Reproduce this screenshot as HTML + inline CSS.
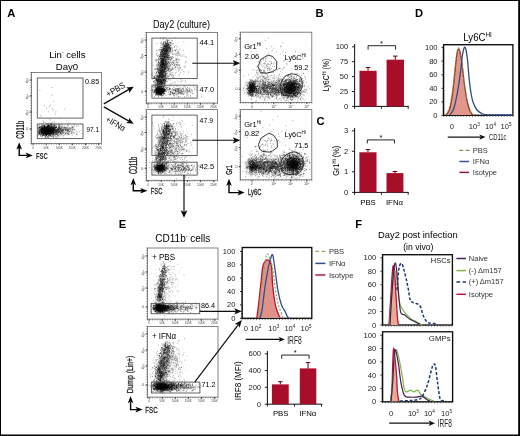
<!DOCTYPE html>
<html><head><meta charset="utf-8"><style>
html,body{margin:0;padding:0;background:#fff;}
svg{display:block;font-family:"Liberation Sans", sans-serif;}
</style></head><body>
<svg width="520" height="436" viewBox="0 0 520 436">
<defs><filter id="sf" x="0" y="0" width="520" height="436" filterUnits="userSpaceOnUse"><feGaussianBlur stdDeviation="0.32"/></filter></defs>
<rect width="520" height="436" fill="#fff"/>
<g filter="url(#sf)">
<text x="7.2" y="16.8" font-size="11.2" font-weight="bold" fill="#000">A</text>
<text x="315.6" y="17.1" font-size="11.2" font-weight="bold" fill="#000">B</text>
<text x="316.4" y="124.9" font-size="11.2" font-weight="bold" fill="#000">C</text>
<text x="415" y="17.1" font-size="11.2" font-weight="bold" fill="#000">D</text>
<text x="118.8" y="227.8" font-size="11.2" font-weight="bold" fill="#000">E</text>
<text x="355.3" y="227.6" font-size="11.2" font-weight="bold" fill="#000">F</text>
<text x="67.3" y="57.8" font-size="9.6" text-anchor="middle">Lin<tspan dy="-3.5" font-size="5">-</tspan><tspan dy="3.5"> cells</tspan></text>
<text x="67.0" y="69.9" font-size="9.6" text-anchor="middle">Day0</text>
<rect x="31.5" y="72.5" width="70.0" height="71.0" fill="none" stroke="#666" stroke-width="0.8"/>
<path d="M29.9 72.5h1.6M29.9 75.0h1.6M29.9 77.6h1.6M29.9 80.1h1.6M29.9 82.6h1.6M29.9 85.2h1.6M29.9 87.7h1.6M29.9 90.2h1.6M29.9 92.8h1.6M29.9 95.3h1.6M29.9 97.9h1.6M29.9 100.4h1.6M29.9 102.9h1.6M29.9 105.5h1.6M29.9 108.0h1.6M29.9 110.5h1.6M29.9 113.1h1.6M29.9 115.6h1.6M29.9 118.1h1.6M29.9 120.7h1.6M29.9 123.2h1.6M29.9 125.8h1.6M29.9 128.3h1.6M29.9 130.8h1.6M29.9 133.4h1.6M29.9 135.9h1.6M29.9 138.4h1.6M29.9 141.0h1.6M29.9 143.5h1.6M31.5 143.5v1.4M34.0 143.5v1.4M36.5 143.5v1.4M39.0 143.5v1.4M41.5 143.5v1.4M44.0 143.5v1.4M46.5 143.5v1.4M49.0 143.5v1.4M51.5 143.5v1.4M54.0 143.5v1.4M56.5 143.5v1.4M59.0 143.5v1.4M61.5 143.5v1.4M64.0 143.5v1.4M66.5 143.5v1.4M69.0 143.5v1.4M71.5 143.5v1.4M74.0 143.5v1.4M76.5 143.5v1.4M79.0 143.5v1.4M81.5 143.5v1.4M84.0 143.5v1.4M86.5 143.5v1.4M89.0 143.5v1.4M91.5 143.5v1.4M94.0 143.5v1.4M96.5 143.5v1.4M99.0 143.5v1.4M101.5 143.5v1.4" stroke="#555" stroke-width="0.5" fill="none"/>
<text x="28.3" y="81.6" font-size="3.4" fill="#333" text-anchor="middle" transform="rotate(-60 28.3 81.6)">10<tspan dy="-1.3" font-size="2.6">5</tspan></text>
<path d="M29.7 80.0h1.8" stroke="#222" stroke-width="0.9" fill="none"/>
<text x="28.3" y="97.6" font-size="3.4" fill="#333" text-anchor="middle" transform="rotate(-60 28.3 97.6)">10<tspan dy="-1.3" font-size="2.6">4</tspan></text>
<path d="M29.7 96.0h1.8" stroke="#222" stroke-width="0.9" fill="none"/>
<text x="28.3" y="113.6" font-size="3.4" fill="#333" text-anchor="middle" transform="rotate(-60 28.3 113.6)">10<tspan dy="-1.3" font-size="2.6">3</tspan></text>
<path d="M29.7 112.0h1.8" stroke="#222" stroke-width="0.9" fill="none"/>
<text x="27.3" y="130.2" font-size="3.6" fill="#333" text-anchor="middle">0</text>
<path d="M29.7 129.0h1.8" stroke="#222" stroke-width="0.9" fill="none"/>
<text x="33.1" y="148.7" font-size="2.9" fill="#444" text-anchor="middle">0</text>
<path d="M33.1 143.5v1.8" stroke="#222" stroke-width="0.8"/>
<text x="46.2" y="148.7" font-size="2.9" fill="#444" text-anchor="middle">50K</text>
<path d="M46.2 143.5v1.8" stroke="#222" stroke-width="0.8"/>
<text x="59.3" y="148.7" font-size="2.9" fill="#444" text-anchor="middle">100K</text>
<path d="M59.3 143.5v1.8" stroke="#222" stroke-width="0.8"/>
<text x="72.4" y="148.7" font-size="2.9" fill="#444" text-anchor="middle">150K</text>
<path d="M72.4 143.5v1.8" stroke="#222" stroke-width="0.8"/>
<text x="85.5" y="148.7" font-size="2.9" fill="#444" text-anchor="middle">200K</text>
<path d="M85.5 143.5v1.8" stroke="#222" stroke-width="0.8"/>
<text x="98.6" y="148.7" font-size="2.9" fill="#444" text-anchor="middle">250K</text>
<path d="M98.6 143.5v1.8" stroke="#222" stroke-width="0.8"/>
<path transform="scale(.1)" d="M514 1343h8M463 1285h8M414 1306h8M417 1268h8M468 1308h8M483 1281h8M460 1303h8M397 1319h8M473 1367h8M469 1301h8M512 1310h8M498 1295h8M469 1332h8M489 1308h8M415 1317h8M463 1324h8M469 1333h8M458 1310h8M488 1277h8M443 1292h8M543 1303h8M487 1321h8M448 1265h8M501 1294h8M490 1271h8M442 1338h8M520 1271h8M404 1304h8M491 1309h8M473 1279h8M485 1334h8M442 1268h8M428 1325h8M387 1303h8M418 1302h8M450 1305h8M523 1316h8M516 1301h8M440 1315h8M467 1273h8M480 1290h8M419 1291h8M454 1338h8M464 1304h8M476 1258h8M512 1277h8M478 1276h8M419 1295h8M540 1323h8M435 1298h8M412 1304h8M436 1324h8M403 1296h8M425 1286h8M490 1308h8M485 1336h8M508 1269h8M483 1259h8M457 1355h8M452 1295h8M467 1305h8M461 1285h8M505 1328h8M451 1313h8M488 1332h8M476 1323h8M449 1277h8M439 1331h8M501 1309h8M436 1313h8M530 1340h8M431 1304h8M399 1275h8M468 1306h8M501 1338h8M495 1339h8M437 1276h8M481 1375h8M475 1275h8M470 1342h8M417 1326h8M434 1338h8M493 1313h8M544 1294h8M431 1353h8M423 1362h8M458 1278h8M460 1308h8M468 1300h8M505 1245h8M437 1298h8M536 1253h8M446 1275h8M432 1322h8M477 1342h8M435 1312h8M509 1328h8M446 1334h8M421 1352h8M466 1302h8M471 1327h8M533 1301h8M445 1320h8M423 1261h8M495 1295h8M507 1278h8M467 1347h8M482 1313h8M485 1295h8M463 1270h8M482 1284h8M441 1323h8M498 1279h8M544 1290h8M495 1330h8M469 1309h8M535 1328h8M479 1258h8M429 1335h8M468 1280h8M433 1297h8M489 1315h8M502 1284h8M501 1292h8M447 1350h8M463 1301h8M451 1295h8M525 1341h8M490 1310h8M504 1303h8M479 1315h8M464 1348h8M534 1339h8M380 1353h8M489 1293h8M459 1335h8M509 1327h8M466 1306h8M495 1303h8M422 1289h8M454 1314h8M555 1269h8M480 1303h8M473 1340h8M512 1301h8M437 1270h8M457 1337h8M449 1323h8M490 1315h8M506 1302h8M425 1275h8M499 1296h8M447 1327h8M427 1351h8M488 1291h8M433 1333h8M410 1288h8M460 1310h8M461 1315h8M445 1302h8M513 1322h8M441 1350h8M488 1330h8M465 1295h8M485 1300h8M480 1231h8M476 1284h8M500 1324h8M491 1294h8M478 1296h8M469 1301h8M423 1356h8M490 1252h8M498 1269h8M450 1290h8M438 1311h8M446 1267h8M460 1314h8M534 1294h8M410 1295h8M487 1282h8M430 1319h8M460 1311h8M434 1284h8M446 1301h8M446 1316h8M483 1319h8M480 1282h8M413 1326h8M461 1308h8M411 1300h8M433 1283h8M434 1266h8M464 1335h8M430 1307h8M414 1322h8M538 1273h8M450 1342h8M475 1308h8M499 1342h8M487 1290h8M431 1258h8M415 1334h8M455 1270h8M515 1262h8M513 1297h8M474 1323h8M471 1338h8M461 1297h8M432 1267h8M431 1331h8M495 1341h8M575 1324h8M481 1271h8M450 1362h8M482 1301h8M473 1256h8M425 1271h8M501 1300h8M475 1279h8M479 1325h8M524 1346h8M480 1302h8M425 1289h8M486 1320h8M461 1348h8M487 1305h8M452 1307h8M420 1280h8M475 1290h8M449 1337h8M452 1339h8M460 1344h8M480 1259h8M512 1300h8M467 1271h8M434 1319h8M519 1335h8M511 1334h8M468 1235h8M492 1328h8M427 1295h8M421 1305h8M458 1305h8M417 1315h8M446 1330h8M473 1266h8M399 1307h8M440 1317h8M494 1306h8M389 1274h8M484 1278h8M507 1303h8M482 1282h8M456 1228h8M451 1320h8M422 1283h8M458 1307h8M426 1323h8M391 1334h8M401 1284h8M516 1279h8M391 1307h8M421 1276h8M431 1286h8M419 1278h8M528 1288h8M501 1268h8M483 1272h8M441 1322h8M438 1254h8M437 1301h8M484 1279h8M447 1307h8M391 1302h8M425 1316h8M455 1301h8M444 1280h8M439 1272h8M467 1322h8M485 1291h8M531 1327h8M420 1301h8M392 1302h8M490 1338h8M442 1258h8M453 1340h8M466 1338h8M495 1346h8M485 1288h8M479 1371h8M438 1257h8M548 1316h8M434 1289h8M395 1323h8M466 1289h8M442 1294h8M505 1300h8M518 1283h8M434 1292h8M437 1303h8M503 1336h8M415 1338h8M464 1346h8M453 1283h8M493 1321h8M441 1306h8M465 1313h8M388 1274h8M462 1312h8M438 1259h8M516 1297h8M416 1346h8M508 1332h8M495 1320h8M419 1306h8M475 1321h8M480 1279h8M435 1296h8M452 1282h8M383 1273h8M473 1305h8M484 1256h8M443 1328h8M390 1336h8M461 1290h8M466 1303h8M498 1335h8M498 1314h8M492 1326h8M509 1257h8M475 1307h8M467 1299h8M457 1318h8M468 1308h8M415 1272h8M429 1259h8M438 1283h8M385 1255h8M440 1290h8M551 1327h8M427 1292h8M418 1285h8M445 1304h8M434 1326h8M487 1356h8M405 1323h8M444 1263h8M447 1262h8M459 1376h8M515 1352h8M510 1265h8M477 1309h8M478 1278h8M510 1313h8M439 1310h8M408 1330h8M467 1301h8M442 1303h8M466 1295h8M500 1310h8M456 1283h8M511 1339h8M489 1257h8M445 1331h8M462 1338h8M442 1326h8M482 1241h8M443 1299h8M434 1282h8M527 1302h8M493 1270h8M477 1286h8M482 1326h8M441 1303h8M429 1333h8M534 1318h8M439 1287h8M448 1328h8M428 1343h8M409 1305h8M515 1351h8M443 1326h8M566 1335h8M560 1275h8M498 1251h8M527 1283h8M494 1329h8M474 1265h8M459 1280h8M516 1292h8M422 1322h8M511 1301h8M472 1318h8M439 1274h8M482 1296h8M403 1327h8M478 1309h8M428 1299h8M486 1318h8M425 1282h8M474 1310h8M496 1275h8M499 1351h8M500 1308h8M498 1272h8M441 1359h8M391 1275h8M495 1288h8M436 1276h8M531 1289h8M448 1258h8M492 1305h8M481 1346h8M466 1274h8M417 1307h8M515 1274h8M450 1301h8M488 1282h8M473 1325h8M458 1302h8M486 1320h8M513 1277h8M512 1299h8M412 1291h8M408 1300h8M503 1247h8M410 1325h8M447 1326h8M404 1304h8M491 1337h8M529 1304h8M423 1295h8M379 1340h8M509 1281h8M537 1270h8M484 1284h8M387 1315h8M411 1336h8M422 1308h8M440 1309h8M433 1326h8M486 1307h8M455 1356h8M431 1294h8M492 1305h8M391 1301h8M444 1279h8M468 1275h8M449 1275h8M526 1298h8M479 1312h8M490 1301h8M492 1308h8M406 1330h8M469 1295h8M411 1295h8M402 1357h8M479 1303h8M419 1296h8M450 1293h8M457 1326h8M386 1311h8M506 1269h8M452 1295h8M412 1330h8M446 1335h8M477 1298h8M472 1295h8M391 1342h8M475 1335h8M384 1332h8M495 1304h8M432 1300h8M462 1281h8M455 1305h8M521 1302h8M559 1274h8M454 1337h8M394 1321h8M477 1289h8M450 1345h8M441 1312h8M478 1336h8M404 1298h8M486 1327h8M448 1344h8M457 1323h8M428 1327h8M430 1335h8M496 1354h8M442 1275h8M495 1313h8M438 1270h8M494 1254h8M440 1333h8M449 1317h8M481 1320h8M504 1322h8M444 1273h8M448 1288h8M477 1337h8M493 1287h8M468 1305h8M440 1339h8M486 1314h8M409 1237h8M429 1335h8M451 1304h8M449 1317h8M460 1350h8M455 1298h8M520 1325h8M489 1319h8M458 1313h8M483 1308h8M381 1341h8M440 1290h8M446 1286h8M423 1303h8M497 1297h8M480 1270h8M492 1275h8M489 1286h8M435 1272h8M407 1299h8M419 1299h8M508 1283h8M447 1302h8M434 1304h8M470 1332h8M429 1299h8M453 1337h8M418 1309h8M492 1320h8M430 1278h8M382 1291h8M449 1266h8M495 1309h8M450 1291h8M480 1298h8M481 1293h8M504 1263h8M415 1352h8M504 1348h8M427 1324h8M502 1329h8M452 1343h8M477 1271h8M563 1308h8M513 1287h8M421 1328h8M495 1286h8M470 1270h8M412 1324h8M505 1315h8M524 1314h8M472 1305h8M478 1314h8M421 1304h8M444 1379h8M512 1284h8M485 1259h8M462 1352h8M463 1338h8M445 1317h8M476 1248h8M426 1354h8M425 1336h8M532 1304h8M502 1315h8M435 1320h8M478 1279h8M441 1270h8M446 1304h8M419 1256h8M488 1338h8M422 1307h8M432 1236h8M549 1313h8M401 1338h8M490 1342h8M491 1319h8M520 1298h8M470 1277h8M412 1310h8M470 1264h8M476 1331h8M407 1296h8M532 1283h8M484 1325h8M468 1309h8M484 1312h8M466 1267h8M470 1285h8M523 1363h8M507 1249h8M502 1308h8M414 1273h8M505 1288h8M457 1307h8M500 1235h8M512 1284h8M443 1321h8M475 1245h8M485 1301h8M417 1289h8M393 1325h8M522 1289h8M440 1267h8M430 1278h8M461 1350h8M504 1330h8M419 1327h8M430 1282h8M491 1302h8M564 1310h8M447 1324h8M411 1323h8M526 1301h8M438 1334h8M413 1315h8M438 1313h8M427 1321h8M484 1351h8M445 1316h8M386 1285h8M471 1269h8M455 1282h8M480 1321h8M440 1322h8M437 1308h8M482 1319h8M485 1349h8M433 1301h8M383 1328h8M413 1290h8M438 1316h8M448 1298h8M463 1296h8M459 1279h8M437 1273h8M496 1328h8M488 1314h8M435 1319h8M395 1240h8M410 1344h8M470 1345h8M430 1331h8M527 1331h8M472 1333h8M441 1351h8M412 1285h8M461 1285h8M534 1322h8M429 1349h8M517 1295h8M526 1336h8M439 1290h8M473 1335h8M526 1344h8M440 1259h8M389 1344h8M504 1336h8M460 1307h8M480 1317h8M463 1280h8M402 1309h8M453 1342h8M415 1253h8M530 1296h8M431 1315h8M525 1333h8M497 1329h8M448 1307h8M477 1352h8M476 1299h8M455 1298h8M420 1318h8M514 1296h8M478 1334h8M432 1303h8M405 1346h8M532 1300h8M544 1327h8M383 1318h8M471 1318h8M489 1293h8M508 1313h8M540 1302h8M483 1257h8M434 1284h8M499 1289h8M509 1292h8M500 1289h8M410 1320h8M450 1318h8M391 1278h8M445 1356h8M477 1261h8M474 1272h8M501 1327h8M550 1310h8M439 1326h8M403 1293h8M418 1290h8M406 1267h8M413 1315h8M461 1303h8M480 1325h8M480 1359h8M472 1315h8M439 1333h8M520 1228h8M494 1276h8M475 1307h8M407 1270h8M449 1373h8M408 1294h8M448 1298h8M507 1359h8M458 1316h8M446 1346h8M458 1323h8M452 1334h8M457 1283h8M540 1254h8M467 1296h8M422 1359h8M474 1294h8M423 1314h8M460 1299h8M432 1345h8M469 1300h8M407 1285h8M491 1285h8M487 1302h8M477 1314h8M442 1298h8M457 1322h8M561 1328h8M405 1363h8M455 1287h8M465 1304h8M471 1304h8M459 1338h8M531 1308h8M527 1329h8M510 1312h8M469 1326h8M420 1306h8M412 1329h8M469 1320h8M446 1285h8M500 1294h8M451 1306h8M480 1307h8M416 1278h8M503 1297h8M450 1282h8M499 1317h8M437 1260h8M536 1290h8M411 1292h8M412 1305h8M437 1274h8M489 1283h8M382 1314h8M437 1277h8M390 1287h8M435 1292h8M439 1338h8M505 1313h8M484 1293h8M399 1319h8M518 1287h8M431 1287h8M404 1319h8M414 1341h8M530 1307h8M458 1283h8M498 1307h8M397 1281h8M480 1292h8M478 1311h8M520 1302h8M505 1334h8M516 1296h8M472 1371h8M452 1289h8M465 1274h8M424 1294h8M448 1331h8M414 1300h8M471 1297h8M491 1363h8M415 1282h8M438 1291h8M437 1316h8M533 1369h8M457 1252h8M526 1305h8M443 1334h8M455 1299h8M423 1329h8M495 1283h8M436 1337h8M430 1294h8M428 1299h8M496 1307h8M502 1321h8M459 1262h8M493 1304h8M439 1318h8M500 1324h8M438 1304h8M563 1271h8M463 1306h8M523 1321h8M469 1297h8M512 1307h8M456 1309h8M489 1306h8M471 1326h8M430 1299h8M463 1323h8M484 1292h8M417 1295h8M439 1328h8M487 1307h8M415 1271h8M465 1321h8M476 1298h8M484 1254h8M508 1344h8M467 1311h8M451 1328h8M422 1290h8M477 1268h8M481 1317h8M459 1292h8M533 1291h8M466 1326h8M459 1332h8M460 1312h8M460 1322h8M433 1328h8M503 1278h8M397 1271h8M427 1323h8M463 1354h8M526 1265h8M444 1297h8M527 1325h8M499 1284h8M545 1276h8M461 1280h8M422 1312h8M422 1323h8M482 1306h8M487 1334h8M506 1275h8M487 1328h8M444 1295h8M511 1322h8M466 1342h8M499 1350h8M444 1331h8M530 1280h8M454 1296h8M480 1335h8M527 1301h8M474 1328h8M509 1298h8M517 1268h8M472 1269h8M441 1284h8M534 1348h8M493 1309h8M468 1324h8M482 1286h8M427 1319h8M555 1324h8M458 1302h8M479 1313h8M400 1345h8M479 1319h8M441 1334h8M503 1286h8M503 1286h8M383 1327h8M418 1291h8M421 1303h8M445 1309h8M480 1347h8M479 1318h8M481 1326h8M498 1312h8M411 1280h8M472 1297h8M443 1291h8M430 1333h8M493 1272h8M468 1305h8M441 1332h8M473 1307h8M424 1330h8M470 1312h8M431 1344h8M390 1271h8M417 1292h8M446 1310h8M517 1320h8M465 1301h8M476 1326h8M429 1350h8M459 1327h8M444 1340h8M503 1313h8M486 1297h8M422 1335h8M410 1291h8M411 1280h8M443 1327h8M419 1324h8M382 1283h8M424 1322h8M515 1245h8M463 1347h8M461 1348h8M509 1312h8M401 1288h8M525 1282h8M415 1293h8M513 1308h8M396 1289h8M488 1335h8M524 1318h8M480 1280h8M436 1270h8M454 1316h8M462 1281h8M484 1329h8M512 1249h8M483 1332h8M491 1306h8M470 1299h8M432 1279h8M593 1299h8M483 1319h8M498 1304h8M499 1357h8M433 1290h8M418 1296h8M409 1314h8M488 1336h8M514 1295h8M468 1284h8M463 1307h8M481 1303h8M415 1331h8M454 1269h8M388 1323h8M385 1322h8M523 1319h8M494 1320h8M435 1311h8M382 1321h8M487 1309h8M505 1301h8M389 1342h8M464 1289h8M438 1296h8M469 1272h8M465 1296h8M487 1297h8M487 1282h8M475 1297h8M505 1315h8M503 1293h8M435 1304h8M417 1298h8M513 1277h8M436 1307h8M528 1360h8M437 1293h8M471 1288h8M476 1312h8M483 1310h8M434 1321h8M459 1309h8M415 1307h8M458 1283h8M428 1294h8M460 1289h8M414 1307h8M410 1313h8M424 1300h8M506 1248h8M404 1292h8M454 1282h8M421 1289h8M418 1308h8M431 1301h8M462 1322h8M434 1294h8M477 1250h8M462 1282h8M496 1297h8M424 1332h8M437 1282h8M479 1255h8M453 1323h8M408 1329h8M447 1291h8M391 1341h8M515 1296h8M475 1256h8M463 1314h8M428 1288h8M451 1284h8M390 1324h8M496 1320h8M490 1331h8M447 1229h8M461 1290h8M412 1318h8M418 1274h8M559 1295h8M466 1320h8M484 1302h8M481 1302h8M441 1298h8M485 1322h8M478 1266h8M451 1318h8M444 1317h8M465 1335h8M504 1322h8M439 1299h8M445 1316h8M491 1290h8M504 1317h8M454 1288h8M464 1304h8M456 1298h8M472 1290h8M483 1259h8M463 1293h8M444 1312h8M434 1223h8M400 1300h8M448 1292h8M433 1322h8M460 1278h8M424 1329h8M464 1314h8M461 1310h8M438 1280h8M420 1282h8M533 1321h8M462 1302h8M393 1324h8M388 1331h8M439 1269h8M521 1280h8M449 1301h8M398 1316h8M405 1300h8M413 1345h8M462 1342h8M438 1311h8M482 1307h8M449 1334h8M475 1307h8M494 1235h8M417 1317h8M445 1298h8M399 1296h8M517 1292h8M419 1298h8M503 1288h8M392 1311h8M446 1309h8M389 1277h8M447 1314h8M532 1340h8M507 1329h8M503 1321h8M486 1295h8M440 1338h8M412 1290h8M451 1310h8M432 1293h8M427 1286h8M411 1367h8M409 1309h8M457 1321h8M447 1277h8M437 1297h8M399 1303h8M464 1267h8M405 1325h8M421 1288h8M435 1289h8M482 1311h8M547 1296h8M475 1287h8M499 1266h8M426 1299h8M575 1362h8M542 1305h8M396 1319h8M504 1288h8M541 1355h8M390 1295h8M449 1298h8M454 1306h8M449 1371h8M440 1274h8M509 1331h8M413 1282h8M424 1250h8M405 1317h8M405 1299h8M448 1290h8M480 1309h8M512 1314h8M435 1348h8M473 1318h8M472 1297h8M421 1337h8M429 1297h8M497 1331h8M461 1356h8M451 1365h8M517 1310h8M450 1334h8M390 1323h8M488 1346h8M518 1313h8M480 1280h8M483 1285h8M403 1350h8M534 1302h8M473 1367h8M404 1344h8M447 1321h8M457 1345h8M511 1301h8M510 1330h8M519 1278h8M496 1305h8M471 1265h8M550 1304h8M479 1267h8M452 1310h8M465 1276h8M475 1295h8M498 1276h8M509 1278h8M413 1317h8M486 1316h8M437 1298h8M422 1334h8M386 1274h8M411 1318h8M398 1326h8M389 1260h8M474 1316h8M445 1340h8M442 1292h8M452 1340h8M453 1354h8M518 1333h8M498 1339h8M480 1244h8M468 1302h8M411 1257h8M466 1277h8M460 1284h8M474 1280h8M470 1304h8M441 1298h8M471 1236h8M380 1308h8M461 1311h8M474 1280h8M514 1325h8M474 1299h8M430 1290h8M476 1308h8M494 1311h8M441 1335h8M401 1270h8M476 1292h8M400 1267h8M460 1340h8M519 1302h8M449 1284h8M539 1303h8M444 1325h8M508 1306h8M512 1272h8M479 1320h8M477 1322h8M467 1320h8M496 1276h8M423 1357h8M463 1312h8M476 1350h8M449 1284h8M471 1341h8M386 1302h8M443 1309h8M488 1313h8M394 1299h8M454 1304h8M504 1297h8M433 1301h8M461 1323h8M388 1270h8M457 1329h8M458 1311h8M533 1308h8M472 1304h8M501 1318h8M449 1323h8M479 1293h8M491 1358h8M414 1277h8M455 1300h8M470 1304h8M467 1334h8M514 1251h8M483 1306h8M483 1306h8M475 1299h8M433 1301h8M494 1306h8M457 1337h8M496 1282h8M427 1301h8M480 1332h8M389 1340h8M462 1311h8M495 1312h8M468 1331h8M509 1276h8M394 1278h8M471 1298h8M452 1292h8M425 1319h8M458 1313h8M483 1343h8M549 1290h8M514 1310h8M479 1334h8M436 1302h8M501 1321h8M536 1321h8M466 1302h8M485 1258h8M514 1314h8M434 1308h8M547 1272h8M565 1244h8M592 1297h8M533 1298h8M490 1332h8M472 1303h8M547 1271h8M551 1280h8M564 1296h8M585 1303h8M470 1332h8M580 1331h8M447 1275h8M566 1318h8M505 1300h8M529 1245h8M460 1271h8M572 1294h8M416 1301h8M502 1285h8M448 1280h8M535 1293h8M558 1342h8M503 1261h8M471 1307h8M557 1300h8M517 1311h8M580 1325h8M502 1288h8M518 1288h8M471 1334h8M529 1275h8M540 1275h8M471 1260h8M461 1291h8M532 1302h8M534 1306h8M497 1337h8M464 1276h8M621 1311h8M530 1378h8M465 1350h8M517 1299h8M470 1303h8M556 1304h8M496 1316h8M582 1306h8M498 1294h8M539 1288h8M589 1289h8M573 1300h8M556 1273h8M509 1277h8M480 1303h8M461 1360h8M603 1330h8M520 1288h8M434 1327h8M461 1303h8M489 1305h8M603 1302h8M510 1330h8M493 1250h8M481 1298h8M480 1332h8M579 1276h8M522 1311h8M499 1287h8M541 1293h8M610 1304h8M520 1310h8M530 1293h8M548 1328h8M530 1316h8M451 1293h8M524 1296h8M574 1315h8M518 1286h8M500 1297h8M602 1271h8M566 1294h8M600 1331h8M477 1314h8M449 1324h8M513 1275h8M517 1321h8M641 1328h8M538 1303h8M408 1263h8M402 1271h8M569 1340h8M533 1293h8M554 1370h8M527 1344h8M587 1282h8M526 1282h8M536 1293h8M473 1324h8M516 1298h8M563 1317h8M581 1356h8M457 1318h8M431 1330h8M616 1278h8M580 1324h8M539 1243h8M467 1294h8M523 1308h8M560 1308h8M511 1277h8M482 1299h8M631 1294h8M516 1332h8M560 1322h8M524 1350h8M491 1344h8M597 1312h8M493 1287h8M533 1250h8M584 1281h8M458 1319h8M523 1281h8M585 1272h8M491 1261h8M607 1321h8M448 1319h8M489 1281h8M511 1250h8M529 1305h8M594 1280h8M450 1278h8M491 1328h8M631 1321h8M541 1273h8M449 1271h8M553 1336h8M509 1269h8M558 1302h8M483 1261h8M428 1347h8M496 1313h8M544 1330h8M631 1300h8M580 1281h8M448 1304h8M422 1262h8M481 1322h8M508 1255h8M518 1289h8M494 1289h8M514 1326h8M545 1306h8M478 1261h8M615 1347h8M435 1315h8M540 1308h8M529 1293h8M591 1315h8M570 1313h8M530 1292h8M580 1254h8M588 1299h8M533 1290h8M429 1279h8M540 1292h8M544 1280h8M431 1301h8M498 1283h8M591 1254h8M526 1297h8M585 1308h8M537 1312h8M531 1299h8M512 1328h8M630 1277h8M532 1275h8M615 1353h8M532 1345h8M531 1272h8M609 1261h8M468 1338h8M564 1322h8M501 1285h8M461 1339h8M547 1366h8M542 1320h8M493 1292h8M545 1283h8M572 1335h8M457 1322h8M533 1311h8M503 1337h8M531 1323h8M539 1287h8M462 1351h8M606 1304h8M574 1342h8M596 1332h8M514 1324h8M495 1312h8M474 1260h8M475 1262h8M541 1324h8M543 1284h8M519 1269h8M541 1321h8M615 1277h8M513 1302h8M637 1312h8M543 1264h8M513 1366h8M588 1324h8M502 1280h8M532 1288h8M633 1290h8M496 1326h8M533 1280h8M455 1282h8M599 1289h8M512 1331h8M600 1328h8M540 1289h8M475 1310h8M518 1312h8M418 1267h8M560 1346h8M529 1271h8M550 1281h8M506 1298h8M558 1335h8M551 1278h8M573 1292h8M446 1331h8M614 1276h8M501 1289h8M497 1338h8M561 1310h8M529 1284h8M495 1286h8M550 1324h8M503 1325h8M478 1363h8M468 1290h8M516 1328h8M534 1281h8M549 1327h8M465 1246h8M549 1277h8M571 1356h8M584 1314h8M563 1301h8M478 1302h8M499 1312h8M463 1276h8M525 1308h8M523 1331h8M448 1323h8M507 1304h8M574 1309h8M565 1349h8M518 1254h8M495 1292h8M531 1283h8M527 1312h8M424 1349h8M490 1267h8M481 1326h8M676 1249h8M487 1337h8M486 1307h8M498 1304h8M535 1278h8M471 1265h8M531 1373h8M577 1302h8M584 1323h8M505 1287h8M527 1283h8M519 1317h8M458 1273h8M505 1283h8M515 1314h8M537 1324h8M524 1313h8M514 1307h8M516 1305h8M503 1314h8M561 1342h8M598 1326h8M490 1269h8M441 1296h8M529 1333h8M525 1305h8M460 1325h8M613 1293h8M625 1326h8M479 1323h8M532 1315h8M460 1315h8M564 1272h8M544 1340h8M536 1286h8M510 1326h8M548 1302h8M488 1285h8M511 1272h8M539 1359h8M510 1304h8M526 1322h8M507 1320h8M478 1275h8M491 1319h8M488 1285h8M531 1249h8M498 1240h8M489 1357h8M438 1336h8M490 1290h8M501 1359h8M491 1307h8M496 1298h8M556 1313h8M525 1286h8M529 1299h8M518 1307h8M494 1269h8M540 1255h8M564 1289h8M474 1334h8M487 1307h8M475 1316h8M536 1298h8M509 1262h8M576 1286h8M513 1291h8M531 1298h8M501 1296h8M530 1347h8M463 1333h8M524 1317h8M486 1332h8M557 1253h8M434 1351h8M491 1298h8M445 1304h8M522 1291h8M583 1299h8M561 1306h8M528 1297h8M491 1344h8M575 1337h8M487 1293h8M527 1295h8M550 1350h8M492 1293h8M444 1339h8M528 1314h8M486 1305h8M505 1286h8M546 1341h8M581 1296h8M671 1287h8M521 1268h8M506 1313h8M489 1302h8M471 1293h8M459 1292h8M413 1281h8M496 1300h8M581 1274h8M483 1327h8M474 1294h8M434 1218h8M626 1325h8M619 1302h8M448 1314h8M473 1311h8M539 1321h8M480 1308h8M538 1342h8M501 1357h8M551 1316h8M489 1314h8M550 1277h8M551 1312h8M506 1282h8M509 1323h8M604 1309h8M503 1324h8M567 1325h8M511 1237h8M529 1303h8M462 1306h8M470 1296h8M580 1288h8M402 1333h8M514 1305h8M430 1253h8M501 1290h8M527 1299h8M535 1293h8M537 1290h8M543 1322h8M443 1304h8M501 1304h8M610 1288h8M511 1311h8M412 1344h8M549 1300h8M565 1378h8M479 1342h8M604 1282h8M543 1269h8M533 1286h8M549 1294h8M581 1339h8M604 1302h8M505 1297h8M489 1302h8M470 1298h8M560 1332h8M540 1262h8M595 1356h8M563 1294h8M552 1302h8M442 1336h8M563 1319h8M554 1306h8M461 1347h8M504 1296h8M544 1260h8M509 1321h8M509 1239h8M529 1330h8M455 1369h8M529 1307h8M543 1333h8M533 1303h8M538 1272h8M619 1259h8M512 1284h8M527 1303h8M571 1303h8M507 1363h8M471 1305h8M502 1332h8M521 1339h8M484 1314h8M549 1306h8M535 1262h8M640 1296h8M722 1277h8M522 1359h8M725 1298h8M496 1283h8M628 1315h8M669 1336h8M648 1298h8M691 1347h8M633 1293h8M657 1308h8M609 1306h8M680 1345h8M671 1315h8M590 1260h8M598 1317h8M559 1315h8M563 1310h8M450 1315h8M653 1304h8M651 1276h8M615 1292h8M614 1303h8M620 1283h8M584 1254h8M595 1234h8M630 1357h8M582 1291h8M615 1315h8M654 1289h8M592 1315h8M635 1269h8M640 1351h8M506 1292h8M593 1274h8M531 1349h8M622 1315h8M668 1270h8M684 1286h8M674 1303h8M692 1319h8M609 1331h8M574 1321h8M529 1299h8M725 1328h8M554 1340h8M593 1315h8M590 1321h8M580 1342h8M593 1287h8M587 1266h8M651 1334h8M693 1317h8M602 1340h8M697 1286h8M537 1290h8M611 1334h8M676 1314h8M680 1296h8M605 1243h8M581 1297h8M681 1301h8M591 1307h8M591 1250h8M572 1299h8M599 1286h8M585 1320h8M524 1296h8M576 1297h8M614 1323h8M456 1298h8M544 1257h8M621 1306h8M568 1297h8M562 1342h8M712 1335h8M541 1323h8M631 1306h8M602 1296h8M576 1285h8M564 1369h8M644 1285h8M572 1318h8M718 1350h8M555 1267h8M574 1312h8M579 1288h8M734 1268h8M651 1299h8M576 1356h8M535 1311h8M601 1284h8M586 1306h8M765 1317h8M595 1265h8M624 1325h8M778 1260h8M525 1253h8M519 1336h8M604 1283h8M619 1301h8M602 1335h8M662 1293h8M684 1331h8M595 1291h8M588 1277h8M485 1335h8M692 1236h8M592 1277h8M587 1314h8M675 1317h8M653 1334h8M627 1335h8M664 1284h8M655 1292h8M672 1336h8M528 1320h8M554 1289h8M583 1318h8M650 1302h8M487 1317h8M679 1230h8M575 1287h8M625 1295h8M671 1292h8M557 1249h8M500 1297h8M648 1275h8M648 1292h8M662 1340h8M638 1277h8M672 1309h8M614 1314h8M651 1336h8M532 1337h8M625 1340h8M604 1326h8M668 1340h8M592 1344h8M581 1270h8M562 1267h8M695 1331h8M501 1297h8M626 1309h8M579 1284h8M661 1301h8M557 1311h8M571 1296h8M657 1297h8M762 1264h8M552 1347h8M623 1298h8M668 1298h8M553 1346h8M617 1309h8M621 1302h8M560 1275h8M512 1328h8M615 1297h8M523 1266h8M586 1312h8M600 1301h8M557 1325h8M627 1339h8M642 1275h8M572 1298h8M678 1305h8M610 1343h8M663 1321h8M506 1298h8M789 1317h8M761 1346h8M742 1251h8M725 1295h8M675 1326h8M681 1332h8M729 1288h8M677 1346h8M702 1309h8M709 1279h8M697 1295h8M643 1282h8M674 1308h8M716 1270h8M686 1302h8M678 1258h8M744 1300h8M697 1288h8M724 1290h8M712 1328h8M766 1341h8M670 1299h8M659 1273h8M655 1290h8M692 1276h8M706 1313h8M690 1279h8M741 1294h8M719 1274h8M732 1321h8M668 1273h8M694 1315h8M740 1328h8M673 1251h8M674 1301h8M727 1266h8M708 1291h8M728 1278h8M703 1291h8M720 1300h8M401 1156h8M489 1063h8M508 1233h8M441 1058h8M481 1118h8M550 1139h8M521 1088h8M527 1102h8M531 1013h8M644 1092h8M516 951h8M498 1051h8M461 1082h8M414 1173h8M395 904h8M514 875h8M556 1118h8" stroke="#000" stroke-width="8" stroke-opacity="0.5" fill="none"/>
<path transform="scale(.1)" d="M530 1278h8M565 1231h8M772 1325h8M390 1296h8M461 1238h8M596 1177h8M437 1290h8M463 1270h8M617 1274h8M581 1325h8M455 1254h8M608 1295h8M620 1365h8M429 1267h8M537 1218h8M423 1211h8M477 1274h8M633 1374h8M488 1264h8M523 1285h8M495 1328h8M593 1247h8M616 1333h8M463 1247h8M506 1245h8M426 1246h8M647 1329h8M526 1306h8M459 1246h8M556 1289h8M396 1321h8M596 1328h8M728 1260h8M489 1288h8M508 1227h8M477 1256h8M578 1261h8M510 1269h8M475 1313h8M463 1290h8M600 1264h8M589 1251h8M526 1214h8M580 1317h8M498 1206h8M475 1271h8M602 1178h8M522 1275h8M381 1297h8M579 1233h8M414 1232h8M463 1290h8M552 1253h8M545 1227h8M491 1200h8M613 1219h8M429 1337h8M578 1228h8M574 1380h8M524 1232h8M452 1339h8M458 1237h8M702 1203h8M434 1202h8M444 1251h8M537 1211h8M554 1245h8M614 1247h8M500 1193h8M665 1203h8M477 1262h8M503 1296h8M550 1300h8M675 1320h8M535 1237h8M461 1207h8M413 1350h8M509 1266h8M548 1239h8M527 1266h8M553 1230h8M485 1316h8M543 1233h8M530 1246h8M419 1267h8M519 1295h8M537 1286h8M446 1284h8M495 1253h8M513 1372h8M454 1259h8M506 1263h8M485 1291h8M424 1294h8M581 1246h8M662 1210h8M536 1275h8M525 1239h8M386 1283h8M562 1275h8M557 1282h8M519 1269h8M446 1262h8M497 1246h8M496 1222h8M532 1266h8M416 1264h8M633 1235h8M516 1230h8M469 1299h8M688 1298h8M725 1337h8M805 1235h8M552 1256h8M605 1332h8M665 1278h8M638 1265h8M723 1309h8M653 1237h8M615 1249h8M619 1322h8M600 1322h8M593 1365h8M648 1281h8M714 1330h8M590 1259h8M578 1320h8M614 1282h8M682 1270h8M687 1314h8M613 1268h8M741 1241h8M673 1361h8M623 1259h8M703 1299h8M597 1317h8M648 1348h8M709 1268h8M708 1313h8M645 1262h8M711 1308h8M599 1294h8M679 1333h8M772 1347h8M626 1335h8M584 1295h8M696 1290h8M619 1301h8M761 1320h8M602 1350h8M641 1301h8M674 1304h8M597 1284h8M645 1329h8M533 1329h8M761 1259h8M659 1282h8M570 1347h8M693 1354h8M760 1341h8M657 1327h8M693 1296h8M707 1283h8M653 1319h8M724 1312h8M603 1310h8M807 1303h8M714 1259h8M686 1315h8M617 1302h8M650 1324h8M673 1248h8M705 1382h8M561 1262h8M623 1266h8M587 1307h8M812 1335h8M647 1310h8M715 1321h8M642 1260h8M586 1367h8M710 1312h8M719 1274h8M632 1303h8M567 1268h8M678 1285h8M544 1272h8M684 1290h8M754 1360h8M606 1325h8M655 1276h8M714 1336h8M539 1245h8M741 1330h8M726 1333h8M615 1271h8M603 1322h8M720 1239h8M550 1317h8M591 1315h8M591 1267h8M583 1311h8M701 1276h8M633 1286h8M681 1299h8M668 1279h8M656 1297h8M651 1309h8M574 1323h8M748 1305h8" stroke="#000" stroke-width="8" stroke-opacity="0.25" fill="none"/>
<rect x="37.3" y="78" width="45.7" height="40.1" fill="none" stroke="#555" stroke-width="0.9"/>
<rect x="37.3" y="124" width="45.7" height="14.6" fill="none" stroke="#555" stroke-width="0.9"/>
<text x="85" y="84.2" font-size="7.6" textLength="14.2" lengthAdjust="spacingAndGlyphs">0.85</text>
<text x="86.4" y="132.3" font-size="7.6" textLength="12.6" lengthAdjust="spacingAndGlyphs">97.1</text>
<text x="23.7" y="129.8" font-size="10" text-anchor="middle" font-weight="bold" textLength="18" lengthAdjust="spacingAndGlyphs" fill="#222" transform="rotate(-90 23.7 129.8)">CD11b</text>
<path d="M19.2 147.7V155.4H27.4" stroke="#000" stroke-width="1.4" fill="none"/>
<path d="M19.2 142.3l-2.8 7.2l2.8 -1.8l2.8 1.8z M32.8 155.4l-7.2 -2.8l1.8 2.8l-1.8 2.8z" fill="#000"/>
<text x="35.9" y="158.8" font-size="9.6" font-weight="bold" textLength="11.9" lengthAdjust="spacingAndGlyphs" fill="#222">FSC</text>
<line x1="103.8" y1="103.9" x2="129.45261957784834" y2="89.14330913916416" stroke="#111" stroke-width="1.3"/>
<path d="M133.7 86.7L129.2 92.9L129.0 89.4L126.1 87.5Z" fill="#111"/>
<line x1="103.8" y1="106.9" x2="129.43424209027134" y2="121.38891944232728" stroke="#111" stroke-width="1.3"/>
<path d="M133.7 123.8L126.1 123.1L129.0 121.1L129.1 117.7Z" fill="#111"/>
<text x="117.0" y="92.0" font-size="8.6" text-anchor="middle" textLength="20.5" lengthAdjust="spacingAndGlyphs" transform="rotate(-30 117.0 92.0)">+PBS</text>
<text x="114.2" y="126.3" font-size="8.6" text-anchor="middle" textLength="21" lengthAdjust="spacingAndGlyphs" transform="rotate(30 114.2 126.3)">+IFNα</text>
<text x="181.5" y="27.9" font-size="10" text-anchor="middle" textLength="57" lengthAdjust="spacingAndGlyphs">Day2 (culture)</text>
<rect x="146.5" y="32.5" width="70.9" height="70.5" fill="none" stroke="#666" stroke-width="0.8"/>
<path d="M144.9 32.5h1.6M144.9 35.0h1.6M144.9 37.5h1.6M144.9 40.1h1.6M144.9 42.6h1.6M144.9 45.1h1.6M144.9 47.6h1.6M144.9 50.1h1.6M144.9 52.6h1.6M144.9 55.2h1.6M144.9 57.7h1.6M144.9 60.2h1.6M144.9 62.7h1.6M144.9 65.2h1.6M144.9 67.8h1.6M144.9 70.3h1.6M144.9 72.8h1.6M144.9 75.3h1.6M144.9 77.8h1.6M144.9 80.3h1.6M144.9 82.9h1.6M144.9 85.4h1.6M144.9 87.9h1.6M144.9 90.4h1.6M144.9 92.9h1.6M144.9 95.4h1.6M144.9 98.0h1.6M144.9 100.5h1.6M144.9 103.0h1.6M146.5 103.0v1.4M149.0 103.0v1.4M151.6 103.0v1.4M154.1 103.0v1.4M156.6 103.0v1.4M159.2 103.0v1.4M161.7 103.0v1.4M164.2 103.0v1.4M166.8 103.0v1.4M169.3 103.0v1.4M171.8 103.0v1.4M174.4 103.0v1.4M176.9 103.0v1.4M179.4 103.0v1.4M181.9 103.0v1.4M184.5 103.0v1.4M187.0 103.0v1.4M189.5 103.0v1.4M192.1 103.0v1.4M194.6 103.0v1.4M197.1 103.0v1.4M199.7 103.0v1.4M202.2 103.0v1.4M204.7 103.0v1.4M207.3 103.0v1.4M209.8 103.0v1.4M212.3 103.0v1.4M214.9 103.0v1.4M217.4 103.0v1.4" stroke="#555" stroke-width="0.5" fill="none"/>
<text x="143.3" y="41.6" font-size="3.4" fill="#333" text-anchor="middle" transform="rotate(-60 143.3 41.6)">10<tspan dy="-1.3" font-size="2.6">5</tspan></text>
<path d="M144.7 40.0h1.8" stroke="#222" stroke-width="0.9" fill="none"/>
<text x="143.3" y="57.1" font-size="3.4" fill="#333" text-anchor="middle" transform="rotate(-60 143.3 57.1)">10<tspan dy="-1.3" font-size="2.6">4</tspan></text>
<path d="M144.7 55.5h1.8" stroke="#222" stroke-width="0.9" fill="none"/>
<text x="143.3" y="73.6" font-size="3.4" fill="#333" text-anchor="middle" transform="rotate(-60 143.3 73.6)">10<tspan dy="-1.3" font-size="2.6">3</tspan></text>
<path d="M144.7 72.0h1.8" stroke="#222" stroke-width="0.9" fill="none"/>
<text x="142.3" y="92.5" font-size="3.6" fill="#333" text-anchor="middle">0</text>
<path d="M144.7 91.3h1.8" stroke="#222" stroke-width="0.9" fill="none"/>
<text x="148.1" y="108.2" font-size="2.9" fill="#444" text-anchor="middle">0</text>
<path d="M148.1 103.0v1.8" stroke="#222" stroke-width="0.8"/>
<text x="161.2" y="108.2" font-size="2.9" fill="#444" text-anchor="middle">50K</text>
<path d="M161.2 103.0v1.8" stroke="#222" stroke-width="0.8"/>
<text x="174.3" y="108.2" font-size="2.9" fill="#444" text-anchor="middle">100K</text>
<path d="M174.3 103.0v1.8" stroke="#222" stroke-width="0.8"/>
<text x="187.4" y="108.2" font-size="2.9" fill="#444" text-anchor="middle">150K</text>
<path d="M187.4 103.0v1.8" stroke="#222" stroke-width="0.8"/>
<text x="200.5" y="108.2" font-size="2.9" fill="#444" text-anchor="middle">200K</text>
<path d="M200.5 103.0v1.8" stroke="#222" stroke-width="0.8"/>
<text x="213.6" y="108.2" font-size="2.9" fill="#444" text-anchor="middle">250K</text>
<path d="M213.6 103.0v1.8" stroke="#222" stroke-width="0.8"/>
<path transform="scale(.1)" d="M1649 897h8M1602 913h8M1613 882h8M1583 895h8M1567 893h8M1581 904h8M1571 918h8M1580 846h8M1622 902h8M1575 915h8M1599 911h8M1572 914h8M1556 939h8M1563 906h8M1593 914h8M1587 920h8M1506 905h8M1586 899h8M1627 888h8M1588 867h8M1596 875h8M1552 955h8M1607 907h8M1594 878h8M1564 916h8M1539 913h8M1548 910h8M1563 943h8M1615 897h8M1544 891h8M1588 887h8M1597 927h8M1588 899h8M1609 901h8M1611 901h8M1629 902h8M1564 909h8M1574 888h8M1587 923h8M1537 907h8M1586 904h8M1610 881h8M1606 903h8M1593 903h8M1582 897h8M1600 950h8M1616 925h8M1604 898h8M1605 950h8M1559 925h8M1615 914h8M1610 936h8M1645 935h8M1631 915h8M1611 912h8M1598 899h8M1608 938h8M1588 914h8M1607 909h8M1614 914h8M1563 888h8M1609 922h8M1619 914h8M1597 877h8M1626 891h8M1617 886h8M1576 912h8M1582 895h8M1614 923h8M1602 903h8M1572 900h8M1580 909h8M1611 906h8M1573 897h8M1623 913h8M1598 915h8M1607 912h8M1621 926h8M1524 907h8M1664 884h8M1596 932h8M1593 937h8M1562 885h8M1588 895h8M1567 921h8M1599 910h8M1583 915h8M1590 895h8M1605 917h8M1595 924h8M1566 907h8M1580 937h8M1605 952h8M1631 903h8M1567 920h8M1586 907h8M1568 922h8M1597 918h8M1600 892h8M1539 905h8M1578 899h8M1616 908h8M1629 914h8M1610 920h8M1612 885h8M1619 912h8M1570 922h8M1601 936h8M1611 917h8M1554 944h8M1629 926h8M1604 934h8M1572 924h8M1594 890h8M1602 917h8M1634 929h8M1555 871h8M1591 906h8M1571 881h8M1588 887h8M1576 927h8M1599 895h8M1566 906h8M1635 900h8M1635 894h8M1588 924h8M1574 911h8M1560 923h8M1621 897h8M1597 902h8M1541 965h8M1608 927h8M1602 913h8M1650 873h8M1585 902h8M1588 924h8M1576 883h8M1566 919h8M1616 926h8M1631 900h8M1617 924h8M1589 895h8M1614 896h8M1586 891h8M1635 909h8M1581 905h8M1588 912h8M1552 887h8M1605 932h8M1569 912h8M1579 864h8M1585 888h8M1614 906h8M1592 881h8M1596 871h8M1598 938h8M1564 927h8M1627 906h8M1620 912h8M1581 870h8M1567 880h8M1650 915h8M1589 883h8M1634 887h8M1629 932h8M1595 897h8M1592 883h8M1609 944h8M1614 931h8M1576 916h8M1568 901h8M1610 960h8M1595 911h8M1547 913h8M1571 882h8M1557 913h8M1583 924h8M1587 910h8M1628 926h8M1611 940h8M1598 890h8M1574 879h8M1601 902h8M1605 927h8M1573 914h8M1624 912h8M1615 906h8M1570 905h8M1548 924h8M1581 937h8M1563 913h8M1601 906h8M1602 895h8M1567 882h8M1579 894h8M1599 903h8M1577 895h8M1547 903h8M1603 883h8M1587 924h8M1576 914h8M1583 960h8M1627 934h8M1576 923h8M1589 917h8M1579 913h8M1574 916h8M1636 882h8M1561 920h8M1612 902h8M1607 919h8M1606 938h8M1577 923h8M1598 896h8M1605 884h8M1557 932h8M1566 944h8M1618 899h8M1571 865h8M1591 877h8M1631 876h8M1594 854h8M1584 937h8M1582 893h8M1581 918h8M1615 905h8M1543 916h8M1617 957h8M1597 913h8M1580 925h8M1636 889h8M1595 889h8M1576 906h8M1605 893h8M1586 938h8M1605 924h8M1603 906h8M1603 921h8M1593 931h8M1593 928h8M1593 925h8M1576 898h8M1564 935h8M1605 914h8M1608 893h8M1595 899h8M1547 904h8M1571 939h8M1575 897h8M1617 910h8M1560 915h8M1574 945h8M1567 895h8M1526 896h8M1639 907h8M1569 916h8M1586 909h8M1654 951h8M1632 944h8M1570 870h8M1611 918h8M1594 907h8M1611 921h8M1599 920h8M1588 902h8M1627 905h8M1642 923h8M1594 933h8M1581 906h8M1585 910h8M1610 953h8M1606 888h8M1573 873h8M1611 928h8M1601 917h8M1606 919h8M1609 915h8M1569 929h8M1626 876h8M1587 887h8M1605 904h8M1628 933h8M1581 900h8M1579 922h8M1570 919h8M1559 931h8M1605 886h8M1574 913h8M1600 851h8M1598 941h8M1582 882h8M1623 915h8M1598 923h8M1563 896h8M1565 887h8M1585 888h8M1632 920h8M1613 876h8M1588 907h8M1597 919h8M1573 891h8M1616 956h8M1644 904h8M1574 914h8M1604 946h8M1587 895h8M1618 895h8M1572 921h8M1588 888h8M1586 901h8M1587 895h8M1607 903h8M1578 932h8M1570 925h8M1607 904h8M1598 880h8M1599 889h8M1572 915h8M1575 913h8M1603 931h8M1603 931h8M1574 902h8M1609 934h8M1604 899h8M1567 891h8M1620 890h8M1587 923h8M1604 896h8M1641 913h8M1600 926h8M1585 924h8M1589 892h8M1570 918h8M1595 907h8M1582 905h8M1612 932h8M1587 915h8M1548 887h8M1576 892h8M1610 868h8M1605 924h8M1646 900h8M1604 940h8M1616 891h8M1584 887h8M1595 924h8M1626 921h8M1615 931h8M1573 924h8M1617 906h8M1570 913h8M1597 924h8M1550 902h8M1642 936h8M1589 904h8M1587 890h8M1582 909h8M1564 908h8M1599 884h8M1582 879h8M1594 914h8M1580 911h8M1606 924h8M1561 904h8M1558 872h8M1618 925h8M1624 925h8M1581 914h8M1580 937h8M1536 918h8M1580 924h8M1622 897h8M1626 932h8M1555 947h8M1564 883h8M1616 895h8M1598 909h8M1568 942h8M1629 912h8M1631 910h8M1599 904h8M1561 903h8M1570 918h8M1597 898h8M1624 917h8M1637 902h8M1584 895h8M1599 907h8M1594 945h8M1612 898h8M1603 905h8M1586 906h8M1595 923h8M1617 911h8M1574 910h8M1588 905h8M1564 907h8M1549 935h8M1611 925h8M1571 915h8M1624 906h8M1567 908h8M1539 929h8M1604 882h8M1610 933h8M1608 923h8M1630 915h8M1627 906h8M1577 904h8M1568 918h8M1576 917h8M1601 943h8M1636 899h8M1589 907h8M1578 946h8M1623 906h8M1560 897h8M1594 942h8M1562 939h8M1559 917h8M1565 901h8M1536 922h8M1594 889h8M1542 909h8M1592 881h8M1605 907h8M1566 894h8M1534 924h8M1616 906h8M1563 887h8M1585 892h8M1600 892h8M1614 934h8M1578 893h8M1522 910h8M1602 891h8M1620 896h8M1564 926h8M1604 868h8M1576 884h8M1587 913h8M1582 913h8M1614 903h8M1562 890h8M1613 944h8M1589 917h8M1573 898h8M1616 899h8M1597 912h8M1620 914h8M1591 904h8M1580 930h8M1644 878h8M1617 890h8M1578 904h8M1582 902h8M1578 946h8M1558 897h8M1574 913h8M1562 909h8M1595 949h8M1608 909h8M1595 946h8M1590 896h8M1578 902h8M1614 890h8M1579 909h8M1570 923h8M1583 920h8M1605 939h8M1634 892h8M1561 887h8M1604 920h8M1593 909h8M1629 927h8M1598 922h8M1557 933h8M1642 913h8M1582 934h8M1581 912h8M1607 907h8M1610 871h8M1535 924h8M1606 914h8M1584 911h8M1603 887h8M1599 894h8M1643 917h8M1599 930h8M1615 929h8M1577 913h8M1614 914h8M1596 899h8M1598 938h8M1564 883h8M1564 879h8M1623 947h8M1605 912h8M1626 931h8M1539 909h8M1651 902h8M1576 898h8M1631 901h8M1603 934h8M1597 910h8M1568 886h8M1619 884h8M1619 935h8M1629 906h8M1573 912h8M1624 921h8M1605 908h8M1615 871h8M1565 941h8M1604 924h8M1548 893h8M1583 908h8M1621 899h8M1596 896h8M1588 917h8M1603 930h8M1563 926h8M1604 894h8M1624 897h8M1584 921h8M1627 902h8M1628 918h8M1575 925h8M1595 896h8M1590 935h8M1601 905h8M1612 882h8M1609 936h8M1566 888h8M1573 906h8M1575 910h8M1569 916h8M1607 919h8M1580 927h8M1556 897h8M1591 935h8M1584 922h8M1632 949h8M1634 894h8M1599 920h8M1609 920h8M1590 911h8M1561 924h8M1601 899h8M1636 910h8M1578 922h8M1604 923h8M1591 925h8M1596 934h8M1601 894h8M1569 922h8M1615 881h8M1608 909h8M1600 894h8M1567 899h8M1574 902h8M1596 911h8M1638 892h8M1583 912h8M1608 890h8M1559 915h8M1602 922h8M1608 880h8M1618 908h8M1643 903h8M1542 908h8M1598 917h8M1598 900h8M1554 907h8M1586 897h8M1595 904h8M1546 894h8M1573 905h8M1632 909h8M1606 869h8M1622 900h8M1606 889h8M1592 926h8M1593 915h8M1575 896h8M1600 907h8M1596 897h8M1584 925h8M1626 902h8M1578 913h8M1615 916h8M1619 906h8M1571 873h8M1613 915h8M1578 917h8M1566 930h8M1617 933h8M1583 938h8M1613 941h8M1553 928h8M1624 905h8M1616 913h8M1627 906h8M1594 887h8M1642 894h8M1569 893h8M1595 911h8M1604 941h8M1617 882h8M1598 907h8M1611 913h8M1625 913h8M1639 892h8M1621 928h8M1576 884h8M1578 918h8M1632 882h8M1587 885h8M1612 913h8M1594 925h8M1601 939h8M1587 899h8M1594 910h8M1624 903h8M1581 897h8M1575 872h8M1597 920h8M1597 895h8M1615 924h8M1599 923h8M1591 918h8M1606 887h8M1582 896h8M1603 860h8M1600 910h8M1589 918h8M1558 915h8M1576 898h8M1626 904h8M1618 910h8M1586 903h8M1559 904h8M1597 938h8M1611 926h8M1572 896h8M1602 921h8M1568 931h8M1578 915h8M1582 925h8M1614 930h8M1572 913h8M1646 910h8M1604 913h8M1582 944h8M1630 897h8M1605 947h8M1604 912h8M1617 927h8M1565 894h8M1631 899h8M1592 898h8M1639 886h8M1598 903h8M1586 886h8M1575 906h8M1599 874h8M1596 893h8M1592 902h8M1590 905h8M1604 910h8M1553 863h8M1559 916h8M1554 890h8M1636 903h8M1588 917h8M1608 900h8M1596 870h8M1601 921h8M1552 928h8M1638 860h8M1588 938h8M1609 896h8M1578 903h8M1609 893h8M1558 913h8M1575 943h8M1568 915h8M1588 881h8M1581 871h8M1602 891h8M1563 879h8M1626 920h8M1569 907h8M1608 921h8M1593 868h8M1633 907h8M1626 884h8M1612 936h8M1620 886h8M1587 941h8M1573 924h8M1589 880h8M1616 932h8M1608 915h8M1617 871h8M1592 944h8M1605 931h8M1587 917h8M1565 920h8M1600 903h8M1592 912h8M1598 925h8M1617 867h8M1599 932h8M1565 907h8M1650 898h8M1617 915h8M1559 905h8M1549 903h8M1615 923h8M1600 899h8M1608 935h8M1611 930h8M1604 919h8M1572 940h8M1568 892h8M1576 896h8M1625 906h8M1587 905h8M1593 937h8M1629 901h8M1634 922h8M1601 936h8M1596 917h8M1597 887h8M1563 891h8M1572 898h8M1580 932h8M1593 926h8M1601 893h8M1586 880h8M1552 918h8M1592 911h8M1616 883h8M1589 865h8M1572 921h8M1556 884h8M1585 943h8M1611 906h8M1607 911h8M1583 899h8M1603 907h8M1611 899h8M1612 901h8M1621 929h8M1576 955h8M1601 896h8M1563 912h8M1596 895h8M1566 900h8M1567 897h8M1571 918h8M1532 949h8M1582 909h8M1561 931h8M1589 903h8M1570 921h8M1604 897h8M1631 892h8M1621 913h8M1560 904h8M1605 901h8M1595 908h8M1602 896h8M1636 916h8M1628 905h8M1597 890h8M1593 940h8M1600 895h8M1579 921h8M1589 950h8M1598 910h8M1610 942h8M1556 896h8M1576 871h8M1589 908h8M1613 922h8M1608 922h8M1582 967h8M1628 903h8M1571 920h8M1617 919h8M1611 929h8M1603 891h8M1581 875h8M1615 899h8M1597 952h8M1574 910h8M1574 874h8M1616 908h8M1591 925h8M1588 923h8M1623 896h8M1603 913h8M1618 958h8M1569 940h8M1595 923h8M1602 907h8M1564 910h8M1572 939h8M1604 899h8M1584 932h8M1559 914h8M1596 892h8M1618 902h8M1618 914h8M1578 908h8M1617 892h8M1574 908h8M1606 922h8M1570 886h8M1591 905h8M1599 880h8M1581 888h8M1630 869h8M1571 899h8M1551 901h8M1575 879h8M1581 935h8M1596 936h8M1623 912h8M1586 866h8M1544 914h8M1594 913h8M1572 904h8M1567 927h8M1595 870h8M1579 934h8M1568 888h8M1570 899h8M1595 906h8M1596 898h8M1608 937h8M1572 915h8M1600 913h8M1592 919h8M1588 897h8M1575 924h8M1581 875h8M1582 900h8M1613 929h8M1567 934h8M1601 940h8M1581 923h8M1610 940h8M1563 909h8M1596 906h8M1572 905h8M1595 948h8M1594 931h8M1581 914h8M1592 912h8M1559 910h8M1654 910h8M1563 955h8M1604 917h8M1557 904h8M1588 907h8M1570 923h8M1562 932h8M1593 902h8M1557 917h8M1601 881h8M1632 905h8M1557 934h8M1568 892h8M1560 891h8M1586 889h8M1599 890h8M1590 866h8M1580 908h8M1607 902h8M1595 916h8M1572 920h8M1599 899h8M1564 934h8M1617 913h8M1617 938h8M1589 921h8M1606 919h8M1590 901h8M1610 914h8M1631 918h8M1595 885h8M1590 915h8M1589 895h8M1525 892h8M1595 940h8M1566 919h8M1562 928h8M1595 798h8M1614 768h8M1578 844h8M1564 750h8M1621 835h8M1581 759h8M1596 889h8M1645 787h8M1586 792h8M1549 807h8M1585 848h8M1576 812h8M1586 771h8M1656 759h8M1597 817h8M1655 818h8M1588 811h8M1650 830h8M1611 910h8M1571 852h8M1572 858h8M1614 832h8M1609 813h8M1522 733h8M1663 810h8M1595 828h8M1628 811h8M1629 833h8M1584 806h8M1635 759h8M1607 763h8M1600 724h8M1608 769h8M1635 786h8M1656 860h8M1571 898h8M1603 819h8M1565 791h8M1588 735h8M1564 861h8M1586 796h8M1580 774h8M1586 790h8M1598 839h8M1599 790h8M1574 823h8M1614 783h8M1548 787h8M1533 862h8M1596 858h8M1590 837h8M1646 841h8M1577 719h8M1583 803h8M1573 698h8M1581 784h8M1545 781h8M1625 738h8M1603 787h8M1604 806h8M1567 815h8M1656 815h8M1558 772h8M1653 786h8M1607 729h8M1553 782h8M1611 759h8M1610 774h8M1538 772h8M1605 904h8M1553 804h8M1606 814h8M1596 867h8M1636 762h8M1574 791h8M1555 795h8M1623 768h8M1593 758h8M1600 817h8M1565 836h8M1570 794h8M1611 746h8M1593 740h8M1629 788h8M1552 826h8M1579 884h8M1592 825h8M1567 779h8M1591 837h8M1637 802h8M1599 749h8M1580 785h8M1622 885h8M1595 760h8M1567 833h8M1638 831h8M1648 802h8M1587 804h8M1565 781h8M1591 701h8M1598 823h8M1639 791h8M1637 759h8M1638 764h8M1602 730h8M1652 780h8M1633 794h8M1605 833h8M1564 814h8M1594 747h8M1633 791h8M1638 806h8M1593 768h8M1604 767h8M1631 772h8M1643 783h8M1602 766h8M1678 703h8M1621 855h8M1627 890h8M1653 721h8M1610 751h8M1596 787h8M1628 842h8M1604 758h8M1611 802h8M1584 841h8M1644 761h8M1644 747h8M1594 718h8M1604 883h8M1567 762h8M1569 799h8M1638 728h8M1615 894h8M1592 795h8M1626 702h8M1571 819h8M1597 832h8M1572 786h8M1582 738h8M1613 882h8M1572 813h8M1613 864h8M1587 719h8M1618 759h8M1564 777h8M1598 804h8M1603 693h8M1534 813h8M1638 824h8M1564 840h8M1566 858h8M1606 840h8M1573 825h8M1535 854h8M1564 791h8M1624 846h8M1612 723h8M1642 785h8M1554 869h8M1682 790h8M1631 852h8M1612 834h8M1621 701h8M1582 774h8M1576 802h8M1597 833h8M1671 770h8M1617 891h8M1609 720h8M1595 861h8M1627 731h8M1612 794h8M1584 841h8M1520 868h8M1659 786h8M1580 726h8M1617 773h8M1551 693h8M1614 848h8M1556 869h8M1586 805h8M1567 848h8M1596 796h8M1615 764h8M1641 819h8M1588 738h8M1607 806h8M1601 741h8M1640 808h8M1629 831h8M1600 765h8M1559 841h8M1589 868h8M1643 831h8M1600 853h8M1654 801h8M1616 884h8M1571 832h8M1596 830h8M1632 798h8M1609 888h8M1624 834h8M1607 809h8M1637 797h8M1594 776h8M1594 812h8M1605 795h8M1677 759h8M1606 840h8M1604 810h8M1565 806h8M1631 764h8M1612 848h8M1605 811h8M1554 857h8M1667 872h8M1666 670h8M1583 774h8M1607 772h8M1547 782h8M1554 776h8M1620 892h8M1615 838h8M1552 734h8M1617 829h8M1608 763h8M1586 818h8M1655 799h8M1523 904h8M1624 773h8M1641 840h8M1589 769h8M1626 804h8M1646 773h8M1585 731h8M1585 901h8M1533 814h8M1572 749h8M1669 704h8M1596 682h8M1578 821h8M1596 848h8M1625 775h8M1600 822h8M1599 685h8M1586 812h8M1615 704h8M1571 829h8M1572 842h8M1574 701h8M1554 907h8M1580 762h8M1617 770h8M1542 762h8M1639 717h8M1561 783h8M1610 764h8M1656 785h8M1561 802h8M1607 798h8M1584 900h8M1644 826h8M1592 835h8M1624 815h8M1568 851h8M1623 739h8M1618 852h8M1623 786h8M1598 766h8M1585 858h8M1625 748h8M1611 862h8M1646 830h8M1578 782h8M1585 765h8M1562 800h8M1611 770h8M1661 783h8M1618 904h8M1587 895h8M1607 898h8M1631 754h8M1587 723h8M1587 765h8M1619 694h8M1546 773h8M1577 840h8M1594 760h8M1622 715h8M1606 849h8M1632 762h8M1653 825h8M1611 852h8M1648 755h8M1603 791h8M1600 825h8M1623 798h8M1621 869h8M1618 723h8M1542 774h8M1596 791h8M1604 795h8M1642 801h8M1589 772h8M1623 766h8M1593 791h8M1583 713h8M1567 737h8M1570 770h8M1614 773h8M1555 853h8M1607 690h8M1603 726h8M1590 772h8M1618 710h8M1601 848h8M1555 830h8M1615 813h8M1651 765h8M1585 815h8M1619 802h8M1613 787h8M1615 776h8M1612 767h8M1595 717h8M1580 794h8M1580 799h8M1636 793h8M1580 779h8M1539 837h8M1650 743h8M1693 758h8M1626 806h8M1645 856h8M1628 873h8M1606 832h8M1565 892h8M1599 832h8M1610 763h8M1575 770h8M1598 743h8M1602 826h8M1616 771h8M1595 865h8M1630 787h8M1586 840h8M1535 824h8M1571 767h8M1588 841h8M1548 822h8M1651 751h8M1606 915h8M1590 841h8M1588 803h8M1531 781h8M1652 893h8M1581 819h8M1590 793h8M1570 871h8M1580 877h8M1585 881h8M1600 735h8M1581 807h8M1627 839h8M1563 877h8M1610 815h8M1578 852h8M1605 729h8M1600 820h8M1596 778h8M1617 733h8M1631 772h8M1559 814h8M1643 864h8M1568 754h8M1623 819h8M1614 837h8M1544 873h8M1563 809h8M1573 822h8M1640 835h8M1582 801h8M1603 790h8M1633 761h8M1625 751h8M1621 844h8M1604 862h8M1647 809h8M1618 740h8M1570 858h8M1534 875h8M1631 772h8M1613 766h8M1645 771h8M1645 804h8M1566 847h8M1620 832h8M1640 779h8M1558 792h8M1613 819h8M1577 824h8M1564 809h8M1622 822h8M1628 726h8M1597 788h8M1597 781h8M1605 837h8M1630 799h8M1595 821h8M1552 839h8M1581 842h8M1613 821h8M1640 864h8M1626 756h8M1577 776h8M1597 766h8M1568 863h8M1536 928h8M1602 800h8M1541 804h8M1612 850h8M1547 759h8M1649 811h8M1639 842h8M1644 777h8M1625 808h8M1538 813h8M1580 813h8M1608 719h8M1644 796h8M1618 699h8M1604 813h8M1625 739h8M1647 733h8M1617 829h8M1629 751h8M1626 696h8M1624 806h8M1620 818h8M1545 867h8M1604 857h8M1531 849h8M1592 753h8M1620 822h8M1659 915h8M1594 829h8M1619 807h8M1576 764h8M1564 757h8M1611 864h8M1538 722h8M1582 816h8M1602 878h8M1614 761h8M1642 700h8M1591 814h8M1624 784h8M1632 800h8M1569 797h8M1625 823h8M1629 833h8M1629 847h8M1539 768h8M1625 739h8M1615 752h8M1623 737h8M1639 714h8M1579 703h8M1670 816h8M1566 802h8M1601 844h8M1577 781h8M1629 805h8M1640 936h8M1638 847h8M1627 615h8M1604 720h8M1562 724h8M1626 752h8M1641 789h8M1579 820h8M1579 753h8M1585 851h8M1545 845h8M1609 814h8M1565 795h8M1633 813h8M1613 825h8M1604 790h8M1606 856h8M1632 724h8M1567 791h8M1621 743h8M1613 748h8M1643 883h8M1605 864h8M1591 747h8M1594 813h8M1590 807h8M1572 784h8M1626 822h8M1578 811h8M1627 790h8M1609 807h8M1629 823h8M1633 812h8M1624 784h8M1596 740h8M1613 849h8M1633 809h8M1613 816h8M1573 810h8M1606 827h8M1575 923h8M1628 793h8M1635 812h8M1621 777h8M1633 800h8M1599 820h8M1589 859h8M1591 847h8M1601 742h8M1612 812h8M1616 777h8M1562 844h8M1639 794h8M1608 731h8M1617 747h8M1604 862h8M1592 779h8M1577 768h8M1573 837h8M1580 834h8M1629 798h8M1599 800h8M1580 886h8M1557 794h8M1645 764h8M1661 774h8M1608 868h8M1643 814h8M1645 757h8M1635 760h8M1609 764h8M1598 821h8M1631 867h8M1638 856h8M1588 895h8M1611 798h8M1566 763h8M1595 802h8M1555 796h8M1585 794h8M1596 796h8M1611 841h8M1573 803h8M1588 916h8M1615 819h8M1605 756h8M1646 729h8M1560 795h8M1561 853h8M1644 791h8M1550 878h8M1652 807h8M1623 791h8M1594 781h8M1539 868h8M1617 818h8M1610 825h8M1603 924h8M1578 760h8M1623 733h8M1630 795h8M1540 773h8M1568 902h8M1575 836h8M1589 814h8M1569 860h8M1629 750h8M1637 827h8M1583 742h8M1600 818h8M1580 792h8M1637 715h8M1645 838h8M1570 813h8M1542 821h8M1656 871h8M1632 776h8M1656 791h8M1592 742h8M1599 736h8M1611 765h8M1580 816h8M1649 805h8M1587 776h8M1627 727h8M1611 734h8M1581 867h8M1595 861h8M1621 746h8M1644 733h8M1572 809h8M1592 855h8M1646 852h8M1601 820h8M1617 837h8M1576 858h8M1588 829h8M1566 806h8M1573 793h8M1524 752h8M1567 858h8M1556 829h8M1555 851h8M1649 800h8M1603 784h8M1590 728h8M1624 874h8M1640 702h8M1584 815h8M1603 808h8M1519 790h8M1573 842h8M1631 866h8M1584 831h8M1626 731h8M1563 761h8M1628 862h8M1567 766h8M1583 847h8M1627 833h8M1563 807h8M1561 800h8M1511 742h8M1620 863h8M1608 713h8M1610 835h8M1596 732h8M1570 880h8M1579 812h8M1581 805h8M1611 670h8M1601 735h8M1655 874h8M1647 736h8M1602 780h8M1601 721h8M1613 619h8M1658 600h8M1635 506h8M1618 695h8M1614 631h8M1632 654h8M1655 521h8M1593 698h8M1606 621h8M1601 706h8M1607 757h8M1613 637h8M1656 722h8M1565 657h8M1630 559h8M1610 745h8M1573 666h8M1593 854h8M1713 599h8M1606 678h8M1572 682h8M1624 640h8M1613 826h8M1615 643h8M1586 591h8M1640 633h8M1626 617h8M1611 580h8M1642 658h8M1577 697h8M1649 649h8M1603 753h8M1583 671h8M1668 561h8M1596 675h8M1623 560h8M1617 579h8M1629 599h8M1645 586h8M1615 659h8M1654 574h8M1614 601h8M1654 687h8M1606 644h8M1630 634h8M1683 535h8M1669 759h8M1654 629h8M1568 694h8M1669 705h8M1666 663h8M1653 676h8M1627 566h8M1604 689h8M1641 684h8M1623 700h8M1635 682h8M1611 666h8M1629 592h8M1644 563h8M1631 538h8M1585 728h8M1677 690h8M1634 494h8M1610 682h8M1629 606h8M1650 609h8M1635 630h8M1595 770h8M1660 707h8M1587 701h8M1628 698h8M1670 577h8M1632 670h8M1636 681h8M1606 732h8M1577 800h8M1650 693h8M1601 557h8M1582 658h8M1632 698h8M1631 639h8M1567 601h8M1645 631h8M1659 653h8M1649 748h8M1547 598h8M1652 750h8M1619 667h8M1639 755h8M1674 598h8M1617 586h8M1606 712h8M1637 669h8M1606 803h8M1650 623h8M1642 640h8M1621 620h8M1561 548h8M1636 545h8M1611 535h8M1562 646h8M1632 541h8M1612 773h8M1636 644h8M1577 680h8M1661 535h8M1601 719h8M1649 465h8M1628 659h8M1632 636h8M1645 687h8M1690 669h8M1636 656h8M1595 646h8M1644 511h8M1692 681h8M1647 681h8M1620 693h8M1664 716h8M1605 705h8M1654 610h8M1630 682h8M1616 668h8M1618 591h8M1621 581h8M1700 741h8M1638 558h8M1642 730h8M1582 622h8M1661 693h8M1682 618h8M1620 610h8M1605 569h8M1606 800h8M1619 674h8M1558 667h8M1625 598h8M1562 729h8M1659 625h8M1601 651h8M1615 516h8M1581 756h8M1579 644h8M1633 552h8M1638 815h8M1642 667h8M1650 722h8M1539 688h8M1627 677h8M1650 658h8M1644 591h8M1601 640h8M1600 758h8M1663 656h8M1652 632h8M1581 651h8M1614 693h8M1627 646h8M1618 729h8M1632 659h8M1675 565h8M1556 611h8M1661 552h8M1581 729h8M1602 701h8M1625 653h8M1656 537h8M1650 592h8M1625 559h8M1610 724h8M1656 738h8M1626 630h8M1626 544h8M1695 731h8M1660 650h8M1623 654h8M1645 540h8M1624 676h8M1572 714h8M1596 732h8M1623 609h8M1613 629h8M1646 577h8M1657 609h8M1593 690h8M1570 687h8M1622 661h8M1619 617h8M1633 704h8M1602 655h8M1651 622h8M1650 624h8M1680 670h8M1617 660h8M1598 562h8M1580 706h8M1649 651h8M1581 499h8M1592 775h8M1654 713h8M1580 619h8M1581 630h8M1660 742h8M1583 624h8M1639 569h8M1668 571h8M1620 680h8M1636 501h8M1604 700h8M1614 493h8M1619 630h8M1591 646h8M1625 747h8M1601 617h8M1617 626h8M1653 619h8M1576 769h8M1561 538h8M1652 540h8M1673 632h8M1655 689h8M1587 655h8M1712 636h8M1632 521h8M1657 656h8M1602 658h8M1632 643h8M1698 478h8M1619 663h8M1611 661h8M1663 630h8M1628 754h8M1589 636h8M1618 828h8M1683 555h8M1678 509h8M1614 770h8M1605 675h8M1628 568h8M1613 734h8M1585 698h8M1646 533h8M1610 713h8M1612 821h8M1647 647h8M1592 709h8M1648 719h8M1619 609h8M1599 749h8M1641 640h8M1634 511h8M1650 436h8M1618 695h8M1659 639h8M1622 570h8M1620 642h8M1635 664h8M1636 631h8M1610 675h8M1607 568h8M1656 544h8M1633 605h8M1543 698h8M1567 695h8M1603 629h8M1636 640h8M1607 554h8M1633 629h8M1611 608h8M1623 631h8M1589 661h8M1614 705h8M1634 560h8M1593 697h8M1606 580h8M1616 499h8M1642 647h8M1585 655h8M1636 691h8M1629 714h8M1615 673h8M1626 537h8M1622 691h8M1590 748h8M1649 728h8M1649 636h8M1617 742h8M1641 613h8M1650 680h8M1610 669h8M1632 627h8M1619 602h8M1641 697h8M1597 686h8M1611 589h8M1611 691h8M1589 566h8M1644 608h8M1621 591h8M1621 629h8M1638 578h8M1645 506h8M1651 751h8M1647 639h8M1608 530h8M1663 683h8M1602 722h8M1630 714h8M1649 618h8M1609 668h8M1607 682h8M1598 704h8M1587 628h8M1622 641h8M1529 653h8M1664 579h8M1623 591h8M1645 663h8M1656 626h8M1599 654h8M1661 667h8M1664 717h8M1614 633h8M1624 672h8M1631 701h8M1596 694h8M1684 713h8M1529 764h8M1629 748h8M1652 600h8M1632 596h8M1626 608h8M1682 526h8M1613 702h8M1627 589h8M1606 606h8M1668 614h8M1659 592h8M1585 587h8M1667 562h8M1581 684h8M1630 603h8M1646 720h8M1607 762h8M1669 666h8M1630 654h8M1630 708h8M1644 721h8M1662 582h8M1625 792h8M1657 643h8M1668 634h8M1633 651h8M1645 817h8M1628 790h8M1640 490h8M1617 607h8M1629 633h8M1603 702h8M1641 580h8M1631 680h8M1627 716h8M1624 649h8M1667 638h8M1608 744h8M1642 652h8M1642 676h8M1578 569h8M1613 640h8M1622 490h8M1621 609h8M1597 596h8M1616 600h8M1598 622h8M1629 611h8M1630 494h8M1601 672h8M1616 711h8M1607 589h8M1630 721h8M1621 699h8M1584 727h8M1602 664h8M1643 660h8M1599 587h8M1620 710h8M1622 621h8M1605 593h8M1605 736h8M1639 711h8M1608 682h8M1558 716h8M1654 582h8M1656 549h8M1603 652h8M1608 717h8M1647 712h8M1580 646h8M1685 689h8M1615 573h8M1596 753h8M1621 810h8M1628 727h8M1578 826h8M1616 743h8M1672 731h8M1673 611h8M1641 684h8M1638 706h8M1635 631h8M1644 690h8M1604 648h8M1568 680h8M1594 661h8M1632 544h8M1564 689h8M1642 539h8M1610 630h8M1637 535h8M1603 585h8M1585 614h8M1613 727h8M1692 579h8M1624 641h8M1614 656h8M1668 593h8M1637 556h8M1642 714h8M1639 608h8M1631 614h8M1610 725h8M1649 677h8M1590 635h8M1677 583h8M1604 799h8M1584 591h8M1644 695h8M1596 716h8M1636 636h8M1616 683h8M1637 569h8M1588 633h8M1626 737h8M1594 562h8M1620 730h8M1613 651h8M1636 605h8M1629 597h8M1654 482h8M1642 677h8M1631 597h8M1616 720h8M1624 520h8M1617 615h8M1615 652h8M1609 555h8M1625 666h8M1614 540h8M1631 645h8M1673 582h8M1625 671h8M1633 633h8M1596 671h8M1612 632h8M1584 610h8M1614 665h8M1609 610h8M1651 628h8M1630 725h8M1614 667h8M1610 613h8M1642 635h8M1644 708h8M1647 486h8M1624 502h8M1574 647h8M1589 689h8M1629 631h8M1627 571h8M1637 572h8M1667 676h8M1664 667h8M1661 597h8M1577 715h8M1622 796h8M1685 684h8M1681 693h8M1587 684h8M1594 754h8M1643 644h8M1610 639h8M1630 626h8M1609 691h8M1630 603h8M1677 574h8M1667 779h8M1671 575h8M1629 592h8M1618 710h8M1679 651h8M1629 696h8M1616 580h8M1619 687h8M1615 711h8M1615 709h8M1598 565h8M1606 618h8M1627 674h8M1645 651h8M1612 601h8M1653 714h8M1619 639h8M1605 517h8M1595 703h8M1675 627h8M1655 593h8M1640 592h8M1630 702h8M1617 704h8M1638 642h8M1634 593h8M1526 777h8M1596 593h8M1633 628h8M1614 676h8M1665 574h8M1657 580h8M1651 687h8M1685 520h8M1633 634h8M1660 611h8M1620 625h8M1674 644h8M1580 594h8M1599 692h8M1616 686h8M1638 559h8M1610 544h8M1590 676h8M1603 643h8M1675 586h8M1614 700h8M1645 610h8M1603 666h8M1608 651h8M1616 678h8M1607 575h8M1596 792h8M1700 623h8M1603 765h8M1627 615h8M1562 728h8M1620 634h8M1649 696h8M1680 591h8M1651 640h8M1619 770h8M1555 693h8M1621 594h8M1634 646h8M1696 616h8M1616 625h8M1625 672h8M1614 647h8M1652 579h8M1651 611h8M1587 661h8M1638 656h8M1615 617h8M1670 559h8M1614 737h8M1626 610h8M1624 632h8M1665 659h8M1582 694h8M1649 767h8M1573 721h8M1648 614h8M1626 717h8M1549 604h8M1606 663h8M1664 519h8M1689 592h8M1606 713h8M1607 774h8M1651 605h8M1620 638h8M1660 680h8M1611 715h8M1661 795h8M1663 523h8M1613 679h8M1651 774h8M1604 653h8M1688 582h8M1626 770h8M1627 681h8M1624 750h8M1595 664h8M1633 604h8M1647 540h8M1620 666h8M1610 708h8M1630 656h8M1625 647h8M1631 650h8M1596 727h8M1644 621h8M1605 851h8M1624 617h8M1631 614h8M1577 684h8M1592 780h8M1640 661h8M1600 474h8M1610 567h8M1619 589h8M1583 721h8M1681 765h8M1598 649h8M1623 756h8M1642 592h8M1595 708h8M1644 784h8M1665 688h8M1665 551h8M1641 671h8M1678 659h8M1603 496h8M1657 736h8M1588 730h8M1649 642h8M1626 617h8M1652 668h8M1644 743h8M1607 628h8M1643 703h8M1660 565h8M1654 594h8M1645 600h8M1654 651h8M1676 567h8M1607 608h8M1617 723h8M1665 579h8M1617 591h8M1592 750h8M1630 676h8M1567 593h8M1642 652h8M1604 615h8M1645 566h8M1618 641h8M1607 698h8M1603 655h8M1681 670h8M1593 664h8M1622 677h8M1611 772h8M1675 574h8M1691 552h8M1600 630h8M1649 754h8M1583 705h8M1622 719h8M1654 665h8M1644 704h8M1671 640h8M1614 676h8M1652 714h8M1725 677h8M1607 747h8M1621 759h8M1635 502h8M1642 567h8M1644 589h8M1632 666h8M1640 701h8M1557 683h8M1664 500h8M1626 671h8M1599 621h8M1599 542h8M1631 548h8M1670 681h8M1676 701h8M1607 704h8M1554 750h8M1593 758h8M1639 651h8M1614 645h8M1636 691h8M1679 652h8M1691 662h8M1622 648h8M1609 604h8M1567 528h8M1636 696h8M1580 627h8M1628 782h8M1620 658h8M1654 649h8M1639 728h8M1636 587h8M1603 742h8M1625 565h8M1617 541h8M1641 798h8M1642 568h8M1644 680h8M1603 587h8M1622 765h8M1683 701h8M1606 802h8M1613 627h8M1625 703h8M1650 676h8M1612 646h8M1589 731h8M1657 540h8M1649 676h8M1606 698h8M1666 639h8M1617 606h8M1572 756h8M1616 532h8M1618 638h8M1643 641h8M1621 719h8M1606 580h8M1579 643h8M1640 674h8M1592 755h8M1604 645h8M1627 588h8M1636 611h8M1674 674h8M1648 759h8M1605 602h8M1667 703h8M1664 668h8M1590 728h8M1650 696h8M1616 659h8M1645 657h8M1619 643h8M1635 676h8M1576 557h8M1628 726h8M1634 686h8M1632 742h8M1565 607h8M1623 627h8M1656 635h8M1684 490h8M1571 660h8M1630 626h8M1601 557h8M1630 637h8M1596 630h8M1638 640h8M1600 713h8M1605 633h8M1627 755h8M1653 629h8M1605 610h8M1625 830h8M1599 430h8M1661 617h8M1624 557h8M1635 648h8M1568 627h8M1616 660h8M1586 706h8M1645 640h8M1620 707h8M1628 717h8M1655 589h8M1585 809h8M1606 657h8M1633 611h8M1622 630h8M1584 602h8M1612 714h8M1634 536h8M1640 578h8M1663 624h8M1609 668h8M1634 574h8M1658 488h8M1605 712h8M1633 505h8M1655 623h8M1612 749h8M1666 527h8M1614 721h8M1606 631h8M1653 690h8M1637 573h8M1628 562h8M1663 501h8M1646 520h8M1627 432h8M1713 407h8M1650 535h8M1633 442h8M1688 462h8M1654 559h8M1611 476h8M1703 425h8M1692 484h8M1641 465h8M1651 463h8M1673 488h8M1626 499h8M1611 494h8M1640 564h8M1615 478h8M1621 459h8M1668 547h8M1596 501h8M1642 482h8M1645 536h8M1650 548h8M1645 463h8M1681 475h8M1674 443h8M1676 488h8M1610 592h8M1639 466h8M1664 481h8M1649 574h8M1667 464h8M1686 518h8M1687 475h8M1674 519h8M1673 513h8M1649 482h8M1637 461h8M1728 574h8M1648 567h8M1633 584h8M1649 533h8M1720 408h8M1648 613h8M1705 571h8M1659 532h8M1656 447h8M1600 525h8M1702 498h8M1647 603h8M1698 499h8M1606 378h8M1584 552h8M1672 430h8M1624 517h8M1669 473h8M1660 536h8M1652 495h8M1680 553h8M1639 514h8M1667 549h8M1658 493h8M1652 509h8M1675 503h8M1617 532h8M1627 530h8M1616 516h8M1629 486h8M1655 574h8M1662 517h8M1623 558h8M1699 578h8M1653 454h8M1631 487h8M1706 536h8M1592 494h8M1632 530h8M1630 384h8M1659 567h8M1682 535h8M1622 521h8M1682 484h8M1600 543h8M1667 500h8M1678 625h8M1650 427h8M1720 505h8M1638 489h8M1649 462h8M1639 463h8M1614 517h8M1655 459h8M1651 501h8M1678 552h8M1618 608h8M1604 534h8M1633 585h8M1641 458h8M1661 479h8M1628 509h8M1647 376h8M1670 456h8M1669 516h8M1658 539h8M1702 494h8M1639 503h8M1644 578h8M1672 433h8M1611 438h8M1639 510h8M1637 543h8M1700 455h8M1644 474h8M1663 484h8M1675 481h8M1636 560h8M1682 443h8M1656 503h8M1679 509h8M1698 498h8M1619 504h8M1703 447h8M1585 578h8M1691 514h8M1657 552h8M1647 510h8M1634 485h8M1674 491h8M1725 570h8M1680 451h8M1618 517h8M1629 500h8M1666 497h8M1645 502h8M1672 494h8M1650 594h8M1666 541h8M1670 528h8M1682 574h8M1648 557h8M1659 496h8M1650 499h8M1666 492h8M1670 475h8M1651 432h8M1632 527h8M1613 506h8M1658 518h8M1655 495h8M1651 542h8M1652 502h8M1648 490h8M1655 559h8M1632 467h8M1639 587h8M1561 505h8M1649 565h8M1667 409h8M1617 589h8M1643 543h8M1635 374h8M1656 498h8M1601 540h8M1673 422h8M1662 513h8M1630 503h8M1631 450h8M1645 513h8M1615 546h8M1634 507h8M1644 453h8M1633 461h8M1632 606h8M1639 514h8M1630 600h8M1604 539h8M1648 565h8M1618 541h8M1653 415h8M1643 512h8M1711 452h8M1660 460h8M1707 514h8M1679 493h8M1640 488h8M1647 564h8M1641 533h8M1705 524h8M1666 539h8M1668 542h8M1653 471h8M1641 508h8M1722 438h8M1634 492h8M1618 521h8M1661 516h8M1678 561h8M1674 475h8M1640 526h8M1608 505h8M1626 614h8M1672 503h8M1690 472h8M1620 533h8M1646 518h8M1635 480h8M1642 454h8M1611 506h8M1664 513h8M1616 479h8M1660 563h8M1613 629h8M1633 429h8M1678 427h8M1668 498h8M1673 538h8M1636 548h8M1681 593h8M1658 572h8M1651 511h8M1676 501h8M1646 487h8M1630 613h8M1653 564h8M1615 520h8M1634 487h8M1668 515h8M1700 484h8M1677 571h8M1650 468h8M1636 484h8M1654 505h8M1664 556h8M1617 495h8M1654 455h8M1608 620h8M1668 543h8M1596 510h8M1711 581h8M1644 511h8M1632 564h8M1667 469h8M1644 480h8M1617 513h8M1657 522h8M1663 517h8M1572 560h8M1645 450h8M1629 437h8M1657 505h8M1654 485h8M1663 477h8M1632 439h8M1690 449h8M1690 466h8M1652 465h8M1643 561h8M1650 533h8M1635 493h8M1657 485h8M1679 551h8M1661 503h8M1671 457h8M1636 427h8M1655 520h8M1666 501h8M1643 465h8M1652 530h8M1620 536h8M1670 553h8M1651 504h8M1621 582h8M1686 455h8M1617 522h8M1635 526h8M1609 627h8M1615 429h8M1641 480h8M1630 501h8M1684 527h8M1688 422h8M1657 525h8M1622 500h8M1656 491h8M1670 402h8M1662 468h8M1637 470h8M1650 543h8M1635 545h8M1630 468h8M1607 520h8M1689 518h8M1698 596h8M1630 471h8M1667 572h8M1675 511h8M1644 462h8M1668 541h8M1608 628h8M1637 543h8M1606 561h8M1594 592h8M1604 583h8M1666 510h8M1629 469h8M1668 455h8M1691 538h8M1637 441h8M1700 595h8M1653 548h8M1616 515h8M1608 587h8M1603 559h8M1669 480h8M1708 625h8M1641 460h8M1635 595h8M1636 502h8M1709 481h8M1669 538h8M1636 429h8M1677 483h8M1689 558h8M1643 502h8M1601 546h8M1634 450h8M1700 500h8M1675 468h8M1656 437h8M1710 491h8M1665 481h8M1637 562h8M1650 433h8M1636 509h8M1692 503h8M1677 504h8M1649 469h8M1660 494h8M1651 516h8M1707 424h8M1565 433h8M1678 486h8M1633 485h8M1670 414h8M1616 523h8M1623 479h8M1614 525h8M1623 540h8M1664 620h8M1609 545h8M1633 532h8M1692 485h8M1678 458h8M1649 531h8M1664 489h8M1674 461h8M1628 549h8M1706 427h8M1620 570h8M1619 562h8M1611 601h8M1677 531h8M1609 565h8M1657 525h8M1606 539h8M1673 550h8M1609 565h8M1664 508h8M1684 481h8M1652 474h8M1639 611h8M1663 398h8M1608 455h8M1691 480h8M1618 558h8M1620 494h8M1651 557h8M1669 488h8M1692 465h8M1659 566h8M1612 519h8M1666 499h8M1743 498h8M1719 439h8M1636 543h8M1620 508h8M1695 505h8M1634 417h8M1680 496h8M1625 548h8M1638 587h8M1662 517h8M1692 492h8M1615 419h8M1645 547h8M1625 534h8M1613 551h8M1644 513h8M1647 445h8M1627 570h8M1645 512h8M1635 641h8M1640 528h8M1703 497h8M1649 522h8M1652 584h8M1676 504h8M1667 523h8M1664 496h8M1673 636h8M1635 523h8M1627 396h8M1676 607h8M1668 432h8M1677 523h8M1668 416h8M1645 531h8M1664 477h8M1653 421h8M1647 497h8M1646 542h8M1592 548h8M1647 518h8M1689 513h8M1630 588h8M1601 579h8M1684 447h8M1634 603h8M1653 452h8M1596 571h8M1631 482h8M1650 477h8M1662 455h8M1606 497h8M1621 451h8M1626 446h8M1624 560h8M1675 514h8M1662 506h8M1648 516h8M1661 437h8M1618 503h8M1693 491h8M1608 593h8M1670 460h8M1616 558h8M1629 487h8M1662 458h8M1660 477h8M1677 442h8M1677 443h8M1665 425h8M1661 442h8M1689 475h8M1681 457h8M1681 465h8M1675 461h8M1662 435h8M1661 490h8M1627 438h8M1684 473h8M1669 453h8M1671 452h8M1665 446h8M1679 449h8M1655 441h8M1676 446h8M1663 449h8M1664 467h8M1697 432h8M1678 405h8M1674 429h8M1701 485h8M1702 456h8M1682 451h8M1666 455h8M1655 443h8M1666 496h8M1692 424h8M1660 471h8M1655 409h8M1662 446h8M1674 440h8M1677 475h8M1684 474h8M1639 479h8M1665 460h8M1705 434h8M1658 467h8M1653 467h8M1663 466h8M1647 427h8M1661 452h8M1640 446h8M1687 473h8M1680 444h8M1663 465h8M1660 447h8M1679 434h8M1671 423h8M1685 404h8M1666 470h8M1695 432h8M1658 435h8M1668 451h8M1626 476h8M1675 407h8M1860 572h8M1769 652h8M1664 644h8M1734 606h8M1741 656h8M1747 380h8M1796 679h8M1806 797h8M1797 544h8M1818 556h8M1699 514h8M1749 662h8M1723 583h8M1678 590h8M1785 554h8M1728 605h8M1734 628h8M1847 564h8M1776 534h8M1880 728h8M1774 675h8M1774 590h8M1851 662h8M1710 759h8M1685 692h8M1742 467h8M1602 523h8M1653 630h8M1619 553h8M1652 601h8M1690 573h8M1757 593h8M1725 777h8M1631 594h8M1756 729h8M1760 588h8M1687 468h8M1675 442h8M1631 649h8M1639 540h8M1752 550h8M1619 600h8M1713 740h8M1749 506h8M1754 508h8M1702 482h8M1785 538h8M1712 689h8M1697 602h8M1806 821h8M1608 550h8M1768 468h8M1660 658h8M1693 667h8M1756 650h8M1766 549h8M1785 652h8M1766 595h8M1636 525h8M1835 668h8M1708 586h8M1659 745h8M1770 519h8M1729 630h8M1635 714h8M1654 735h8M1696 457h8M1800 678h8M1616 737h8M1629 789h8M1666 648h8M1716 667h8M1756 453h8M1679 574h8M1706 473h8M1743 614h8M1642 683h8M1704 650h8M1635 744h8M1616 495h8M1768 553h8M1696 650h8M1757 622h8M1836 546h8M1746 639h8M1741 781h8M1678 623h8M1742 679h8M1635 572h8M1848 811h8M1637 608h8M1729 696h8M1733 626h8M1692 628h8M1590 567h8M1602 387h8M1660 557h8M1742 652h8M1785 508h8M1736 502h8M1637 581h8M1783 689h8M1794 652h8M1638 513h8M1790 601h8M1855 615h8M1695 708h8M1721 646h8M1652 661h8M1667 403h8M1779 530h8M1591 678h8M1697 653h8M1722 691h8M1712 699h8M1723 747h8M1661 670h8M1727 831h8M1754 504h8M1671 691h8M1596 753h8M1696 478h8M1672 505h8M1791 655h8M1719 494h8M1641 695h8M1732 760h8M1650 680h8M1764 495h8M1794 552h8M1715 723h8M1779 642h8M1664 647h8M1785 593h8M1695 791h8M1746 533h8M1742 470h8M1703 570h8M1719 679h8M1686 489h8M1648 666h8M1713 583h8M1721 627h8M1711 703h8M1614 802h8M1625 649h8M1702 741h8M1711 571h8M1705 699h8M1781 709h8M1638 554h8M1750 674h8M1703 607h8M1719 690h8M1743 647h8M1730 542h8M1691 445h8M1813 811h8M1779 520h8M1684 687h8M1619 696h8M1748 604h8M1795 673h8M1723 514h8M1680 625h8M1687 551h8M1756 587h8M1854 623h8M1671 595h8M1635 629h8M1694 889h8M1761 616h8M1786 745h8M1688 593h8M1636 617h8M1752 677h8M1689 633h8M1640 761h8M1834 715h8M1843 671h8M1697 512h8M1765 645h8M1665 521h8M1764 601h8M1611 631h8M1679 617h8M1771 626h8M1723 564h8M1698 745h8M1801 729h8M1745 822h8M1760 645h8M1640 648h8M1718 642h8M1638 771h8M1783 609h8M1774 625h8M1724 621h8M1632 592h8M1958 900h8M1879 960h8M1890 908h8M1867 904h8M1815 898h8M1748 902h8M1879 911h8M1726 915h8M1749 906h8M1968 871h8M1783 887h8M1785 920h8M1668 879h8M1900 961h8M1728 948h8M1867 939h8M1784 966h8M1797 908h8M1778 937h8M1789 886h8M1763 915h8M1872 874h8M1781 884h8M1702 919h8M1773 941h8M1697 894h8M1751 885h8M1822 935h8M1693 889h8M1679 921h8M1696 885h8M1864 961h8M1766 899h8M1703 946h8M1866 951h8M1675 876h8M1770 921h8M1662 885h8M1897 924h8M1780 894h8M1782 963h8M1751 931h8M1767 909h8M1775 892h8M1779 933h8M1887 896h8M1797 877h8M1752 904h8M1823 943h8M1701 944h8M1808 940h8M1815 930h8M1633 904h8M1642 908h8M1685 946h8M1719 929h8M1577 955h8M1856 913h8M1893 906h8M1829 916h8M1781 940h8M1740 954h8M1643 938h8M1786 933h8M1767 865h8M1770 887h8M1765 937h8M1840 967h8M1810 936h8M1757 913h8M1697 941h8M1695 865h8M1745 904h8M1695 929h8M1675 899h8M1740 930h8M1743 926h8M1767 917h8M1889 904h8M1812 910h8M1758 947h8M1734 936h8M1825 890h8M1838 939h8M1695 889h8M1801 909h8M1798 930h8M1699 915h8M1691 892h8M1757 896h8M1591 903h8M1753 915h8M1806 926h8M1856 892h8M1766 902h8M1743 879h8M1797 903h8M1775 915h8M1734 939h8M1635 958h8M1780 921h8M1878 913h8M1697 916h8M1732 909h8M1694 881h8M1916 904h8M1876 944h8M1715 928h8M1838 927h8M1793 904h8M1668 893h8M1750 902h8M1758 946h8M1704 922h8M1698 921h8M1757 886h8M1719 900h8M1711 908h8M1645 895h8M1768 895h8M1818 919h8M1740 895h8M1835 908h8M1870 902h8M1721 929h8M1811 914h8M1705 944h8M1702 939h8M1844 911h8M1829 886h8M1683 898h8M1805 913h8M1653 909h8M1755 898h8M1651 896h8M1825 892h8M1824 917h8M1630 899h8M1792 927h8M1855 887h8M1898 914h8M1580 904h8M1724 933h8M1736 959h8M1802 940h8M1747 902h8M1861 891h8M1741 959h8M1831 942h8M1802 891h8M1776 893h8M1936 873h8M1599 942h8M1767 959h8M1636 905h8M1737 901h8M1768 890h8M1732 937h8M1789 927h8M1765 883h8M1854 908h8M1833 906h8M1779 924h8M1871 927h8M1808 896h8M1779 897h8M1745 935h8M1796 925h8M1752 919h8M1742 935h8M1820 928h8M1803 938h8M1783 910h8M1833 940h8M1771 902h8M1785 907h8M1920 938h8M1666 902h8M1662 899h8M1632 883h8M1725 929h8M1942 889h8M1713 925h8M1784 914h8M1732 902h8M1805 925h8M1819 917h8M1688 903h8M1717 989h8M1691 949h8M1732 893h8M1804 932h8M1718 934h8M1724 892h8M1718 886h8M1695 888h8M1822 883h8M1728 949h8M1717 926h8M1751 912h8M1861 928h8M1913 897h8M1865 902h8M1898 958h8M1883 918h8M1946 900h8M1936 857h8M1850 876h8M1872 897h8M1785 918h8M1907 925h8M1813 915h8M1916 904h8M1868 914h8M1866 900h8M1783 901h8M1928 935h8M1833 897h8M1894 877h8M1765 928h8M1877 885h8M1893 915h8M1796 884h8M1828 879h8M1902 889h8M1894 889h8M1808 906h8M1836 861h8M1844 864h8M1730 871h8M1919 915h8M1956 878h8M1851 920h8M2011 969h8M1867 928h8" stroke="#000" stroke-width="8" stroke-opacity="0.5" fill="none"/>
<path transform="scale(.1)" d="M1650 770h8M1927 622h8M1622 562h8M1677 550h8M1629 665h8M1771 605h8M1772 686h8M1757 535h8M1748 568h8M1727 754h8M1761 535h8M1847 639h8M1754 839h8M1718 479h8M1657 672h8M1719 533h8M1686 573h8M1658 763h8M1711 647h8M1625 644h8M1719 753h8M1740 543h8M1669 562h8M1731 637h8M1628 495h8M1759 599h8M1679 694h8M1793 685h8M1762 479h8M1828 503h8M1668 750h8M1573 698h8M1688 645h8M1727 473h8M1606 486h8M1774 675h8M1625 788h8M1662 396h8M1678 577h8M1775 765h8M1586 676h8M1789 693h8M1791 489h8M1772 532h8M1685 612h8M1779 697h8M1564 512h8M1695 792h8M1693 506h8M1483 577h8M1727 641h8M1787 649h8M1643 658h8M1677 392h8M1675 683h8M1666 770h8M1717 486h8M1636 411h8M1703 837h8M1717 591h8M1700 685h8M1702 468h8M1883 712h8M1685 756h8M1801 495h8M1703 700h8M1692 742h8M1667 674h8M1667 737h8M1792 902h8M1642 415h8M1643 642h8M1677 722h8M1702 419h8M1703 715h8M1570 636h8M1832 734h8M1718 510h8M1822 563h8M1646 581h8M1699 463h8M1759 666h8M1665 735h8M1609 442h8M1770 628h8M1700 691h8M1675 803h8M1560 595h8M1650 558h8M1774 659h8M1684 876h8M1697 537h8M1687 635h8M1695 399h8M1828 505h8M1761 856h8M1688 638h8M1703 849h8M1658 711h8M1662 757h8M1716 523h8M1788 529h8M1682 851h8M1638 678h8M1759 701h8M1739 642h8M1626 736h8M1676 682h8M1664 786h8M1658 497h8M1791 705h8M1737 939h8M1676 637h8M1626 664h8M1652 771h8M1767 526h8M1669 572h8M1595 573h8M1711 895h8M1722 545h8M1701 704h8M1586 507h8M1667 599h8M1749 753h8M1563 599h8M1731 775h8M1709 581h8M1772 803h8M1762 718h8M1677 570h8M1699 341h8M1662 636h8M1645 522h8M1711 474h8M1683 470h8M1585 609h8M1819 698h8M1786 650h8M1700 516h8M1645 650h8M1707 836h8M1769 567h8M1693 569h8M1788 817h8M1690 715h8M1811 700h8M1719 618h8M1625 688h8M1730 614h8M1795 469h8M1795 921h8M1697 805h8M1732 447h8M1608 507h8M1826 804h8M1603 677h8M1618 555h8M1599 437h8M1760 643h8M1795 860h8M1598 613h8M1695 707h8M1699 705h8M1807 563h8M1759 552h8M1687 480h8M1677 604h8M1753 730h8M1748 694h8M1689 595h8M1657 476h8M1685 637h8M1706 590h8M1590 702h8M1816 701h8M1695 688h8M1853 800h8M1635 625h8M1694 440h8M1560 642h8M1778 426h8M1664 609h8M1787 756h8M1669 422h8M1749 593h8M1736 730h8M1741 818h8M1836 422h8M1765 659h8M1697 564h8M1714 688h8M1673 769h8M1768 657h8M1702 642h8M1684 683h8M1613 644h8M1718 403h8M1732 656h8M1701 488h8M1604 717h8M1657 836h8M1599 683h8M1715 847h8M1648 642h8M1729 434h8M1857 826h8M1685 710h8M1638 689h8M1715 616h8M1754 503h8M1646 748h8M1671 658h8M1802 894h8M1619 617h8M1725 771h8M1796 961h8M1755 634h8M1715 765h8M1761 624h8M1622 781h8M1689 625h8M1683 791h8M1682 772h8M1702 651h8M1732 684h8M1655 620h8M1844 728h8M1686 633h8M1723 539h8M1730 752h8M1827 415h8M1701 509h8M1649 667h8M1719 725h8M1569 688h8M1675 656h8M1583 798h8M1701 663h8M1607 519h8M1646 694h8M1693 692h8M1668 491h8M1621 773h8M1726 546h8M1654 741h8M1675 889h8M1667 662h8" stroke="#000" stroke-width="8" stroke-opacity="0.28" fill="none"/>
<rect x="151.9" y="38.1" width="45.3" height="40.4" fill="none" stroke="#555" stroke-width="0.9"/>
<rect x="151.9" y="85.2" width="45.3" height="12.9" fill="none" stroke="#555" stroke-width="0.9"/>
<text x="199.6" y="45.4" font-size="7.6" textLength="14.7" lengthAdjust="spacingAndGlyphs">44.1</text>
<text x="199.6" y="92.2" font-size="7.6" textLength="14.7" lengthAdjust="spacingAndGlyphs">47.0</text>
<line x1="192.3" y1="63.2" x2="234.9" y2="63.2" stroke="#111" stroke-width="1.1"/>
<path d="M240.3 63.2L232.8 66.3L234.4 63.2L232.8 60.1Z" fill="#111"/>
<rect x="146.5" y="109.6" width="70.9" height="70.70000000000002" fill="none" stroke="#666" stroke-width="0.8"/>
<path d="M144.9 109.6h1.6M144.9 112.1h1.6M144.9 114.6h1.6M144.9 117.2h1.6M144.9 119.7h1.6M144.9 122.2h1.6M144.9 124.8h1.6M144.9 127.3h1.6M144.9 129.8h1.6M144.9 132.3h1.6M144.9 134.8h1.6M144.9 137.4h1.6M144.9 139.9h1.6M144.9 142.4h1.6M144.9 144.9h1.6M144.9 147.5h1.6M144.9 150.0h1.6M144.9 152.5h1.6M144.9 155.1h1.6M144.9 157.6h1.6M144.9 160.1h1.6M144.9 162.6h1.6M144.9 165.2h1.6M144.9 167.7h1.6M144.9 170.2h1.6M144.9 172.7h1.6M144.9 175.2h1.6M144.9 177.8h1.6M144.9 180.3h1.6M146.5 180.3v1.4M149.0 180.3v1.4M151.6 180.3v1.4M154.1 180.3v1.4M156.6 180.3v1.4M159.2 180.3v1.4M161.7 180.3v1.4M164.2 180.3v1.4M166.8 180.3v1.4M169.3 180.3v1.4M171.8 180.3v1.4M174.4 180.3v1.4M176.9 180.3v1.4M179.4 180.3v1.4M181.9 180.3v1.4M184.5 180.3v1.4M187.0 180.3v1.4M189.5 180.3v1.4M192.1 180.3v1.4M194.6 180.3v1.4M197.1 180.3v1.4M199.7 180.3v1.4M202.2 180.3v1.4M204.7 180.3v1.4M207.3 180.3v1.4M209.8 180.3v1.4M212.3 180.3v1.4M214.9 180.3v1.4M217.4 180.3v1.4" stroke="#555" stroke-width="0.5" fill="none"/>
<text x="143.3" y="118.6" font-size="3.4" fill="#333" text-anchor="middle" transform="rotate(-60 143.3 118.6)">10<tspan dy="-1.3" font-size="2.6">5</tspan></text>
<path d="M144.7 117.0h1.8" stroke="#222" stroke-width="0.9" fill="none"/>
<text x="143.3" y="134.1" font-size="3.4" fill="#333" text-anchor="middle" transform="rotate(-60 143.3 134.1)">10<tspan dy="-1.3" font-size="2.6">4</tspan></text>
<path d="M144.7 132.5h1.8" stroke="#222" stroke-width="0.9" fill="none"/>
<text x="143.3" y="150.6" font-size="3.4" fill="#333" text-anchor="middle" transform="rotate(-60 143.3 150.6)">10<tspan dy="-1.3" font-size="2.6">3</tspan></text>
<path d="M144.7 149.0h1.8" stroke="#222" stroke-width="0.9" fill="none"/>
<text x="142.3" y="169.5" font-size="3.6" fill="#333" text-anchor="middle">0</text>
<path d="M144.7 168.3h1.8" stroke="#222" stroke-width="0.9" fill="none"/>
<text x="148.1" y="185.5" font-size="2.9" fill="#444" text-anchor="middle">0</text>
<path d="M148.1 180.3v1.8" stroke="#222" stroke-width="0.8"/>
<text x="161.2" y="185.5" font-size="2.9" fill="#444" text-anchor="middle">50K</text>
<path d="M161.2 180.3v1.8" stroke="#222" stroke-width="0.8"/>
<text x="174.3" y="185.5" font-size="2.9" fill="#444" text-anchor="middle">100K</text>
<path d="M174.3 180.3v1.8" stroke="#222" stroke-width="0.8"/>
<text x="187.4" y="185.5" font-size="2.9" fill="#444" text-anchor="middle">150K</text>
<path d="M187.4 180.3v1.8" stroke="#222" stroke-width="0.8"/>
<text x="200.5" y="185.5" font-size="2.9" fill="#444" text-anchor="middle">200K</text>
<path d="M200.5 180.3v1.8" stroke="#222" stroke-width="0.8"/>
<text x="213.6" y="185.5" font-size="2.9" fill="#444" text-anchor="middle">250K</text>
<path d="M213.6 180.3v1.8" stroke="#222" stroke-width="0.8"/>
<path transform="scale(.1)" d="M1603 1708h8M1572 1702h8M1592 1674h8M1657 1683h8M1599 1696h8M1634 1679h8M1618 1659h8M1589 1670h8M1560 1647h8M1551 1675h8M1595 1673h8M1602 1651h8M1598 1685h8M1623 1661h8M1588 1636h8M1585 1632h8M1557 1704h8M1534 1698h8M1610 1673h8M1614 1692h8M1631 1675h8M1582 1667h8M1570 1679h8M1576 1704h8M1544 1656h8M1571 1634h8M1657 1627h8M1592 1668h8M1650 1636h8M1632 1664h8M1595 1665h8M1619 1655h8M1598 1688h8M1655 1627h8M1646 1701h8M1585 1687h8M1586 1716h8M1606 1675h8M1593 1676h8M1595 1661h8M1662 1638h8M1492 1677h8M1596 1688h8M1594 1677h8M1610 1701h8M1587 1672h8M1658 1692h8M1570 1731h8M1623 1667h8M1565 1687h8M1575 1657h8M1561 1669h8M1633 1670h8M1557 1695h8M1602 1699h8M1636 1676h8M1596 1679h8M1566 1695h8M1641 1684h8M1593 1674h8M1577 1662h8M1588 1661h8M1587 1645h8M1611 1681h8M1565 1629h8M1600 1704h8M1578 1669h8M1583 1694h8M1573 1702h8M1591 1700h8M1601 1675h8M1556 1665h8M1592 1695h8M1607 1665h8M1612 1702h8M1596 1670h8M1588 1698h8M1616 1660h8M1611 1669h8M1577 1707h8M1625 1664h8M1602 1691h8M1581 1677h8M1620 1641h8M1610 1696h8M1615 1650h8M1610 1661h8M1617 1693h8M1606 1663h8M1582 1699h8M1573 1691h8M1615 1674h8M1672 1682h8M1664 1636h8M1533 1702h8M1619 1673h8M1598 1638h8M1581 1657h8M1593 1699h8M1602 1688h8M1579 1670h8M1603 1674h8M1638 1661h8M1657 1658h8M1632 1663h8M1649 1683h8M1612 1696h8M1581 1657h8M1539 1707h8M1579 1667h8M1599 1724h8M1548 1685h8M1588 1692h8M1546 1671h8M1625 1714h8M1648 1661h8M1602 1678h8M1559 1648h8M1623 1685h8M1596 1707h8M1570 1692h8M1600 1679h8M1615 1684h8M1608 1686h8M1658 1673h8M1630 1693h8M1590 1698h8M1574 1706h8M1576 1669h8M1610 1698h8M1627 1700h8M1594 1659h8M1616 1687h8M1571 1701h8M1606 1659h8M1613 1651h8M1574 1689h8M1553 1681h8M1559 1696h8M1578 1684h8M1555 1672h8M1628 1690h8M1545 1700h8M1627 1672h8M1643 1657h8M1597 1705h8M1639 1708h8M1567 1641h8M1612 1649h8M1596 1652h8M1632 1698h8M1617 1680h8M1601 1673h8M1612 1685h8M1614 1671h8M1657 1686h8M1642 1709h8M1574 1643h8M1638 1671h8M1602 1674h8M1604 1654h8M1597 1670h8M1600 1629h8M1625 1687h8M1548 1664h8M1601 1694h8M1600 1710h8M1601 1658h8M1580 1696h8M1582 1699h8M1631 1693h8M1631 1676h8M1600 1667h8M1582 1646h8M1583 1656h8M1557 1683h8M1614 1672h8M1641 1701h8M1631 1667h8M1555 1692h8M1609 1696h8M1613 1708h8M1591 1695h8M1573 1629h8M1587 1713h8M1550 1702h8M1580 1671h8M1601 1685h8M1571 1683h8M1613 1698h8M1577 1714h8M1657 1733h8M1560 1684h8M1544 1688h8M1617 1655h8M1552 1684h8M1619 1663h8M1592 1624h8M1579 1683h8M1605 1715h8M1566 1630h8M1614 1667h8M1609 1696h8M1618 1712h8M1641 1643h8M1598 1724h8M1588 1701h8M1598 1671h8M1647 1703h8M1593 1700h8M1561 1664h8M1627 1681h8M1568 1690h8M1610 1708h8M1629 1674h8M1585 1677h8M1593 1712h8M1648 1710h8M1611 1675h8M1627 1672h8M1607 1643h8M1587 1712h8M1569 1647h8M1595 1717h8M1644 1672h8M1586 1678h8M1572 1681h8M1591 1648h8M1583 1674h8M1574 1655h8M1627 1722h8M1591 1671h8M1615 1675h8M1577 1711h8M1569 1664h8M1580 1661h8M1593 1693h8M1643 1695h8M1601 1652h8M1598 1659h8M1597 1702h8M1606 1675h8M1577 1680h8M1603 1660h8M1585 1699h8M1550 1670h8M1565 1714h8M1618 1691h8M1612 1686h8M1609 1645h8M1608 1693h8M1557 1698h8M1620 1647h8M1586 1673h8M1584 1689h8M1562 1675h8M1607 1696h8M1601 1675h8M1621 1636h8M1628 1673h8M1562 1671h8M1545 1635h8M1590 1663h8M1622 1660h8M1561 1659h8M1651 1681h8M1582 1658h8M1567 1676h8M1613 1705h8M1634 1686h8M1580 1661h8M1531 1658h8M1613 1673h8M1611 1650h8M1627 1686h8M1601 1689h8M1533 1668h8M1573 1720h8M1595 1669h8M1626 1657h8M1643 1665h8M1598 1660h8M1624 1632h8M1621 1662h8M1601 1655h8M1607 1684h8M1618 1687h8M1619 1702h8M1588 1654h8M1562 1695h8M1589 1703h8M1601 1658h8M1627 1723h8M1595 1659h8M1575 1700h8M1582 1671h8M1621 1680h8M1603 1668h8M1581 1684h8M1605 1693h8M1585 1688h8M1614 1682h8M1617 1702h8M1606 1682h8M1571 1687h8M1597 1673h8M1575 1693h8M1677 1690h8M1603 1690h8M1582 1682h8M1580 1666h8M1607 1685h8M1597 1663h8M1608 1656h8M1623 1672h8M1600 1697h8M1617 1652h8M1593 1688h8M1567 1627h8M1598 1679h8M1613 1682h8M1604 1685h8M1641 1691h8M1616 1671h8M1634 1676h8M1622 1634h8M1607 1678h8M1586 1708h8M1612 1677h8M1584 1721h8M1622 1694h8M1577 1709h8M1617 1674h8M1597 1644h8M1620 1656h8M1625 1670h8M1581 1688h8M1606 1655h8M1598 1693h8M1592 1650h8M1593 1659h8M1583 1681h8M1598 1675h8M1551 1688h8M1594 1671h8M1605 1722h8M1561 1645h8M1623 1663h8M1639 1658h8M1586 1698h8M1627 1690h8M1614 1677h8M1587 1676h8M1638 1695h8M1601 1687h8M1625 1706h8M1596 1678h8M1610 1737h8M1607 1708h8M1554 1699h8M1558 1656h8M1581 1677h8M1605 1688h8M1607 1670h8M1677 1689h8M1620 1724h8M1629 1693h8M1610 1721h8M1568 1659h8M1604 1636h8M1577 1705h8M1586 1684h8M1621 1655h8M1608 1666h8M1567 1674h8M1598 1671h8M1580 1701h8M1634 1692h8M1597 1657h8M1576 1656h8M1606 1700h8M1627 1679h8M1589 1684h8M1604 1693h8M1644 1665h8M1662 1634h8M1547 1647h8M1570 1675h8M1661 1665h8M1633 1672h8M1605 1658h8M1667 1679h8M1582 1730h8M1605 1689h8M1596 1662h8M1557 1676h8M1648 1689h8M1595 1703h8M1572 1710h8M1600 1662h8M1620 1691h8M1590 1685h8M1629 1711h8M1575 1623h8M1661 1674h8M1588 1689h8M1587 1703h8M1563 1676h8M1563 1713h8M1593 1704h8M1641 1654h8M1593 1696h8M1601 1677h8M1625 1700h8M1582 1677h8M1619 1685h8M1604 1656h8M1652 1675h8M1608 1679h8M1602 1683h8M1575 1688h8M1636 1689h8M1622 1691h8M1601 1720h8M1580 1688h8M1631 1686h8M1569 1656h8M1647 1659h8M1600 1692h8M1603 1641h8M1544 1678h8M1577 1674h8M1603 1684h8M1560 1643h8M1628 1666h8M1565 1636h8M1616 1652h8M1569 1694h8M1609 1692h8M1562 1617h8M1571 1673h8M1580 1699h8M1611 1657h8M1617 1677h8M1586 1705h8M1550 1703h8M1633 1635h8M1594 1676h8M1566 1667h8M1576 1681h8M1583 1633h8M1636 1700h8M1575 1699h8M1660 1646h8M1588 1669h8M1617 1673h8M1558 1708h8M1590 1696h8M1668 1664h8M1588 1700h8M1597 1691h8M1600 1742h8M1619 1688h8M1604 1689h8M1551 1674h8M1622 1654h8M1601 1678h8M1585 1735h8M1621 1687h8M1576 1682h8M1591 1678h8M1607 1735h8M1640 1718h8M1641 1742h8M1580 1652h8M1606 1686h8M1601 1666h8M1621 1718h8M1607 1675h8M1636 1673h8M1589 1687h8M1532 1722h8M1597 1691h8M1610 1689h8M1560 1719h8M1617 1687h8M1695 1652h8M1622 1678h8M1555 1723h8M1553 1683h8M1598 1684h8M1572 1710h8M1608 1652h8M1564 1686h8M1565 1690h8M1610 1667h8M1542 1651h8M1611 1669h8M1656 1670h8M1612 1695h8M1603 1687h8M1630 1677h8M1610 1672h8M1660 1684h8M1625 1615h8M1586 1655h8M1601 1670h8M1569 1674h8M1625 1704h8M1584 1703h8M1582 1694h8M1574 1703h8M1670 1674h8M1637 1648h8M1581 1739h8M1598 1691h8M1551 1680h8M1577 1707h8M1584 1736h8M1567 1687h8M1540 1671h8M1637 1678h8M1561 1691h8M1629 1690h8M1630 1649h8M1655 1696h8M1537 1721h8M1586 1691h8M1541 1666h8M1545 1699h8M1593 1660h8M1589 1705h8M1577 1693h8M1565 1643h8M1585 1674h8M1605 1701h8M1588 1672h8M1623 1689h8M1598 1685h8M1534 1668h8M1552 1672h8M1627 1643h8M1628 1668h8M1594 1670h8M1621 1665h8M1538 1687h8M1596 1694h8M1618 1653h8M1606 1683h8M1598 1682h8M1609 1668h8M1595 1702h8M1568 1678h8M1570 1657h8M1588 1684h8M1646 1676h8M1628 1692h8M1602 1612h8M1604 1681h8M1569 1683h8M1644 1655h8M1585 1700h8M1546 1657h8M1609 1701h8M1636 1697h8M1669 1689h8M1561 1676h8M1619 1688h8M1542 1688h8M1576 1676h8M1644 1676h8M1580 1677h8M1581 1725h8M1625 1700h8M1580 1666h8M1608 1632h8M1631 1652h8M1603 1687h8M1576 1688h8M1621 1722h8M1612 1720h8M1614 1676h8M1626 1669h8M1605 1694h8M1634 1686h8M1556 1709h8M1605 1673h8M1576 1693h8M1610 1695h8M1596 1714h8M1592 1689h8M1606 1703h8M1579 1673h8M1593 1665h8M1580 1653h8M1622 1713h8M1571 1697h8M1566 1662h8M1590 1683h8M1614 1638h8M1561 1682h8M1593 1727h8M1592 1666h8M1636 1621h8M1544 1740h8M1581 1681h8M1594 1660h8M1596 1651h8M1629 1697h8M1620 1660h8M1542 1669h8M1567 1688h8M1551 1660h8M1604 1689h8M1603 1652h8M1579 1724h8M1628 1662h8M1657 1677h8M1600 1662h8M1645 1682h8M1597 1660h8M1562 1684h8M1600 1714h8M1573 1672h8M1629 1698h8M1580 1712h8M1614 1699h8M1610 1701h8M1587 1675h8M1632 1689h8M1611 1705h8M1607 1689h8M1534 1668h8M1624 1661h8M1591 1685h8M1596 1699h8M1614 1676h8M1632 1672h8M1579 1687h8M1619 1677h8M1568 1669h8M1607 1695h8M1653 1676h8M1593 1633h8M1638 1700h8M1600 1664h8M1522 1696h8M1576 1713h8M1623 1708h8M1596 1706h8M1558 1712h8M1599 1654h8M1588 1659h8M1608 1664h8M1562 1672h8M1593 1684h8M1621 1708h8M1612 1716h8M1526 1678h8M1628 1651h8M1594 1685h8M1553 1667h8M1618 1673h8M1646 1732h8M1598 1655h8M1599 1668h8M1557 1671h8M1586 1672h8M1627 1703h8M1612 1672h8M1612 1680h8M1607 1659h8M1508 1699h8M1582 1669h8M1599 1679h8M1591 1713h8M1604 1685h8M1573 1678h8M1614 1678h8M1610 1659h8M1611 1658h8M1587 1663h8M1605 1704h8M1609 1661h8M1604 1703h8M1622 1691h8M1566 1668h8M1580 1670h8M1607 1681h8M1589 1692h8M1579 1673h8M1603 1650h8M1574 1649h8M1569 1677h8M1596 1687h8M1610 1655h8M1656 1709h8M1564 1665h8M1586 1684h8M1618 1680h8M1523 1743h8M1625 1698h8M1578 1682h8M1628 1670h8M1634 1682h8M1647 1681h8M1644 1645h8M1643 1690h8M1589 1703h8M1592 1698h8M1628 1703h8M1666 1710h8M1674 1695h8M1604 1689h8M1599 1653h8M1604 1654h8M1591 1673h8M1583 1657h8M1603 1679h8M1641 1694h8M1628 1670h8M1591 1653h8M1574 1696h8M1594 1677h8M1583 1714h8M1598 1705h8M1599 1701h8M1571 1651h8M1633 1673h8M1608 1699h8M1621 1686h8M1564 1665h8M1601 1694h8M1615 1688h8M1577 1680h8M1629 1661h8M1583 1700h8M1647 1689h8M1600 1659h8M1596 1663h8M1604 1696h8M1613 1708h8M1570 1652h8M1641 1703h8M1571 1683h8M1568 1680h8M1609 1701h8M1571 1652h8M1617 1673h8M1642 1655h8M1581 1620h8M1634 1709h8M1612 1673h8M1540 1650h8M1584 1722h8M1627 1667h8M1613 1692h8M1615 1660h8M1587 1702h8M1621 1673h8M1673 1686h8M1588 1700h8M1624 1677h8M1654 1704h8M1601 1696h8M1620 1674h8M1622 1668h8M1593 1694h8M1563 1673h8M1571 1696h8M1583 1720h8M1646 1665h8M1605 1672h8M1600 1695h8M1644 1728h8M1655 1653h8M1586 1676h8M1591 1683h8M1619 1670h8M1583 1732h8M1621 1727h8M1583 1710h8M1650 1709h8M1578 1692h8M1577 1656h8M1600 1691h8M1594 1678h8M1619 1665h8M1613 1697h8M1620 1693h8M1570 1674h8M1587 1696h8M1548 1683h8M1553 1694h8M1585 1681h8M1628 1717h8M1571 1683h8M1542 1676h8M1580 1695h8M1597 1682h8M1573 1551h8M1572 1568h8M1554 1579h8M1637 1703h8M1657 1641h8M1631 1652h8M1607 1590h8M1548 1540h8M1658 1489h8M1622 1569h8M1597 1585h8M1616 1516h8M1615 1481h8M1662 1574h8M1645 1528h8M1670 1627h8M1621 1583h8M1627 1536h8M1607 1559h8M1617 1648h8M1649 1588h8M1634 1559h8M1601 1490h8M1572 1508h8M1609 1562h8M1620 1629h8M1635 1566h8M1596 1555h8M1636 1528h8M1560 1555h8M1642 1634h8M1640 1478h8M1602 1605h8M1640 1665h8M1576 1586h8M1557 1555h8M1593 1610h8M1624 1485h8M1604 1588h8M1664 1539h8M1583 1539h8M1647 1560h8M1611 1593h8M1577 1622h8M1546 1656h8M1591 1523h8M1590 1511h8M1583 1528h8M1571 1558h8M1624 1543h8M1620 1530h8M1619 1555h8M1572 1572h8M1607 1537h8M1606 1596h8M1570 1542h8M1632 1572h8M1627 1691h8M1565 1584h8M1591 1640h8M1636 1503h8M1647 1574h8M1599 1570h8M1621 1528h8M1591 1636h8M1577 1537h8M1641 1526h8M1602 1585h8M1580 1552h8M1580 1557h8M1620 1571h8M1617 1589h8M1642 1520h8M1607 1649h8M1603 1556h8M1613 1534h8M1629 1571h8M1601 1606h8M1658 1504h8M1594 1555h8M1558 1599h8M1680 1616h8M1662 1477h8M1600 1503h8M1638 1566h8M1602 1593h8M1629 1653h8M1654 1620h8M1548 1627h8M1620 1495h8M1617 1558h8M1603 1617h8M1560 1598h8M1656 1517h8M1661 1541h8M1580 1614h8M1617 1478h8M1585 1602h8M1593 1545h8M1610 1570h8M1590 1522h8M1620 1632h8M1520 1583h8M1649 1529h8M1667 1500h8M1636 1653h8M1675 1443h8M1616 1521h8M1618 1641h8M1617 1653h8M1555 1523h8M1589 1602h8M1656 1532h8M1574 1611h8M1562 1594h8M1582 1563h8M1683 1563h8M1615 1530h8M1623 1648h8M1638 1507h8M1616 1649h8M1577 1560h8M1580 1538h8M1581 1500h8M1627 1569h8M1539 1511h8M1589 1513h8M1616 1560h8M1629 1504h8M1586 1546h8M1598 1551h8M1584 1562h8M1671 1538h8M1551 1579h8M1575 1607h8M1639 1657h8M1623 1487h8M1662 1621h8M1654 1579h8M1598 1570h8M1542 1614h8M1591 1538h8M1627 1528h8M1641 1542h8M1687 1640h8M1633 1589h8M1614 1546h8M1546 1537h8M1585 1543h8M1621 1477h8M1570 1533h8M1590 1614h8M1704 1571h8M1633 1572h8M1612 1658h8M1614 1599h8M1615 1540h8M1649 1566h8M1667 1520h8M1619 1656h8M1587 1586h8M1660 1597h8M1584 1552h8M1624 1542h8M1595 1576h8M1560 1650h8M1590 1568h8M1608 1642h8M1588 1671h8M1672 1613h8M1569 1502h8M1601 1584h8M1628 1634h8M1626 1575h8M1633 1471h8M1658 1499h8M1546 1530h8M1601 1509h8M1603 1574h8M1631 1592h8M1592 1575h8M1656 1562h8M1615 1465h8M1612 1674h8M1637 1562h8M1649 1637h8M1663 1517h8M1567 1603h8M1627 1596h8M1556 1606h8M1673 1636h8M1698 1602h8M1607 1662h8M1656 1460h8M1556 1580h8M1585 1659h8M1660 1640h8M1600 1559h8M1640 1557h8M1633 1588h8M1637 1579h8M1597 1424h8M1570 1494h8M1640 1501h8M1588 1593h8M1630 1624h8M1619 1650h8M1585 1627h8M1565 1546h8M1622 1603h8M1604 1537h8M1577 1453h8M1535 1646h8M1554 1486h8M1554 1551h8M1603 1539h8M1565 1559h8M1559 1582h8M1666 1527h8M1620 1545h8M1602 1502h8M1612 1569h8M1644 1694h8M1567 1623h8M1583 1540h8M1566 1590h8M1653 1568h8M1621 1530h8M1604 1503h8M1616 1467h8M1684 1640h8M1591 1544h8M1594 1574h8M1610 1665h8M1602 1472h8M1617 1591h8M1577 1607h8M1606 1529h8M1612 1504h8M1588 1654h8M1649 1603h8M1613 1584h8M1567 1575h8M1587 1536h8M1668 1537h8M1612 1574h8M1646 1560h8M1626 1591h8M1606 1540h8M1569 1620h8M1574 1625h8M1671 1547h8M1581 1517h8M1586 1635h8M1587 1514h8M1551 1570h8M1619 1647h8M1620 1569h8M1596 1715h8M1662 1620h8M1599 1560h8M1607 1565h8M1630 1537h8M1680 1527h8M1630 1610h8M1638 1642h8M1620 1582h8M1656 1640h8M1607 1614h8M1566 1587h8M1532 1626h8M1584 1616h8M1629 1543h8M1633 1657h8M1572 1664h8M1629 1528h8M1600 1589h8M1640 1534h8M1596 1595h8M1612 1671h8M1636 1619h8M1584 1525h8M1575 1566h8M1626 1658h8M1649 1534h8M1600 1680h8M1614 1600h8M1570 1499h8M1596 1558h8M1630 1568h8M1541 1689h8M1632 1491h8M1667 1620h8M1605 1574h8M1639 1460h8M1645 1589h8M1638 1546h8M1583 1650h8M1489 1624h8M1659 1496h8M1607 1538h8M1598 1508h8M1565 1573h8M1599 1600h8M1641 1548h8M1678 1661h8M1558 1560h8M1597 1593h8M1570 1649h8M1589 1678h8M1576 1668h8M1622 1620h8M1622 1592h8M1578 1560h8M1587 1560h8M1595 1610h8M1623 1559h8M1547 1614h8M1587 1551h8M1627 1571h8M1614 1577h8M1543 1601h8M1601 1610h8M1616 1551h8M1660 1582h8M1643 1605h8M1634 1626h8M1637 1528h8M1597 1638h8M1608 1553h8M1608 1619h8M1582 1566h8M1598 1537h8M1639 1546h8M1611 1590h8M1625 1596h8M1640 1538h8M1523 1607h8M1670 1557h8M1608 1614h8M1583 1566h8M1594 1597h8M1606 1653h8M1583 1535h8M1562 1578h8M1608 1560h8M1636 1526h8M1553 1671h8M1615 1524h8M1646 1581h8M1577 1585h8M1644 1611h8M1601 1654h8M1582 1560h8M1632 1523h8M1633 1593h8M1643 1590h8M1685 1512h8M1600 1545h8M1609 1604h8M1571 1618h8M1649 1582h8M1561 1599h8M1630 1527h8M1590 1544h8M1561 1586h8M1648 1593h8M1588 1568h8M1602 1663h8M1594 1595h8M1596 1628h8M1582 1595h8M1597 1600h8M1563 1564h8M1646 1609h8M1564 1696h8M1628 1561h8M1603 1526h8M1659 1640h8M1666 1527h8M1556 1460h8M1563 1540h8M1577 1486h8M1631 1538h8M1616 1631h8M1585 1543h8M1660 1499h8M1598 1512h8M1605 1538h8M1619 1546h8M1654 1534h8M1603 1602h8M1581 1535h8M1607 1548h8M1639 1535h8M1554 1595h8M1583 1534h8M1595 1623h8M1636 1580h8M1620 1548h8M1688 1508h8M1594 1486h8M1592 1365h8M1593 1534h8M1708 1441h8M1603 1518h8M1599 1536h8M1589 1491h8M1588 1544h8M1646 1385h8M1662 1265h8M1631 1475h8M1733 1368h8M1667 1524h8M1665 1411h8M1649 1374h8M1657 1351h8M1615 1433h8M1614 1337h8M1629 1450h8M1656 1462h8M1697 1436h8M1695 1367h8M1653 1484h8M1711 1398h8M1706 1433h8M1636 1314h8M1675 1397h8M1665 1447h8M1664 1439h8M1614 1397h8M1631 1461h8M1597 1491h8M1572 1330h8M1658 1456h8M1701 1515h8M1608 1350h8M1637 1426h8M1668 1398h8M1616 1375h8M1642 1371h8M1623 1481h8M1639 1354h8M1647 1487h8M1606 1398h8M1585 1348h8M1605 1328h8M1591 1559h8M1682 1405h8M1650 1436h8M1658 1291h8M1639 1348h8M1618 1419h8M1522 1229h8M1636 1523h8M1679 1354h8M1613 1469h8M1648 1271h8M1669 1385h8M1651 1303h8M1579 1506h8M1612 1458h8M1695 1439h8M1638 1410h8M1662 1457h8M1636 1541h8M1641 1518h8M1605 1405h8M1668 1375h8M1581 1414h8M1612 1452h8M1700 1405h8M1596 1401h8M1617 1388h8M1672 1474h8M1652 1413h8M1672 1427h8M1700 1438h8M1625 1477h8M1733 1316h8M1664 1346h8M1576 1389h8M1683 1316h8M1600 1554h8M1686 1411h8M1659 1436h8M1620 1367h8M1689 1388h8M1634 1391h8M1579 1405h8M1716 1365h8M1620 1511h8M1652 1428h8M1654 1452h8M1640 1368h8M1634 1302h8M1641 1412h8M1626 1312h8M1632 1295h8M1669 1346h8M1676 1370h8M1654 1469h8M1670 1409h8M1556 1445h8M1625 1314h8M1589 1439h8M1654 1455h8M1650 1506h8M1621 1424h8M1627 1404h8M1627 1440h8M1613 1433h8M1672 1411h8M1664 1367h8M1585 1543h8M1616 1511h8M1582 1249h8M1635 1408h8M1539 1464h8M1664 1380h8M1650 1473h8M1642 1386h8M1663 1399h8M1627 1328h8M1625 1514h8M1620 1387h8M1586 1403h8M1667 1419h8M1645 1506h8M1606 1379h8M1660 1409h8M1593 1420h8M1638 1504h8M1597 1445h8M1679 1231h8M1662 1424h8M1554 1543h8M1647 1447h8M1713 1512h8M1595 1422h8M1687 1522h8M1693 1433h8M1683 1389h8M1620 1469h8M1623 1466h8M1625 1445h8M1707 1478h8M1690 1332h8M1602 1487h8M1576 1389h8M1609 1506h8M1572 1380h8M1633 1434h8M1559 1503h8M1647 1520h8M1649 1474h8M1626 1405h8M1583 1449h8M1576 1499h8M1659 1386h8M1656 1314h8M1601 1372h8M1585 1375h8M1631 1377h8M1613 1337h8M1552 1454h8M1605 1508h8M1594 1384h8M1644 1527h8M1662 1492h8M1575 1455h8M1725 1284h8M1624 1582h8M1589 1438h8M1702 1475h8M1631 1486h8M1619 1476h8M1620 1484h8M1602 1412h8M1661 1270h8M1672 1407h8M1624 1324h8M1639 1360h8M1642 1542h8M1623 1374h8M1631 1407h8M1672 1287h8M1654 1426h8M1627 1314h8M1657 1508h8M1638 1477h8M1664 1444h8M1675 1359h8M1689 1258h8M1662 1545h8M1687 1375h8M1618 1466h8M1598 1450h8M1617 1533h8M1621 1387h8M1646 1505h8M1635 1329h8M1600 1308h8M1647 1355h8M1648 1327h8M1618 1464h8M1581 1501h8M1643 1371h8M1622 1421h8M1608 1382h8M1663 1294h8M1719 1501h8M1659 1594h8M1662 1429h8M1624 1467h8M1697 1375h8M1705 1413h8M1581 1516h8M1607 1476h8M1576 1471h8M1604 1508h8M1581 1371h8M1594 1438h8M1599 1398h8M1638 1397h8M1637 1448h8M1563 1491h8M1600 1366h8M1706 1388h8M1621 1476h8M1610 1415h8M1625 1412h8M1579 1494h8M1629 1469h8M1641 1385h8M1685 1380h8M1678 1380h8M1605 1430h8M1713 1504h8M1634 1458h8M1683 1401h8M1572 1344h8M1639 1376h8M1610 1528h8M1630 1384h8M1623 1513h8M1692 1485h8M1628 1395h8M1597 1379h8M1663 1474h8M1656 1358h8M1638 1379h8M1691 1437h8M1630 1426h8M1633 1433h8M1611 1443h8M1628 1489h8M1648 1477h8M1615 1426h8M1559 1355h8M1642 1258h8M1669 1500h8M1617 1592h8M1574 1424h8M1643 1394h8M1680 1512h8M1661 1365h8M1643 1434h8M1668 1331h8M1585 1499h8M1638 1422h8M1659 1238h8M1703 1332h8M1582 1458h8M1674 1518h8M1623 1367h8M1656 1447h8M1553 1511h8M1557 1444h8M1639 1480h8M1630 1487h8M1654 1368h8M1597 1521h8M1555 1467h8M1629 1303h8M1597 1456h8M1520 1476h8M1685 1406h8M1620 1429h8M1678 1360h8M1613 1449h8M1574 1442h8M1624 1484h8M1592 1418h8M1648 1433h8M1583 1502h8M1629 1438h8M1630 1476h8M1644 1381h8M1667 1428h8M1636 1443h8M1589 1428h8M1660 1330h8M1624 1422h8M1664 1410h8M1631 1473h8M1596 1370h8M1616 1477h8M1684 1443h8M1635 1395h8M1622 1546h8M1635 1393h8M1696 1430h8M1636 1369h8M1677 1420h8M1586 1271h8M1652 1395h8M1648 1467h8M1678 1536h8M1597 1403h8M1597 1485h8M1573 1465h8M1560 1491h8M1694 1321h8M1641 1387h8M1563 1484h8M1595 1497h8M1634 1558h8M1609 1484h8M1646 1404h8M1674 1439h8M1616 1439h8M1574 1497h8M1713 1334h8M1643 1404h8M1600 1483h8M1697 1460h8M1607 1547h8M1628 1379h8M1604 1490h8M1636 1440h8M1608 1450h8M1616 1552h8M1643 1359h8M1696 1457h8M1629 1462h8M1657 1280h8M1621 1517h8M1677 1380h8M1618 1461h8M1710 1466h8M1650 1391h8M1625 1392h8M1644 1363h8M1631 1347h8M1671 1480h8M1631 1411h8M1662 1447h8M1643 1240h8M1558 1465h8M1635 1375h8M1560 1465h8M1589 1433h8M1637 1391h8M1588 1445h8M1589 1379h8M1618 1507h8M1617 1436h8M1681 1262h8M1603 1399h8M1599 1482h8M1609 1467h8M1672 1414h8M1634 1531h8M1670 1437h8M1577 1373h8M1628 1451h8M1641 1429h8M1590 1465h8M1671 1430h8M1629 1487h8M1616 1455h8M1678 1386h8M1640 1374h8M1612 1292h8M1622 1603h8M1607 1536h8M1678 1408h8M1673 1406h8M1548 1480h8M1627 1415h8M1653 1503h8M1625 1449h8M1656 1375h8M1670 1397h8M1642 1499h8M1691 1302h8M1611 1406h8M1607 1417h8M1631 1436h8M1719 1461h8M1645 1379h8M1629 1416h8M1671 1349h8M1638 1357h8M1564 1472h8M1625 1454h8M1684 1541h8M1629 1454h8M1619 1413h8M1569 1475h8M1629 1503h8M1712 1382h8M1644 1417h8M1685 1422h8M1677 1603h8M1693 1581h8M1649 1437h8M1582 1439h8M1585 1356h8M1672 1507h8M1573 1580h8M1605 1349h8M1675 1551h8M1622 1475h8M1569 1480h8M1606 1498h8M1617 1395h8M1657 1482h8M1636 1327h8M1634 1530h8M1678 1342h8M1637 1449h8M1695 1428h8M1610 1542h8M1595 1376h8M1588 1505h8M1601 1472h8M1593 1527h8M1661 1389h8M1657 1458h8M1645 1365h8M1706 1449h8M1621 1439h8M1646 1347h8M1691 1328h8M1688 1307h8M1572 1507h8M1580 1425h8M1632 1527h8M1693 1501h8M1645 1514h8M1689 1327h8M1667 1376h8M1722 1530h8M1591 1557h8M1595 1465h8M1593 1401h8M1657 1341h8M1648 1507h8M1686 1515h8M1643 1491h8M1611 1392h8M1698 1362h8M1606 1491h8M1643 1347h8M1619 1379h8M1595 1384h8M1669 1396h8M1650 1385h8M1621 1478h8M1652 1419h8M1614 1504h8M1635 1329h8M1655 1482h8M1636 1392h8M1673 1527h8M1650 1432h8M1645 1555h8M1603 1487h8M1564 1382h8M1657 1445h8M1583 1481h8M1654 1489h8M1624 1418h8M1625 1450h8M1641 1425h8M1652 1514h8M1629 1521h8M1548 1599h8M1607 1399h8M1643 1504h8M1659 1322h8M1634 1348h8M1674 1407h8M1552 1367h8M1656 1355h8M1669 1318h8M1615 1496h8M1646 1363h8M1598 1496h8M1658 1459h8M1664 1430h8M1637 1423h8M1608 1506h8M1579 1578h8M1668 1419h8M1673 1556h8M1659 1351h8M1639 1434h8M1627 1329h8M1600 1439h8M1620 1495h8M1583 1471h8M1601 1458h8M1630 1532h8M1660 1416h8M1656 1332h8M1632 1467h8M1651 1398h8M1644 1452h8M1658 1370h8M1665 1435h8M1594 1415h8M1664 1544h8M1632 1376h8M1616 1477h8M1684 1450h8M1613 1530h8M1660 1381h8M1618 1493h8M1623 1432h8M1605 1465h8M1678 1522h8M1631 1352h8M1682 1487h8M1565 1520h8M1624 1387h8M1649 1337h8M1580 1522h8M1620 1462h8M1681 1463h8M1626 1470h8M1692 1474h8M1602 1563h8M1701 1358h8M1626 1596h8M1596 1329h8M1667 1401h8M1564 1526h8M1653 1329h8M1694 1330h8M1617 1406h8M1689 1318h8M1661 1249h8M1691 1258h8M1729 1236h8M1694 1269h8M1625 1337h8M1658 1344h8M1630 1299h8M1648 1320h8M1687 1310h8M1632 1310h8M1616 1275h8M1701 1294h8M1689 1298h8M1632 1312h8M1676 1308h8M1655 1386h8M1658 1326h8M1631 1342h8M1638 1315h8M1641 1337h8M1668 1360h8M1658 1339h8M1723 1280h8M1627 1343h8M1664 1316h8M1591 1289h8M1685 1338h8M1662 1304h8M1643 1289h8M1676 1228h8M1707 1265h8M1691 1350h8M1639 1292h8M1662 1360h8M1630 1327h8M1682 1304h8M1674 1292h8M1656 1263h8M1628 1337h8M1670 1336h8M1641 1322h8M1695 1258h8M1637 1255h8M1661 1316h8M1706 1364h8M1579 1305h8M1640 1347h8M1638 1235h8M1626 1327h8M1642 1333h8M1723 1266h8M1643 1317h8M1689 1278h8M1668 1264h8M1697 1353h8M1703 1384h8M1667 1348h8M1681 1314h8M1655 1293h8M1666 1322h8M1695 1321h8M1655 1385h8M1653 1260h8M1739 1271h8M1629 1378h8M1658 1282h8M1664 1299h8M1645 1219h8M1643 1250h8M1650 1269h8M1677 1342h8M1626 1382h8M1731 1240h8M1615 1386h8M1666 1306h8M1648 1302h8M1684 1338h8M1660 1282h8M1637 1353h8M1647 1301h8M1661 1317h8M1601 1422h8M1667 1382h8M1638 1233h8M1666 1296h8M1620 1379h8M1637 1235h8M1712 1337h8M1610 1350h8M1640 1285h8M1654 1307h8M1722 1284h8M1644 1254h8M1666 1262h8M1651 1374h8M1721 1311h8M1670 1286h8M1645 1342h8M1608 1262h8M1639 1265h8M1641 1319h8M1630 1434h8M1702 1281h8M1657 1279h8M1666 1313h8M1679 1317h8M1700 1310h8M1659 1329h8M1665 1312h8M1672 1343h8M1667 1339h8M1652 1292h8M1683 1373h8M1641 1370h8M1638 1375h8M1683 1316h8M1681 1285h8M1651 1285h8M1679 1343h8M1652 1312h8M1631 1296h8M1618 1362h8M1688 1285h8M1630 1379h8M1671 1257h8M1644 1280h8M1664 1251h8M1681 1284h8M1708 1356h8M1622 1261h8M1672 1234h8M1610 1371h8M1643 1276h8M1663 1328h8M1656 1349h8M1631 1360h8M1699 1302h8M1659 1304h8M1657 1256h8M1672 1270h8M1645 1264h8M1674 1265h8M1701 1235h8M1627 1294h8M1659 1257h8M1731 1303h8M1615 1303h8M1700 1378h8M1656 1302h8M1716 1326h8M1679 1251h8M1638 1325h8M1594 1309h8M1656 1299h8M1660 1329h8M1709 1252h8M1692 1294h8M1653 1324h8M1652 1351h8M1635 1332h8M1667 1222h8M1611 1359h8M1648 1343h8M1667 1292h8M1731 1388h8M1629 1313h8M1685 1219h8M1613 1362h8M1691 1385h8M1631 1328h8M1671 1314h8M1646 1322h8M1629 1174h8M1635 1380h8M1630 1273h8M1675 1261h8M1672 1288h8M1654 1258h8M1662 1341h8M1703 1297h8M1625 1305h8M1693 1263h8M1654 1415h8M1701 1253h8M1660 1244h8M1604 1413h8M1660 1283h8M1679 1269h8M1711 1354h8M1657 1357h8M1684 1345h8M1610 1281h8M1724 1294h8M1652 1268h8M1682 1301h8M1635 1360h8M1627 1348h8M1673 1335h8M1690 1322h8M1649 1392h8M1654 1339h8M1661 1281h8M1687 1267h8M1679 1369h8M1685 1314h8M1628 1285h8M1750 1284h8M1684 1331h8M1678 1269h8M1622 1300h8M1668 1312h8M1688 1287h8M1621 1323h8M1677 1217h8M1691 1348h8M1697 1318h8M1682 1266h8M1609 1367h8M1653 1214h8M1637 1296h8M1656 1260h8M1676 1313h8M1704 1301h8M1706 1334h8M1663 1296h8M1679 1311h8M1614 1299h8M1632 1308h8M1617 1311h8M1723 1293h8M1714 1314h8M1632 1311h8M1726 1266h8M1631 1381h8M1652 1321h8M1595 1315h8M1610 1283h8M1700 1249h8M1624 1400h8M1685 1342h8M1681 1336h8M1710 1264h8M1698 1314h8M1643 1304h8M1594 1308h8M1616 1378h8M1629 1382h8M1669 1421h8M1667 1324h8M1620 1268h8M1660 1265h8M1661 1280h8M1643 1340h8M1659 1323h8M1659 1365h8M1644 1281h8M1644 1281h8M1663 1304h8M1685 1217h8M1628 1273h8M1677 1310h8M1684 1345h8M1663 1255h8M1628 1309h8M1597 1322h8M1694 1344h8M1699 1365h8M1642 1388h8M1632 1364h8M1587 1291h8M1624 1313h8M1638 1306h8M1688 1300h8M1667 1337h8M1664 1214h8M1609 1238h8M1654 1403h8M1668 1280h8M1681 1340h8M1626 1330h8M1662 1278h8M1652 1350h8M1670 1354h8M1645 1286h8M1682 1370h8M1702 1364h8M1648 1286h8M1716 1325h8M1707 1329h8M1618 1288h8M1662 1381h8M1648 1369h8M1701 1304h8M1667 1340h8M1605 1347h8M1676 1269h8M1661 1245h8M1659 1256h8M1691 1248h8M1665 1280h8M1677 1265h8M1643 1268h8M1665 1267h8M1669 1281h8M1672 1280h8M1670 1255h8M1660 1288h8M1682 1287h8M1694 1266h8M1652 1269h8M1684 1255h8M1642 1280h8M1639 1255h8M1623 1243h8M1707 1274h8M1675 1269h8M1657 1252h8M1717 1254h8M1673 1240h8M1677 1276h8M1670 1268h8M1679 1270h8M1672 1264h8M1659 1301h8M1688 1231h8M1716 1242h8M1680 1258h8M1664 1276h8M1679 1255h8M1665 1221h8M1673 1289h8M1680 1248h8M1664 1236h8M1676 1244h8M1674 1252h8M1694 1259h8M1664 1272h8M1690 1318h8M1657 1267h8M1652 1287h8M1696 1295h8M1688 1293h8M1653 1267h8M1678 1292h8M1681 1290h8M1654 1219h8M1876 1436h8M1810 1629h8M1852 1570h8M1784 1422h8M1874 1500h8M1688 1584h8M1820 1212h8M1616 1425h8M1852 1350h8M1643 1629h8M1618 1563h8M1690 1535h8M1782 1461h8M1820 1397h8M1740 1326h8M1737 1318h8M1788 1525h8M1723 1402h8M1773 1436h8M1620 1363h8M1745 1389h8M1836 1556h8M1723 1477h8M1823 1566h8M1807 1464h8M1800 1420h8M1760 1430h8M1757 1483h8M1739 1309h8M1764 1249h8M1744 1398h8M1732 1457h8M1770 1348h8M1606 1503h8M1845 1442h8M1642 1596h8M1777 1387h8M1587 1526h8M1904 1426h8M1708 1455h8M1787 1403h8M1694 1384h8M1788 1364h8M1652 1599h8M1777 1490h8M1714 1334h8M1811 1374h8M1826 1487h8M1751 1647h8M1800 1245h8M1820 1540h8M1812 1738h8M1810 1579h8M1740 1378h8M1719 1422h8M1804 1479h8M1816 1506h8M1681 1224h8M1744 1575h8M1727 1361h8M1725 1548h8M1783 1360h8M1755 1388h8M1729 1535h8M1756 1514h8M1648 1573h8M1632 1159h8M1726 1536h8M1754 1578h8M1840 1589h8M1732 1465h8M1676 1446h8M1771 1538h8M1707 1398h8M1811 1470h8M1755 1565h8M1696 1478h8M1833 1668h8M1856 1394h8M1832 1388h8M1746 1332h8M1679 1268h8M1716 1261h8M1701 1384h8M1798 1228h8M1754 1516h8M1802 1454h8M1770 1517h8M1781 1533h8M1837 1694h8M1760 1458h8M1811 1399h8M1749 1354h8M1769 1453h8M1770 1434h8M1699 1479h8M1708 1366h8M1767 1379h8M1560 1376h8M1580 1396h8M1887 1519h8M1566 1688h8M1734 1369h8M1755 1384h8M1637 1419h8M1762 1483h8M1774 1390h8M1755 1326h8M1798 1655h8M1712 1512h8M1918 1253h8M1657 1710h8M1846 1573h8M1705 1408h8M1701 1508h8M1716 1348h8M1657 1521h8M1733 1487h8M1610 1459h8M1754 1537h8M1786 1416h8M1808 1427h8M1779 1620h8M1811 1372h8M1745 1507h8M1859 1458h8M1746 1355h8M1633 1481h8M1715 1293h8M1795 1410h8M1847 1424h8M1705 1601h8M1726 1557h8M1806 1271h8M1646 1335h8M1796 1368h8M1898 1569h8M1821 1494h8M1820 1532h8M1754 1421h8M1679 1452h8M1677 1244h8M1739 1416h8M1703 1548h8M1823 1635h8M1708 1530h8M1770 1583h8M1762 1400h8M1691 1450h8M1815 1492h8M1687 1335h8M1859 1445h8M1852 1374h8M1690 1234h8M1828 1312h8M1724 1529h8M1761 1431h8M1647 1584h8M1728 1574h8M1692 1579h8M1762 1416h8M1634 1566h8M1586 1607h8M1739 1579h8M1815 1646h8M1620 1476h8M1729 1370h8M1766 1417h8M1859 1363h8M1753 1594h8M1704 1551h8M1823 1411h8M1731 1434h8M1825 1494h8M1606 1572h8M1617 1351h8M1605 1335h8M1743 1473h8M1751 1290h8M1766 1522h8M1602 1492h8M1714 1348h8M1692 1405h8M1715 1493h8M1745 1427h8M1720 1443h8M1824 1595h8M1804 1350h8M1857 1410h8M1657 1414h8M1782 1453h8M1750 1343h8M1803 1432h8M1740 1524h8M1830 1392h8M1749 1490h8M1739 1440h8M1777 1401h8M1761 1231h8M1727 1591h8M1720 1338h8M1626 1570h8M1746 1592h8M1841 1456h8M1819 1430h8M1744 1353h8M1700 1527h8M1795 1383h8M1835 1489h8M1667 1375h8M1692 1468h8M1739 1369h8M1747 1519h8M1794 1477h8M1718 1351h8M1701 1471h8M1745 1617h8M1786 1427h8M1684 1190h8M1607 1385h8M1802 1625h8M1788 1499h8M1755 1455h8M1753 1348h8M1676 1585h8M1748 1667h8M1826 1725h8M1807 1357h8M1874 1367h8M1806 1422h8M1699 1498h8M1666 1498h8M1789 1374h8M1697 1420h8M1729 1462h8M1656 1410h8M1632 1329h8M1694 1439h8M1818 1415h8M1779 1573h8M1733 1367h8M1753 1496h8M1686 1413h8M1762 1388h8M1719 1410h8M1761 1501h8M1681 1309h8M1630 1531h8M1795 1241h8M1703 1356h8M1642 1549h8M1735 1529h8M1914 1447h8M1675 1279h8M1864 1513h8M1701 1399h8M1731 1613h8M1849 1356h8M1839 1490h8M1724 1518h8M1837 1500h8M1743 1549h8M1601 1450h8M1735 1592h8M1679 1303h8M1779 1386h8M1768 1417h8M1640 1496h8M1802 1390h8M1703 1296h8M1861 1504h8M1770 1398h8M1718 1556h8M1912 1345h8M1779 1551h8M1767 1475h8M1787 1701h8M1789 1409h8M1679 1340h8M1622 1519h8M1797 1497h8M1865 1610h8M1773 1335h8M1866 1564h8M1777 1232h8M1847 1392h8M1624 1461h8M1836 1610h8M1724 1561h8M1756 1441h8M1683 1622h8M1626 1587h8M1740 1373h8M1685 1455h8M1692 1302h8M1722 1449h8M1778 1397h8M1663 1298h8M1728 1459h8M1720 1435h8M1773 1516h8M1793 1577h8M1750 1331h8M1776 1437h8M1720 1535h8M1649 1412h8M1738 1564h8M1703 1518h8M1859 1513h8M1822 1470h8M1761 1563h8M1714 1261h8M1817 1337h8M1748 1465h8M1836 1634h8M1700 1523h8M1712 1529h8M1770 1534h8M1674 1472h8M1782 1470h8M1828 1470h8M1663 1269h8M1673 1538h8M1769 1317h8M1711 1435h8M1703 1289h8M1716 1603h8M1759 1501h8M1707 1571h8M1709 1504h8M1856 1412h8M1745 1491h8M1716 1207h8M1730 1286h8M1856 1416h8M1807 1537h8M1677 1538h8M1804 1579h8M1734 1366h8M1704 1379h8M1714 1340h8M1826 1419h8M1775 1461h8M1739 1405h8M1757 1322h8M1710 1543h8M1798 1336h8M1681 1512h8M1722 1664h8M1772 1650h8M1782 1695h8M1747 1685h8M1805 1697h8M1695 1732h8M1734 1678h8M1714 1685h8M1911 1698h8M1576 1676h8M1755 1663h8M1824 1678h8M1810 1694h8M1811 1693h8M1822 1670h8M1751 1681h8M1778 1692h8M1751 1698h8M1758 1590h8M1819 1711h8M1638 1621h8M1884 1697h8M1722 1700h8M1757 1636h8M1693 1716h8M1746 1669h8M1806 1699h8M1843 1625h8M1839 1714h8M1812 1685h8M1752 1645h8M1722 1694h8M1725 1688h8M1755 1748h8M1875 1697h8M1820 1706h8M1828 1684h8M1776 1675h8M1707 1701h8M1761 1674h8M1735 1693h8M1836 1623h8M1687 1651h8M1624 1723h8M1759 1618h8M1845 1720h8M1738 1640h8M1830 1667h8M1856 1706h8M1823 1758h8M1858 1662h8M1824 1641h8M1866 1660h8M1851 1769h8M1787 1695h8M1809 1637h8M1823 1664h8M1907 1654h8M1782 1676h8M1796 1651h8M1831 1700h8M1848 1672h8M1643 1695h8M1774 1652h8M1746 1713h8M1681 1669h8M1763 1665h8M1878 1642h8M1751 1680h8M1657 1697h8M1782 1706h8M1749 1634h8M1824 1654h8M1785 1658h8M1892 1694h8M1802 1741h8M1761 1704h8M1799 1674h8M1851 1675h8M1851 1687h8M1828 1696h8M1700 1680h8M1882 1778h8M1810 1691h8M1790 1680h8M1819 1668h8M1887 1684h8M1771 1693h8M1746 1684h8M1863 1697h8M1795 1708h8M1570 1684h8M1719 1656h8M1765 1712h8M1777 1738h8M1911 1656h8M1695 1705h8M1755 1731h8M1831 1674h8M1981 1728h8M1680 1657h8M1863 1636h8M1832 1694h8M1693 1724h8M1784 1659h8M1870 1721h8M1801 1675h8M1774 1693h8M1778 1682h8M1758 1692h8M1964 1707h8M1883 1736h8M1780 1653h8M1742 1700h8M1776 1719h8M1852 1710h8M1745 1681h8M1846 1673h8M1712 1646h8M1783 1641h8M1719 1688h8M1788 1669h8M1667 1658h8M1713 1690h8M1745 1631h8M1746 1716h8M1829 1642h8M1848 1776h8M1734 1716h8M1890 1695h8M1646 1658h8M1792 1686h8M1754 1708h8M1766 1656h8M1808 1622h8M1990 1698h8M1840 1689h8M1899 1707h8M1843 1673h8M1625 1648h8M1797 1657h8M1638 1696h8M1846 1655h8M1767 1674h8M1689 1713h8M1835 1685h8M1778 1678h8M1840 1725h8M1822 1712h8M1869 1666h8M1780 1670h8M1705 1674h8M1710 1684h8M1878 1697h8M1726 1718h8M1785 1746h8M1661 1693h8M1733 1677h8M1738 1690h8M1725 1675h8M1763 1786h8M1872 1673h8M1671 1658h8M1741 1657h8M1664 1679h8M1856 1692h8M1868 1699h8M1864 1685h8M1833 1700h8M1840 1677h8M1702 1719h8M1803 1701h8M1705 1700h8M1805 1702h8M1841 1689h8M1717 1706h8M1766 1715h8M1802 1656h8M1766 1630h8M1892 1658h8M1725 1647h8M1681 1723h8M1815 1706h8M1849 1705h8M1872 1655h8M1934 1686h8M1833 1687h8M1775 1681h8M1818 1636h8M1888 1670h8M1744 1689h8M1749 1718h8M1812 1663h8M1690 1673h8M1803 1727h8M1778 1707h8M1837 1751h8M1848 1686h8M1727 1657h8M1804 1715h8M1703 1687h8M1750 1686h8M1770 1655h8M1812 1655h8M1825 1663h8M1677 1616h8M1751 1732h8M1784 1679h8M1733 1664h8M1904 1703h8M1736 1613h8M1835 1701h8M1733 1667h8M1837 1700h8M1716 1694h8M1722 1691h8M1684 1680h8M1791 1714h8M1857 1637h8M1825 1613h8M1657 1685h8M1807 1653h8M1798 1646h8M1752 1673h8M1785 1653h8M1713 1696h8M1803 1598h8M1860 1647h8M1767 1716h8M1744 1660h8M1936 1668h8M1767 1669h8M1912 1705h8M2002 1652h8M1827 1693h8M1881 1675h8M1988 1654h8M1930 1671h8M1811 1667h8M1962 1642h8M1972 1692h8M1885 1691h8M1880 1680h8M1882 1705h8M1864 1693h8M1841 1683h8M1921 1695h8M1895 1684h8M1793 1672h8M1902 1732h8M1863 1700h8M1910 1654h8M1788 1681h8M1949 1691h8M1881 1708h8M1827 1668h8M1868 1735h8M1983 1667h8M1830 1652h8M1966 1692h8M1858 1687h8M1880 1658h8M1919 1673h8M1895 1708h8M1916 1690h8M1883 1663h8M1952 1709h8M1943 1653h8M1871 1666h8M1974 1657h8M1922 1651h8M1907 1708h8M1848 1703h8M1921 1693h8M1874 1676h8M1933 1707h8M1812 1696h8M1963 1676h8M1868 1659h8M1862 1665h8" stroke="#000" stroke-width="8" stroke-opacity="0.5" fill="none"/>
<path transform="scale(.1)" d="M1796 1346h8M1734 1575h8M1741 1425h8M1863 1441h8M1665 1448h8M1730 1560h8M1713 1283h8M1652 1451h8M1691 1482h8M1643 1579h8M1921 1482h8M1817 1465h8M1703 1593h8M1722 1613h8M1895 1517h8M1872 1334h8M1716 1388h8M1656 1339h8M1756 1322h8M1745 1350h8M1776 1463h8M1801 1445h8M1762 1504h8M1869 1387h8M1706 1465h8M1732 1441h8M1730 1324h8M1721 1467h8M1644 1243h8M1575 1526h8M1758 1548h8M1684 1483h8M1826 1440h8M1844 1451h8M1774 1540h8M1760 1350h8M1713 1687h8M1714 1742h8M1759 1459h8M1841 1444h8M1596 1378h8M1684 1682h8M1700 1685h8M1559 1455h8M1869 1399h8M1785 1555h8M1804 1382h8M1753 1580h8M1751 1486h8M1720 1441h8M1672 1509h8M1752 1341h8M1624 1513h8M1775 1569h8M1758 1564h8M1798 1181h8M1867 1386h8M1811 1483h8M1678 1537h8M1613 1491h8M1837 1455h8M1855 1519h8M1839 1378h8M1765 1117h8M1787 1400h8M1660 1361h8M1647 1435h8M1801 1461h8M1894 1495h8M1737 1410h8M1626 1259h8M1650 1322h8M1651 1462h8M1713 1494h8M1711 1527h8M1660 1501h8M1740 1568h8M1763 1347h8M1828 1497h8M1651 1629h8M1695 1544h8M1618 1438h8M1750 1481h8M1735 1359h8M1864 1364h8M1698 1440h8M1729 1473h8M1641 1373h8M1719 1338h8M1865 1312h8M1694 1318h8M1815 1387h8M1898 1455h8M1795 1511h8M1624 1625h8M1649 1360h8M1897 1433h8M1677 1350h8M1752 1696h8M1681 1198h8M1563 1613h8M1789 1495h8M1859 1379h8M1763 1551h8M1751 1617h8M1691 1298h8M1707 1476h8M1640 1689h8M1721 1289h8M1661 1388h8M1784 1460h8M1725 1469h8M1688 1534h8M1660 1517h8M1748 1306h8M1812 1357h8M1691 1567h8M1711 1388h8M1677 1151h8M1714 1268h8M1736 1434h8M1656 1407h8M1763 1559h8M1848 1501h8M1793 1517h8M1944 1665h8M1740 1600h8M1796 1463h8M1717 1463h8M1815 1333h8M1815 1478h8M1790 1538h8M1737 1369h8M1775 1329h8M1574 1217h8M1790 1622h8M1811 1379h8M1747 1656h8M1709 1458h8M1766 1412h8M1728 1376h8M1637 1492h8M1716 1604h8M1800 1443h8M1585 1266h8M1830 1648h8M1829 1370h8M1791 1476h8M1743 1593h8M1783 1719h8M1762 1441h8M1766 1336h8M1643 1435h8M1670 1560h8M1670 1396h8M1740 1564h8M1774 1606h8M1606 1389h8M1659 1321h8M1741 1574h8M1844 1580h8M1832 1362h8M1660 1446h8M1597 1396h8M1624 1452h8M1779 1490h8M1575 1371h8M1711 1590h8M1712 1502h8M1699 1626h8M1670 1545h8M1623 1425h8M1639 1327h8M1818 1340h8M1570 1346h8M1638 1501h8M1829 1533h8M1571 1310h8M1784 1488h8M1738 1240h8M1702 1372h8M1820 1379h8M1812 1263h8M1681 1328h8M1708 1398h8M1730 1173h8M1642 1339h8M1725 1273h8M1828 1626h8M1745 1364h8M1694 1431h8M1732 1566h8M1591 1459h8M1856 1379h8M1701 1547h8M1814 1535h8M1654 1555h8M1627 1536h8M1735 1325h8M1610 1456h8M1767 1610h8M1783 1514h8M1643 1500h8M1606 1607h8M1710 1665h8M1722 1369h8M1705 1637h8M1631 1381h8M1760 1396h8M1832 1781h8M1690 1604h8M1722 1511h8M1783 1265h8M1721 1501h8M1737 1354h8M1735 1360h8M1773 1446h8M1701 1524h8M1630 1303h8M1801 1557h8M1803 1400h8M1708 1263h8M1683 1692h8M1758 1323h8M1740 1508h8M1796 1330h8M1648 1435h8M1780 1454h8M1885 1550h8M1806 1402h8M1653 1337h8M1949 1395h8M1856 1659h8M1674 1375h8M1735 1417h8M1792 1223h8M1784 1498h8M1921 1420h8M1581 1246h8M1801 1512h8M1745 1419h8M1708 1509h8M1530 1260h8M1580 1461h8M1807 1500h8M1931 1385h8M1731 1521h8M1709 1728h8M1775 1514h8M1696 1570h8M1750 1309h8M1755 1319h8M1764 1350h8M1668 1380h8M1687 1489h8M1777 1364h8M1839 1386h8M1863 1607h8M1791 1317h8M1713 1682h8M1690 1705h8M1752 1417h8M1606 1736h8M1749 1367h8M1580 1573h8M1775 1456h8M1710 1335h8M1680 1351h8M1612 1450h8M1726 1391h8M1542 1283h8M1763 1437h8M1677 1438h8M1793 1444h8M1797 1382h8M1759 1426h8M1624 1422h8M1673 1502h8M1746 1403h8M1816 1236h8M1781 1296h8M1654 1523h8M1732 1544h8M1704 1444h8M1849 1451h8M1852 1407h8M1764 1479h8M1829 1511h8M1731 1317h8M1911 1539h8M1739 1377h8M1847 1242h8M1699 1596h8M1804 1454h8M1787 1720h8M1723 1360h8M1728 1388h8M1806 1499h8M1813 1206h8" stroke="#000" stroke-width="8" stroke-opacity="0.28" fill="none"/>
<rect x="151.9" y="115.1" width="45.3" height="40.4" fill="none" stroke="#555" stroke-width="0.9"/>
<rect x="151.9" y="162.2" width="45.3" height="12.9" fill="none" stroke="#555" stroke-width="0.9"/>
<text x="199.6" y="123.0" font-size="7.6" textLength="13.6" lengthAdjust="spacingAndGlyphs">47.9</text>
<text x="199.6" y="168.9" font-size="7.6" textLength="14.7" lengthAdjust="spacingAndGlyphs">42.5</text>
<line x1="192.3" y1="140.3" x2="234.9" y2="140.3" stroke="#111" stroke-width="1.1"/>
<path d="M240.3 140.3L232.8 143.4L234.4 140.3L232.8 137.2Z" fill="#111"/>
<text x="137.1" y="165.5" font-size="10" text-anchor="middle" textLength="17.2" lengthAdjust="spacingAndGlyphs" fill="#222" transform="rotate(-90 137.1 165.5)" stroke="#222" stroke-width="0.3">CD11b</text>
<path d="M133.3 183.49999999999997V190.8H142.00000000000003" stroke="#000" stroke-width="1.4" fill="none"/>
<path d="M133.3 178.1l-2.8 7.2l2.8 -1.8l2.8 1.8z M147.4 190.8l-7.2 -2.8l1.8 2.8l-1.8 2.8z" fill="#000"/>
<text x="150.8" y="194.3" font-size="9.6" textLength="11.5" lengthAdjust="spacingAndGlyphs" fill="#222" stroke="#222" stroke-width="0.3">FSC</text>
<line x1="184" y1="175" x2="184.0" y2="212.4" stroke="#111" stroke-width="1.2"/>
<path d="M184.0 217.8L180.6 210.3L184.0 211.9L187.4 210.3Z" fill="#111"/>
<rect x="240.6" y="32.2" width="71.20000000000002" height="70.2" fill="none" stroke="#666" stroke-width="0.8"/>
<path d="M239.0 32.2h1.6M239.0 34.7h1.6M239.0 37.2h1.6M239.0 39.7h1.6M239.0 42.2h1.6M239.0 44.7h1.6M239.0 47.2h1.6M239.0 49.8h1.6M239.0 52.3h1.6M239.0 54.8h1.6M239.0 57.3h1.6M239.0 59.8h1.6M239.0 62.3h1.6M239.0 64.8h1.6M239.0 67.3h1.6M239.0 69.8h1.6M239.0 72.3h1.6M239.0 74.8h1.6M239.0 77.3h1.6M239.0 79.8h1.6M239.0 82.3h1.6M239.0 84.8h1.6M239.0 87.4h1.6M239.0 89.9h1.6M239.0 92.4h1.6M239.0 94.9h1.6M239.0 97.4h1.6M239.0 99.9h1.6M239.0 102.4h1.6M240.6 102.4v1.4M243.1 102.4v1.4M245.7 102.4v1.4M248.2 102.4v1.4M250.8 102.4v1.4M253.3 102.4v1.4M255.9 102.4v1.4M258.4 102.4v1.4M260.9 102.4v1.4M263.5 102.4v1.4M266.0 102.4v1.4M268.6 102.4v1.4M271.1 102.4v1.4M273.7 102.4v1.4M276.2 102.4v1.4M278.7 102.4v1.4M281.3 102.4v1.4M283.8 102.4v1.4M286.4 102.4v1.4M288.9 102.4v1.4M291.5 102.4v1.4M294.0 102.4v1.4M296.5 102.4v1.4M299.1 102.4v1.4M301.6 102.4v1.4M304.2 102.4v1.4M306.7 102.4v1.4M309.3 102.4v1.4M311.8 102.4v1.4" stroke="#555" stroke-width="0.5" fill="none"/>
<text x="237.4" y="40.3" font-size="3.4" fill="#333" text-anchor="middle" transform="rotate(-60 237.4 40.3)">10<tspan dy="-1.3" font-size="2.6">5</tspan></text>
<path d="M238.8 38.7h1.8" stroke="#222" stroke-width="0.9" fill="none"/>
<text x="237.4" y="55.8" font-size="3.4" fill="#333" text-anchor="middle" transform="rotate(-60 237.4 55.8)">10<tspan dy="-1.3" font-size="2.6">4</tspan></text>
<path d="M238.8 54.2h1.8" stroke="#222" stroke-width="0.9" fill="none"/>
<text x="237.4" y="71.8" font-size="3.4" fill="#333" text-anchor="middle" transform="rotate(-60 237.4 71.8)">10<tspan dy="-1.3" font-size="2.6">3</tspan></text>
<path d="M238.8 70.2h1.8" stroke="#222" stroke-width="0.9" fill="none"/>
<text x="236.4" y="90.4" font-size="3.6" fill="#333" text-anchor="middle">0</text>
<path d="M238.8 89.2h1.8" stroke="#222" stroke-width="0.9" fill="none"/>
<text x="252.0" y="107.6" font-size="3.2" fill="#333" text-anchor="middle">0</text>
<path d="M252.0 102.4v1.8" stroke="#222" stroke-width="0.8"/>
<text x="273.7" y="107.6" font-size="3.2" fill="#333" text-anchor="middle">10<tspan dy="-1.2" font-size="2.4">3</tspan></text>
<path d="M273.7 102.4v1.8" stroke="#222" stroke-width="0.8"/>
<text x="290.6" y="107.6" font-size="3.2" fill="#333" text-anchor="middle">10<tspan dy="-1.2" font-size="2.4">4</tspan></text>
<path d="M290.6 102.4v1.8" stroke="#222" stroke-width="0.8"/>
<text x="306.8" y="107.6" font-size="3.2" fill="#333" text-anchor="middle">10<tspan dy="-1.2" font-size="2.4">5</tspan></text>
<path d="M306.8 102.4v1.8" stroke="#222" stroke-width="0.8"/>
<path transform="scale(.1)" d="M2511 897h8M2502 893h8M2527 895h8M2538 854h8M2511 859h8M2496 876h8M2514 895h8M2519 953h8M2526 831h8M2514 862h8M2501 924h8M2506 820h8M2516 873h8M2489 853h8M2499 881h8M2502 884h8M2543 856h8M2495 874h8M2530 859h8M2536 840h8M2491 880h8M2494 862h8M2518 905h8M2512 873h8M2534 895h8M2506 921h8M2494 887h8M2522 882h8M2500 893h8M2500 863h8M2492 924h8M2500 919h8M2517 874h8M2522 891h8M2512 838h8M2511 911h8M2519 914h8M2537 895h8M2546 834h8M2506 801h8M2525 885h8M2540 870h8M2474 923h8M2486 841h8M2507 902h8M2501 888h8M2476 937h8M2509 886h8M2521 887h8M2514 852h8M2508 896h8M2529 878h8M2512 893h8M2520 889h8M2505 866h8M2530 891h8M2510 993h8M2526 909h8M2513 850h8M2530 879h8M2511 915h8M2528 890h8M2510 949h8M2520 849h8M2524 887h8M2511 904h8M2514 946h8M2514 890h8M2531 864h8M2528 880h8M2531 855h8M2518 831h8M2502 883h8M2519 945h8M2543 839h8M2496 922h8M2518 838h8M2519 846h8M2495 842h8M2505 954h8M2517 879h8M2555 867h8M2507 874h8M2518 872h8M2536 873h8M2520 889h8M2495 851h8M2509 809h8M2510 885h8M2513 880h8M2516 871h8M2522 830h8M2526 854h8M2519 867h8M2502 857h8M2534 847h8M2488 889h8M2515 883h8M2493 861h8M2526 849h8M2521 905h8M2512 843h8M2544 886h8M2514 870h8M2493 874h8M2514 855h8M2512 919h8M2518 879h8M2529 911h8M2526 857h8M2477 907h8M2511 870h8M2519 868h8M2499 940h8M2482 909h8M2528 939h8M2515 898h8M2494 883h8M2472 864h8M2510 879h8M2501 919h8M2482 886h8M2503 883h8M2511 944h8M2491 925h8M2535 878h8M2499 843h8M2495 947h8M2471 896h8M2498 942h8M2516 839h8M2501 888h8M2512 852h8M2505 867h8M2519 891h8M2514 863h8M2524 864h8M2495 868h8M2504 872h8M2475 925h8M2521 924h8M2503 906h8M2514 883h8M2542 863h8M2520 827h8M2520 877h8M2492 863h8M2472 848h8M2513 798h8M2529 913h8M2497 835h8M2485 841h8M2497 951h8M2490 906h8M2532 852h8M2505 904h8M2498 922h8M2549 880h8M2495 901h8M2516 858h8M2508 885h8M2519 918h8M2501 841h8M2481 941h8M2503 869h8M2554 918h8M2550 877h8M2498 865h8M2522 895h8M2517 954h8M2534 847h8M2518 901h8M2497 956h8M2526 930h8M2500 845h8M2524 876h8M2500 879h8M2514 887h8M2506 897h8M2562 920h8M2501 947h8M2501 832h8M2485 817h8M2531 847h8M2484 864h8M2506 842h8M2500 882h8M2522 851h8M2520 890h8M2520 865h8M2489 913h8M2520 860h8M2496 904h8M2546 893h8M2555 892h8M2516 897h8M2529 833h8M2513 922h8M2482 889h8M2523 937h8M2538 881h8M2547 846h8M2485 925h8M2522 845h8M2530 910h8M2523 868h8M2487 828h8M2506 877h8M2501 864h8M2527 845h8M2496 946h8M2498 861h8M2529 824h8M2539 841h8M2495 840h8M2493 858h8M2527 880h8M2535 907h8M2487 882h8M2499 868h8M2512 894h8M2518 813h8M2507 867h8M2543 874h8M2509 882h8M2524 845h8M2508 878h8M2509 874h8M2500 884h8M2486 934h8M2510 823h8M2505 912h8M2506 877h8M2468 927h8M2511 818h8M2502 929h8M2517 834h8M2500 890h8M2547 890h8M2523 871h8M2511 849h8M2486 838h8M2499 922h8M2509 920h8M2524 887h8M2501 951h8M2530 922h8M2555 931h8M2514 894h8M2520 954h8M2492 823h8M2501 882h8M2499 912h8M2521 881h8M2511 944h8M2546 938h8M2503 922h8M2489 823h8M2541 910h8M2522 928h8M2540 891h8M2515 902h8M2526 888h8M2486 963h8M2497 863h8M2521 881h8M2520 960h8M2536 867h8M2516 881h8M2533 854h8M2493 828h8M2520 895h8M2523 910h8M2488 871h8M2491 922h8M2526 836h8M2520 886h8M2513 905h8M2499 873h8M2498 861h8M2491 920h8M2521 875h8M2481 956h8M2511 889h8M2522 938h8M2505 807h8M2505 882h8M2500 930h8M2502 893h8M2496 907h8M2498 909h8M2513 888h8M2516 831h8M2502 890h8M2504 921h8M2526 859h8M2532 876h8M2520 922h8M2490 857h8M2509 875h8M2480 904h8M2513 889h8M2516 906h8M2496 893h8M2503 867h8M2495 922h8M2466 860h8M2523 872h8M2499 916h8M2493 874h8M2518 866h8M2501 885h8M2528 853h8M2520 881h8M2504 840h8M2542 901h8M2515 873h8M2539 862h8M2492 858h8M2509 893h8M2474 892h8M2515 917h8M2504 930h8M2546 865h8M2506 914h8M2532 883h8M2531 833h8M2527 897h8M2527 898h8M2523 868h8M2535 816h8M2515 862h8M2545 846h8M2513 882h8M2525 883h8M2491 878h8M2532 907h8M2497 843h8M2487 879h8M2508 871h8M2501 889h8M2534 915h8M2503 908h8M2506 924h8M2529 913h8M2551 916h8M2527 928h8M2492 873h8M2504 910h8M2511 843h8M2497 877h8M2502 868h8M2484 887h8M2487 870h8M2499 873h8M2536 869h8M2503 803h8M2495 891h8M2505 908h8M2505 909h8M2515 918h8M2505 912h8M2502 858h8M2531 839h8M2494 935h8M2514 895h8M2515 882h8M2546 884h8M2536 883h8M2498 874h8M2511 966h8M2499 897h8M2483 901h8M2508 895h8M2512 868h8M2512 883h8M2529 881h8M2508 841h8M2526 877h8M2494 921h8M2527 882h8M2511 840h8M2468 887h8M2483 903h8M2504 891h8M2501 896h8M2525 886h8M2524 907h8M2508 828h8M2522 863h8M2492 823h8M2478 925h8M2542 925h8M2547 821h8M2524 838h8M2484 902h8M2527 853h8M2480 832h8M2506 910h8M2546 897h8M2492 847h8M2511 902h8M2473 891h8M2498 909h8M2480 912h8M2536 927h8M2538 886h8M2512 846h8M2509 856h8M2521 905h8M2507 933h8M2486 864h8M2541 874h8M2522 800h8M2537 859h8M2498 913h8M2511 826h8M2534 851h8M2503 861h8M2502 868h8M2503 866h8M2555 891h8M2520 862h8M2542 898h8M2511 864h8M2524 826h8M2497 870h8M2516 886h8M2483 901h8M2502 865h8M2512 871h8M2502 869h8M2522 883h8M2514 860h8M2531 885h8M2496 916h8M2485 859h8M2524 867h8M2504 870h8M2510 896h8M2521 860h8M2501 818h8M2501 896h8M2510 919h8M2505 890h8M2525 845h8M2534 837h8M2505 823h8M2505 850h8M2527 817h8M2518 893h8M2520 913h8M2524 853h8M2521 858h8M2498 872h8M2501 862h8M2528 884h8M2476 856h8M2501 953h8M2514 865h8M2518 808h8M2537 870h8M2493 907h8M2496 846h8M2524 944h8M2503 879h8M2507 894h8M2502 885h8M2496 877h8M2524 834h8M2523 936h8M2498 869h8M2512 880h8M2490 908h8M2521 914h8M2522 862h8M2507 862h8M2556 869h8M2526 929h8M2508 889h8M2517 932h8M2488 891h8M2518 896h8M2496 911h8M2518 850h8M2491 945h8M2499 832h8M2517 847h8M2509 898h8M2494 838h8M2543 841h8M2489 881h8M2517 879h8M2494 910h8M2490 856h8M2522 914h8M2518 910h8M2517 907h8M2497 859h8M2520 913h8M2516 852h8M2525 924h8M2527 872h8M2525 870h8M2548 865h8M2534 873h8M2503 883h8M2540 814h8M2538 891h8M2525 841h8M2507 909h8M2499 921h8M2516 896h8M2427 903h8M2536 819h8M2564 863h8M2490 936h8M2578 923h8M2559 927h8M2470 876h8M2578 905h8M2535 872h8M2519 852h8M2527 771h8M2566 883h8M2431 882h8M2538 878h8M2553 913h8M2551 815h8M2456 851h8M2561 808h8M2512 859h8M2525 819h8M2549 871h8M2562 887h8M2529 922h8M2575 902h8M2505 896h8M2567 913h8M2586 928h8M2517 966h8M2555 910h8M2538 834h8M2462 909h8M2565 949h8M2501 879h8M2513 908h8M2505 850h8M2480 875h8M2564 834h8M2515 939h8M2503 800h8M2497 914h8M2531 846h8M2508 931h8M2482 937h8M2516 905h8M2494 848h8M2613 876h8M2496 903h8M2506 843h8M2500 861h8M2577 817h8M2545 818h8M2550 862h8M2552 872h8M2563 910h8M2545 908h8M2514 868h8M2503 905h8M2543 876h8M2491 879h8M2547 913h8M2508 911h8M2488 864h8M2493 891h8M2499 853h8M2566 923h8M2472 924h8M2560 919h8M2515 936h8M2551 829h8M2457 842h8M2547 1012h8M2484 903h8M2536 889h8M2554 924h8M2534 953h8M2559 931h8M2574 846h8M2588 847h8M2536 873h8M2501 880h8M2478 906h8M2527 855h8M2536 895h8M2526 808h8M2546 894h8M2599 975h8M2571 905h8M2545 865h8M2517 849h8M2505 847h8M2574 951h8M2431 882h8M2457 825h8M2523 871h8M2639 886h8M2499 821h8M2547 850h8M2516 827h8M2570 900h8M2570 860h8M2533 867h8M2494 906h8M2466 856h8M2485 885h8M2478 875h8M2499 863h8M2514 960h8M2496 932h8M2516 999h8M2538 923h8M2481 942h8M2527 851h8M2532 948h8M2509 890h8M2572 925h8M2496 821h8M2565 903h8M2558 923h8M2533 911h8M2511 873h8M2536 859h8M2524 949h8M2527 916h8M2539 832h8M2556 807h8M2544 878h8M2500 909h8M2514 960h8M2467 939h8M2564 901h8M2487 831h8M2455 891h8M2520 918h8M2538 906h8M2473 888h8M2544 925h8M2439 929h8M2466 885h8M2537 967h8M2550 885h8M2501 845h8M2482 873h8M2500 930h8M2493 914h8M2523 848h8M2535 808h8M2543 881h8M2511 893h8M2549 921h8M2533 862h8M2549 808h8M2588 868h8M2544 944h8M2505 868h8M2538 847h8M2569 812h8M2515 895h8M2538 861h8M2582 938h8M2532 913h8M2486 922h8M2540 915h8M2555 895h8M2529 825h8M2469 832h8M2558 888h8M2508 854h8M2555 878h8M2585 866h8M2493 797h8M2501 897h8M2477 907h8M2551 831h8M2543 825h8M2533 861h8M2551 839h8M2521 901h8M2511 865h8M2502 920h8M2536 910h8M2559 899h8M2542 856h8M2528 903h8M2485 841h8M2555 950h8M2547 883h8M2581 921h8M2772 923h8M2677 924h8M2778 935h8M2533 962h8M2624 833h8M2560 901h8M2475 830h8M2669 915h8M2782 886h8M2599 850h8M2717 890h8M2681 853h8M2587 855h8M2673 901h8M2776 916h8M2667 941h8M2540 851h8M2705 927h8M2664 821h8M2547 897h8M2698 797h8M2624 883h8M2741 935h8M2623 843h8M2642 857h8M2598 914h8M2659 770h8M2654 907h8M2551 953h8M2688 886h8M2613 931h8M2742 851h8M2466 940h8M2643 791h8M2744 768h8M2604 815h8M2540 885h8M2840 845h8M2757 847h8M2577 889h8M2507 957h8M2588 817h8M2642 869h8M2590 900h8M2780 873h8M2596 927h8M2737 853h8M2639 846h8M2538 921h8M2698 951h8M2802 763h8M2551 876h8M2802 884h8M2727 847h8M2761 949h8M2765 927h8M2622 966h8M2600 845h8M2593 892h8M2762 887h8M2699 881h8M2709 891h8M2561 1006h8M2727 926h8M2702 857h8M2646 917h8M2760 907h8M2608 875h8M2572 867h8M2640 855h8M2683 978h8M2608 817h8M2601 937h8M2572 934h8M2749 873h8M2540 906h8M2583 888h8M2806 899h8M2505 882h8M2568 965h8M2681 856h8M2664 874h8M2574 825h8M2648 850h8M2630 910h8M2745 851h8M2678 836h8M2486 931h8M2781 858h8M2562 810h8M2629 922h8M2688 821h8M2672 816h8M2628 900h8M2684 797h8M2591 879h8M2689 863h8M2697 942h8M2526 897h8M2845 897h8M2642 939h8M2737 894h8M2467 883h8M2675 909h8M2780 811h8M2564 888h8M2725 853h8M2579 902h8M2663 923h8M2640 899h8M2525 905h8M2689 870h8M2554 955h8M2727 876h8M2727 965h8M2627 950h8M2714 871h8M2631 943h8M2742 914h8M2584 865h8M2653 820h8M2531 847h8M2691 909h8M2650 914h8M2785 834h8M2723 860h8M2771 802h8M2678 801h8M2655 880h8M2631 918h8M2559 876h8M2714 870h8M2705 883h8M2675 849h8M2558 863h8M2760 905h8M2627 858h8M2751 921h8M2657 915h8M2666 945h8M2583 896h8M2702 908h8M2599 857h8M2720 963h8M2590 875h8M2758 877h8M2713 929h8M2646 974h8M2666 869h8M2738 938h8M2591 886h8M2616 889h8M2558 898h8M2761 862h8M2640 881h8M2557 885h8M2624 854h8M2778 862h8M2621 765h8M2701 881h8M2739 854h8M2647 881h8M2790 920h8M2506 983h8M2754 868h8M2569 855h8M2518 867h8M2732 883h8M2591 910h8M2701 900h8M2715 955h8M2705 942h8M2741 880h8M2721 887h8M2633 907h8M2707 925h8M2678 822h8M2665 903h8M2724 905h8M2657 886h8M2754 928h8M2663 900h8M2672 870h8M2659 872h8M2718 848h8M2631 913h8M2696 845h8M2594 873h8M2690 922h8M2654 961h8M2722 817h8M2640 926h8M2744 870h8M2637 880h8M2674 839h8M2679 937h8M2683 927h8M2605 924h8M2634 910h8M2709 839h8M2579 931h8M2714 909h8M2603 928h8M2717 850h8M2569 920h8M2671 848h8M2627 848h8M2691 889h8M2736 901h8M2678 944h8M2652 838h8M2651 849h8M2716 965h8M2607 876h8M2555 960h8M2805 920h8M2784 948h8M2620 882h8M2647 931h8M2547 839h8M2691 861h8M2539 850h8M2713 963h8M2665 947h8M2561 887h8M2686 867h8M2646 1003h8M2541 817h8M2669 926h8M2540 848h8M2629 886h8M2531 913h8M2685 874h8M2523 949h8M2649 825h8M2707 932h8M2578 913h8M2625 888h8M2693 842h8M2701 945h8M2641 908h8M2646 883h8M2750 858h8M2642 992h8M2648 883h8M2656 872h8M2642 945h8M2554 793h8M2681 861h8M2625 881h8M2636 842h8M2643 873h8M2574 889h8M2773 905h8M2792 877h8M2695 882h8M2592 841h8M2523 911h8M2631 897h8M2556 822h8M2583 933h8M2791 986h8M2674 886h8M2545 806h8M2627 885h8M2648 834h8M2645 900h8M2686 969h8M2563 897h8M2611 853h8M2668 815h8M2773 895h8M2754 896h8M2794 849h8M2599 986h8M2718 949h8M2662 874h8M2655 943h8M2708 886h8M2495 910h8M2731 962h8M2654 807h8M2600 938h8M2699 916h8M2674 866h8M2628 882h8M2700 827h8M2779 952h8M2593 834h8M2792 926h8M2635 845h8M2782 923h8M2686 965h8M2594 865h8M2598 899h8M2494 882h8M2587 870h8M2583 774h8M2701 940h8M2738 850h8M2664 916h8M2631 831h8M2693 897h8M2625 940h8M2598 901h8M2663 947h8M2678 845h8M2540 905h8M2569 945h8M2723 887h8M2625 877h8M2767 903h8M2552 863h8M2701 855h8M2792 838h8M2725 876h8M2788 918h8M2670 902h8M2639 818h8M2642 868h8M2647 854h8M2540 888h8M2615 921h8M2718 830h8M2673 874h8M2669 858h8M2609 945h8M2687 825h8M2561 885h8M2616 868h8M2601 922h8M2726 917h8M2656 882h8M2561 975h8M2694 874h8M2810 833h8M2623 864h8M2616 892h8M2625 881h8M2626 903h8M2628 849h8M2747 818h8M2732 948h8M2654 851h8M2673 873h8M2608 949h8M2726 785h8M2539 861h8M2837 854h8M2620 930h8M2673 833h8M2813 935h8M2624 904h8M2650 896h8M2698 874h8M2861 887h8M2620 946h8M2611 917h8M2776 854h8M2583 959h8M2681 797h8M2585 909h8M2732 858h8M2587 934h8M2628 835h8M2877 950h8M2704 941h8M2648 900h8M2669 933h8M2694 893h8M2579 882h8M2726 900h8M2685 975h8M2806 846h8M2732 856h8M2679 950h8M2690 987h8M2680 945h8M2633 873h8M2649 836h8M2627 834h8M2667 866h8M2682 954h8M2728 912h8M2649 863h8M2558 927h8M2679 924h8M2504 878h8M2505 876h8M2622 890h8M2728 857h8M2729 930h8M2655 888h8M2646 909h8M2604 911h8M2683 882h8M2654 897h8M2606 916h8M2638 913h8M2601 966h8M2740 856h8M2606 872h8M2676 884h8M2562 885h8M2476 881h8M2627 874h8M2744 925h8M2738 892h8M2676 837h8M2750 885h8M2641 903h8M2581 901h8M2638 829h8M2723 850h8M2627 897h8M2658 847h8M2545 902h8M2611 879h8M2638 865h8M2885 806h8M2751 882h8M2597 933h8M2665 855h8M2613 856h8M2638 899h8M2649 847h8M2568 867h8M2747 833h8M2649 782h8M2685 866h8M2771 819h8M2684 921h8M2675 794h8M2786 917h8M2720 852h8M2668 921h8M2672 975h8M2663 852h8M2655 804h8M2646 983h8M2638 876h8M2602 912h8M2698 947h8M2485 936h8M2561 905h8M2667 884h8M2593 977h8M2574 816h8M2789 919h8M2656 926h8M2600 931h8M2727 832h8M2640 857h8M2636 845h8M2714 833h8M2697 927h8M2601 831h8M2669 917h8M2658 867h8M2522 876h8M2665 897h8M2805 869h8M2630 814h8M2692 839h8M2831 828h8M2624 817h8M2708 896h8M2527 862h8M2825 908h8M2679 880h8M2638 817h8M2629 942h8M2696 930h8M2728 860h8M2589 889h8M2622 838h8M2586 924h8M2529 814h8M2643 915h8M2663 921h8M2620 882h8M2696 932h8M2739 889h8M2711 865h8M2557 852h8M2593 778h8M2607 885h8M2655 862h8M2636 893h8M2675 922h8M2527 830h8M2837 937h8M2633 921h8M2726 894h8M2737 887h8M2640 833h8M2675 1003h8M2744 846h8M2651 931h8M2778 920h8M2578 836h8M2612 844h8M2583 887h8M2653 904h8M2574 854h8M2733 863h8M2691 886h8M2567 893h8M2522 839h8M2550 861h8M2789 787h8M2769 944h8M2561 931h8M2672 868h8M2820 918h8M2514 870h8M2728 927h8M2626 879h8M2622 859h8M2627 869h8M2622 832h8M2652 823h8M2662 883h8M2727 913h8M2582 915h8M2603 862h8M2644 923h8M2616 934h8M2706 871h8M2695 821h8M2564 915h8M2578 813h8M2757 908h8M2599 900h8M2705 862h8M2590 821h8M2682 866h8M2617 868h8M2663 880h8M2521 937h8M2723 895h8M2632 860h8M2726 879h8M2578 890h8M2630 876h8M2568 865h8M2700 909h8M2748 902h8M2666 941h8M2577 850h8M2766 946h8M2723 840h8M2765 887h8M2743 946h8M2748 961h8M2820 840h8M2819 918h8M2815 803h8M2820 910h8M2763 941h8M2676 939h8M2785 904h8M2743 807h8M2706 832h8M2838 905h8M2740 881h8M2780 917h8M2802 885h8M2726 871h8M2711 911h8M2776 889h8M2731 878h8M2751 892h8M2723 880h8M2710 827h8M2860 863h8M2706 845h8M2818 880h8M2714 890h8M2751 903h8M2764 826h8M2796 884h8M2761 923h8M2748 911h8M2732 851h8M2802 903h8M2744 882h8M2685 819h8M2689 848h8M2775 892h8M2765 808h8M2777 916h8M2760 953h8M2763 978h8M2763 848h8M2672 858h8M2760 917h8M2620 801h8M2788 931h8M2792 890h8M2806 789h8M2756 924h8M2818 924h8M2685 929h8M2740 936h8M2765 868h8M2763 972h8M2860 831h8M2785 867h8M2757 926h8M2811 924h8M2746 903h8M2758 852h8M2722 922h8M2709 809h8M2806 871h8M2807 821h8M2718 860h8M2810 894h8M2800 883h8M2852 874h8M2786 790h8M2661 881h8M2686 849h8M2778 895h8M2758 864h8M2750 897h8M2844 845h8M2880 858h8M2712 886h8M2748 936h8M2725 952h8M2761 990h8M2735 883h8M2748 913h8M2695 846h8M2715 957h8M2804 932h8M2800 899h8M2708 839h8M2677 908h8M2704 919h8M2818 934h8M2711 927h8M2725 890h8M2788 832h8M2749 889h8M2837 925h8M2725 898h8M2767 873h8M2736 908h8M2808 875h8M2753 869h8M2740 892h8M2678 851h8M2721 845h8M2766 828h8M2829 908h8M2763 824h8M2628 849h8M2719 960h8M2705 880h8M2743 898h8M2734 834h8M2778 780h8M2815 884h8M2754 906h8M2754 826h8M2764 772h8M2761 914h8M2782 903h8M2785 869h8M2735 939h8M2830 895h8M2755 883h8M2806 922h8M2809 862h8M2773 906h8M2781 911h8M2837 908h8M2755 827h8M2821 922h8M2724 914h8M2734 849h8M2776 890h8M2867 870h8M2731 804h8M2735 854h8M2713 867h8M2777 906h8M2803 850h8M2743 857h8M2759 904h8M2649 909h8M2816 851h8M2789 843h8M2746 827h8M2731 888h8M2719 877h8M2796 812h8M2754 843h8M2763 894h8M2777 913h8M2758 888h8M2775 893h8M2687 895h8M2773 797h8M2818 897h8M2702 886h8M2785 903h8M2779 829h8M2757 940h8M2788 838h8M2778 928h8M2846 840h8M2713 851h8M2823 943h8M2766 964h8M2669 879h8M2725 922h8M2766 950h8M2704 865h8M2798 984h8M2765 924h8M2811 916h8M2838 918h8M2832 951h8M2714 859h8M2820 814h8M2776 931h8M2776 902h8M2830 836h8M2720 976h8M2696 864h8M2839 830h8M2839 889h8M2801 893h8M2817 957h8M2847 957h8M2779 895h8M2769 845h8M2717 920h8M2793 860h8M2781 826h8M2665 903h8M2804 840h8M2826 971h8M2778 999h8M2664 854h8M2864 828h8M2927 834h8M2827 920h8M3028 909h8M2880 934h8M2916 882h8M2909 891h8M2900 875h8M2884 831h8M2881 878h8M2952 901h8M2953 904h8M2931 822h8M2991 934h8M2883 883h8M2988 880h8M2930 845h8M2918 874h8M2907 834h8M2936 825h8M2932 830h8M2949 992h8M2936 956h8M2812 910h8M2849 893h8M2949 822h8M2915 830h8M2888 839h8M2936 870h8M2881 891h8M2911 894h8M2888 894h8M2891 885h8M2914 875h8M2906 898h8M2868 851h8M2912 870h8M2870 915h8M2858 878h8M2979 856h8M2914 868h8M2931 941h8M2962 924h8M2889 951h8M2886 928h8M2892 884h8M2847 913h8M3003 972h8M2949 934h8M2885 842h8M2893 900h8M2930 935h8M2875 897h8M2904 872h8M2894 892h8M2911 891h8M2842 871h8M2857 934h8M2935 840h8M2872 951h8M3000 941h8M2917 826h8M2903 894h8M2941 829h8M2873 849h8M2909 823h8M2858 850h8M2899 844h8M2986 898h8M2938 893h8M2990 837h8M2866 912h8M2917 900h8M2934 813h8M2952 828h8M2899 908h8M2828 896h8M2886 888h8M2990 852h8M2846 818h8M2918 910h8M2835 897h8M2914 930h8M2819 851h8M2926 910h8M2887 894h8M2909 856h8M2868 850h8M2904 911h8M3000 936h8M2907 848h8M2938 862h8M2880 935h8M2968 895h8M2837 946h8M2987 897h8M2882 930h8M2916 889h8M2990 862h8M2902 881h8M2885 902h8M3003 862h8M2904 974h8M2893 855h8M2816 899h8M2947 904h8M2915 837h8M2884 915h8M2931 882h8M2861 821h8M2880 885h8M2891 894h8M2952 888h8M2922 869h8M2934 766h8M2822 881h8M2887 870h8M2814 892h8M2864 884h8M2933 937h8M2989 834h8M2889 883h8M2856 933h8M2893 871h8M2819 901h8M2935 970h8M2926 814h8M2946 856h8M2943 953h8M2891 892h8M2912 863h8M3025 840h8M2900 918h8M2958 865h8M2903 854h8M2879 859h8M2880 854h8M2897 925h8M2860 901h8M2823 903h8M2972 895h8M2890 905h8M2929 901h8M2937 803h8M2866 794h8M2884 834h8M2949 819h8M2998 890h8M2858 918h8M2875 824h8M2871 880h8M2956 900h8M2851 902h8M2852 913h8M2917 849h8M2909 919h8M2843 896h8M2914 873h8M2901 820h8M3008 794h8M3002 994h8M2871 891h8M2879 904h8M2904 852h8M2915 889h8M2969 810h8M2895 879h8M2894 899h8M2910 859h8M2885 954h8M2879 897h8M2964 795h8M2854 914h8M2940 905h8M2964 910h8M2960 847h8M2901 875h8M2885 845h8M2853 928h8M2923 968h8M2935 940h8M2868 849h8M2890 891h8M2860 885h8M2909 890h8M2857 916h8M2857 955h8M2837 858h8M2877 847h8M2903 845h8M2913 920h8M2894 863h8M2957 934h8M2870 888h8M2970 816h8M2938 917h8M2920 806h8M2937 906h8M2893 882h8M2933 861h8M2884 910h8M2873 939h8M2920 832h8M2918 999h8M2911 938h8M2944 843h8M2837 916h8M2913 867h8M2914 923h8M2937 875h8M2848 937h8M2896 871h8M2981 922h8M2915 899h8M2913 897h8M2905 863h8M2960 850h8M2923 850h8M2914 875h8M2893 878h8M2980 874h8M2832 846h8M2862 839h8M2894 906h8M2873 862h8M2927 904h8M2934 947h8M2934 850h8M2943 907h8M2972 888h8M2886 984h8M2861 985h8M2886 906h8M2862 925h8M2896 891h8M2927 907h8M2867 972h8M2870 828h8M2883 889h8M2850 873h8M2917 865h8M2912 822h8M2872 926h8M2899 804h8M2989 845h8M2871 874h8M2900 929h8M2903 848h8M2965 900h8M2907 854h8M2908 847h8M2932 928h8M2903 853h8M2876 959h8M2867 863h8M2945 845h8M2994 938h8M2903 849h8M2899 924h8M2978 854h8M2941 959h8M2924 856h8M2892 907h8M2895 859h8M2934 856h8M2865 888h8M2911 770h8M2853 943h8M3012 856h8M2957 970h8M2893 868h8M2907 925h8M2973 882h8M2917 919h8M2944 933h8M2841 901h8M2889 926h8M2911 837h8M2850 868h8M2936 919h8M2844 886h8M2865 895h8M2889 775h8M2900 896h8M2862 871h8M2967 842h8M2921 861h8M2908 877h8M2894 883h8M2906 893h8M2876 786h8M2889 933h8M2947 892h8M2907 849h8M2925 890h8M2941 867h8M2904 915h8M2866 932h8M2929 885h8M2885 843h8M2905 824h8M2841 900h8M2907 865h8M2934 805h8M2890 845h8M2887 839h8M2920 919h8M2910 892h8M2945 898h8M2857 900h8M2942 925h8M2935 865h8M2802 855h8M2915 928h8M2956 885h8M2982 831h8M2857 947h8M2979 879h8M2912 937h8M2893 893h8M2987 835h8M2764 888h8M2950 912h8M2956 955h8M2931 928h8M2889 817h8M2986 869h8M2821 944h8M2906 859h8M2905 920h8M2923 864h8M2909 856h8M3046 848h8M2941 853h8M2852 863h8M2908 923h8M2936 923h8M2881 888h8M2972 939h8M2971 835h8M2869 872h8M2900 897h8M2859 846h8M2857 941h8M2911 817h8M2939 904h8M2939 836h8M2846 864h8M2863 806h8M2928 870h8M2850 921h8M2912 911h8M2945 878h8M2908 891h8M2901 885h8M2847 872h8M2862 838h8M2894 889h8M2855 889h8M2930 818h8M2901 902h8M3018 853h8M2924 886h8M2888 900h8M2897 898h8M2916 889h8M2834 859h8M2970 879h8M2862 854h8M2977 843h8M2898 827h8M2870 890h8M2884 928h8M2958 881h8M2943 817h8M2886 832h8M2892 899h8M2927 901h8M2892 908h8M2986 910h8M2872 871h8M2932 946h8M2894 826h8M2972 950h8M2923 856h8M2931 815h8M2905 943h8M2881 829h8M2909 932h8M2874 841h8M2920 941h8M2875 926h8M2893 826h8M2882 814h8M2828 944h8M2919 881h8M2872 927h8M2826 824h8M2863 911h8M2947 881h8M2944 940h8M2943 900h8M2890 913h8M2907 990h8M2883 910h8M2978 832h8M2913 907h8M2849 847h8M2829 881h8M2880 911h8M2877 896h8M2854 885h8M2820 889h8M2889 857h8M2897 815h8M2875 836h8M2893 869h8M2886 871h8M2835 909h8M2968 927h8M2875 920h8M2983 879h8M2897 905h8M2951 804h8M2952 878h8M2912 883h8M2836 846h8M2876 827h8M2828 888h8M2992 851h8M2865 866h8M3018 870h8M2907 844h8M2955 843h8M2872 865h8M2856 833h8M2883 933h8M2999 852h8M2929 901h8M2869 845h8M2926 859h8M2863 899h8M2858 907h8M2850 949h8M2885 829h8M2876 901h8M2884 837h8M2894 888h8M2917 937h8M2845 875h8M2943 872h8M3021 786h8M2910 879h8M2987 856h8M2932 868h8M2937 847h8M2859 852h8M2847 873h8M2855 845h8M2949 823h8M2888 910h8M2890 881h8M2881 895h8M2955 896h8M2962 950h8M2866 884h8M2896 859h8M2962 804h8M2942 785h8M2890 895h8M2904 901h8M2989 803h8M2867 914h8M2897 935h8M2900 870h8M2855 884h8M2927 813h8M2859 903h8M2839 876h8M2903 874h8M2912 887h8M2879 971h8M3012 911h8M2947 899h8M2855 1004h8M2915 858h8M2892 929h8M2962 965h8M2890 895h8M2841 890h8M2909 922h8M2878 895h8M2900 927h8M2807 853h8M2893 843h8M2942 972h8M2881 911h8M2937 860h8M2829 881h8M2892 893h8M2945 892h8M2903 841h8M2961 853h8M2918 873h8M2836 820h8M2916 898h8M3003 863h8M2878 1011h8M2907 886h8M2830 945h8M2955 845h8M2920 864h8M2926 784h8M2950 888h8M2890 880h8M2867 835h8M2931 825h8M2840 889h8M2939 940h8M2970 946h8M2914 886h8M2886 858h8M2969 846h8M2876 926h8M2896 909h8M2892 908h8M2916 898h8M2926 827h8M2905 908h8M2816 920h8M2859 917h8M2940 904h8M2996 851h8M2922 898h8M2926 861h8M2880 915h8M2930 872h8M2948 825h8M2879 889h8M2848 821h8M2916 914h8M2939 903h8M2960 878h8M2832 923h8M2986 885h8M2906 862h8M2913 892h8M2947 942h8M2983 866h8M2839 852h8M2905 801h8M2902 926h8M2890 886h8M2930 918h8M2881 895h8M2871 848h8M2842 852h8M2916 973h8M2953 864h8M2869 888h8M2926 850h8M2892 900h8M2835 855h8M2943 900h8M2895 950h8M2809 943h8M2898 860h8M2948 940h8M2891 899h8M2836 816h8M2814 936h8M2858 796h8M2873 875h8M2875 918h8M2812 937h8M2981 911h8M2783 913h8M2904 856h8M2942 845h8M2903 925h8M2906 853h8M2894 891h8M2973 892h8M2932 782h8M2841 935h8M2910 868h8M2909 835h8M3013 969h8M2974 927h8M2948 929h8M2939 860h8M2899 936h8M2867 908h8M2926 927h8M2893 943h8M2834 937h8M2932 872h8M2917 928h8M2935 862h8M2868 915h8M2916 875h8M2872 887h8M2894 800h8M2939 897h8M2894 869h8M2880 853h8M2895 934h8M2875 977h8M2980 933h8M2926 931h8M2911 892h8M2956 934h8M2821 925h8M2874 866h8M2870 951h8M2896 870h8M2926 920h8M3017 831h8M2909 825h8M2927 944h8M2848 960h8M2810 853h8M2906 816h8M2906 890h8M2941 847h8M2848 876h8M2950 930h8M2841 910h8M2856 869h8M2930 874h8M2940 926h8M3009 933h8M2909 843h8M2938 847h8M2876 835h8M2850 867h8M2881 828h8M2885 888h8M2863 898h8M2868 868h8M2904 821h8M2840 880h8M2910 904h8M2961 801h8M2932 839h8M2887 850h8M2898 878h8M2922 855h8M2911 910h8M2859 902h8M2935 836h8M2846 949h8M2856 915h8M2895 930h8M2960 815h8M2930 857h8M2865 846h8M2920 966h8M2895 843h8M3018 735h8M2897 898h8M2832 950h8M2940 892h8M2944 927h8M2953 962h8M2953 827h8M2786 884h8M2879 824h8M2932 920h8M2918 845h8M2909 933h8M2968 848h8M2880 861h8M2906 808h8M2965 898h8M2957 864h8M2864 917h8M2918 913h8M2925 826h8M2961 910h8M2942 906h8M2908 959h8M2955 902h8M2905 883h8M2948 859h8M2977 876h8M2869 862h8M2980 868h8M2948 887h8M2908 868h8M2917 958h8M2887 859h8M2876 1002h8M2936 864h8M2908 834h8M2881 755h8M2993 856h8M2858 927h8M2917 853h8M2904 982h8M2919 940h8M2915 836h8M2811 870h8M2863 893h8M2972 925h8M2893 918h8M2941 861h8M2928 876h8M2877 905h8M2849 819h8M2966 920h8M2893 917h8M2962 926h8M2861 870h8M2942 898h8M2916 899h8M2908 880h8M2870 832h8M2902 890h8M2950 872h8M2899 872h8M2843 897h8M2931 913h8M2962 834h8M2923 837h8M2933 867h8M2891 880h8M2867 885h8M2969 901h8M2912 958h8M2988 882h8M2908 886h8M2920 918h8M2971 963h8M2931 915h8M2942 873h8M2900 869h8M2980 923h8M2955 872h8M2888 878h8M2878 937h8M2858 889h8M2952 743h8M2896 848h8M2951 936h8M2899 811h8M2925 914h8M2901 831h8M2871 889h8M2928 903h8M2883 924h8M2958 834h8M2885 824h8M2872 835h8M2945 910h8M2906 924h8M2898 841h8M2857 867h8M2826 877h8M2865 933h8M2916 838h8M2929 822h8M2917 852h8M2896 942h8M2920 854h8M2975 959h8M2965 915h8M2949 955h8M2880 896h8M2850 893h8M2951 914h8M2908 881h8M2840 895h8M2933 942h8M2878 851h8M2893 886h8M2920 848h8M2936 891h8M2885 932h8M2876 906h8M2815 947h8M2927 875h8M2885 823h8M2961 844h8M2832 908h8M2832 958h8M2960 849h8M2914 947h8M2844 894h8M2957 844h8M2816 882h8M2816 877h8M2948 884h8M2874 906h8M2936 909h8M2876 891h8M2918 910h8M2949 808h8M2899 848h8M2882 882h8M2950 873h8M2858 876h8M2954 888h8M2824 817h8M2854 842h8M2874 944h8M2954 873h8M2942 897h8M2962 888h8M2910 886h8M2919 839h8M2908 900h8M2813 958h8M2916 935h8M2981 824h8M2861 1000h8M2897 939h8M2954 932h8M2868 919h8M2855 920h8M2949 842h8M2977 890h8M2938 904h8M2968 940h8M2874 908h8M2874 891h8M2925 829h8M2875 876h8M2908 861h8M2864 806h8M2905 912h8M2914 813h8M2922 854h8M2815 953h8M2886 911h8M2931 869h8M2835 864h8M2982 845h8M2937 859h8M2950 788h8M2868 940h8M2914 915h8M2860 850h8M2894 863h8M2867 975h8M2896 916h8M2941 955h8M2852 807h8M2879 792h8M2878 943h8M2928 893h8M2907 828h8M2828 854h8M2934 838h8M2853 891h8M2912 867h8M2906 901h8M2850 819h8M2877 919h8M2836 919h8M2914 958h8M2891 931h8M2909 869h8M2822 934h8M2801 793h8M2879 930h8M2987 815h8M2901 907h8M2908 887h8M2944 903h8M2838 874h8M2928 961h8M2941 835h8M2897 850h8M2862 837h8M2866 954h8M3006 919h8M2881 876h8M2869 921h8M2913 898h8M2917 861h8M2919 835h8M3001 817h8M2979 876h8M2846 952h8M2900 898h8M2934 879h8M2955 800h8M2945 801h8M2885 928h8M2842 894h8M2950 923h8M2907 873h8M2868 882h8M2896 863h8M2904 832h8M2953 879h8M2938 936h8M2986 856h8M2897 931h8M2895 889h8M2856 952h8M2847 818h8M2956 885h8M2909 862h8M2957 793h8M2865 884h8M2891 944h8M2860 913h8M2921 869h8M2850 889h8M2858 873h8M2897 913h8M2952 836h8M2964 833h8M2822 891h8M3020 874h8M2978 892h8M2871 898h8M2878 855h8M2898 822h8M2889 833h8M2884 839h8M2962 962h8M2953 870h8M2834 900h8M2959 808h8M2962 877h8M2858 797h8M2929 892h8M2914 885h8M2947 859h8M2867 891h8M2902 940h8M2844 848h8M2866 869h8M2922 899h8M2932 880h8M2902 880h8M2943 877h8M2878 962h8M2934 802h8M2916 815h8M2939 837h8M2932 943h8M2898 974h8M2885 883h8M2924 929h8M2955 891h8M2865 904h8M2974 911h8M2878 840h8M2997 857h8M2907 868h8M2868 929h8M2857 917h8M2918 965h8M2923 867h8M2881 892h8M2896 762h8M2863 854h8M2914 840h8M2990 875h8M2876 921h8M2925 837h8M2962 886h8M2924 886h8M2939 875h8M2844 955h8M2938 846h8M2927 863h8M2971 901h8M2839 904h8M2880 905h8M2789 926h8M2979 904h8M2867 918h8M2801 911h8M2898 841h8M2935 890h8M2951 836h8M2852 803h8M2919 869h8M2898 858h8M2921 885h8M2963 921h8M2958 886h8M2921 850h8M2944 836h8M2874 873h8M2984 894h8M2943 867h8M2883 842h8M3003 938h8M2860 836h8M2873 931h8M2880 943h8M2873 917h8M2922 865h8M2938 947h8M2949 880h8M2887 869h8M2904 877h8M2925 839h8M2922 912h8M2851 835h8M2868 874h8M2949 870h8M2925 868h8M2970 938h8M2973 884h8M2926 940h8M2862 944h8M2925 825h8M2826 875h8M2869 884h8M2884 880h8M2842 911h8M2944 861h8M2939 844h8M2884 909h8M2872 865h8M2830 856h8M2994 861h8M2953 964h8M2877 898h8M2886 888h8M2941 821h8M2944 852h8M2873 847h8M2931 842h8M2902 802h8M2980 842h8M2904 902h8M2862 952h8M2855 912h8M2947 934h8M2918 969h8M2899 852h8M2997 904h8M2947 865h8M2889 870h8M2884 881h8M2948 830h8M2898 902h8M2924 909h8M2842 922h8M2904 840h8M2850 825h8M2915 758h8M2907 798h8M2981 865h8M2927 880h8M2918 891h8M2944 871h8M2864 922h8M2908 889h8M2856 871h8M2858 842h8M2918 897h8M2952 825h8M2833 906h8M2895 881h8M2794 810h8M2900 843h8M3033 918h8M2900 907h8M2841 846h8M2919 814h8M2974 839h8M2919 806h8M2841 819h8M2921 887h8M2909 885h8M2859 890h8M2962 914h8M2846 848h8M2898 826h8M3008 874h8M2828 840h8M2887 895h8M2932 901h8M2865 891h8M3013 828h8M2914 917h8M2809 901h8M2926 871h8M2850 889h8M2913 843h8M2938 925h8M2933 914h8M2945 879h8M2811 855h8M2904 854h8M2939 910h8M2967 891h8M2860 904h8M2938 884h8M2874 895h8M2976 926h8M2848 844h8M2953 804h8M2970 898h8M2929 870h8M2933 949h8M2880 928h8M2886 918h8M2874 914h8M2896 849h8M2947 897h8M2967 872h8M2897 914h8M2850 870h8M2934 847h8M2854 847h8M2945 915h8M2882 899h8M2870 924h8M2817 839h8M2994 939h8M2878 886h8M2933 919h8M2899 934h8M2896 817h8M2936 905h8M2826 840h8M2934 991h8M2967 925h8M2923 981h8M2940 815h8M2898 907h8M2847 805h8M2931 849h8M2741 939h8M2921 869h8M2941 867h8M2926 877h8M2822 912h8M2842 926h8M2825 895h8M2837 925h8M2987 897h8M2988 860h8M2861 909h8M2933 857h8M2905 901h8M2829 952h8M2862 857h8M2940 886h8M2937 911h8M2945 920h8M2873 941h8M2925 842h8M2946 845h8M2887 842h8M2850 932h8M2906 891h8M2918 852h8M2905 881h8M2984 878h8M2912 846h8M2930 888h8M2855 869h8M2814 952h8M2886 862h8M2992 810h8M2859 926h8M2899 898h8M2864 810h8M2875 913h8M2871 800h8M2831 892h8M2916 895h8M2879 859h8M2907 899h8M2848 883h8M2894 883h8M2864 873h8M2876 869h8M2892 896h8M2907 960h8M2944 890h8M2942 954h8M2938 877h8M2901 831h8M2892 893h8M2970 875h8M2939 869h8M2951 959h8M2926 865h8M2849 817h8M2924 897h8M2891 863h8M2882 934h8M2897 845h8M2926 886h8M2914 1002h8M2904 887h8M2849 910h8M2969 875h8M2840 837h8M2911 903h8M2865 911h8M2891 880h8M2946 850h8M2931 944h8M2968 863h8M2909 858h8M2889 963h8M3010 922h8M2844 907h8M3007 862h8M2991 868h8M2886 857h8M2912 864h8M2894 798h8M2909 866h8M2892 951h8M2795 895h8M2891 815h8M2886 866h8M2902 975h8M2834 839h8M3021 863h8M2920 829h8M2883 902h8M2884 974h8M2897 888h8M2929 894h8M2911 872h8M2897 876h8M2880 836h8M2948 892h8M2957 836h8M2905 895h8M2833 934h8M2847 833h8M2888 897h8M2900 876h8M2858 882h8M2792 905h8M2977 918h8M2896 934h8M2879 868h8M2938 809h8M2937 853h8M2940 768h8M2952 966h8M2923 867h8M2853 840h8M2930 840h8M2877 899h8M2878 812h8M2879 876h8M2918 906h8M2872 874h8M2985 909h8M2999 862h8M2886 949h8M2838 867h8M2841 970h8M2841 783h8M2995 903h8M2912 879h8M2962 926h8M2896 793h8M2894 845h8M2861 910h8M2956 863h8M3004 881h8M2887 891h8M2985 907h8M2921 886h8M2852 924h8M2932 906h8M2971 861h8M2900 939h8M2961 855h8M2941 838h8M2966 959h8M2934 884h8M2845 939h8M2924 909h8M2907 875h8M2947 937h8M2962 864h8M2895 929h8M2859 886h8M2907 866h8M2876 831h8M2932 936h8M2941 889h8M2933 886h8M2923 931h8M2902 897h8M2872 915h8M2901 931h8M2827 854h8M2875 850h8M2914 922h8M2764 856h8M2826 921h8M2890 895h8M2870 823h8M2930 840h8M2995 835h8M3014 790h8M2716 712h8M2954 874h8M2906 855h8M2928 850h8M2818 843h8M2945 961h8M3031 822h8M2968 752h8M2836 945h8M2925 858h8M2910 787h8M2933 853h8M2895 796h8M2929 793h8M2979 909h8M2946 895h8M2941 861h8M2865 826h8M2811 813h8M3041 863h8M2881 758h8M2949 820h8M3037 919h8M2925 906h8M2853 905h8M2825 860h8M2852 927h8M3001 987h8M2932 837h8M2901 738h8M2913 839h8M2958 736h8M2876 868h8M2958 830h8M2834 838h8M2958 836h8M2809 1000h8M2901 801h8M2871 857h8M2973 930h8M2942 810h8M2847 898h8M2976 894h8M2971 793h8M2890 855h8M2837 856h8M2976 837h8M2767 698h8M2891 901h8M2914 904h8M2834 869h8M2892 824h8M3036 957h8M2865 640h8M2962 829h8M2868 847h8M2862 921h8M2885 828h8M2837 952h8M2820 697h8M2880 860h8M3034 741h8M2910 1003h8M3012 755h8M2907 860h8M3005 925h8M2893 859h8M2873 794h8M2980 944h8M2999 931h8M2862 925h8M2885 872h8M2864 926h8M2872 955h8M2973 970h8M2924 836h8M2797 801h8M2898 921h8M2920 843h8M2915 891h8M2963 879h8M2970 920h8M2903 854h8M2887 841h8M2968 844h8M2978 872h8M2801 878h8M2945 802h8M3017 982h8M2843 877h8M2897 936h8M2844 916h8M2881 878h8M2998 843h8M2970 989h8M2757 840h8M3061 823h8M2865 828h8M2899 962h8M2904 836h8M2960 824h8M2857 939h8M2885 880h8M2886 745h8M2728 927h8M2827 774h8M2977 871h8M2962 771h8M2748 936h8M2902 938h8M2974 796h8M2779 786h8M2912 847h8M2902 894h8M2900 847h8M2888 913h8M2996 946h8M2970 827h8M2911 869h8M2909 848h8M2905 890h8M2896 801h8M2786 812h8M2929 898h8M2842 812h8M2889 854h8M2996 816h8M3034 946h8M2938 826h8M2974 899h8M2910 929h8M2944 895h8M2942 852h8M3016 813h8M2958 761h8M2887 876h8M2946 874h8M2839 831h8M2810 888h8M2831 885h8M2856 849h8M2795 857h8M2858 804h8M2856 887h8M2860 801h8M2977 887h8M3063 906h8M2928 925h8M3026 914h8M2941 917h8M2849 858h8M2843 840h8M2845 875h8M2913 895h8M2883 904h8M2947 834h8M2892 901h8M2818 800h8M3039 919h8M2917 900h8M2956 813h8M3012 782h8M3002 956h8M3022 813h8M2854 869h8M2934 942h8M2799 851h8M2873 762h8M2900 934h8M2842 968h8M2871 984h8M2929 829h8M2960 923h8M2822 881h8M3076 864h8M2932 938h8M2857 885h8M2851 956h8M2912 819h8M2892 922h8M2909 936h8M2990 794h8M2872 878h8M2982 838h8M2935 937h8M2904 813h8M2963 867h8M3001 894h8M2882 800h8M2918 911h8M2987 868h8M2884 879h8M2927 815h8M3038 862h8M2946 836h8M2773 928h8M2811 801h8M2891 827h8M2829 955h8M2897 816h8M2783 761h8M3069 931h8M2977 907h8M2958 977h8M2942 875h8M2936 897h8M2996 792h8M2937 896h8M2963 848h8M2986 812h8M2976 835h8M2958 871h8M2945 834h8M2861 952h8M2986 803h8M2818 793h8M2890 820h8M2940 782h8M2880 762h8M2958 936h8M2820 905h8M3017 903h8M3005 871h8M2934 913h8M2912 899h8M2907 803h8M2845 856h8M2894 889h8M3000 881h8M2604 812h8M2889 950h8M2960 865h8M2878 782h8M2902 871h8M2815 792h8M2839 865h8M3009 700h8M2827 947h8M2859 894h8M2917 957h8M2830 798h8M2820 865h8M2919 795h8M2932 801h8M2830 852h8M2884 884h8M2817 971h8M2974 875h8M2895 849h8M2936 940h8M2942 860h8M2904 992h8M2942 945h8M3037 817h8M2928 975h8M2906 839h8M2794 947h8M3047 775h8M2897 879h8M2959 910h8M2866 932h8M2907 887h8M2723 936h8M3028 805h8M2860 857h8M2965 793h8M2882 956h8M2878 803h8M2952 801h8M2772 837h8M2953 897h8M2920 895h8M2810 895h8M2848 873h8M2924 848h8M2972 1013h8M2976 895h8M2836 929h8M2989 779h8M2864 870h8M2884 834h8M2834 841h8M2950 879h8M2970 864h8M2877 965h8M2850 878h8M2889 824h8M2836 804h8M3029 989h8M2914 841h8M2900 992h8M3089 886h8M2918 965h8M3030 831h8M2953 866h8M2918 893h8M3001 845h8M3044 763h8M2936 911h8M2898 917h8M2904 955h8M2993 884h8M2877 875h8M2856 851h8M2901 859h8M2993 815h8M2761 804h8M2862 919h8M2852 764h8M2849 907h8M2898 890h8M2906 879h8M2808 849h8M2803 865h8M2871 867h8M2794 948h8M3014 889h8M2894 879h8M2818 815h8M2800 924h8M2851 801h8M2987 848h8M2911 940h8M2879 823h8M2936 879h8M2870 861h8M2816 865h8M2795 808h8M2939 817h8M2938 837h8M3007 832h8M2883 860h8M2874 881h8M2929 843h8M2721 844h8M2793 742h8M2902 856h8M3024 861h8M2873 756h8M2970 825h8M3004 879h8M2999 859h8M2997 953h8M2959 869h8M2840 997h8M2823 869h8M2964 813h8M2788 750h8M2873 861h8M2831 857h8M2888 935h8M2956 906h8M2818 893h8M2899 756h8M2654 863h8M2873 909h8M2935 876h8M2742 913h8M2847 796h8M2971 876h8M2919 824h8M2672 911h8M2836 855h8M2899 854h8M2950 915h8M2904 770h8M2888 796h8M3004 809h8M2977 965h8M2825 854h8M2890 844h8M2921 908h8M2854 909h8M2851 927h8M2902 871h8M2933 979h8M3052 797h8M2889 860h8M3009 1003h8M2827 922h8M3024 926h8M2996 906h8M2910 836h8M2860 856h8M3051 920h8M2909 912h8M2880 961h8M2897 836h8M2807 892h8M2916 769h8M2921 838h8M2971 852h8M2848 761h8M2984 982h8M2851 977h8M2988 882h8M2910 871h8M2980 975h8M2895 776h8M2887 928h8M2949 814h8M2958 929h8M3041 893h8M2836 928h8M2891 952h8M2911 784h8M2862 812h8M2946 850h8M2908 911h8M2928 890h8M2983 841h8M2983 875h8M2848 875h8M2841 876h8M2993 926h8M2962 902h8M2910 837h8M2923 818h8M2914 846h8M2779 850h8M2931 850h8M2870 850h8M2912 925h8M2990 963h8M3066 892h8M2935 845h8M2846 912h8M2841 844h8M3025 861h8M2842 881h8M2836 896h8M2786 804h8M2803 906h8M2900 803h8M2977 872h8M2936 916h8M2852 914h8M3002 790h8M2816 930h8M2869 838h8M2942 841h8M2806 826h8M2975 920h8M2940 842h8M2834 853h8M2800 839h8M2956 937h8M2875 927h8M2877 834h8M2864 863h8M2866 957h8M2932 944h8M3016 946h8M2910 848h8M2927 884h8M2918 836h8M3044 999h8M2949 943h8M2975 735h8M2856 944h8M2991 854h8M2968 815h8M2911 852h8M2922 855h8M2898 858h8M2944 852h8M3051 895h8M2922 914h8M2922 995h8M2998 871h8M2888 874h8M2973 873h8M2839 890h8M2833 983h8M2832 979h8M2827 837h8M2715 754h8M2983 921h8M2912 760h8M2996 811h8M2930 882h8M2886 849h8M2907 914h8M3049 909h8M2898 866h8M2952 926h8M2926 880h8M2915 889h8M2920 856h8M2574 786h8M2623 726h8M2670 705h8M2594 805h8M2567 796h8M2612 791h8M2575 811h8M2766 695h8M2671 687h8M2642 714h8M2578 729h8M2583 789h8M2662 793h8M2621 780h8M2591 682h8M2434 759h8M2648 740h8M2672 741h8M2599 704h8M2609 719h8M2680 641h8M2566 704h8M2647 824h8M2623 831h8M2631 770h8M2630 811h8M2636 773h8M2633 725h8M2622 731h8M2698 773h8M2641 725h8M2586 835h8M2738 751h8M2657 777h8M2615 734h8M2646 682h8M2636 706h8M2723 710h8M2562 721h8M2671 779h8M2672 772h8M2568 775h8M2628 798h8M2687 728h8M2606 813h8M2547 799h8M2633 824h8M2706 757h8M2645 787h8M2690 693h8M2577 748h8M2594 649h8M2673 683h8M2607 705h8M2627 767h8M2609 706h8M2671 755h8M2585 708h8M2637 672h8M2635 653h8M2629 700h8M2539 701h8M2618 667h8M2560 772h8M2619 760h8M2573 751h8M2605 738h8M2657 789h8M2565 707h8M2685 763h8M2648 789h8M2644 763h8M2615 652h8M2601 698h8M2622 805h8M2636 708h8M2704 720h8M2661 858h8M2597 766h8M2602 798h8M2630 716h8M2481 748h8M2525 698h8M2640 703h8M2608 755h8M2782 684h8M2546 754h8M2678 724h8M2744 785h8M2730 723h8M2665 668h8M2660 659h8M2631 601h8M2668 640h8M2694 669h8M2709 627h8M2605 596h8M2732 695h8M2707 635h8M2631 633h8M2652 637h8M2692 705h8M2616 693h8M2674 578h8M2728 638h8M2669 662h8M2738 630h8M2654 615h8M2672 562h8M2586 690h8M2631 588h8M2683 681h8M2672 642h8M2572 661h8M2660 582h8M2651 588h8M2697 691h8M2685 688h8M2659 648h8M2686 534h8M2654 599h8M2712 634h8M2710 685h8M2720 663h8M2739 666h8M2693 613h8M2694 647h8M2625 589h8M2704 649h8M2700 701h8M2790 682h8M2960 597h8M2965 573h8M2833 611h8M2953 625h8M2570 730h8M2853 586h8M2840 673h8M2690 683h8M3032 730h8M2905 608h8M2784 810h8M2732 815h8M2646 783h8M2851 525h8M2927 775h8M2721 504h8M2561 732h8M2706 616h8M2833 553h8M2508 518h8M2831 681h8M2839 604h8M2917 689h8M2662 486h8M2730 483h8M2939 699h8M2565 668h8M2804 687h8M2951 514h8M2824 430h8M2680 382h8M2866 640h8M2704 820h8M3025 583h8M2915 728h8M2808 462h8M2602 639h8M2827 518h8M2706 511h8M2759 522h8M2628 763h8M2580 615h8M2662 738h8M2643 638h8M2803 540h8M2642 629h8M2718 569h8M2654 671h8M2802 466h8M2948 672h8M2802 713h8M2791 686h8M2709 582h8M2653 404h8M2713 464h8M2607 620h8M2726 776h8M2653 734h8M2789 816h8" stroke="#000" stroke-width="8" stroke-opacity="0.5" fill="none"/>
<path transform="scale(.1)" d="M2635 1000h8M2995 907h8M2815 870h8M2654 826h8M2499 907h8M2768 830h8M2637 901h8M2696 844h8M2555 877h8M2640 887h8M2604 864h8M2687 911h8M2645 850h8M2718 850h8M2626 856h8M2741 852h8M2632 880h8M2627 873h8M2899 919h8M2650 967h8M2774 896h8M2732 888h8M2639 853h8M2871 917h8M2826 883h8M3000 807h8M2684 905h8M2478 916h8M2432 1002h8M2714 907h8M2697 925h8M2715 901h8M2692 793h8M2762 875h8M2774 852h8M2501 850h8M2789 862h8M2644 867h8M2781 809h8M2797 879h8M2905 941h8M2718 829h8M2612 874h8M2887 814h8M2757 824h8M2786 824h8M2629 858h8M2675 875h8M2767 875h8M2871 894h8M2884 870h8M2666 815h8M2675 820h8M2575 902h8M2751 873h8M2916 910h8M2763 986h8M2480 882h8M2816 990h8M2523 884h8M2772 912h8M2674 941h8M2908 964h8M2533 830h8M2715 905h8M2783 874h8M2643 991h8M2868 974h8M2865 853h8M2980 897h8M2745 872h8M2717 820h8M2738 820h8M2589 859h8M2670 967h8M2790 800h8M2758 886h8M2740 929h8M2756 948h8M2770 872h8M2839 913h8M2883 911h8M2681 903h8M2732 898h8M2838 907h8M2726 964h8M2882 914h8M2579 906h8M2836 889h8M2618 1002h8M2879 875h8M2581 879h8M2796 810h8M2528 822h8M2850 950h8M2541 876h8M2815 979h8M2738 823h8M2809 936h8M2871 888h8M2546 901h8M2942 845h8M2952 855h8M2689 982h8M2540 901h8M2904 897h8M2710 902h8M2751 927h8M2768 957h8M2666 912h8M2742 837h8M2632 894h8M2940 816h8M2702 949h8M2685 823h8M2539 903h8M2736 767h8M2561 864h8M2554 822h8M2727 912h8M2637 817h8M2660 981h8M2855 793h8M2950 906h8M2729 843h8M3076 872h8M2703 861h8M2711 847h8M2603 902h8M2655 857h8M2765 876h8M2621 931h8M2579 887h8M2547 962h8M2590 934h8M2770 868h8M2540 890h8M2579 970h8M2641 907h8M2727 916h8M2852 952h8M2657 935h8M2590 873h8M2864 928h8M2519 891h8M2890 964h8M2684 871h8M2723 851h8M2691 920h8M2628 978h8M2673 903h8M2809 937h8M2654 931h8M2860 901h8M2875 951h8M2582 960h8M2601 896h8M2884 971h8M2796 880h8M2718 905h8M2648 841h8M2663 906h8M2851 731h8M2723 909h8M2716 878h8M2566 863h8M2760 903h8M2829 865h8M2785 846h8M2697 820h8M2518 855h8M2658 921h8M2459 813h8M2610 958h8M2453 928h8M2636 897h8M2596 955h8M2646 904h8M2713 898h8M2682 914h8M2631 850h8M2608 891h8M2927 950h8M2688 865h8M2779 855h8M2760 938h8M2860 758h8M2912 938h8M2616 838h8M2704 946h8M2831 879h8M3025 981h8M3058 890h8M2776 852h8M2919 920h8M2789 876h8M2629 923h8M2544 877h8M2688 878h8M2570 863h8M2852 843h8M2748 931h8M2717 800h8M2665 898h8M2705 952h8M2471 857h8M2835 821h8M2897 829h8M2613 901h8M2893 911h8M2579 920h8M2711 916h8M2709 904h8M2852 1012h8M2751 915h8M2730 860h8M2593 936h8M2787 844h8M2706 942h8M2629 897h8M2557 944h8M2795 962h8M2632 896h8M2750 841h8M2710 916h8M2741 855h8M2536 933h8M2768 909h8M2719 844h8M2911 938h8M2771 887h8M2611 931h8M2775 997h8M2844 875h8M2845 943h8M2691 756h8M2645 928h8M2733 910h8M2922 889h8M2939 933h8M2443 879h8M2738 832h8M2607 878h8M2838 926h8M2715 935h8M2777 935h8M2602 904h8M2528 903h8M2615 957h8M2831 899h8M2571 919h8M2792 897h8M2508 883h8M2711 1006h8M2821 872h8M3004 899h8M2753 932h8M2837 861h8M2718 836h8M2764 859h8M2498 874h8M2624 796h8M2660 861h8M2802 927h8M2683 777h8M2696 990h8M2639 945h8M2885 923h8M2686 843h8M2574 926h8M2789 928h8M2780 837h8M2747 895h8M2669 962h8M2736 840h8M2681 824h8M2643 845h8M2510 888h8M2443 856h8M2682 971h8M2755 858h8M2804 898h8M2808 889h8M2720 887h8M2694 905h8M2749 931h8M2657 964h8M2536 849h8M2645 912h8M2757 849h8M2744 996h8M2661 914h8M2775 896h8M2904 840h8M3023 884h8M2575 930h8M2698 952h8M2920 894h8M2943 918h8M2759 829h8M2791 906h8M2784 886h8M2826 990h8M2881 923h8M2863 901h8M2808 898h8M2627 889h8M2857 956h8M2612 893h8M2817 928h8M2891 955h8M2813 940h8M2678 834h8M2804 917h8M2874 839h8M2636 806h8M2651 937h8M2889 992h8M2438 878h8M2778 919h8M2613 864h8M2681 929h8M2686 906h8M2862 944h8M2594 829h8M2763 935h8M2682 940h8M2859 876h8M2805 885h8M2561 862h8M2539 903h8M2804 871h8M2735 855h8M2613 899h8M2838 983h8M2700 944h8M2600 897h8M2770 849h8M2771 953h8M2826 904h8M2439 904h8M2790 812h8M2675 832h8M2775 833h8M2830 885h8M2715 852h8M2937 915h8M2901 883h8M2837 886h8M2692 865h8M2658 929h8M2585 860h8M2749 933h8M2534 893h8M2706 840h8M2819 887h8M2863 895h8M2696 885h8M2737 951h8M2608 911h8M2607 900h8M3023 928h8M2690 925h8M2790 920h8M2550 932h8M2554 875h8M2879 921h8M2752 820h8M2539 870h8M2689 851h8M2758 973h8M2667 941h8M2758 874h8M2686 917h8M2845 893h8M2788 898h8M2776 855h8M2679 937h8M2694 887h8M2909 939h8M2691 836h8M2630 782h8M2476 918h8M2613 928h8M2740 905h8M2844 953h8M2980 872h8M2818 874h8M2668 891h8M2885 910h8M2602 887h8M2800 917h8M2867 818h8M2637 915h8M3040 916h8M2879 848h8M2712 854h8M2899 888h8M2787 902h8M2707 913h8M2753 869h8M2644 875h8M2810 947h8M2611 947h8M2803 869h8M2692 922h8M2671 919h8M2816 837h8M2881 858h8M2809 726h8M3037 851h8M2774 930h8M2625 947h8M2733 909h8M2992 886h8M2456 893h8M2804 875h8M2892 886h8M2741 921h8M2561 926h8M2672 944h8M2648 909h8M2604 788h8M2668 856h8M2807 933h8M2597 923h8M2782 855h8M2879 887h8M2920 972h8M2883 954h8M2739 796h8M2870 906h8M2686 855h8M2618 927h8M2607 826h8M2616 911h8M2782 917h8M2512 910h8M2872 890h8M2630 805h8M2823 830h8M2593 751h8M2997 802h8M2794 844h8M2499 814h8M2862 820h8M2882 963h8M2622 866h8M2553 889h8M2816 838h8M2679 884h8M2741 892h8M2633 846h8M2743 902h8M2772 871h8M2849 911h8M2707 914h8M2703 978h8M2794 869h8M2556 954h8M2729 852h8M2696 891h8M2722 885h8M2768 941h8M2789 927h8M2910 949h8M2715 894h8M2572 960h8M2668 927h8M2784 832h8M2573 911h8M2621 823h8M2769 917h8M2704 923h8M2771 873h8M2716 897h8M2750 985h8M2465 811h8M2651 758h8M2641 781h8M2646 1005h8M2709 893h8M2753 898h8M2735 946h8M2694 864h8M2597 893h8M2551 900h8M2605 892h8M2559 838h8M2724 853h8M2565 938h8M2628 982h8M2956 860h8M2869 908h8M2933 922h8M2598 770h8M2827 817h8M2872 855h8M2559 872h8M2817 908h8M2591 940h8M2748 892h8M2601 821h8M2769 843h8M2787 939h8M2862 857h8M2751 919h8M2797 866h8M2721 903h8M2728 922h8M2593 962h8M2794 938h8M2645 876h8M2945 832h8M2845 925h8M2636 902h8M2650 926h8M2707 962h8M2739 907h8M2551 900h8M2906 915h8M2791 875h8M2722 1007h8M2634 866h8M2572 945h8M2646 926h8M2833 811h8M2819 946h8M2848 836h8M2687 939h8M2857 856h8M2782 939h8M2671 886h8M2612 916h8M2824 798h8M2678 877h8M2905 897h8M2680 778h8M2778 909h8M2635 918h8M2910 877h8M2618 968h8M2787 907h8M2731 867h8M2600 879h8M2659 962h8M2594 764h8M2911 837h8M2767 856h8M2726 922h8M2774 911h8M2816 954h8M2579 969h8M2638 871h8M2867 926h8M2611 840h8M2737 928h8M2587 882h8M2749 944h8M2770 1011h8M2694 874h8M2872 765h8M2598 925h8M2871 983h8M2873 980h8M2756 927h8M2625 873h8M2819 917h8M2762 950h8M2712 894h8M2927 882h8M2752 841h8M2603 911h8M2842 837h8M2746 950h8M2754 951h8M2663 896h8M2959 925h8M2657 869h8M2709 879h8M2958 908h8M2892 847h8M2697 870h8M2800 891h8M2648 853h8M2843 874h8M2524 907h8M2631 961h8M2684 934h8M2754 957h8M2734 816h8M2730 843h8M2663 877h8M2964 909h8M2858 925h8M2814 865h8M2598 931h8M2718 894h8M2702 943h8M2718 895h8M2860 877h8M2717 916h8M2723 855h8M2723 901h8M2694 837h8M2760 900h8M2738 982h8M2574 863h8M2464 891h8M2678 913h8M3017 843h8M2777 877h8M2556 828h8M2906 878h8M2786 882h8M2873 921h8M2862 883h8M2722 893h8M2718 902h8M2659 943h8M2663 847h8M2625 963h8M2556 940h8M2634 931h8M2646 897h8M2784 931h8M2613 901h8M2560 911h8M2776 861h8M2741 783h8M2764 923h8M2991 917h8M2642 920h8M2925 936h8M2661 858h8M2889 850h8M2854 844h8M2842 849h8M2488 938h8M2803 1006h8M2591 917h8M2628 903h8M2626 817h8M2609 888h8M2569 807h8M2779 867h8M2534 837h8M2764 879h8M2741 928h8M2923 921h8M2781 916h8M2869 953h8M2843 881h8M2799 897h8M2691 838h8M2499 936h8M2545 916h8M2501 920h8M2608 897h8M2723 870h8M2851 830h8M2936 926h8M2857 848h8M2719 851h8M2764 816h8M2567 923h8M2882 912h8M2699 868h8M2751 888h8M2909 928h8M2657 894h8M2809 915h8M2713 954h8M2505 901h8M2705 871h8M2638 902h8M2581 947h8M2571 911h8M2762 896h8M2797 927h8M2814 920h8M2779 794h8M2940 933h8M2847 912h8M2764 931h8" stroke="#000" stroke-width="8" stroke-opacity="0.22" fill="none"/>
<path d="M260.7 59.6L267.8 55.1L272.6 56.4L276.8 61.6L276.5 69.3L272.6 71.8L266.8 73.1L260.4 72.8L257.9 66.1L258.8 64.5Z" fill="none" stroke="#222" stroke-width="0.9" stroke-linejoin="round"/>
<path d="M281.9 81.0C282.7 79.3 283.6 77.7 284.8 76.6C286.0 75.5 287.7 74.8 289.2 74.4C290.7 74.0 291.9 73.7 293.6 74.0C295.3 74.3 298.1 75.2 299.5 76.2C300.9 77.2 301.3 78.7 301.7 80.3C302.1 82.0 302.4 84.3 302.1 86.1C301.9 87.9 301.1 89.8 300.2 91.3C299.3 92.8 298.2 94.2 296.6 95.0C295.0 95.8 292.6 96.0 290.7 96.1C288.8 96.2 287.0 96.1 285.5 95.7C284.0 95.3 282.8 95.0 281.9 93.5C281.0 92.0 280.0 89.1 280.0 87.0C280.0 84.9 281.1 82.7 281.9 81.0Z" fill="none" stroke="#222" stroke-width="0.9"/>
<text x="244.2" y="49.300000000000004" font-size="7.5">Gr1<tspan dy="-3" font-size="4.6">Hi</tspan></text>
<text x="244.8" y="59.0" font-size="7.5" textLength="14.4" lengthAdjust="spacingAndGlyphs">2.06</text>
<text x="284.6" y="59.800000000000004" font-size="7.4">Ly6C<tspan dy="-3" font-size="4.6">Hi</tspan></text>
<text x="294.2" y="70.2" font-size="7.5" textLength="14.2" lengthAdjust="spacingAndGlyphs">59.2</text>
<rect x="240.6" y="109.6" width="71.20000000000002" height="70.20000000000002" fill="none" stroke="#666" stroke-width="0.8"/>
<path d="M239.0 109.6h1.6M239.0 112.1h1.6M239.0 114.6h1.6M239.0 117.1h1.6M239.0 119.6h1.6M239.0 122.1h1.6M239.0 124.6h1.6M239.0 127.2h1.6M239.0 129.7h1.6M239.0 132.2h1.6M239.0 134.7h1.6M239.0 137.2h1.6M239.0 139.7h1.6M239.0 142.2h1.6M239.0 144.7h1.6M239.0 147.2h1.6M239.0 149.7h1.6M239.0 152.2h1.6M239.0 154.7h1.6M239.0 157.2h1.6M239.0 159.7h1.6M239.0 162.2h1.6M239.0 164.8h1.6M239.0 167.3h1.6M239.0 169.8h1.6M239.0 172.3h1.6M239.0 174.8h1.6M239.0 177.3h1.6M239.0 179.8h1.6M240.6 179.8v1.4M243.1 179.8v1.4M245.7 179.8v1.4M248.2 179.8v1.4M250.8 179.8v1.4M253.3 179.8v1.4M255.9 179.8v1.4M258.4 179.8v1.4M260.9 179.8v1.4M263.5 179.8v1.4M266.0 179.8v1.4M268.6 179.8v1.4M271.1 179.8v1.4M273.7 179.8v1.4M276.2 179.8v1.4M278.7 179.8v1.4M281.3 179.8v1.4M283.8 179.8v1.4M286.4 179.8v1.4M288.9 179.8v1.4M291.5 179.8v1.4M294.0 179.8v1.4M296.5 179.8v1.4M299.1 179.8v1.4M301.6 179.8v1.4M304.2 179.8v1.4M306.7 179.8v1.4M309.3 179.8v1.4M311.8 179.8v1.4" stroke="#555" stroke-width="0.5" fill="none"/>
<text x="237.4" y="117.7" font-size="3.4" fill="#333" text-anchor="middle" transform="rotate(-60 237.4 117.7)">10<tspan dy="-1.3" font-size="2.6">5</tspan></text>
<path d="M238.8 116.1h1.8" stroke="#222" stroke-width="0.9" fill="none"/>
<text x="237.4" y="133.2" font-size="3.4" fill="#333" text-anchor="middle" transform="rotate(-60 237.4 133.2)">10<tspan dy="-1.3" font-size="2.6">4</tspan></text>
<path d="M238.8 131.6h1.8" stroke="#222" stroke-width="0.9" fill="none"/>
<text x="237.4" y="149.2" font-size="3.4" fill="#333" text-anchor="middle" transform="rotate(-60 237.4 149.2)">10<tspan dy="-1.3" font-size="2.6">3</tspan></text>
<path d="M238.8 147.6h1.8" stroke="#222" stroke-width="0.9" fill="none"/>
<text x="236.4" y="167.8" font-size="3.6" fill="#333" text-anchor="middle">0</text>
<path d="M238.8 166.6h1.8" stroke="#222" stroke-width="0.9" fill="none"/>
<text x="252.0" y="185.0" font-size="3.2" fill="#333" text-anchor="middle">0</text>
<path d="M252.0 179.8v1.8" stroke="#222" stroke-width="0.8"/>
<text x="273.7" y="185.0" font-size="3.2" fill="#333" text-anchor="middle">10<tspan dy="-1.2" font-size="2.4">3</tspan></text>
<path d="M273.7 179.8v1.8" stroke="#222" stroke-width="0.8"/>
<text x="290.6" y="185.0" font-size="3.2" fill="#333" text-anchor="middle">10<tspan dy="-1.2" font-size="2.4">4</tspan></text>
<path d="M290.6 179.8v1.8" stroke="#222" stroke-width="0.8"/>
<text x="306.8" y="185.0" font-size="3.2" fill="#333" text-anchor="middle">10<tspan dy="-1.2" font-size="2.4">5</tspan></text>
<path d="M306.8 179.8v1.8" stroke="#222" stroke-width="0.8"/>
<path transform="scale(.1)" d="M2491 1621h8M2537 1581h8M2516 1582h8M2548 1668h8M2554 1643h8M2530 1651h8M2502 1666h8M2489 1649h8M2537 1663h8M2510 1738h8M2521 1640h8M2524 1643h8M2510 1649h8M2571 1662h8M2524 1685h8M2570 1653h8M2504 1748h8M2484 1648h8M2537 1741h8M2496 1576h8M2537 1643h8M2510 1677h8M2526 1671h8M2509 1706h8M2558 1662h8M2509 1687h8M2532 1625h8M2508 1698h8M2518 1649h8M2525 1660h8M2520 1593h8M2564 1668h8M2498 1695h8M2528 1662h8M2546 1740h8M2534 1716h8M2574 1625h8M2507 1688h8M2477 1652h8M2552 1698h8M2534 1595h8M2579 1680h8M2539 1678h8M2477 1611h8M2490 1728h8M2499 1653h8M2514 1681h8M2533 1670h8M2488 1551h8M2524 1670h8M2551 1657h8M2505 1675h8M2481 1625h8M2495 1671h8M2572 1688h8M2549 1669h8M2527 1645h8M2513 1576h8M2490 1616h8M2541 1684h8M2549 1715h8M2512 1698h8M2569 1661h8M2547 1655h8M2480 1665h8M2499 1665h8M2508 1672h8M2467 1734h8M2554 1649h8M2497 1661h8M2537 1676h8M2530 1592h8M2492 1708h8M2526 1608h8M2498 1610h8M2494 1702h8M2514 1701h8M2525 1608h8M2504 1742h8M2501 1624h8M2551 1664h8M2520 1713h8M2475 1676h8M2493 1611h8M2499 1702h8M2516 1596h8M2492 1715h8M2546 1622h8M2582 1648h8M2490 1656h8M2544 1719h8M2546 1646h8M2506 1609h8M2518 1640h8M2526 1616h8M2507 1629h8M2489 1619h8M2494 1619h8M2535 1665h8M2486 1679h8M2527 1713h8M2515 1654h8M2502 1665h8M2533 1667h8M2514 1681h8M2522 1670h8M2496 1668h8M2495 1631h8M2524 1736h8M2545 1661h8M2515 1696h8M2555 1705h8M2515 1668h8M2512 1651h8M2498 1652h8M2465 1618h8M2531 1628h8M2534 1615h8M2511 1675h8M2493 1635h8M2583 1637h8M2502 1640h8M2521 1660h8M2545 1689h8M2510 1648h8M2484 1607h8M2501 1687h8M2523 1690h8M2544 1655h8M2574 1642h8M2504 1646h8M2549 1656h8M2501 1677h8M2549 1657h8M2514 1700h8M2545 1695h8M2500 1671h8M2529 1597h8M2551 1665h8M2511 1742h8M2524 1635h8M2518 1681h8M2541 1659h8M2498 1636h8M2499 1623h8M2519 1643h8M2521 1631h8M2498 1654h8M2511 1702h8M2497 1668h8M2519 1614h8M2539 1667h8M2466 1682h8M2544 1633h8M2563 1667h8M2491 1681h8M2511 1613h8M2465 1670h8M2501 1684h8M2530 1642h8M2506 1724h8M2564 1688h8M2511 1626h8M2510 1720h8M2532 1651h8M2489 1667h8M2498 1661h8M2539 1699h8M2524 1649h8M2526 1725h8M2530 1611h8M2560 1670h8M2609 1644h8M2518 1650h8M2530 1640h8M2482 1593h8M2517 1643h8M2505 1737h8M2540 1700h8M2507 1672h8M2515 1654h8M2539 1682h8M2528 1666h8M2483 1635h8M2530 1648h8M2500 1674h8M2497 1637h8M2542 1648h8M2556 1680h8M2541 1701h8M2465 1658h8M2487 1645h8M2517 1705h8M2519 1719h8M2507 1659h8M2522 1695h8M2519 1639h8M2512 1611h8M2552 1688h8M2531 1671h8M2505 1647h8M2540 1633h8M2500 1717h8M2559 1671h8M2533 1668h8M2556 1645h8M2522 1678h8M2556 1652h8M2526 1644h8M2503 1638h8M2522 1692h8M2503 1640h8M2510 1673h8M2538 1617h8M2529 1626h8M2538 1627h8M2493 1636h8M2518 1626h8M2525 1666h8M2522 1670h8M2542 1635h8M2520 1660h8M2468 1675h8M2501 1636h8M2509 1664h8M2528 1678h8M2503 1685h8M2530 1647h8M2519 1689h8M2531 1685h8M2523 1701h8M2576 1677h8M2480 1722h8M2506 1613h8M2461 1676h8M2547 1696h8M2510 1712h8M2518 1640h8M2522 1668h8M2521 1675h8M2465 1716h8M2506 1684h8M2500 1667h8M2516 1606h8M2530 1683h8M2492 1588h8M2504 1632h8M2523 1660h8M2560 1684h8M2514 1667h8M2448 1629h8M2497 1657h8M2528 1668h8M2543 1637h8M2528 1656h8M2520 1672h8M2513 1668h8M2519 1697h8M2517 1672h8M2585 1683h8M2533 1699h8M2495 1686h8M2539 1676h8M2544 1688h8M2550 1639h8M2531 1642h8M2551 1666h8M2488 1665h8M2495 1695h8M2512 1585h8M2510 1697h8M2528 1639h8M2536 1681h8M2557 1693h8M2529 1634h8M2527 1672h8M2520 1676h8M2490 1681h8M2520 1673h8M2518 1651h8M2526 1688h8M2512 1672h8M2501 1676h8M2520 1616h8M2549 1630h8M2522 1615h8M2477 1684h8M2485 1589h8M2515 1607h8M2515 1725h8M2510 1673h8M2534 1670h8M2517 1713h8M2518 1673h8M2523 1616h8M2528 1663h8M2536 1685h8M2559 1595h8M2506 1645h8M2499 1675h8M2518 1666h8M2480 1628h8M2518 1646h8M2505 1657h8M2513 1624h8M2561 1638h8M2536 1682h8M2544 1641h8M2495 1676h8M2526 1579h8M2455 1642h8M2510 1652h8M2530 1627h8M2585 1692h8M2552 1670h8M2469 1669h8M2506 1676h8M2517 1684h8M2498 1648h8M2520 1635h8M2509 1682h8M2568 1654h8M2540 1622h8M2509 1672h8M2534 1626h8M2535 1666h8M2552 1693h8M2533 1647h8M2526 1631h8M2500 1597h8M2488 1617h8M2517 1664h8M2487 1658h8M2530 1693h8M2518 1668h8M2511 1693h8M2481 1669h8M2463 1720h8M2543 1588h8M2507 1612h8M2476 1647h8M2498 1697h8M2507 1623h8M2518 1675h8M2540 1678h8M2483 1632h8M2515 1632h8M2538 1649h8M2518 1648h8M2521 1609h8M2571 1641h8M2502 1599h8M2518 1613h8M2528 1702h8M2535 1645h8M2551 1654h8M2518 1663h8M2508 1675h8M2489 1599h8M2549 1635h8M2511 1672h8M2508 1620h8M2515 1628h8M2533 1645h8M2513 1687h8M2482 1609h8M2538 1704h8M2522 1636h8M2550 1678h8M2545 1598h8M2516 1625h8M2493 1680h8M2538 1644h8M2513 1708h8M2536 1656h8M2532 1664h8M2489 1643h8M2527 1682h8M2490 1633h8M2505 1608h8M2547 1676h8M2552 1585h8M2500 1723h8M2485 1598h8M2525 1715h8M2535 1627h8M2533 1675h8M2526 1674h8M2540 1701h8M2553 1697h8M2516 1597h8M2533 1609h8M2576 1621h8M2474 1597h8M2529 1671h8M2536 1670h8M2500 1689h8M2503 1609h8M2542 1679h8M2497 1652h8M2600 1697h8M2517 1704h8M2457 1664h8M2575 1656h8M2564 1597h8M2554 1680h8M2523 1666h8M2553 1572h8M2536 1683h8M2498 1661h8M2573 1610h8M2550 1696h8M2588 1621h8M2600 1674h8M2565 1720h8M2588 1675h8M2598 1687h8M2610 1656h8M2490 1722h8M2591 1681h8M2562 1657h8M2564 1623h8M2590 1664h8M2522 1671h8M2547 1660h8M2581 1767h8M2518 1677h8M2588 1678h8M2619 1644h8M2547 1660h8M2506 1704h8M2511 1682h8M2607 1628h8M2553 1653h8M2628 1671h8M2490 1703h8M2601 1582h8M2452 1764h8M2563 1577h8M2602 1717h8M2466 1711h8M2588 1660h8M2532 1676h8M2528 1667h8M2550 1643h8M2582 1700h8M2595 1679h8M2627 1611h8M2563 1668h8M2608 1571h8M2542 1648h8M2568 1751h8M2569 1657h8M2577 1700h8M2553 1728h8M2512 1710h8M2588 1700h8M2621 1651h8M2576 1671h8M2536 1631h8M2529 1694h8M2469 1610h8M2563 1713h8M2556 1711h8M2558 1640h8M2498 1668h8M2629 1665h8M2519 1684h8M2505 1616h8M2604 1677h8M2598 1670h8M2555 1668h8M2547 1703h8M2509 1586h8M2526 1697h8M2538 1569h8M2673 1624h8M2552 1684h8M2575 1654h8M2498 1682h8M2521 1654h8M2590 1646h8M2489 1637h8M2584 1689h8M2508 1663h8M2572 1703h8M2576 1667h8M2548 1680h8M2591 1655h8M2549 1730h8M2558 1630h8M2587 1612h8M2517 1697h8M2561 1692h8M2591 1631h8M2580 1646h8M2568 1671h8M2557 1610h8M2572 1662h8M2581 1619h8M2568 1653h8M2543 1650h8M2550 1607h8M2538 1643h8M2578 1655h8M2616 1685h8M2572 1669h8M2504 1675h8M2610 1621h8M2612 1685h8M2571 1644h8M2561 1630h8M2559 1663h8M2562 1613h8M2597 1635h8M2576 1684h8M2552 1758h8M2565 1678h8M2550 1674h8M2510 1686h8M2546 1641h8M2590 1697h8M2543 1621h8M2481 1622h8M2579 1686h8M2510 1663h8M2601 1631h8M2538 1625h8M2576 1587h8M2555 1679h8M2558 1699h8M2584 1641h8M2521 1619h8M2579 1656h8M2565 1625h8M2605 1695h8M2590 1617h8M2662 1694h8M2518 1699h8M2555 1630h8M2530 1680h8M2572 1669h8M2551 1621h8M2570 1650h8M2552 1685h8M2626 1636h8M2598 1632h8M2593 1686h8M2561 1670h8M2530 1648h8M2597 1691h8M2648 1622h8M2542 1665h8M2562 1641h8M2544 1657h8M2610 1657h8M2531 1673h8M2458 1627h8M2535 1673h8M2471 1653h8M2518 1699h8M2591 1644h8M2578 1615h8M2568 1671h8M2602 1644h8M2476 1692h8M2518 1640h8M2546 1726h8M2558 1706h8M2563 1607h8M2578 1681h8M2538 1600h8M2671 1744h8M2576 1679h8M2597 1684h8M2502 1607h8M2592 1714h8M2602 1693h8M2560 1699h8M2620 1682h8M2609 1708h8M2532 1707h8M2530 1625h8M2623 1597h8M2553 1696h8M2575 1646h8M2524 1681h8M2581 1658h8M2522 1605h8M2560 1659h8M2592 1649h8M2596 1614h8M2493 1697h8M2544 1628h8M2555 1614h8M2547 1607h8M2567 1638h8M2558 1661h8M2577 1595h8M2566 1651h8M2571 1655h8M2699 1687h8M2815 1652h8M2671 1750h8M2614 1630h8M2625 1640h8M2658 1672h8M2602 1617h8M2656 1613h8M2597 1681h8M2653 1623h8M2549 1623h8M2546 1689h8M2718 1679h8M2684 1645h8M2673 1669h8M2664 1645h8M2577 1679h8M2690 1618h8M2642 1665h8M2698 1592h8M2552 1606h8M2564 1619h8M2726 1616h8M2825 1678h8M2714 1664h8M2727 1683h8M2722 1691h8M2708 1683h8M2745 1667h8M2620 1735h8M2623 1683h8M2822 1638h8M2639 1637h8M2588 1694h8M2644 1672h8M2529 1687h8M2605 1582h8M2604 1596h8M2783 1593h8M2682 1621h8M2597 1610h8M2754 1618h8M2611 1676h8M2632 1696h8M2603 1596h8M2695 1718h8M2701 1630h8M2750 1700h8M2631 1685h8M2658 1671h8M2710 1704h8M2667 1669h8M2469 1631h8M2696 1631h8M2689 1658h8M2665 1670h8M2761 1688h8M2664 1615h8M2689 1619h8M2756 1636h8M2612 1660h8M2583 1688h8M2686 1637h8M2619 1746h8M2750 1690h8M2682 1731h8M2630 1655h8M2650 1620h8M2592 1746h8M2672 1628h8M2642 1645h8M2627 1664h8M2547 1589h8M2645 1656h8M2570 1662h8M2617 1675h8M2645 1714h8M2768 1695h8M2663 1703h8M2717 1687h8M2720 1650h8M2721 1690h8M2692 1659h8M2630 1692h8M2623 1620h8M2790 1718h8M2603 1726h8M2505 1693h8M2714 1678h8M2646 1700h8M2701 1618h8M2606 1710h8M2719 1618h8M2548 1686h8M2599 1636h8M2622 1677h8M2508 1701h8M2634 1706h8M2575 1630h8M2699 1710h8M2658 1653h8M2764 1714h8M2685 1657h8M2758 1697h8M2635 1730h8M2746 1677h8M2698 1700h8M2627 1616h8M2753 1597h8M2546 1606h8M2700 1712h8M2613 1723h8M2787 1726h8M2564 1723h8M2838 1628h8M2538 1722h8M2702 1666h8M2658 1593h8M2598 1676h8M2698 1707h8M2734 1647h8M2656 1729h8M2558 1690h8M2597 1676h8M2804 1684h8M2628 1638h8M2554 1666h8M2488 1664h8M2672 1628h8M2602 1719h8M2758 1755h8M2750 1681h8M2646 1720h8M2715 1675h8M2801 1661h8M2676 1715h8M2700 1671h8M2742 1787h8M2637 1697h8M2695 1675h8M2791 1664h8M2793 1625h8M2673 1632h8M2691 1697h8M2706 1677h8M2643 1615h8M2728 1669h8M2751 1595h8M2643 1594h8M2747 1636h8M2582 1705h8M2656 1678h8M2654 1716h8M2684 1679h8M2661 1709h8M2749 1652h8M2729 1602h8M2601 1644h8M2605 1691h8M2556 1600h8M2677 1630h8M2666 1671h8M2610 1650h8M2728 1667h8M2667 1696h8M2606 1615h8M2634 1737h8M2709 1764h8M2739 1707h8M2624 1596h8M2498 1673h8M2576 1616h8M2705 1680h8M2562 1678h8M2769 1708h8M2608 1708h8M2509 1654h8M2627 1721h8M2568 1626h8M2635 1700h8M2553 1677h8M2634 1647h8M2563 1685h8M2673 1686h8M2675 1662h8M2593 1666h8M2722 1673h8M2703 1705h8M2687 1656h8M2586 1722h8M2648 1659h8M2669 1702h8M2728 1636h8M2656 1717h8M2615 1668h8M2596 1604h8M2562 1674h8M2686 1554h8M2642 1657h8M2542 1664h8M2601 1726h8M2585 1712h8M2570 1622h8M2772 1634h8M2628 1598h8M2673 1728h8M2639 1655h8M2662 1634h8M2563 1669h8M2636 1591h8M2474 1687h8M2563 1686h8M2731 1664h8M2615 1556h8M2780 1705h8M2602 1620h8M2699 1580h8M2716 1707h8M2567 1620h8M2799 1645h8M2674 1652h8M2502 1710h8M2787 1641h8M2591 1733h8M2544 1653h8M2556 1597h8M2613 1550h8M2567 1668h8M2604 1618h8M2853 1701h8M2621 1714h8M2710 1674h8M2718 1650h8M2616 1744h8M2666 1733h8M2505 1626h8M2589 1672h8M2656 1709h8M2700 1666h8M2701 1697h8M2682 1559h8M2623 1693h8M2630 1727h8M2620 1669h8M2597 1661h8M2747 1728h8M2728 1696h8M2670 1610h8M2709 1638h8M2683 1662h8M2726 1637h8M2722 1667h8M2787 1661h8M2648 1584h8M2728 1668h8M2489 1687h8M2698 1652h8M2761 1661h8M2649 1684h8M2573 1690h8M2594 1677h8M2746 1650h8M2611 1739h8M2663 1713h8M2707 1686h8M2771 1665h8M2542 1656h8M2614 1618h8M2630 1685h8M2700 1670h8M2651 1670h8M2627 1630h8M2667 1705h8M2605 1667h8M2715 1625h8M2691 1674h8M2741 1628h8M2628 1735h8M2821 1693h8M2769 1640h8M2740 1681h8M2716 1614h8M2675 1698h8M2750 1687h8M2696 1710h8M2796 1607h8M2520 1670h8M2789 1748h8M2721 1627h8M2711 1641h8M2730 1661h8M2796 1627h8M2778 1637h8M2718 1682h8M2562 1584h8M2651 1654h8M2618 1700h8M2687 1694h8M2583 1662h8M2651 1712h8M2762 1646h8M2662 1561h8M2822 1684h8M2704 1683h8M2651 1591h8M2592 1632h8M2645 1619h8M2679 1696h8M2677 1674h8M2847 1633h8M2612 1704h8M2635 1743h8M2611 1667h8M2797 1597h8M2745 1680h8M2681 1729h8M2618 1695h8M2625 1724h8M2567 1665h8M2622 1620h8M2741 1650h8M2708 1566h8M2583 1624h8M2691 1597h8M2689 1710h8M2669 1674h8M2633 1629h8M2659 1676h8M2778 1675h8M2606 1704h8M2582 1578h8M2643 1636h8M2711 1664h8M2560 1635h8M2621 1758h8M2563 1621h8M2757 1731h8M2634 1727h8M2654 1626h8M2653 1706h8M2776 1657h8M2559 1676h8M2625 1637h8M2694 1676h8M2566 1636h8M2770 1657h8M2802 1560h8M2576 1667h8M2584 1674h8M2667 1607h8M2803 1744h8M2529 1654h8M2558 1648h8M2625 1656h8M2748 1719h8M2635 1685h8M2713 1598h8M2667 1622h8M2751 1722h8M2685 1731h8M2639 1632h8M2767 1667h8M2687 1608h8M2717 1663h8M2650 1618h8M2601 1648h8M2672 1722h8M2523 1604h8M2585 1634h8M2594 1615h8M2607 1685h8M2627 1625h8M2708 1672h8M2583 1719h8M2608 1623h8M2689 1629h8M2581 1726h8M2624 1623h8M2674 1659h8M2506 1646h8M2698 1646h8M2695 1614h8M2726 1650h8M2601 1611h8M2733 1664h8M2628 1681h8M2648 1650h8M2686 1645h8M2731 1769h8M2526 1667h8M2626 1694h8M2505 1760h8M2722 1757h8M2750 1620h8M2647 1739h8M2749 1632h8M2681 1727h8M2763 1650h8M2692 1690h8M2643 1656h8M2737 1666h8M2656 1718h8M2752 1692h8M2629 1631h8M2575 1639h8M2686 1609h8M2593 1622h8M2676 1648h8M2781 1725h8M2665 1661h8M2746 1628h8M2737 1611h8M2632 1682h8M2672 1595h8M2598 1673h8M2537 1746h8M2607 1673h8M2881 1655h8M2684 1693h8M2650 1622h8M2540 1677h8M2644 1726h8M2676 1697h8M2579 1653h8M2695 1651h8M2714 1648h8M2639 1684h8M2569 1782h8M2562 1731h8M2782 1656h8M2694 1710h8M2690 1696h8M2635 1689h8M2618 1617h8M2644 1699h8M2685 1683h8M2631 1673h8M2599 1661h8M2669 1631h8M2779 1581h8M2712 1652h8M2742 1644h8M2727 1633h8M2600 1657h8M2664 1623h8M2753 1619h8M2642 1671h8M2650 1712h8M2587 1709h8M2750 1668h8M2814 1596h8M2614 1602h8M2417 1563h8M2682 1618h8M2471 1669h8M2558 1647h8M2618 1728h8M2469 1674h8M2926 1666h8M2683 1662h8M2725 1684h8M2707 1615h8M2658 1687h8M2660 1689h8M2742 1724h8M2677 1691h8M2629 1650h8M2718 1610h8M2753 1616h8M2652 1631h8M2591 1687h8M2523 1728h8M2528 1698h8M2637 1652h8M2686 1723h8M2674 1634h8M2660 1710h8M2579 1678h8M2758 1638h8M2647 1707h8M2613 1665h8M2637 1676h8M2571 1591h8M2747 1630h8M2583 1704h8M2613 1656h8M2569 1653h8M2688 1712h8M2719 1611h8M2632 1695h8M2591 1624h8M2633 1715h8M2566 1701h8M2716 1636h8M2560 1652h8M2630 1637h8M2664 1768h8M2734 1720h8M2654 1718h8M2604 1676h8M2750 1767h8M2703 1672h8M2655 1623h8M2707 1739h8M2714 1662h8M2639 1622h8M2768 1665h8M2753 1625h8M2718 1702h8M2647 1641h8M2869 1738h8M2763 1636h8M2775 1693h8M2799 1660h8M2641 1619h8M2537 1590h8M2629 1666h8M2781 1754h8M2613 1564h8M2683 1683h8M2626 1623h8M2603 1674h8M2672 1588h8M2647 1619h8M2580 1669h8M2591 1675h8M2459 1688h8M2674 1643h8M2589 1593h8M2566 1744h8M2688 1660h8M2605 1635h8M2561 1678h8M2732 1617h8M2706 1644h8M2683 1623h8M2719 1740h8M2609 1651h8M2733 1634h8M2553 1550h8M2613 1716h8M2597 1655h8M2457 1641h8M2640 1633h8M2615 1609h8M2579 1715h8M2561 1721h8M2546 1720h8M2646 1692h8M2640 1686h8M2846 1561h8M2609 1683h8M2775 1607h8M2662 1704h8M2617 1666h8M2680 1710h8M2693 1683h8M2606 1643h8M2836 1608h8M2629 1634h8M2664 1625h8M2717 1632h8M2612 1596h8M2621 1594h8M2635 1688h8M2523 1750h8M2723 1674h8M2629 1711h8M2694 1646h8M2672 1671h8M2591 1727h8M2550 1685h8M2585 1663h8M2641 1673h8M2784 1644h8M2704 1683h8M2680 1614h8M2659 1591h8M2751 1732h8M2673 1689h8M2657 1583h8M2634 1708h8M2653 1629h8M2426 1714h8M2792 1744h8M2866 1567h8M2662 1696h8M2615 1677h8M2753 1639h8M2711 1622h8M2460 1667h8M2700 1689h8M2726 1619h8M2712 1522h8M2675 1605h8M2661 1611h8M2674 1705h8M2747 1641h8M2772 1679h8M2772 1663h8M2572 1668h8M2585 1620h8M2487 1673h8M2766 1615h8M2640 1595h8M2690 1715h8M2654 1696h8M2715 1656h8M2720 1588h8M2645 1672h8M2711 1724h8M2641 1625h8M2621 1650h8M2584 1600h8M2681 1609h8M2655 1665h8M2652 1712h8M2688 1674h8M2777 1648h8M2547 1640h8M2737 1619h8M2588 1686h8M2855 1645h8M2745 1734h8M2614 1634h8M2638 1632h8M2657 1608h8M2637 1658h8M2824 1602h8M2665 1629h8M2653 1644h8M2589 1654h8M2595 1673h8M2737 1687h8M2664 1694h8M2640 1686h8M2874 1683h8M2819 1698h8M2624 1677h8M2574 1689h8M2754 1685h8M2727 1668h8M2623 1582h8M2696 1707h8M2726 1653h8M2704 1689h8M2709 1635h8M2565 1575h8M2622 1645h8M2726 1671h8M2701 1674h8M2846 1656h8M2679 1662h8M2737 1665h8M2751 1635h8M2782 1709h8M2757 1667h8M2688 1754h8M2722 1663h8M2695 1685h8M2719 1665h8M2735 1648h8M2748 1623h8M2757 1626h8M2749 1643h8M2712 1671h8M2796 1668h8M2688 1685h8M2806 1586h8M2815 1556h8M2780 1690h8M2827 1727h8M2786 1702h8M2841 1741h8M2779 1698h8M2705 1627h8M2834 1680h8M2708 1655h8M2681 1658h8M2814 1586h8M2763 1677h8M2759 1668h8M2733 1627h8M2768 1581h8M2762 1597h8M2730 1729h8M2747 1642h8M2808 1629h8M2737 1660h8M2798 1621h8M2765 1580h8M2704 1659h8M2734 1674h8M2804 1569h8M2783 1669h8M2750 1669h8M2728 1682h8M2775 1744h8M2672 1616h8M2787 1707h8M2706 1614h8M2741 1679h8M2721 1704h8M2841 1653h8M2823 1595h8M2716 1689h8M2810 1604h8M2744 1683h8M2765 1629h8M2766 1700h8M2742 1606h8M2832 1643h8M2667 1676h8M2813 1712h8M2815 1663h8M2784 1684h8M2850 1679h8M2691 1710h8M2776 1657h8M2756 1699h8M2769 1677h8M2769 1707h8M2711 1682h8M2794 1664h8M2842 1739h8M2755 1720h8M2734 1756h8M2830 1643h8M2810 1690h8M2752 1610h8M2760 1710h8M2817 1683h8M2792 1626h8M2740 1672h8M2758 1621h8M2705 1717h8M2764 1683h8M2719 1609h8M2813 1680h8M2815 1631h8M2748 1679h8M2754 1724h8M2833 1632h8M2820 1657h8M2811 1683h8M2759 1677h8M2866 1714h8M2791 1651h8M2892 1728h8M2791 1699h8M2775 1696h8M2825 1676h8M2773 1649h8M2743 1667h8M2795 1571h8M2814 1627h8M2820 1722h8M2848 1699h8M2738 1756h8M2752 1738h8M2733 1667h8M2717 1669h8M2805 1713h8M2694 1652h8M2733 1719h8M2789 1718h8M2776 1745h8M2785 1701h8M2808 1682h8M2735 1658h8M2847 1732h8M2757 1695h8M2693 1717h8M2768 1569h8M2727 1655h8M2753 1666h8M2731 1588h8M2851 1623h8M2716 1601h8M2753 1722h8M2831 1756h8M2739 1664h8M2839 1660h8M2793 1751h8M2721 1621h8M2801 1639h8M2759 1724h8M2792 1733h8M2737 1670h8M2791 1685h8M2672 1620h8M2798 1582h8M2688 1633h8M2747 1704h8M2802 1646h8M2724 1625h8M2831 1685h8M2801 1576h8M2677 1713h8M2876 1689h8M2732 1592h8M2707 1685h8M2786 1638h8M2804 1735h8M2796 1643h8M2713 1650h8M2734 1746h8M2752 1743h8M2746 1679h8M2797 1660h8M2780 1673h8M2763 1674h8M2837 1755h8M2768 1737h8M2772 1673h8M2795 1667h8M2823 1652h8M2770 1680h8M2743 1636h8M2793 1710h8M2759 1626h8M2740 1655h8M2756 1661h8M2872 1618h8M2720 1643h8M2704 1711h8M2701 1632h8M2723 1682h8M2765 1638h8M2750 1694h8M2797 1752h8M2739 1734h8M2878 1697h8M2689 1681h8M2823 1704h8M2786 1632h8M2811 1690h8M2780 1590h8M2811 1682h8M2806 1647h8M2856 1713h8M2793 1622h8M2743 1595h8M2787 1641h8M2756 1565h8M2785 1613h8M2660 1744h8M2860 1663h8M2664 1662h8M2812 1628h8M2816 1712h8M2800 1696h8M2716 1644h8M2713 1600h8M2811 1654h8M2812 1655h8M2721 1728h8M2829 1658h8M2797 1585h8M2742 1723h8M2779 1663h8M2842 1730h8M2722 1647h8M2785 1619h8M2800 1698h8M2775 1602h8M2763 1666h8M2790 1666h8M2754 1744h8M2841 1640h8M2709 1716h8M2738 1615h8M2784 1610h8M2732 1658h8M2774 1645h8M2828 1702h8M2868 1692h8M2790 1713h8M2766 1718h8M2745 1646h8M2641 1633h8M2791 1692h8M2778 1686h8M2896 1675h8M2784 1663h8M2803 1615h8M2797 1756h8M2823 1709h8M2734 1604h8M2772 1692h8M2742 1638h8M2705 1621h8M2849 1681h8M2820 1660h8M2730 1648h8M2796 1644h8M2818 1697h8M2709 1686h8M2803 1765h8M2886 1636h8M2930 1633h8M3005 1605h8M2928 1695h8M3007 1665h8M2990 1636h8M2980 1639h8M2989 1582h8M2975 1624h8M2918 1645h8M2948 1640h8M2877 1616h8M2949 1683h8M2928 1652h8M2894 1672h8M2916 1578h8M3016 1617h8M2928 1708h8M2902 1572h8M2956 1677h8M2900 1620h8M2970 1622h8M2926 1630h8M3027 1574h8M2970 1637h8M2994 1535h8M2944 1657h8M2861 1531h8M3014 1662h8M2903 1603h8M2963 1688h8M2900 1646h8M2990 1603h8M2962 1700h8M2843 1585h8M3024 1635h8M2974 1662h8M2973 1708h8M3003 1688h8M2882 1603h8M3015 1615h8M2923 1583h8M2878 1630h8M2959 1651h8M2913 1603h8M2847 1672h8M2875 1694h8M2958 1566h8M2936 1707h8M2871 1658h8M2955 1661h8M2932 1725h8M2939 1603h8M2892 1616h8M2896 1638h8M2867 1740h8M2947 1631h8M2996 1707h8M2870 1668h8M2881 1609h8M2952 1632h8M2952 1619h8M2964 1663h8M2849 1638h8M2826 1588h8M2946 1687h8M2876 1619h8M2912 1596h8M2993 1692h8M2935 1629h8M2932 1641h8M2905 1588h8M2924 1665h8M2927 1709h8M2849 1629h8M2960 1701h8M2926 1659h8M2938 1666h8M2937 1657h8M2972 1640h8M2932 1599h8M2896 1644h8M2959 1635h8M3006 1626h8M2943 1631h8M2995 1641h8M2879 1618h8M2825 1683h8M3040 1633h8M2965 1689h8M2921 1619h8M2988 1598h8M2957 1672h8M2891 1562h8M2966 1646h8M2961 1595h8M2908 1671h8M2939 1653h8M2909 1656h8M2941 1684h8M2950 1669h8M2925 1768h8M2875 1675h8M2820 1617h8M2977 1555h8M2981 1593h8M2959 1618h8M2899 1621h8M2962 1630h8M2963 1646h8M2890 1709h8M2902 1632h8M2994 1712h8M2944 1698h8M2957 1602h8M2903 1650h8M2986 1622h8M2908 1607h8M2920 1603h8M2948 1684h8M2937 1556h8M2864 1640h8M2990 1620h8M2964 1641h8M2982 1592h8M2876 1620h8M2934 1653h8M3023 1664h8M2881 1682h8M2844 1679h8M2926 1603h8M2910 1622h8M2955 1637h8M2977 1617h8M3008 1749h8M2951 1710h8M2929 1670h8M2954 1555h8M2982 1604h8M2914 1625h8M2970 1646h8M2923 1638h8M2908 1696h8M2884 1654h8M2923 1652h8M2904 1613h8M2963 1674h8M2894 1581h8M2911 1657h8M2887 1603h8M2812 1658h8M2893 1687h8M2954 1651h8M2940 1673h8M2940 1665h8M2982 1617h8M2872 1650h8M2911 1734h8M2926 1599h8M2931 1646h8M3001 1662h8M2978 1655h8M2887 1641h8M2899 1748h8M3002 1625h8M2822 1620h8M2920 1615h8M2946 1665h8M2966 1673h8M2906 1627h8M2966 1666h8M2841 1670h8M2995 1593h8M2925 1730h8M2919 1705h8M2898 1639h8M2896 1637h8M2940 1614h8M2936 1617h8M2978 1649h8M2977 1603h8M2929 1699h8M2898 1704h8M2924 1672h8M2943 1646h8M2956 1676h8M2902 1696h8M2904 1647h8M2964 1584h8M2941 1671h8M2971 1681h8M2883 1592h8M2937 1736h8M2972 1617h8M2950 1665h8M2927 1630h8M2879 1596h8M2955 1649h8M2933 1694h8M2978 1581h8M2925 1650h8M2901 1638h8M2905 1747h8M2919 1690h8M2881 1554h8M2986 1669h8M2918 1626h8M2962 1670h8M2893 1705h8M2995 1633h8M2792 1711h8M2974 1627h8M2877 1656h8M2981 1686h8M2918 1596h8M2845 1596h8M2880 1598h8M2984 1597h8M2821 1676h8M2947 1640h8M2957 1646h8M2977 1602h8M2938 1605h8M2924 1673h8M2946 1661h8M2970 1719h8M2844 1625h8M2978 1642h8M2973 1732h8M2971 1681h8M2943 1627h8M2923 1711h8M3004 1698h8M2929 1589h8M2934 1622h8M2962 1600h8M2869 1701h8M2917 1650h8M2926 1634h8M2901 1634h8M2890 1671h8M2910 1585h8M2911 1672h8M2933 1630h8M2867 1610h8M2923 1638h8M2986 1678h8M2944 1584h8M3000 1639h8M2829 1697h8M2932 1668h8M2922 1653h8M2879 1623h8M2953 1703h8M2862 1659h8M2950 1568h8M2922 1627h8M2870 1616h8M2945 1687h8M2895 1641h8M2962 1664h8M2864 1686h8M3017 1638h8M3031 1566h8M2868 1641h8M3001 1659h8M2951 1610h8M2914 1633h8M2974 1628h8M2899 1654h8M3006 1565h8M2883 1675h8M2914 1714h8M2866 1587h8M2983 1652h8M2940 1644h8M2899 1615h8M2958 1671h8M2960 1639h8M2841 1660h8M2937 1652h8M2880 1608h8M3013 1666h8M2937 1586h8M2934 1748h8M2837 1615h8M2871 1629h8M2975 1629h8M2885 1755h8M2954 1645h8M2978 1587h8M2938 1678h8M3010 1677h8M3005 1688h8M2967 1519h8M2992 1699h8M2949 1657h8M2944 1626h8M2919 1515h8M2883 1651h8M2981 1607h8M2999 1639h8M2917 1651h8M2989 1599h8M2974 1699h8M2924 1694h8M2940 1662h8M2860 1660h8M2909 1561h8M2993 1607h8M2930 1724h8M2928 1624h8M3029 1655h8M2973 1726h8M2974 1631h8M2913 1643h8M3008 1687h8M2905 1622h8M2936 1663h8M2934 1610h8M3009 1674h8M2919 1671h8M2891 1629h8M2881 1638h8M2896 1637h8M2818 1645h8M2941 1691h8M2882 1658h8M2895 1699h8M2953 1636h8M2811 1687h8M2999 1646h8M2894 1685h8M2925 1612h8M2989 1672h8M2979 1642h8M2980 1625h8M2902 1586h8M2937 1581h8M2902 1581h8M2929 1739h8M2889 1612h8M2902 1616h8M2936 1746h8M2940 1687h8M2886 1617h8M2960 1666h8M2933 1622h8M2908 1649h8M3041 1704h8M2883 1665h8M2954 1658h8M2827 1636h8M2972 1629h8M2898 1644h8M2942 1625h8M2920 1674h8M2924 1556h8M2892 1661h8M2948 1636h8M2934 1607h8M2959 1627h8M2991 1583h8M2918 1674h8M2918 1633h8M2896 1628h8M2919 1628h8M2917 1613h8M2866 1613h8M2950 1681h8M2915 1579h8M2939 1639h8M2898 1673h8M2970 1611h8M2918 1669h8M2892 1660h8M2993 1654h8M2965 1616h8M2842 1674h8M3040 1614h8M2929 1617h8M2903 1677h8M2955 1571h8M2941 1622h8M2951 1787h8M2898 1697h8M2866 1678h8M3012 1649h8M2988 1609h8M2889 1701h8M2949 1721h8M2948 1588h8M2931 1577h8M2942 1549h8M2936 1547h8M2926 1628h8M2960 1740h8M3007 1694h8M2925 1622h8M2984 1599h8M2939 1686h8M2903 1589h8M2853 1602h8M2893 1727h8M3016 1627h8M2899 1659h8M2885 1646h8M2920 1629h8M2925 1665h8M2958 1673h8M2853 1626h8M2864 1713h8M2817 1648h8M2910 1680h8M2972 1714h8M2838 1586h8M2853 1648h8M2983 1736h8M2956 1659h8M2947 1645h8M3069 1609h8M2973 1664h8M2962 1531h8M2835 1621h8M2864 1680h8M2990 1674h8M2948 1716h8M2928 1656h8M2899 1656h8M2925 1646h8M2901 1659h8M2890 1694h8M2927 1595h8M2897 1662h8M2873 1599h8M2932 1669h8M2920 1612h8M2932 1589h8M2964 1669h8M3008 1611h8M2843 1523h8M3009 1642h8M2967 1608h8M2959 1623h8M3049 1602h8M2978 1542h8M2902 1584h8M2985 1693h8M3012 1696h8M2961 1560h8M2928 1610h8M2888 1615h8M2973 1604h8M2870 1684h8M2942 1583h8M2884 1694h8M2911 1637h8M2927 1671h8M2908 1644h8M2935 1586h8M2976 1699h8M2933 1635h8M2925 1595h8M3011 1586h8M2871 1592h8M2958 1714h8M2907 1575h8M2899 1656h8M2910 1665h8M2894 1588h8M2873 1592h8M2916 1706h8M2949 1585h8M2947 1679h8M2916 1682h8M2912 1606h8M2959 1752h8M2844 1598h8M2910 1656h8M3020 1689h8M2948 1649h8M2892 1619h8M2970 1656h8M2907 1632h8M2906 1670h8M2836 1643h8M2866 1606h8M2933 1639h8M2998 1695h8M2883 1648h8M2952 1620h8M2850 1656h8M2926 1630h8M2924 1735h8M2896 1616h8M2974 1613h8M2956 1622h8M2897 1617h8M2996 1647h8M2890 1642h8M2911 1689h8M2851 1559h8M2915 1539h8M2927 1656h8M2978 1717h8M2991 1691h8M3009 1641h8M2900 1648h8M2946 1621h8M2981 1648h8M3063 1576h8M2917 1645h8M2883 1656h8M2905 1610h8M2856 1695h8M2940 1613h8M2917 1642h8M2923 1646h8M2900 1613h8M2979 1624h8M2968 1712h8M2886 1682h8M2923 1601h8M2916 1643h8M2924 1662h8M2878 1647h8M2940 1687h8M3039 1653h8M2956 1617h8M3003 1642h8M2892 1644h8M2905 1565h8M2942 1598h8M2952 1623h8M2963 1524h8M2956 1653h8M2900 1586h8M2936 1653h8M3052 1587h8M2944 1637h8M2929 1597h8M2904 1674h8M2919 1602h8M2936 1656h8M2975 1660h8M2921 1588h8M3021 1625h8M2974 1611h8M2861 1639h8M2911 1625h8M2883 1631h8M2878 1648h8M2869 1643h8M2920 1670h8M3005 1644h8M2914 1729h8M2939 1607h8M2924 1675h8M2964 1650h8M3031 1582h8M2847 1556h8M2984 1664h8M2965 1640h8M3033 1661h8M2848 1580h8M3004 1688h8M2852 1600h8M2926 1656h8M2902 1615h8M2944 1668h8M2982 1680h8M2933 1626h8M2960 1724h8M2932 1706h8M2962 1723h8M2913 1636h8M2895 1703h8M2932 1670h8M2923 1652h8M2951 1654h8M2905 1725h8M2965 1618h8M2925 1562h8M2962 1641h8M2901 1555h8M2930 1633h8M2969 1579h8M2919 1638h8M2935 1649h8M2873 1626h8M2999 1697h8M2909 1659h8M2900 1628h8M2937 1676h8M2935 1626h8M2932 1671h8M2896 1587h8M2907 1657h8M3033 1659h8M2917 1636h8M2875 1581h8M2961 1750h8M2954 1688h8M2823 1690h8M2857 1655h8M2924 1610h8M2882 1658h8M2915 1672h8M2999 1762h8M2954 1634h8M2971 1644h8M2933 1596h8M2883 1654h8M2983 1657h8M2928 1747h8M2905 1619h8M2961 1595h8M2881 1591h8M2926 1615h8M2980 1591h8M2934 1572h8M2943 1772h8M2916 1547h8M2922 1684h8M3046 1538h8M2922 1622h8M2917 1701h8M2971 1648h8M2836 1604h8M2895 1558h8M2955 1734h8M2937 1680h8M2912 1618h8M3000 1651h8M2989 1671h8M2973 1678h8M2968 1618h8M2957 1737h8M2974 1621h8M2928 1612h8M2962 1650h8M2865 1601h8M2945 1666h8M2920 1679h8M2886 1706h8M2881 1702h8M2873 1564h8M2828 1582h8M2890 1686h8M2939 1675h8M2878 1717h8M2971 1617h8M2906 1678h8M2884 1626h8M2999 1643h8M2893 1691h8M2819 1671h8M2963 1720h8M2921 1690h8M2963 1655h8M2915 1678h8M2915 1629h8M2911 1699h8M2871 1634h8M2946 1677h8M2947 1510h8M2939 1663h8M3045 1538h8M2835 1712h8M2850 1592h8M2939 1649h8M2957 1603h8M2990 1695h8M2960 1646h8M2926 1572h8M2869 1641h8M2901 1626h8M2893 1697h8M2938 1725h8M2985 1614h8M2949 1678h8M2888 1620h8M2923 1651h8M2896 1674h8M3030 1733h8M2948 1531h8M2931 1714h8M2923 1613h8M2870 1606h8M2883 1615h8M2929 1681h8M2907 1694h8M2903 1661h8M3060 1695h8M2872 1719h8M2951 1630h8M2942 1676h8M2962 1647h8M2878 1600h8M2956 1695h8M2885 1590h8M2900 1577h8M2950 1658h8M2922 1598h8M2911 1576h8M2940 1576h8M2844 1690h8M2905 1601h8M2949 1609h8M2896 1696h8M2959 1642h8M2925 1666h8M2900 1604h8M2888 1652h8M2890 1690h8M2958 1689h8M2962 1689h8M2884 1647h8M2898 1720h8M2935 1701h8M2972 1637h8M2870 1679h8M2852 1647h8M2955 1625h8M2879 1645h8M2868 1663h8M2943 1680h8M2931 1694h8M2915 1681h8M2989 1625h8M2922 1665h8M2889 1600h8M2918 1640h8M2867 1597h8M2869 1619h8M2903 1681h8M2925 1722h8M2928 1590h8M2893 1644h8M2943 1644h8M2895 1631h8M2968 1535h8M2868 1609h8M2967 1777h8M2843 1673h8M2970 1653h8M2921 1620h8M2970 1648h8M2900 1561h8M2953 1702h8M2982 1590h8M2896 1606h8M2935 1682h8M2895 1631h8M2920 1614h8M2908 1624h8M2894 1560h8M2966 1616h8M2952 1635h8M2901 1669h8M2918 1656h8M2891 1693h8M2930 1597h8M2990 1615h8M2925 1560h8M2883 1706h8M2893 1650h8M2896 1584h8M2998 1667h8M2941 1643h8M2975 1630h8M2971 1627h8M2867 1664h8M2920 1677h8M2907 1612h8M2967 1652h8M2988 1601h8M2966 1686h8M2907 1630h8M2983 1536h8M2887 1580h8M2902 1665h8M2889 1564h8M2928 1620h8M3028 1645h8M2919 1617h8M2941 1666h8M2942 1590h8M2958 1644h8M2907 1674h8M2975 1584h8M2923 1594h8M2925 1691h8M2984 1693h8M2886 1612h8M2947 1629h8M2915 1630h8M2928 1711h8M2839 1639h8M2937 1688h8M2903 1672h8M2912 1610h8M2866 1692h8M2988 1676h8M2884 1647h8M2904 1656h8M2979 1698h8M2915 1676h8M2949 1707h8M2910 1588h8M2978 1653h8M2906 1660h8M2928 1600h8M2959 1602h8M2935 1736h8M2969 1661h8M2916 1662h8M2905 1617h8M3023 1611h8M2959 1654h8M2895 1585h8M2935 1686h8M3035 1637h8M2884 1699h8M2995 1634h8M2838 1697h8M2871 1613h8M2942 1637h8M2943 1656h8M2910 1764h8M2921 1604h8M2891 1617h8M2889 1649h8M2997 1612h8M2988 1668h8M2971 1629h8M2940 1656h8M2888 1636h8M2865 1626h8M2874 1670h8M2882 1613h8M2899 1643h8M2921 1713h8M2950 1638h8M2977 1662h8M3016 1613h8M2941 1707h8M3003 1682h8M3028 1691h8M2906 1677h8M2918 1665h8M2911 1670h8M2980 1656h8M2968 1580h8M2908 1640h8M2897 1655h8M2840 1668h8M2949 1698h8M2882 1655h8M3020 1689h8M2955 1627h8M2963 1609h8M2954 1616h8M3055 1692h8M2921 1656h8M2937 1686h8M2988 1544h8M2926 1669h8M3028 1735h8M2906 1650h8M2910 1696h8M2891 1606h8M2937 1598h8M2967 1588h8M2914 1633h8M2915 1679h8M2994 1581h8M2910 1581h8M2935 1652h8M2973 1669h8M2896 1781h8M2982 1682h8M2920 1673h8M2962 1569h8M2879 1653h8M2976 1687h8M2929 1552h8M2965 1572h8M2965 1741h8M2958 1663h8M2862 1626h8M2890 1598h8M2920 1602h8M2965 1656h8M2867 1612h8M2883 1678h8M2967 1596h8M2885 1652h8M2965 1672h8M2983 1637h8M2866 1662h8M2937 1694h8M2932 1701h8M2850 1642h8M2932 1603h8M2988 1642h8M2910 1663h8M2972 1650h8M2903 1623h8M2965 1683h8M2952 1669h8M2858 1647h8M2893 1704h8M2920 1668h8M2948 1584h8M2889 1584h8M2913 1645h8M2963 1691h8M2923 1636h8M2919 1547h8M2855 1590h8M2855 1651h8M2985 1655h8M2929 1567h8M2971 1624h8M3001 1668h8M3037 1636h8M2936 1639h8M2888 1553h8M2910 1705h8M2893 1622h8M2947 1636h8M2965 1712h8M2935 1595h8M2950 1624h8M2930 1659h8M2950 1613h8M2890 1613h8M2895 1636h8M2989 1702h8M2891 1660h8M2916 1642h8M2929 1605h8M2914 1677h8M3000 1666h8M2890 1576h8M2842 1661h8M2884 1677h8M2945 1611h8M2889 1654h8M3040 1686h8M2975 1581h8M3028 1654h8M2998 1717h8M2924 1652h8M2930 1636h8M2941 1624h8M2936 1634h8M2978 1695h8M2874 1600h8M2971 1687h8M2979 1580h8M2971 1590h8M2952 1597h8M2870 1656h8M2942 1620h8M2917 1730h8M2932 1669h8M2967 1526h8M2939 1655h8M2871 1643h8M2894 1595h8M2909 1648h8M2897 1685h8M2983 1642h8M2891 1593h8M2881 1600h8M2955 1666h8M2944 1692h8M2900 1736h8M2943 1655h8M2929 1630h8M2963 1657h8M2889 1679h8M2866 1606h8M2961 1630h8M2888 1659h8M2952 1699h8M2949 1620h8M2940 1662h8M2776 1756h8M2916 1629h8M2961 1640h8M2873 1665h8M3020 1630h8M2866 1740h8M2861 1600h8M2907 1705h8M2907 1505h8M2965 1596h8M2993 1681h8M3004 1720h8M3016 1619h8M2978 1683h8M2878 1587h8M2945 1628h8M2931 1650h8M2981 1641h8M2855 1594h8M2945 1683h8M2906 1612h8M2928 1600h8M2881 1618h8M2842 1730h8M2946 1613h8M2872 1626h8M2933 1672h8M2877 1675h8M2959 1597h8M2880 1647h8M2968 1656h8M2938 1582h8M3011 1693h8M2993 1585h8M2931 1606h8M2926 1689h8M2917 1653h8M2953 1711h8M2940 1632h8M2945 1676h8M2954 1601h8M2913 1706h8M2923 1587h8M2863 1602h8M2869 1626h8M2849 1687h8M2982 1622h8M2860 1585h8M2961 1674h8M2899 1697h8M2940 1587h8M2858 1616h8M2888 1698h8M2936 1596h8M2930 1638h8M2876 1598h8M2923 1626h8M2866 1639h8M2903 1539h8M2954 1666h8M2923 1635h8M2917 1651h8M2887 1599h8M2950 1662h8M2909 1679h8M2870 1650h8M2926 1654h8M3012 1679h8M2969 1746h8M2905 1658h8M2914 1638h8M2932 1706h8M2917 1660h8M2910 1618h8M2959 1639h8M2948 1678h8M2962 1560h8M2941 1616h8M2885 1679h8M2827 1628h8M2939 1593h8M3025 1765h8M3013 1642h8M2931 1571h8M3000 1618h8M2881 1618h8M2919 1636h8M2915 1632h8M2945 1630h8M2916 1719h8M2946 1670h8M2824 1652h8M2949 1643h8M2958 1649h8M2948 1584h8M2958 1600h8M2854 1683h8M2873 1707h8M2911 1636h8M2981 1655h8M2865 1757h8M2979 1662h8M2929 1607h8M2911 1606h8M2933 1663h8M2873 1611h8M2892 1632h8M2953 1663h8M2960 1614h8M2908 1629h8M2931 1663h8M2965 1644h8M2906 1657h8M2818 1691h8M2927 1649h8M2878 1679h8M2923 1657h8M2909 1603h8M3027 1574h8M2871 1597h8M2929 1628h8M2868 1600h8M2943 1588h8M2927 1565h8M2945 1617h8M3022 1637h8M2962 1667h8M2977 1675h8M2960 1684h8M2894 1693h8M2921 1666h8M3027 1647h8M2882 1689h8M2945 1654h8M2867 1632h8M2962 1630h8M3016 1562h8M2889 1688h8M2987 1681h8M2954 1565h8M2898 1621h8M2960 1683h8M2921 1637h8M2889 1725h8M2849 1586h8M2970 1682h8M2933 1710h8M2993 1633h8M3004 1626h8M2952 1728h8M2899 1587h8M2950 1634h8M2940 1558h8M2989 1647h8M2881 1644h8M2921 1664h8M2842 1630h8M2932 1638h8M2894 1626h8M2994 1595h8M2903 1669h8M2977 1655h8M2968 1714h8M2877 1642h8M2950 1659h8M2940 1671h8M2960 1673h8M2878 1631h8M2884 1673h8M2973 1662h8M2925 1638h8M2879 1560h8M3047 1628h8M2914 1681h8M2944 1654h8M2904 1602h8M3000 1665h8M2966 1593h8M2897 1670h8M2963 1656h8M3017 1639h8M2974 1724h8M2959 1650h8M2910 1666h8M2961 1573h8M2939 1585h8M2866 1567h8M2953 1583h8M2935 1646h8M2881 1668h8M2930 1622h8M2877 1662h8M2873 1592h8M2817 1669h8M2967 1728h8M2862 1608h8M3001 1598h8M2961 1611h8M2945 1691h8M2874 1651h8M2890 1548h8M2953 1653h8M2932 1689h8M2925 1652h8M2942 1674h8M2894 1634h8M2933 1641h8M2918 1605h8M2939 1615h8M2957 1633h8M2985 1724h8M2898 1576h8M2836 1682h8M2999 1599h8M2965 1548h8M2979 1715h8M2967 1701h8M2924 1691h8M2927 1669h8M2840 1630h8M2912 1668h8M2942 1613h8M2941 1655h8M2894 1538h8M2908 1591h8M2911 1573h8M2994 1643h8M2912 1604h8M3006 1589h8M2893 1675h8M2991 1737h8M2911 1583h8M2945 1719h8M3015 1616h8M2911 1651h8M2921 1634h8M2888 1666h8M2998 1616h8M2970 1685h8M2910 1619h8M2917 1639h8M2924 1586h8M3016 1598h8M2925 1660h8M2894 1588h8M2928 1607h8M2862 1691h8M2901 1624h8M2983 1693h8M2899 1746h8M2956 1605h8M2932 1656h8M2860 1629h8M2970 1672h8M2894 1682h8M2889 1618h8M2919 1616h8M2925 1595h8M2877 1614h8M3029 1576h8M3000 1652h8M2867 1633h8M2934 1694h8M2890 1669h8M2963 1627h8M2917 1650h8M2913 1676h8M2910 1663h8M2919 1685h8M2881 1658h8M2888 1597h8M2884 1654h8M2865 1640h8M2848 1749h8M2961 1565h8M2950 1671h8M2863 1585h8M2852 1671h8M2927 1644h8M3028 1629h8M2870 1703h8M2948 1708h8M2902 1611h8M2944 1627h8M2955 1699h8M2929 1636h8M2916 1617h8M2877 1639h8M2926 1600h8M2937 1608h8M2970 1633h8M2950 1680h8M2994 1621h8M2920 1665h8M2903 1580h8M2958 1678h8M2955 1589h8M2990 1632h8M2955 1694h8M2897 1480h8M2921 1669h8M2966 1585h8M2965 1683h8M2977 1632h8M2910 1641h8M2973 1641h8M2893 1636h8M2974 1629h8M2882 1580h8M2951 1597h8M2966 1586h8M2901 1689h8M2876 1627h8M2909 1605h8M2973 1566h8M2967 1713h8M2952 1683h8M2931 1635h8M2961 1641h8M2966 1600h8M2828 1622h8M2865 1738h8M2927 1594h8M2849 1659h8M2961 1656h8M2888 1702h8M2990 1616h8M2981 1719h8M3009 1636h8M2907 1721h8M2973 1687h8M2918 1591h8M2904 1697h8M2893 1614h8M2923 1674h8M3032 1616h8M2949 1667h8M2851 1620h8M2816 1577h8M2905 1685h8M2967 1714h8M2933 1679h8M2954 1633h8M2885 1723h8M2929 1678h8M3005 1583h8M2889 1700h8M2872 1594h8M2917 1625h8M2920 1621h8M2938 1630h8M2950 1695h8M2948 1608h8M2910 1663h8M2916 1610h8M2926 1654h8M2930 1673h8M2954 1666h8M2958 1600h8M2980 1618h8M2872 1649h8M2920 1616h8M2927 1710h8M2900 1602h8M2851 1680h8M2944 1663h8M2889 1578h8M2875 1747h8M2920 1679h8M2896 1598h8M2948 1649h8M2962 1673h8M3004 1658h8M2893 1601h8M2928 1672h8M2976 1626h8M2916 1694h8M2838 1620h8M2895 1640h8M3009 1690h8M2956 1581h8M2950 1738h8M2860 1650h8M2983 1657h8M2949 1566h8M2944 1600h8M2930 1736h8M3017 1589h8M2832 1630h8M3025 1654h8M2941 1674h8M2871 1674h8M2927 1676h8M2962 1596h8M2859 1675h8M2873 1564h8M2910 1662h8M2990 1674h8M2924 1659h8M2870 1634h8M2962 1627h8M2872 1727h8M2919 1623h8M2910 1666h8M2913 1581h8M2917 1648h8M2896 1644h8M2898 1643h8M3051 1706h8M2827 1562h8M2907 1634h8M2973 1643h8M2977 1656h8M2981 1680h8M2889 1574h8M2720 1668h8M2750 1673h8M2893 1584h8M2950 1611h8M2966 1781h8M2871 1702h8M2838 1520h8M2753 1592h8M2892 1558h8M2881 1612h8M2956 1614h8M3017 1592h8M2897 1676h8M2945 1551h8M2944 1611h8M2942 1683h8M2803 1639h8M2898 1669h8M2845 1653h8M3012 1466h8M2864 1641h8M2923 1653h8M2963 1652h8M2923 1712h8M2987 1530h8M2979 1570h8M3090 1629h8M2909 1709h8M2890 1687h8M2929 1622h8M2967 1639h8M2942 1559h8M2782 1673h8M2923 1748h8M2933 1756h8M2845 1580h8M2942 1577h8M2848 1546h8M3003 1597h8M2994 1672h8M3006 1585h8M2980 1742h8M2919 1614h8M2976 1712h8M2922 1658h8M3014 1527h8M2971 1634h8M2947 1640h8M2926 1586h8M2725 1636h8M2912 1586h8M2917 1580h8M2897 1641h8M2942 1644h8M2973 1647h8M2883 1544h8M2964 1682h8M2761 1635h8M2928 1684h8M2899 1681h8M3069 1598h8M3022 1663h8M2898 1671h8M2950 1601h8M2973 1650h8M2935 1609h8M3012 1644h8M2974 1539h8M2927 1548h8M3005 1751h8M2978 1676h8M3030 1604h8M2906 1625h8M2861 1628h8M2945 1631h8M2871 1638h8M2893 1618h8M2978 1754h8M2852 1615h8M2945 1654h8M2874 1612h8M2954 1610h8M3044 1548h8M2998 1656h8M2825 1676h8M2938 1641h8M2974 1598h8M2847 1718h8M2907 1674h8M2942 1650h8M2961 1642h8M2901 1578h8M2961 1622h8M2948 1682h8M2905 1650h8M2853 1683h8M2851 1555h8M2948 1607h8M3026 1495h8M2973 1625h8M2910 1604h8M2973 1581h8M2909 1684h8M2958 1639h8M3025 1743h8M2931 1636h8M2917 1505h8M2938 1618h8M2948 1625h8M2961 1700h8M2963 1585h8M2927 1639h8M3017 1595h8M2958 1630h8M2975 1702h8M2951 1737h8M2825 1510h8M2919 1728h8M3022 1630h8M2923 1777h8M2815 1676h8M2874 1741h8M3058 1639h8M2864 1620h8M2968 1717h8M2914 1777h8M2930 1705h8M2813 1732h8M2886 1634h8M2967 1650h8M2834 1607h8M2821 1619h8M2895 1716h8M3071 1614h8M2946 1601h8M3090 1622h8M2945 1646h8M2910 1774h8M2830 1659h8M2920 1681h8M2822 1556h8M2872 1545h8M2983 1654h8M3068 1608h8M2839 1633h8M2943 1612h8M3038 1641h8M2876 1589h8M2815 1533h8M2839 1669h8M2844 1755h8M2849 1666h8M3037 1629h8M2881 1668h8M2958 1659h8M2849 1581h8M2962 1620h8M3057 1573h8M2953 1556h8M2914 1720h8M2953 1584h8M2981 1533h8M2910 1603h8M2906 1634h8M2936 1669h8M2947 1706h8M2935 1706h8M2877 1661h8M2842 1688h8M2937 1620h8M2984 1606h8M2970 1675h8M2940 1587h8M3009 1545h8M2981 1574h8M2915 1534h8M3042 1533h8M3096 1691h8M2992 1641h8M2832 1548h8M2930 1616h8M2948 1604h8M2906 1591h8M2953 1602h8M2981 1687h8M2897 1674h8M3095 1619h8M2860 1541h8M2874 1600h8M2876 1652h8M3048 1662h8M2836 1611h8M2809 1684h8M2946 1550h8M2924 1531h8M2994 1523h8M2863 1643h8M2928 1582h8M2945 1660h8M2936 1638h8M2991 1615h8M2984 1625h8M2849 1649h8M2920 1737h8M2871 1705h8M3010 1719h8M3031 1659h8M2920 1663h8M2772 1652h8M2894 1651h8M2840 1720h8M2950 1646h8M2893 1636h8M2792 1691h8M2853 1579h8M2832 1707h8M2850 1595h8M2998 1612h8M2893 1692h8M2797 1740h8M2902 1655h8M3025 1594h8M2987 1565h8M2952 1625h8M2931 1632h8M2969 1635h8M2971 1706h8M2840 1545h8M2771 1640h8M2920 1664h8M2906 1690h8M2779 1587h8M2962 1571h8M3004 1686h8M2889 1547h8M2967 1656h8M2834 1612h8M3068 1595h8M2914 1575h8M2915 1573h8M2965 1726h8M2875 1625h8M2966 1698h8M2863 1546h8M2931 1649h8M2960 1690h8M2872 1679h8M2951 1746h8M2875 1599h8M2840 1670h8M2847 1707h8M2911 1660h8M2935 1652h8M2958 1564h8M2871 1608h8M2830 1625h8M2916 1676h8M2981 1683h8M2892 1561h8M2967 1701h8M2997 1687h8M2994 1638h8M2837 1612h8M2913 1717h8M2870 1661h8M2830 1676h8M2859 1728h8M2990 1600h8M2946 1496h8M2973 1562h8M2987 1620h8M2947 1664h8M2972 1644h8M2923 1680h8M2931 1674h8M2844 1611h8M2936 1516h8M2871 1685h8M2847 1689h8M2788 1720h8M2863 1621h8M2988 1590h8M2875 1643h8M2864 1701h8M2996 1555h8M2958 1648h8M2904 1704h8M2912 1776h8M2948 1617h8M2947 1687h8M2925 1676h8M3060 1695h8M2847 1707h8M3048 1541h8M2918 1572h8M2875 1649h8M3093 1697h8M2951 1752h8M2805 1760h8M2852 1702h8M2960 1714h8M2979 1730h8M2904 1635h8M3039 1730h8M2889 1628h8M2973 1664h8M2965 1629h8M3008 1554h8M3000 1672h8M2924 1656h8M2977 1588h8M2961 1653h8M2856 1743h8M2940 1586h8M2870 1692h8M2878 1685h8M2884 1636h8M2923 1620h8M3002 1644h8M2844 1641h8M2932 1682h8M2968 1666h8M2990 1690h8M2917 1630h8M2927 1588h8M2998 1638h8M2910 1658h8M2941 1596h8M2911 1644h8M2905 1617h8M2923 1649h8M2878 1739h8M2905 1659h8M3024 1641h8M2936 1547h8M2992 1783h8M2972 1562h8M2851 1683h8M2983 1632h8M3028 1632h8M2877 1664h8M2889 1533h8M2880 1644h8M2826 1681h8M2990 1592h8M2838 1605h8M2930 1573h8M2945 1653h8M2900 1746h8M2792 1551h8M2977 1630h8M2977 1565h8M2973 1549h8M2787 1628h8M2946 1618h8M3019 1611h8M2926 1650h8M2853 1739h8M2759 1762h8M3019 1663h8M2829 1641h8M2871 1624h8M2908 1684h8M2850 1690h8M3033 1748h8M2899 1628h8M2914 1676h8M2881 1595h8M2864 1676h8M3009 1744h8M2957 1672h8M2792 1558h8M3004 1672h8M2896 1549h8M2928 1558h8M3010 1608h8M2906 1750h8M2969 1697h8M2931 1662h8M2825 1556h8M2907 1685h8M2878 1562h8M2834 1598h8M2994 1662h8M2980 1628h8M2963 1623h8M2944 1683h8M2795 1656h8M2921 1528h8M2805 1552h8M2954 1604h8M2929 1655h8M2902 1680h8M2869 1635h8M2896 1632h8M2923 1702h8M2956 1562h8M3023 1606h8M2995 1622h8M2930 1689h8M3026 1613h8M2803 1613h8M2926 1628h8M2937 1666h8M2888 1663h8M2904 1580h8M2924 1547h8M2860 1776h8M2904 1650h8M2896 1663h8M2911 1751h8M3066 1662h8M2983 1598h8M2871 1557h8M2879 1649h8M2991 1566h8M2918 1622h8M2994 1758h8M2911 1587h8M2931 1714h8M2894 1720h8M2934 1678h8M3027 1678h8M2883 1644h8M2882 1676h8M2863 1739h8M2845 1734h8M2816 1628h8M3004 1637h8M2965 1637h8M2874 1553h8M3033 1663h8M2843 1690h8M2841 1556h8M2995 1667h8M3009 1609h8M2855 1665h8M2909 1668h8M2974 1741h8M2926 1731h8M2886 1748h8M3052 1636h8M2929 1571h8M2861 1578h8M2865 1763h8M2935 1714h8M2967 1733h8M3021 1696h8M2800 1686h8M2891 1494h8M2896 1633h8M2913 1577h8M2954 1662h8M2827 1701h8M2981 1622h8M3038 1617h8M2872 1696h8M2944 1634h8M2936 1645h8M2970 1582h8M2960 1524h8M2818 1580h8M2848 1617h8M2934 1582h8M2861 1672h8M2801 1597h8M2907 1634h8M2999 1677h8M2888 1636h8M2941 1662h8M2907 1692h8M2892 1561h8M2966 1682h8M2820 1651h8M2860 1675h8M2948 1650h8M2887 1527h8M2913 1567h8M2926 1611h8M2927 1624h8M2855 1602h8M2830 1705h8M2930 1560h8M2899 1634h8M2928 1651h8M2873 1677h8M2940 1692h8M2950 1659h8M2763 1641h8M2864 1552h8M3003 1660h8M3059 1616h8M2977 1661h8M2918 1687h8M2947 1687h8M2966 1686h8M3057 1610h8M2943 1514h8M2921 1729h8M2910 1703h8M3027 1673h8M2884 1675h8M2854 1639h8M2892 1616h8M3002 1745h8M2963 1644h8M2860 1629h8M2969 1728h8M2892 1734h8M2851 1590h8M2896 1658h8M2940 1641h8M2962 1700h8M2999 1612h8M2906 1670h8M2929 1737h8M3096 1635h8M3074 1567h8M2916 1670h8M2914 1637h8M2791 1637h8M2914 1692h8M2930 1728h8M2877 1613h8M2949 1574h8M2906 1651h8M2858 1662h8M2994 1757h8M2950 1606h8M2957 1752h8M2766 1643h8M3013 1607h8M2877 1714h8M2807 1576h8M2603 1586h8M2553 1603h8M2602 1583h8M2737 1551h8M2702 1647h8M2630 1539h8M2591 1578h8M2743 1468h8M2664 1575h8M2620 1603h8M2633 1574h8M2509 1542h8M2701 1518h8M2616 1501h8M2558 1563h8M2624 1565h8M2700 1541h8M2562 1515h8M2564 1466h8M2615 1607h8M2631 1501h8M2634 1510h8M2621 1576h8M2571 1513h8M2509 1551h8M2675 1595h8M2639 1542h8M2656 1514h8M2636 1406h8M2545 1464h8M2716 1524h8M2671 1466h8M2653 1502h8M2601 1459h8M2633 1517h8M2532 1620h8M2635 1457h8M2504 1557h8M2596 1558h8M2679 1582h8M2768 1555h8M2647 1555h8M2616 1526h8M2590 1489h8M2551 1467h8M2560 1606h8M2498 1533h8M2654 1589h8M2700 1522h8M2579 1534h8M2607 1563h8M2558 1569h8M2625 1544h8M2559 1499h8M2598 1550h8M2659 1559h8M2639 1519h8M2639 1548h8M2692 1557h8M2513 1510h8M2644 1504h8M2520 1564h8M2547 1555h8M2634 1538h8M2597 1560h8M2577 1549h8M2583 1522h8M2687 1622h8M2671 1491h8M2578 1581h8M2708 1403h8M2632 1557h8M2673 1451h8M2727 1436h8M2669 1406h8M2703 1435h8M2796 1420h8M2631 1548h8M2711 1458h8M2619 1442h8M2666 1430h8M2653 1411h8M2694 1393h8M2776 1405h8M2646 1404h8M2653 1456h8M2685 1385h8M2675 1402h8M2612 1447h8M2652 1445h8M2626 1443h8M2665 1416h8M2709 1471h8M2703 1417h8M2699 1410h8M2704 1314h8M2859 1303h8M2786 1365h8M2580 1316h8M2760 1407h8M2588 1476h8M2598 1468h8M2850 1452h8M2625 1273h8M2652 1578h8M2780 1401h8M2743 1407h8M2750 1358h8M2477 1347h8M2774 1167h8M2830 1547h8M2678 1382h8M2783 1341h8M2597 1409h8M2729 1448h8M2709 1399h8M2846 1382h8M2834 1525h8M2440 1360h8M2788 1652h8M2731 1294h8M2608 1114h8M3005 1334h8M2716 1400h8M2716 1480h8M2813 1317h8M2725 1199h8M2550 1470h8M2855 1256h8M2467 1375h8M2693 1250h8M2924 1207h8M2532 1639h8" stroke="#000" stroke-width="8" stroke-opacity="0.5" fill="none"/>
<path transform="scale(.1)" d="M2528 1685h8M2957 1699h8M2910 1768h8M2723 1664h8M2713 1681h8M2605 1605h8M2851 1701h8M2642 1674h8M2730 1688h8M2655 1628h8M2698 1661h8M2683 1590h8M2428 1659h8M2960 1610h8M3001 1665h8M2921 1697h8M3094 1609h8M2692 1778h8M2887 1639h8M2614 1630h8M2647 1702h8M2773 1596h8M2596 1724h8M2713 1634h8M2843 1752h8M2778 1690h8M2734 1632h8M2626 1558h8M2574 1654h8M2787 1780h8M2740 1621h8M2464 1639h8M2612 1685h8M2481 1654h8M2719 1638h8M2464 1673h8M2547 1549h8M2666 1615h8M2762 1715h8M2685 1621h8M2706 1666h8M2745 1648h8M2619 1664h8M2682 1652h8M2835 1713h8M2673 1656h8M2584 1599h8M2677 1610h8M2851 1699h8M2599 1692h8M2762 1672h8M2569 1648h8M2643 1653h8M2722 1683h8M2745 1628h8M2730 1757h8M2822 1705h8M2926 1604h8M2831 1683h8M2690 1735h8M2832 1620h8M2737 1638h8M2791 1721h8M2594 1627h8M2778 1605h8M2753 1586h8M2621 1647h8M2599 1603h8M2711 1680h8M2611 1657h8M2876 1574h8M3028 1697h8M2488 1737h8M2876 1695h8M2751 1659h8M3032 1711h8M2600 1722h8M2668 1633h8M2820 1675h8M2787 1647h8M2741 1776h8M2543 1658h8M2701 1695h8M2496 1635h8M2777 1726h8M2543 1653h8M2649 1742h8M2828 1754h8M2778 1624h8M2713 1723h8M2631 1598h8M2567 1606h8M2581 1658h8M2806 1667h8M2491 1640h8M2864 1634h8M2616 1648h8M2763 1626h8M2687 1618h8M2835 1707h8M2722 1670h8M2576 1631h8M2568 1764h8M2889 1568h8M2634 1765h8M2627 1693h8M2710 1766h8M2730 1715h8M2727 1651h8M2877 1629h8M2591 1651h8M2810 1784h8M2738 1727h8M2700 1696h8M2516 1656h8M2774 1683h8M2645 1658h8M2620 1638h8M2914 1715h8M2684 1779h8M2801 1607h8M2823 1649h8M2702 1616h8M2640 1704h8M2761 1640h8M2643 1563h8M2628 1571h8M2544 1620h8M2665 1763h8M2596 1745h8M2588 1592h8M2863 1643h8M2706 1700h8M2561 1593h8M2730 1711h8M2662 1608h8M2888 1692h8M2892 1702h8M2861 1673h8M2637 1655h8M2663 1687h8M3002 1564h8M2962 1641h8M2502 1599h8M2816 1665h8M2899 1692h8M2572 1704h8M2638 1713h8M2691 1667h8M2763 1646h8M2779 1749h8M2818 1710h8M2886 1657h8M2659 1672h8M2702 1560h8M2697 1627h8M2510 1586h8M2736 1760h8M2948 1650h8M2756 1743h8M2776 1607h8M2963 1696h8M2773 1617h8M2716 1723h8M2955 1595h8M2934 1651h8M2653 1655h8M2655 1679h8M2491 1594h8M2888 1543h8M2786 1674h8M2699 1624h8M2790 1681h8M2609 1693h8M2847 1605h8M2841 1649h8M2836 1550h8M2883 1640h8M2900 1702h8M2524 1623h8M2814 1615h8M2549 1640h8M2629 1673h8M2977 1681h8M2750 1661h8M2544 1634h8M2616 1581h8M2611 1670h8M2420 1625h8M2762 1703h8M2830 1680h8M2768 1654h8M2746 1709h8M2666 1635h8M2674 1638h8M2770 1755h8M2965 1587h8M2796 1699h8M2766 1694h8M2774 1619h8M2623 1758h8M2448 1722h8M2711 1714h8M2531 1643h8M2863 1599h8M2789 1705h8M2723 1542h8M2578 1724h8M2757 1785h8M2513 1752h8M2456 1644h8M2663 1670h8M2613 1699h8M2878 1595h8M2651 1732h8M2827 1677h8M2708 1622h8M2705 1668h8M2628 1748h8M2655 1649h8M2627 1672h8M2755 1658h8M2705 1704h8M2897 1633h8M2827 1568h8M2820 1702h8M2877 1722h8M2474 1688h8M2541 1566h8M2707 1637h8M2740 1700h8M2715 1732h8M2569 1625h8M2719 1743h8M2813 1595h8M2871 1659h8M2921 1712h8M2931 1687h8M2632 1587h8M2609 1652h8M2553 1662h8M2632 1736h8M2732 1668h8M2714 1597h8M2624 1705h8M2658 1698h8M2557 1737h8M2442 1619h8M2692 1624h8M2525 1629h8M2834 1712h8M2757 1651h8M2484 1672h8M2485 1625h8M2639 1652h8M2941 1634h8M2872 1550h8M2488 1612h8M2826 1660h8M2520 1543h8M2726 1629h8M2629 1676h8M2651 1724h8M2508 1693h8M2537 1603h8M2640 1655h8M2733 1684h8M2832 1688h8M2844 1723h8M2791 1622h8M2661 1546h8M2894 1630h8M2697 1769h8M2658 1582h8M2708 1695h8M2683 1691h8M2793 1647h8M2488 1661h8M2673 1660h8M2688 1663h8M2690 1612h8M2636 1552h8M2595 1669h8M2776 1756h8M2790 1564h8M2751 1628h8M2739 1721h8M2750 1619h8M2718 1633h8M2602 1676h8M2736 1622h8M2774 1644h8M2781 1707h8M2605 1697h8M2813 1605h8M2627 1632h8M2806 1709h8M2735 1606h8M2680 1650h8M2857 1582h8M2711 1674h8M2774 1686h8M2964 1731h8M2832 1641h8M2903 1620h8M2660 1717h8M2921 1700h8M2743 1720h8M2876 1737h8M2538 1706h8M2828 1732h8M2804 1706h8M2586 1784h8M2609 1699h8M2636 1755h8M2890 1751h8M2808 1658h8M2675 1646h8M2654 1647h8M2775 1654h8M2641 1638h8M2737 1668h8M2820 1585h8M2847 1692h8M2780 1681h8M3044 1645h8M2622 1675h8M2746 1751h8M2630 1661h8M2571 1661h8M2746 1581h8M2887 1639h8M2806 1662h8M2770 1701h8M2548 1658h8M2613 1693h8M2797 1594h8M2712 1671h8M2799 1721h8M2774 1661h8M2685 1739h8M2795 1769h8M2728 1622h8M2696 1673h8M2759 1741h8M2671 1703h8M2628 1646h8M2939 1681h8M2852 1671h8M2652 1684h8M2746 1679h8M2617 1686h8M2832 1620h8M2660 1705h8M2681 1719h8M2890 1584h8M2980 1716h8M2850 1789h8M2703 1684h8M2626 1688h8M2839 1638h8M2609 1692h8M2780 1619h8M2944 1657h8M2767 1684h8M2712 1694h8M2772 1638h8M2717 1551h8M2604 1677h8M2647 1708h8M2613 1568h8M2734 1632h8M2889 1747h8M2863 1719h8M2803 1766h8M2919 1786h8M2615 1677h8M2840 1669h8M2682 1646h8M2873 1718h8M2727 1733h8M2848 1680h8M2719 1745h8M2817 1684h8M2782 1611h8M2639 1689h8M2653 1661h8M2711 1672h8M2745 1594h8M2811 1667h8M2708 1624h8M2587 1735h8M2806 1724h8M2771 1671h8M2771 1790h8M2905 1649h8M2883 1645h8M2777 1671h8M2730 1715h8M2688 1681h8M2653 1574h8M2536 1676h8M2850 1692h8M2748 1619h8M2681 1739h8M2766 1619h8M2653 1665h8M2745 1627h8M2757 1697h8M2510 1711h8M2666 1685h8M2640 1674h8M2775 1781h8M2732 1655h8M2859 1705h8M2614 1663h8M2843 1711h8M2876 1638h8M2648 1705h8M2769 1689h8M2510 1684h8M2988 1671h8M2731 1707h8M2799 1633h8M2685 1671h8M2686 1711h8M2925 1767h8M2761 1628h8M2733 1667h8M2803 1644h8M2857 1688h8M2691 1663h8M2677 1642h8M2822 1584h8M2681 1624h8M2812 1663h8M2783 1750h8M2851 1682h8M2597 1653h8M2570 1675h8M2680 1687h8M2971 1611h8M2628 1643h8M2835 1707h8M2858 1674h8M3004 1734h8M2466 1639h8M2634 1769h8M2708 1752h8M2623 1626h8M2536 1633h8M2805 1653h8M2669 1655h8M2730 1683h8M2912 1597h8M2832 1690h8M2664 1741h8M2823 1664h8M2786 1690h8M2694 1678h8M2538 1607h8M2985 1712h8M2852 1628h8M2686 1708h8M2716 1720h8M2729 1611h8M2667 1695h8M2810 1588h8M2716 1597h8M2449 1701h8M2637 1663h8M2707 1703h8M2535 1653h8M2714 1740h8M2908 1546h8M2727 1662h8M2489 1640h8M2956 1709h8M2797 1570h8M2612 1589h8M2864 1739h8M2840 1634h8M2850 1737h8M2597 1663h8M2699 1657h8M2612 1609h8M2810 1681h8M2897 1636h8M2852 1650h8M2655 1697h8M2946 1656h8M2819 1701h8M2637 1696h8M2854 1628h8M2451 1683h8M2884 1576h8M2720 1756h8M2495 1743h8M2632 1684h8M2610 1657h8M2669 1642h8M2759 1637h8M2516 1610h8M2713 1719h8M2632 1601h8M2726 1682h8M2950 1645h8M2780 1620h8M2693 1673h8M2566 1595h8M2932 1665h8M2577 1660h8M2587 1701h8M2802 1740h8M2669 1652h8M2699 1663h8M2762 1680h8M2570 1678h8M2840 1686h8M2536 1658h8M2970 1690h8M2714 1645h8M2683 1710h8M2706 1627h8M2584 1633h8M2801 1606h8M2665 1779h8M2796 1634h8M2516 1633h8M2600 1714h8M2883 1737h8M2483 1734h8M2699 1701h8M2661 1709h8M2622 1731h8M2760 1592h8M2796 1642h8M2511 1770h8M2936 1621h8M2701 1680h8M2656 1591h8M2948 1683h8M2701 1719h8M2770 1669h8M2888 1670h8M2628 1695h8M2472 1622h8M2766 1715h8M2757 1735h8M2766 1707h8M2662 1689h8M2673 1742h8M2865 1709h8M2738 1675h8M2539 1645h8M2650 1687h8M2970 1676h8M2769 1685h8M2641 1698h8M2796 1746h8M2708 1685h8M2629 1659h8M2848 1721h8M2626 1664h8M2611 1730h8M2736 1711h8M2700 1540h8M2671 1643h8M2719 1701h8M2909 1718h8M2841 1618h8M2620 1753h8M2518 1651h8M2585 1714h8M2886 1723h8M2851 1677h8M2765 1726h8M2737 1556h8M2807 1595h8M2799 1583h8M2756 1717h8M2446 1679h8M2914 1545h8M2640 1665h8M2484 1744h8M2604 1698h8M2754 1710h8M2739 1565h8M2761 1683h8M2692 1673h8M2735 1672h8M2708 1597h8M2853 1660h8M2715 1640h8M2893 1684h8M2815 1691h8M2717 1625h8M2526 1541h8M2696 1628h8M2765 1688h8M2616 1653h8M2865 1620h8M2561 1705h8M2847 1645h8M2487 1621h8M2813 1625h8M2436 1689h8M2544 1664h8M2690 1728h8M2900 1631h8M2797 1681h8M2822 1651h8M2630 1644h8M2920 1606h8M2636 1740h8M2682 1648h8M2686 1736h8M2701 1604h8M2635 1641h8M2739 1734h8M2693 1672h8M2752 1550h8M2898 1650h8M2588 1709h8M2527 1684h8M2662 1674h8M2796 1632h8M2671 1627h8M2746 1684h8M2748 1625h8M2645 1686h8M2611 1648h8M2851 1727h8M2626 1731h8M2588 1687h8M2885 1769h8M2682 1705h8M2780 1615h8M2745 1711h8M2670 1728h8M2867 1640h8M2798 1649h8M2762 1595h8M2716 1665h8M2757 1659h8M2704 1653h8M2790 1666h8M2676 1690h8M2616 1675h8M2659 1688h8M2833 1599h8M2825 1630h8M2689 1681h8M2573 1621h8M2486 1624h8M2597 1606h8M2666 1682h8M2470 1621h8M2691 1593h8M2568 1735h8M2792 1666h8M2813 1678h8M2599 1648h8M2714 1576h8M2930 1669h8M2660 1639h8M2712 1645h8M2646 1726h8M2872 1706h8M2617 1733h8M2849 1714h8M2824 1700h8M2791 1712h8M2738 1636h8M2628 1737h8M2692 1705h8M2645 1648h8M2940 1672h8M2663 1697h8M2865 1569h8M2604 1702h8M2515 1616h8M2766 1693h8M2836 1612h8M2688 1624h8M2836 1748h8M2770 1579h8M2908 1736h8M2570 1721h8M2643 1591h8M2628 1665h8M2724 1647h8M2737 1625h8M2580 1667h8M2742 1590h8M2833 1772h8M2728 1624h8M2781 1658h8M2444 1659h8M2797 1759h8M2867 1643h8M2785 1599h8M2784 1599h8M2592 1764h8M2983 1723h8M2828 1635h8M2688 1714h8M2732 1702h8M2548 1660h8M2738 1601h8M2537 1650h8M2505 1713h8M2908 1664h8M2768 1716h8M2460 1745h8M2660 1707h8M2774 1733h8M2865 1622h8M2810 1739h8M3030 1651h8M2635 1641h8M2754 1736h8M2541 1662h8M2717 1638h8M2561 1701h8M3047 1654h8M2610 1623h8M2535 1615h8M2579 1597h8M2560 1689h8M2606 1619h8M2613 1720h8M2953 1644h8M2700 1699h8M2667 1629h8M2740 1664h8M2776 1643h8M2705 1591h8M2735 1722h8M2797 1664h8M2599 1654h8M2680 1659h8M2708 1631h8M2691 1634h8M2488 1678h8M2547 1752h8M2660 1625h8M2742 1711h8M2725 1634h8M2645 1626h8M2515 1722h8M2666 1639h8M2884 1634h8M2520 1680h8M2754 1550h8M2684 1682h8M2811 1718h8M2682 1696h8M2742 1744h8M2708 1640h8M2561 1672h8M2737 1738h8M2746 1577h8M2636 1623h8M2591 1765h8M2452 1619h8M2845 1627h8M2789 1672h8M2742 1724h8M2679 1658h8M2783 1674h8M2869 1658h8M2649 1664h8M2830 1741h8M2704 1635h8M2887 1717h8M2486 1741h8M2735 1630h8M2700 1665h8M2716 1715h8M2649 1555h8M2815 1613h8M2789 1703h8M2614 1729h8M2706 1654h8M2614 1714h8" stroke="#000" stroke-width="8" stroke-opacity="0.22" fill="none"/>
<path d="M261.1 138.0L268.8 133.1L273.3 135.1L277.1 140.2L277.4 147.3L272.6 150.8L269.4 152.1L262.3 151.4L259.8 149.2L258.5 144.7L259.5 141.8Z" fill="none" stroke="#222" stroke-width="0.9" stroke-linejoin="round"/>
<path d="M281.3 161.3C282.0 158.9 283.5 156.9 285.5 155.4C287.5 153.8 290.8 152.2 293.2 152.0C295.6 151.8 298.3 152.9 300.0 154.5C301.7 156.1 303.0 158.8 303.3 161.3C303.6 163.9 302.7 167.7 301.6 169.8C300.5 171.9 299.1 173.3 296.6 174.0C294.1 174.7 288.9 174.7 286.4 174.0C283.8 173.3 282.1 171.9 281.3 169.8C280.5 167.7 280.6 163.7 281.3 161.3Z" fill="none" stroke="#222" stroke-width="0.9"/>
<text x="244.2" y="126.69999999999999" font-size="7.5">Gr1<tspan dy="-3" font-size="4.6">Hi</tspan></text>
<text x="244.8" y="136.4" font-size="7.5" textLength="14.4" lengthAdjust="spacingAndGlyphs">0.82</text>
<text x="284.6" y="137.2" font-size="7.4">Ly6C<tspan dy="-3" font-size="4.6">Hi</tspan></text>
<text x="294.2" y="147.6" font-size="7.5" textLength="14.2" lengthAdjust="spacingAndGlyphs">71.5</text>
<text x="232" y="169.8" font-size="9.5" text-anchor="middle" textLength="9.8" lengthAdjust="spacingAndGlyphs" fill="#222" transform="rotate(-90 232 169.8)" stroke="#222" stroke-width="0.3">Gr1</text>
<path d="M229 184.09999999999997V192.6H239.3" stroke="#000" stroke-width="1.4" fill="none"/>
<path d="M229 178.7l-2.8 7.2l2.8 -1.8l2.8 1.8z M244.7 192.6l-7.2 -2.8l1.8 2.8l-1.8 2.8z" fill="#000"/>
<text x="248.1" y="194.8" font-size="8.6" textLength="13.2" lengthAdjust="spacingAndGlyphs" fill="#222" stroke="#222" stroke-width="0.3">Ly6C</text>
<line x1="354.6" y1="44.0" x2="354.6" y2="106.9" stroke="#111" stroke-width="1.0"/>
<line x1="354.1" y1="106.4" x2="408.7" y2="106.4" stroke="#111" stroke-width="1.0"/>
<line x1="352.0" y1="46.8" x2="354.6" y2="46.8" stroke="#111" stroke-width="0.9"/>
<text x="348.3" y="49.4" font-size="7.6" text-anchor="end" fill="#222">100</text>
<line x1="352.0" y1="61.7" x2="354.6" y2="61.7" stroke="#111" stroke-width="0.9"/>
<text x="348.3" y="64.3" font-size="7.6" text-anchor="end" fill="#222">75</text>
<line x1="352.0" y1="76.6" x2="354.6" y2="76.6" stroke="#111" stroke-width="0.9"/>
<text x="348.3" y="79.19999999999999" font-size="7.6" text-anchor="end" fill="#222">50</text>
<line x1="352.0" y1="91.5" x2="354.6" y2="91.5" stroke="#111" stroke-width="0.9"/>
<text x="348.3" y="94.1" font-size="7.6" text-anchor="end" fill="#222">25</text>
<line x1="352.0" y1="106.4" x2="354.6" y2="106.4" stroke="#111" stroke-width="0.9"/>
<text x="348.3" y="109.0" font-size="7.6" text-anchor="end" fill="#222">0</text>
<rect x="359.5" y="70.8" width="17.100000000000023" height="35.60000000000001" fill="#a8082c"/>
<line x1="368.05" y1="70.8" x2="368.05" y2="67.5" stroke="#600010" stroke-width="1.0"/>
<line x1="365.75" y1="67.5" x2="370.35" y2="67.5" stroke="#600010" stroke-width="1.0"/>
<rect x="386.6" y="59.7" width="17.399999999999977" height="46.7" fill="#a8082c"/>
<line x1="395.3" y1="59.7" x2="395.3" y2="56.1" stroke="#600010" stroke-width="1.0"/>
<line x1="393.0" y1="56.1" x2="397.6" y2="56.1" stroke="#600010" stroke-width="1.0"/>
<line x1="354.6" y1="106.4" x2="354.6" y2="108.9" stroke="#111" stroke-width="0.9"/>
<line x1="381.4" y1="106.4" x2="381.4" y2="108.9" stroke="#111" stroke-width="0.9"/>
<line x1="408.2" y1="106.4" x2="408.2" y2="108.9" stroke="#111" stroke-width="0.9"/>
<path d="M368.1 49.6V45.7H395.6V49.6" fill="none" stroke="#111" stroke-width="0.9"/>
<text x="381.4" y="46.4" font-size="7.5" text-anchor="middle" fill="#111">*</text>
<text x="329" y="75" font-size="8.2" text-anchor="middle" textLength="32.4" lengthAdjust="spacingAndGlyphs" transform="rotate(-90 329 75)">Ly6C<tspan dy="-3" font-size="4.8">Hi</tspan><tspan dy="3"> (%)</tspan></text>
<line x1="354.6" y1="128.0" x2="354.6" y2="192.9" stroke="#111" stroke-width="1.0"/>
<line x1="354.1" y1="192.4" x2="408.7" y2="192.4" stroke="#111" stroke-width="1.0"/>
<line x1="352.0" y1="130.8" x2="354.6" y2="130.8" stroke="#111" stroke-width="0.9"/>
<text x="348.3" y="133.4" font-size="7.6" text-anchor="end" fill="#222">3</text>
<line x1="352.0" y1="151.3" x2="354.6" y2="151.3" stroke="#111" stroke-width="0.9"/>
<text x="348.3" y="153.9" font-size="7.6" text-anchor="end" fill="#222">2</text>
<line x1="352.0" y1="171.8" x2="354.6" y2="171.8" stroke="#111" stroke-width="0.9"/>
<text x="348.3" y="174.4" font-size="7.6" text-anchor="end" fill="#222">1</text>
<line x1="352.0" y1="192.4" x2="354.6" y2="192.4" stroke="#111" stroke-width="0.9"/>
<text x="348.3" y="195.0" font-size="7.6" text-anchor="end" fill="#222">0</text>
<rect x="359.4" y="152.3" width="17.100000000000023" height="40.099999999999994" fill="#a8082c"/>
<line x1="367.95" y1="152.3" x2="367.95" y2="149.6" stroke="#600010" stroke-width="1.0"/>
<line x1="365.65" y1="149.6" x2="370.25" y2="149.6" stroke="#600010" stroke-width="1.0"/>
<rect x="386.5" y="173.1" width="16.899999999999977" height="19.30000000000001" fill="#a8082c"/>
<line x1="394.95" y1="173.1" x2="394.95" y2="171.5" stroke="#600010" stroke-width="1.0"/>
<line x1="392.65" y1="171.5" x2="397.25" y2="171.5" stroke="#600010" stroke-width="1.0"/>
<line x1="354.6" y1="192.4" x2="354.6" y2="194.9" stroke="#111" stroke-width="0.9"/>
<line x1="381.4" y1="192.4" x2="381.4" y2="194.9" stroke="#111" stroke-width="0.9"/>
<line x1="408.2" y1="192.4" x2="408.2" y2="194.9" stroke="#111" stroke-width="0.9"/>
<path d="M367.3 143.4V139.9H394.5V143.4" fill="none" stroke="#111" stroke-width="0.9"/>
<text x="381" y="139.79999999999998" font-size="7.5" text-anchor="middle" fill="#111">*</text>
<text x="338.6" y="160.8" font-size="8.2" text-anchor="middle" textLength="30" lengthAdjust="spacingAndGlyphs" transform="rotate(-90 338.6 160.8)">Gr1<tspan dy="-3" font-size="4.8">Hi</tspan><tspan dy="3"> (%)</tspan></text>
<text x="368" y="205.3" font-size="7.8" text-anchor="middle">PBS</text>
<text x="394.5" y="205.3" font-size="7.8" text-anchor="middle">IFNα</text>
<line x1="267.4" y1="351.0" x2="267.4" y2="404.7" stroke="#111" stroke-width="1.0"/>
<line x1="266.9" y1="404.2" x2="322.4" y2="404.2" stroke="#111" stroke-width="1.0"/>
<line x1="264.79999999999995" y1="353.8" x2="267.4" y2="353.8" stroke="#111" stroke-width="0.9"/>
<text x="261.09999999999997" y="356.40000000000003" font-size="7.6" text-anchor="end" fill="#222">600</text>
<line x1="264.79999999999995" y1="370.6" x2="267.4" y2="370.6" stroke="#111" stroke-width="0.9"/>
<text x="261.09999999999997" y="373.20000000000005" font-size="7.6" text-anchor="end" fill="#222">400</text>
<line x1="264.79999999999995" y1="387.3" x2="267.4" y2="387.3" stroke="#111" stroke-width="0.9"/>
<text x="261.09999999999997" y="389.90000000000003" font-size="7.6" text-anchor="end" fill="#222">200</text>
<line x1="264.79999999999995" y1="404.2" x2="267.4" y2="404.2" stroke="#111" stroke-width="0.9"/>
<text x="261.09999999999997" y="406.8" font-size="7.6" text-anchor="end" fill="#222">0</text>
<rect x="271.9" y="384.4" width="16.80000000000001" height="19.80000000000001" fill="#a8082c"/>
<line x1="280.29999999999995" y1="384.4" x2="280.29999999999995" y2="381.7" stroke="#600010" stroke-width="1.0"/>
<line x1="277.99999999999994" y1="381.7" x2="282.59999999999997" y2="381.7" stroke="#600010" stroke-width="1.0"/>
<rect x="299.8" y="368.4" width="16.5" height="35.80000000000001" fill="#a8082c"/>
<line x1="308.05" y1="368.4" x2="308.05" y2="362.6" stroke="#600010" stroke-width="1.0"/>
<line x1="305.75" y1="362.6" x2="310.35" y2="362.6" stroke="#600010" stroke-width="1.0"/>
<line x1="267.4" y1="404.2" x2="267.4" y2="406.7" stroke="#111" stroke-width="0.9"/>
<line x1="294.5" y1="404.2" x2="294.5" y2="406.7" stroke="#111" stroke-width="0.9"/>
<line x1="321.5" y1="404.2" x2="321.5" y2="406.7" stroke="#111" stroke-width="0.9"/>
<path d="M281.7 358.8V355.1H309.1V358.8" fill="none" stroke="#111" stroke-width="0.9"/>
<text x="295.3" y="355.0" font-size="7.5" text-anchor="middle" fill="#111">*</text>
<text x="240.8" y="380.8" font-size="8.2" text-anchor="middle" textLength="39" lengthAdjust="spacingAndGlyphs" transform="rotate(-90 240.8 380.8)">IRF8 (MFI)</text>
<text x="280.7" y="416.3" font-size="7.8" text-anchor="middle">PBS</text>
<text x="307.8" y="416.3" font-size="7.8" text-anchor="middle">IFNα</text>
<line x1="441.40000000000003" y1="47.4" x2="443.6" y2="47.4" stroke="#111" stroke-width="0.9"/>
<text x="437.6" y="49.9" font-size="7.6" text-anchor="end" fill="#222">100</text>
<line x1="441.40000000000003" y1="61.1" x2="443.6" y2="61.1" stroke="#111" stroke-width="0.9"/>
<text x="437.6" y="63.6" font-size="7.6" text-anchor="end" fill="#222">80</text>
<line x1="441.40000000000003" y1="74.8" x2="443.6" y2="74.8" stroke="#111" stroke-width="0.9"/>
<text x="437.6" y="77.3" font-size="7.6" text-anchor="end" fill="#222">60</text>
<line x1="441.40000000000003" y1="88.3" x2="443.6" y2="88.3" stroke="#111" stroke-width="0.9"/>
<text x="437.6" y="90.8" font-size="7.6" text-anchor="end" fill="#222">40</text>
<line x1="441.40000000000003" y1="101.9" x2="443.6" y2="101.9" stroke="#111" stroke-width="0.9"/>
<text x="437.6" y="104.4" font-size="7.6" text-anchor="end" fill="#222">20</text>
<line x1="441.40000000000003" y1="115.3" x2="443.6" y2="115.3" stroke="#111" stroke-width="0.9"/>
<text x="437.6" y="117.8" font-size="7.6" text-anchor="end" fill="#222">0</text>
<path d="M442.4 49.1h1.2M442.4 50.8h1.2M442.4 52.5h1.2M442.4 54.2h1.2M442.4 56.0h1.2M442.4 57.7h1.2M442.4 59.4h1.2M442.4 62.8h1.2M442.4 64.5h1.2M442.4 66.2h1.2M442.4 68.0h1.2M442.4 69.7h1.2M442.4 71.4h1.2M442.4 73.1h1.2M442.4 76.5h1.2M442.4 78.2h1.2M442.4 79.9h1.2M442.4 81.5h1.2M442.4 83.2h1.2M442.4 84.9h1.2M442.4 86.6h1.2M442.4 90.0h1.2M442.4 91.7h1.2M442.4 93.4h1.2M442.4 95.1h1.2M442.4 96.8h1.2M442.4 98.5h1.2M442.4 100.2h1.2M442.4 103.6h1.2M442.4 105.2h1.2M442.4 106.9h1.2M442.4 108.6h1.2M442.4 110.3h1.2M442.4 112.0h1.2M442.4 113.6h1.2" stroke="#222" stroke-width="0.6"/>
<rect x="443.6" y="44.7" width="69.29999999999995" height="70.6" fill="none" stroke="#111" stroke-width="1.35"/>
<path d="M446.5 115.0C447.1 113.8 448.9 112.2 450.0 108.0C451.1 103.8 452.1 97.0 453.0 90.0C453.9 83.0 454.8 72.3 455.5 66.0C456.2 59.7 456.8 54.9 457.3 52.0C457.8 49.1 458.1 48.8 458.5 48.8C458.9 48.8 459.4 49.5 460.0 52.0C460.6 54.5 461.2 58.5 462.0 64.0C462.8 69.5 463.6 78.5 464.5 85.0C465.4 91.5 466.4 98.3 467.5 103.0C468.6 107.7 469.9 111.0 471.0 113.0C472.1 115.0 473.5 114.7 474.0 115.0Z" fill="#e3968a" stroke="none"/>
<path d="M446.5 115.0C447.1 113.8 448.9 112.2 450.0 108.0C451.1 103.8 452.1 97.0 453.0 90.0C453.9 83.0 454.8 72.3 455.5 66.0C456.2 59.7 456.8 54.9 457.3 52.0C457.8 49.1 458.1 48.8 458.5 48.8C458.9 48.8 459.4 49.5 460.0 52.0C460.6 54.5 461.2 58.5 462.0 64.0C462.8 69.5 463.6 78.5 464.5 85.0C465.4 91.5 466.4 98.3 467.5 103.0C468.6 107.7 469.9 111.0 471.0 113.0C472.1 115.0 473.5 114.7 474.0 115.0" fill="none" stroke="#8a2a2a" stroke-width="1.2" stroke-linejoin="round"/>
<path d="M446.0 115.0C446.6 113.7 448.4 111.3 449.5 107.0C450.6 102.7 451.8 96.0 452.8 89.0C453.8 82.0 454.6 71.3 455.3 65.0C456.0 58.7 456.7 53.9 457.2 51.0C457.7 48.1 457.9 47.8 458.3 47.8C458.7 47.8 459.2 48.5 459.8 51.0C460.4 53.5 461.2 57.3 462.0 63.0C462.8 68.7 463.6 78.3 464.6 85.0C465.6 91.7 466.7 98.3 467.8 103.0C468.9 107.7 470.3 111.0 471.5 113.0C472.7 115.0 474.4 114.7 475.0 115.0" fill="none" stroke="#9a8040" stroke-width="1.1" stroke-linejoin="round" stroke-dasharray="2.2 1.6"/>
<path d="M450.0 115.0C450.7 113.8 452.8 111.8 454.0 108.0C455.2 104.2 456.4 98.0 457.5 92.0C458.6 86.0 459.7 78.2 460.5 72.0C461.3 65.8 461.9 59.1 462.5 55.0C463.1 50.9 463.8 48.1 464.4 47.3C465.0 46.5 465.5 47.9 466.0 50.0C466.5 52.1 467.0 55.8 467.5 60.0C468.0 64.2 468.3 70.0 468.8 75.0C469.3 80.0 469.8 85.5 470.5 90.0C471.2 94.5 471.9 98.7 473.0 102.0C474.1 105.3 475.5 108.1 477.0 110.0C478.5 111.9 480.2 112.7 482.0 113.5C483.8 114.3 482.8 114.5 488.0 114.8C493.2 115.0 508.8 115.0 513.0 115.0" fill="none" stroke="#2e4a86" stroke-width="1.3" stroke-linejoin="round"/>
<text x="451.9" y="128.6" font-size="7.6" text-anchor="middle" fill="#222">0</text>
<text x="474.2" y="128.6" font-size="7.6" text-anchor="middle" fill="#222">10<tspan dy="-2.8" font-size="4.6">3</tspan></text>
<text x="490.6" y="128.6" font-size="7.6" text-anchor="middle" fill="#222">10<tspan dy="-2.8" font-size="4.6">4</tspan></text>
<text x="506" y="128.6" font-size="7.6" text-anchor="middle" fill="#222">10<tspan dy="-2.8" font-size="4.6">5</tspan></text>
<path d="M443.6 115.3v1.6M446.5 115.3v1.6M449.4 115.3v1.6M452.3 115.3v1.6M455.2 115.3v1.6M458.1 115.3v1.6M461.0 115.3v1.6M463.8 115.3v1.6M466.7 115.3v1.6M469.6 115.3v1.6M472.5 115.3v1.6M475.4 115.3v1.6M478.3 115.3v1.6M481.2 115.3v1.6M484.1 115.3v1.6M487.0 115.3v1.6M489.9 115.3v1.6M492.8 115.3v1.6M495.7 115.3v1.6M498.5 115.3v1.6M501.4 115.3v1.6M504.3 115.3v1.6M507.2 115.3v1.6M510.1 115.3v1.6M513.0 115.3v1.6" stroke="#222" stroke-width="0.6"/>
<text x="477.6" y="40.8" font-size="10" text-anchor="middle" textLength="28.5" lengthAdjust="spacingAndGlyphs">Ly6C<tspan dy="-3.6" font-size="6.6">HI</tspan></text>
<line x1="447.8" y1="137.1" x2="481.40000000000003" y2="137.1" stroke="#111" stroke-width="1.2"/>
<path d="M485.5 137.1L479.3 139.8L480.9 137.1L479.3 134.4Z" fill="#111"/>
<text x="488.9" y="139.6" font-size="9.6" textLength="17.6" lengthAdjust="spacingAndGlyphs" fill="#222">CD11c</text>
<line x1="459.4" y1="150.3" x2="469.6" y2="150.3" stroke="#9a8a50" stroke-width="1.3" stroke-dasharray="3.8 2.5"/>
<line x1="459.4" y1="161.5" x2="469.1" y2="161.5" stroke="#37558f" stroke-width="1.5"/>
<line x1="459.4" y1="172.4" x2="469.1" y2="172.4" stroke="#8c1c34" stroke-width="1.5"/>
<text x="472.8" y="152.6" font-size="7.5" fill="#333">PBS</text>
<text x="472.8" y="163.8" font-size="7.5" fill="#333">IFNα</text>
<text x="472.8" y="174.7" font-size="7.5" fill="#333">Isotype</text>
<line x1="240.0" y1="251.4" x2="242.2" y2="251.4" stroke="#111" stroke-width="0.9"/>
<text x="235.4" y="253.9" font-size="7.6" text-anchor="end" fill="#222">100</text>
<line x1="240.0" y1="264.8" x2="242.2" y2="264.8" stroke="#111" stroke-width="0.9"/>
<text x="235.4" y="267.3" font-size="7.6" text-anchor="end" fill="#222">80</text>
<line x1="240.0" y1="278.1" x2="242.2" y2="278.1" stroke="#111" stroke-width="0.9"/>
<text x="235.4" y="280.6" font-size="7.6" text-anchor="end" fill="#222">60</text>
<line x1="240.0" y1="291.5" x2="242.2" y2="291.5" stroke="#111" stroke-width="0.9"/>
<text x="235.4" y="294.0" font-size="7.6" text-anchor="end" fill="#222">40</text>
<line x1="240.0" y1="304.9" x2="242.2" y2="304.9" stroke="#111" stroke-width="0.9"/>
<text x="235.4" y="307.4" font-size="7.6" text-anchor="end" fill="#222">20</text>
<line x1="240.0" y1="318.3" x2="242.2" y2="318.3" stroke="#111" stroke-width="0.9"/>
<text x="235.4" y="320.8" font-size="7.6" text-anchor="end" fill="#222">0</text>
<path d="M241.0 253.1h1.2M241.0 254.8h1.2M241.0 256.4h1.2M241.0 258.1h1.2M241.0 259.8h1.2M241.0 261.4h1.2M241.0 263.1h1.2M241.0 266.5h1.2M241.0 268.1h1.2M241.0 269.8h1.2M241.0 271.5h1.2M241.0 273.1h1.2M241.0 274.8h1.2M241.0 276.4h1.2M241.0 279.8h1.2M241.0 281.5h1.2M241.0 283.1h1.2M241.0 284.8h1.2M241.0 286.5h1.2M241.0 288.1h1.2M241.0 289.8h1.2M241.0 293.2h1.2M241.0 294.9h1.2M241.0 296.5h1.2M241.0 298.2h1.2M241.0 299.9h1.2M241.0 301.5h1.2M241.0 303.2h1.2M241.0 306.6h1.2M241.0 308.2h1.2M241.0 309.9h1.2M241.0 311.6h1.2M241.0 313.3h1.2M241.0 314.9h1.2M241.0 316.6h1.2" stroke="#222" stroke-width="0.6"/>
<rect x="242.2" y="247.5" width="69.60000000000002" height="70.80000000000001" fill="none" stroke="#111" stroke-width="1.35"/>
<path d="M256.8 318.0C257.1 315.8 257.8 311.3 258.5 305.0C259.2 298.7 260.5 286.8 261.2 280.3C261.9 273.8 262.2 269.4 262.9 266.2C263.6 263.0 264.6 261.8 265.6 260.9C266.6 259.9 268.1 259.6 269.1 260.5C270.1 261.4 270.9 261.9 271.5 266.0C272.1 270.1 272.0 278.8 272.6 285.0C273.2 291.2 274.2 298.5 275.0 303.0C275.8 307.5 276.7 309.6 277.5 312.0C278.3 314.4 279.6 316.6 280.0 317.5Z" fill="#e0918a" stroke="none"/>
<path d="M256.8 318.0C257.1 315.8 257.8 311.3 258.5 305.0C259.2 298.7 260.5 286.8 261.2 280.3C261.9 273.8 262.2 269.4 262.9 266.2C263.6 263.0 264.6 261.8 265.6 260.9C266.6 259.9 268.1 259.6 269.1 260.5C270.1 261.4 270.9 261.9 271.5 266.0C272.1 270.1 272.0 278.8 272.6 285.0C273.2 291.2 274.2 298.5 275.0 303.0C275.8 307.5 276.7 309.6 277.5 312.0C278.3 314.4 279.6 316.6 280.0 317.5" fill="none" stroke="#c0102e" stroke-width="1.3" stroke-linejoin="round"/>
<path d="M259.0 318.0C259.2 314.7 259.7 304.0 260.3 298.0C260.9 292.0 261.9 286.4 262.5 282.0C263.1 277.6 263.3 275.3 263.8 271.5C264.3 267.7 264.9 261.9 265.5 259.0C266.1 256.1 266.7 254.0 267.4 253.8C268.1 253.6 268.6 255.6 269.5 258.0C270.4 260.4 271.6 262.8 272.6 268.0C273.6 273.2 274.4 283.2 275.3 289.0C276.2 294.8 277.1 299.3 278.0 303.0C278.9 306.7 279.7 308.8 280.5 311.0C281.3 313.2 282.6 315.6 283.0 316.5" fill="none" stroke="#97a055" stroke-width="1.2" stroke-linejoin="round" stroke-dasharray="2.2 1.6"/>
<path d="M260.0 318.0C260.3 316.7 261.2 315.1 262.0 310.3C262.8 305.5 263.7 296.1 264.7 289.0C265.7 281.9 267.2 273.2 268.2 268.0C269.2 262.8 270.1 260.2 270.8 258.0C271.5 255.8 272.1 254.0 272.6 254.7C273.1 255.4 273.6 259.2 274.0 262.0C274.4 264.8 274.6 266.7 275.3 271.5C276.0 276.3 277.0 285.3 278.0 290.9C279.0 296.5 280.3 301.6 281.5 305.0C282.7 308.4 284.0 309.2 285.0 311.2C286.0 313.2 286.8 315.8 287.6 317.0C288.4 318.2 289.6 318.1 290.0 318.3" fill="none" stroke="#2d4f8f" stroke-width="1.3" stroke-linejoin="round"/>
<text x="245.8" y="331.0" font-size="7.6" text-anchor="middle" fill="#222">0</text>
<text x="255.8" y="331.0" font-size="7.6" text-anchor="middle" fill="#222">10<tspan dy="-2.8" font-size="4.6">2</tspan></text>
<text x="273.8" y="331.0" font-size="7.6" text-anchor="middle" fill="#222">10<tspan dy="-2.8" font-size="4.6">3</tspan></text>
<text x="289.9" y="331.0" font-size="7.6" text-anchor="middle" fill="#222">10<tspan dy="-2.8" font-size="4.6">4</tspan></text>
<text x="306" y="331.0" font-size="7.6" text-anchor="middle" fill="#222">10<tspan dy="-2.8" font-size="4.6">5</tspan></text>
<path d="M242.2 318.5v1.6M245.1 318.5v1.6M247.9 318.5v1.6M250.8 318.5v1.6M253.7 318.5v1.6M256.5 318.5v1.6M259.4 318.5v1.6M262.3 318.5v1.6M265.1 318.5v1.6M268.0 318.5v1.6M270.9 318.5v1.6M273.7 318.5v1.6M276.6 318.5v1.6M279.5 318.5v1.6M282.3 318.5v1.6M285.2 318.5v1.6M288.1 318.5v1.6M290.9 318.5v1.6M293.8 318.5v1.6M296.7 318.5v1.6M299.5 318.5v1.6M302.4 318.5v1.6M305.3 318.5v1.6M308.1 318.5v1.6M311.0 318.5v1.6" stroke="#222" stroke-width="0.6"/>
<line x1="245.7" y1="339.4" x2="280.70000000000005" y2="339.4" stroke="#111" stroke-width="1.2"/>
<path d="M284.8 339.4L278.6 342.1L280.2 339.4L278.6 336.7Z" fill="#111"/>
<text x="287.2" y="343.6" font-size="10.4" textLength="14.6" lengthAdjust="spacingAndGlyphs" fill="#222">IRF8</text>
<line x1="315.3" y1="251.4" x2="325.6" y2="251.4" stroke="#98a860" stroke-width="1.3" stroke-dasharray="3.8 2.5"/>
<line x1="315.3" y1="263.4" x2="325.4" y2="263.4" stroke="#2d4f8f" stroke-width="1.5"/>
<line x1="315.3" y1="275.0" x2="325.4" y2="275.0" stroke="#b5173b" stroke-width="1.5"/>
<text x="328.9" y="254.0" font-size="7.6" fill="#333">PBS</text>
<text x="328.9" y="266.0" font-size="7.6" fill="#333">IFNα</text>
<text x="328.9" y="277.6" font-size="7.6" fill="#333">Isotype</text>
<text x="182.8" y="241.8" font-size="10" text-anchor="middle" textLength="55" lengthAdjust="spacingAndGlyphs">CD11b<tspan dy="-3.5" font-size="5">-</tspan><tspan dy="3.5"> cells</tspan></text>
<rect x="147.5" y="248" width="70.5" height="71.10000000000002" fill="none" stroke="#666" stroke-width="0.8"/>
<path d="M145.9 248.0h1.6M145.9 250.5h1.6M145.9 253.1h1.6M145.9 255.6h1.6M145.9 258.2h1.6M145.9 260.7h1.6M145.9 263.2h1.6M145.9 265.8h1.6M145.9 268.3h1.6M145.9 270.9h1.6M145.9 273.4h1.6M145.9 275.9h1.6M145.9 278.5h1.6M145.9 281.0h1.6M145.9 283.6h1.6M145.9 286.1h1.6M145.9 288.6h1.6M145.9 291.2h1.6M145.9 293.7h1.6M145.9 296.2h1.6M145.9 298.8h1.6M145.9 301.3h1.6M145.9 303.9h1.6M145.9 306.4h1.6M145.9 308.9h1.6M145.9 311.5h1.6M145.9 314.0h1.6M145.9 316.6h1.6M145.9 319.1h1.6M147.5 319.1v1.4M150.0 319.1v1.4M152.5 319.1v1.4M155.1 319.1v1.4M157.6 319.1v1.4M160.1 319.1v1.4M162.6 319.1v1.4M165.1 319.1v1.4M167.6 319.1v1.4M170.2 319.1v1.4M172.7 319.1v1.4M175.2 319.1v1.4M177.7 319.1v1.4M180.2 319.1v1.4M182.8 319.1v1.4M185.3 319.1v1.4M187.8 319.1v1.4M190.3 319.1v1.4M192.8 319.1v1.4M195.3 319.1v1.4M197.9 319.1v1.4M200.4 319.1v1.4M202.9 319.1v1.4M205.4 319.1v1.4M207.9 319.1v1.4M210.4 319.1v1.4M213.0 319.1v1.4M215.5 319.1v1.4M218.0 319.1v1.4" stroke="#555" stroke-width="0.5" fill="none"/>
<text x="144.3" y="257.6" font-size="3.4" fill="#333" text-anchor="middle" transform="rotate(-60 144.3 257.6)">10<tspan dy="-1.3" font-size="2.6">5</tspan></text>
<path d="M145.7 256.0h1.8" stroke="#222" stroke-width="0.9" fill="none"/>
<text x="144.3" y="273.6" font-size="3.4" fill="#333" text-anchor="middle" transform="rotate(-60 144.3 273.6)">10<tspan dy="-1.3" font-size="2.6">4</tspan></text>
<path d="M145.7 272.0h1.8" stroke="#222" stroke-width="0.9" fill="none"/>
<text x="144.3" y="289.6" font-size="3.4" fill="#333" text-anchor="middle" transform="rotate(-60 144.3 289.6)">10<tspan dy="-1.3" font-size="2.6">3</tspan></text>
<path d="M145.7 288.0h1.8" stroke="#222" stroke-width="0.9" fill="none"/>
<text x="143.3" y="308.2" font-size="3.6" fill="#333" text-anchor="middle">0</text>
<path d="M145.7 307.0h1.8" stroke="#222" stroke-width="0.9" fill="none"/>
<text x="149.1" y="324.3" font-size="2.9" fill="#444" text-anchor="middle">0</text>
<path d="M149.1 319.1v1.8" stroke="#222" stroke-width="0.8"/>
<text x="162.2" y="324.3" font-size="2.9" fill="#444" text-anchor="middle">50K</text>
<path d="M162.2 319.1v1.8" stroke="#222" stroke-width="0.8"/>
<text x="175.3" y="324.3" font-size="2.9" fill="#444" text-anchor="middle">100K</text>
<path d="M175.3 319.1v1.8" stroke="#222" stroke-width="0.8"/>
<text x="188.4" y="324.3" font-size="2.9" fill="#444" text-anchor="middle">150K</text>
<path d="M188.4 319.1v1.8" stroke="#222" stroke-width="0.8"/>
<text x="201.5" y="324.3" font-size="2.9" fill="#444" text-anchor="middle">200K</text>
<path d="M201.5 319.1v1.8" stroke="#222" stroke-width="0.8"/>
<text x="214.6" y="324.3" font-size="2.9" fill="#444" text-anchor="middle">250K</text>
<path d="M214.6 319.1v1.8" stroke="#222" stroke-width="0.8"/>
<path transform="scale(.1)" d="M1610 3044h8M1572 3081h8M1639 3080h8M1545 3086h8M1559 3105h8M1587 3116h8M1591 3059h8M1551 3073h8M1608 3104h8M1603 3065h8M1610 3051h8M1610 3065h8M1640 3100h8M1606 3060h8M1612 3087h8M1579 3068h8M1633 3072h8M1608 3108h8M1550 3116h8M1625 3067h8M1566 3056h8M1623 3029h8M1623 3083h8M1574 3070h8M1584 3075h8M1622 3063h8M1628 3100h8M1587 3092h8M1579 3081h8M1610 3119h8M1593 3077h8M1596 3076h8M1563 3118h8M1576 3068h8M1574 3094h8M1684 3141h8M1625 3087h8M1594 3060h8M1617 3078h8M1658 3075h8M1565 3043h8M1541 3092h8M1605 3057h8M1549 3086h8M1584 3085h8M1594 3064h8M1543 3083h8M1598 3084h8M1624 3099h8M1580 3092h8M1529 3094h8M1594 3101h8M1625 3061h8M1591 3103h8M1579 3081h8M1577 3092h8M1604 3063h8M1552 3035h8M1621 3071h8M1574 3069h8M1567 3094h8M1614 3035h8M1594 3082h8M1585 3082h8M1646 3086h8M1631 3101h8M1549 3116h8M1602 3074h8M1621 3125h8M1571 3066h8M1606 3044h8M1561 3081h8M1618 3091h8M1621 3102h8M1582 3073h8M1586 3073h8M1629 3098h8M1532 3090h8M1563 3057h8M1635 3107h8M1631 3094h8M1651 3057h8M1621 3066h8M1577 3047h8M1642 3116h8M1622 3068h8M1601 3059h8M1587 3111h8M1645 3094h8M1619 3078h8M1607 3077h8M1610 3067h8M1626 3076h8M1602 3078h8M1642 3099h8M1571 3061h8M1613 3083h8M1588 3085h8M1646 3079h8M1639 3070h8M1588 3087h8M1593 3070h8M1563 3073h8M1583 3080h8M1628 3091h8M1631 3085h8M1609 3093h8M1618 3101h8M1579 3089h8M1602 3105h8M1621 3069h8M1609 3095h8M1597 3106h8M1604 3055h8M1605 3096h8M1571 3095h8M1512 3122h8M1553 3071h8M1586 3052h8M1605 3062h8M1555 3034h8M1617 3104h8M1587 3085h8M1644 3088h8M1631 3101h8M1618 3091h8M1632 3085h8M1600 3066h8M1533 3062h8M1586 3102h8M1585 3041h8M1617 3106h8M1606 3087h8M1605 3079h8M1639 3064h8M1573 3051h8M1581 3067h8M1576 3085h8M1628 3053h8M1600 3067h8M1576 3072h8M1607 3048h8M1642 3079h8M1574 3048h8M1629 3095h8M1623 3084h8M1649 3113h8M1662 3088h8M1625 3073h8M1600 3074h8M1598 3082h8M1597 3081h8M1601 3072h8M1575 3071h8M1616 3095h8M1629 3130h8M1565 3098h8M1556 3069h8M1571 3082h8M1636 3112h8M1607 3100h8M1609 3056h8M1647 3068h8M1580 3079h8M1567 3068h8M1619 3061h8M1576 3046h8M1538 3087h8M1609 3073h8M1648 3060h8M1612 3066h8M1595 3091h8M1554 3108h8M1593 3082h8M1591 3088h8M1558 3056h8M1607 3076h8M1584 3087h8M1643 3060h8M1521 3074h8M1543 3076h8M1567 3081h8M1653 3079h8M1544 3058h8M1563 3051h8M1610 3084h8M1627 3097h8M1592 3069h8M1580 3080h8M1575 3048h8M1667 3109h8M1587 3071h8M1585 3089h8M1586 3036h8M1604 3091h8M1554 3051h8M1593 3058h8M1627 3098h8M1543 3090h8M1551 3066h8M1636 3075h8M1615 3072h8M1657 3080h8M1689 3092h8M1585 3082h8M1588 3112h8M1564 3099h8M1641 3103h8M1555 3107h8M1622 3104h8M1565 3084h8M1632 3083h8M1602 3072h8M1591 3081h8M1674 3078h8M1580 3059h8M1609 3084h8M1580 3046h8M1655 3077h8M1574 3086h8M1568 3075h8M1535 3068h8M1514 3096h8M1593 3074h8M1594 3051h8M1593 3079h8M1620 3064h8M1577 3077h8M1600 3081h8M1601 3096h8M1601 3086h8M1588 3049h8M1611 3071h8M1590 3053h8M1647 3102h8M1583 3090h8M1623 3122h8M1600 3099h8M1568 3075h8M1588 3073h8M1559 3091h8M1565 3061h8M1590 3108h8M1629 3076h8M1560 3050h8M1595 3096h8M1620 3077h8M1569 3089h8M1633 3079h8M1609 3073h8M1587 3109h8M1577 3107h8M1583 3080h8M1620 3094h8M1577 3077h8M1595 3081h8M1592 3097h8M1564 3097h8M1624 3055h8M1594 3064h8M1547 3081h8M1612 3071h8M1605 3081h8M1534 3076h8M1625 3109h8M1557 3049h8M1607 3074h8M1599 3070h8M1617 3094h8M1584 3081h8M1592 3092h8M1604 3087h8M1616 3082h8M1580 3098h8M1581 3054h8M1569 3081h8M1580 3071h8M1601 3089h8M1587 3070h8M1600 3098h8M1555 3069h8M1561 3065h8M1618 3121h8M1593 3060h8M1564 3096h8M1627 3100h8M1618 3069h8M1572 3080h8M1620 3070h8M1565 3104h8M1550 3111h8M1561 3094h8M1581 3105h8M1581 3082h8M1609 3072h8M1555 3066h8M1569 3083h8M1657 3083h8M1568 3066h8M1567 3058h8M1635 3032h8M1567 3078h8M1552 3113h8M1584 3081h8M1582 3075h8M1570 3104h8M1567 3064h8M1615 3056h8M1649 3073h8M1590 3115h8M1549 3117h8M1572 3066h8M1621 3115h8M1592 3083h8M1596 3078h8M1602 3081h8M1571 3060h8M1525 3085h8M1575 3083h8M1609 3080h8M1615 3084h8M1626 3077h8M1577 3095h8M1560 3104h8M1579 3068h8M1615 3114h8M1562 3071h8M1620 3132h8M1529 3072h8M1575 3055h8M1661 3087h8M1602 3074h8M1634 3095h8M1585 3069h8M1609 3079h8M1564 3070h8M1573 3106h8M1547 3092h8M1596 3077h8M1578 3102h8M1583 3106h8M1609 3082h8M1574 3079h8M1603 3100h8M1559 3064h8M1566 3066h8M1540 3096h8M1637 3048h8M1637 3070h8M1610 3110h8M1590 3097h8M1589 3083h8M1577 3085h8M1598 3101h8M1597 3051h8M1576 3109h8M1572 3090h8M1574 3089h8M1640 3123h8M1559 3063h8M1568 3065h8M1592 3078h8M1629 3090h8M1590 3081h8M1601 3097h8M1651 3072h8M1624 3085h8M1585 3089h8M1572 3139h8M1616 3072h8M1598 3070h8M1586 3074h8M1570 3059h8M1634 3079h8M1614 3072h8M1580 3070h8M1673 3104h8M1623 3083h8M1587 3092h8M1626 3054h8M1566 3097h8M1600 3074h8M1562 3048h8M1566 3065h8M1595 3092h8M1608 3097h8M1583 3114h8M1603 3089h8M1605 3059h8M1637 3104h8M1623 3085h8M1565 3094h8M1600 3126h8M1572 3071h8M1576 3065h8M1557 3070h8M1596 3120h8M1653 3106h8M1563 3091h8M1623 3095h8M1575 3104h8M1590 3072h8M1652 3099h8M1607 3109h8M1589 3045h8M1638 3081h8M1599 3076h8M1657 3082h8M1579 3051h8M1600 3053h8M1600 3091h8M1639 3083h8M1547 3027h8M1596 3091h8M1543 3113h8M1600 3121h8M1562 3054h8M1636 3104h8M1555 3099h8M1619 3085h8M1573 3074h8M1581 3078h8M1593 3108h8M1556 3129h8M1578 3093h8M1560 3097h8M1562 3131h8M1607 3105h8M1611 3069h8M1599 3104h8M1629 3048h8M1624 3055h8M1654 3101h8M1598 3083h8M1589 3080h8M1614 3084h8M1619 3078h8M1638 3042h8M1597 3089h8M1604 3108h8M1585 3064h8M1597 3072h8M1623 3083h8M1564 3047h8M1657 3066h8M1636 3075h8M1586 3083h8M1534 3061h8M1603 3058h8M1563 3053h8M1643 3079h8M1531 3053h8M1596 3080h8M1619 3076h8M1620 3080h8M1597 3081h8M1605 3062h8M1631 3101h8M1603 3098h8M1573 3090h8M1593 3067h8M1608 3060h8M1571 3088h8M1614 3073h8M1575 3088h8M1600 3083h8M1572 3047h8M1582 3100h8M1599 3074h8M1588 3112h8M1595 3095h8M1571 3077h8M1600 3085h8M1649 3076h8M1596 3090h8M1558 3077h8M1622 3072h8M1634 3108h8M1608 3092h8M1606 3120h8M1624 3076h8M1563 3057h8M1543 3090h8M1576 3110h8M1603 3090h8M1605 3090h8M1617 3077h8M1592 3077h8M1629 3056h8M1550 3028h8M1645 3087h8M1647 3113h8M1621 3081h8M1563 3073h8M1598 3073h8M1599 3078h8M1645 3070h8M1605 3081h8M1605 3086h8M1605 3092h8M1560 3077h8M1595 3138h8M1565 3067h8M1615 3056h8M1635 3053h8M1556 3112h8M1590 3077h8M1572 3106h8M1580 3051h8M1602 3048h8M1614 3071h8M1647 3057h8M1603 3067h8M1547 3056h8M1607 3069h8M1632 3086h8M1627 3092h8M1606 3087h8M1625 3061h8M1629 3089h8M1586 3101h8M1597 3038h8M1599 3080h8M1609 3075h8M1616 3055h8M1558 3066h8M1547 3101h8M1619 3076h8M1597 3101h8M1569 3098h8M1620 3073h8M1617 3073h8M1561 3104h8M1567 3041h8M1576 3069h8M1603 3066h8M1622 3082h8M1600 3079h8M1624 3056h8M1574 3056h8M1605 3102h8M1652 3080h8M1566 3090h8M1570 3089h8M1581 3090h8M1601 3078h8M1620 3102h8M1621 3055h8M1617 3098h8M1655 3076h8M1605 3136h8M1612 3080h8M1607 3069h8M1624 3086h8M1643 3076h8M1619 3115h8M1578 3113h8M1553 3072h8M1552 3080h8M1540 3053h8M1537 3081h8M1582 3079h8M1549 3053h8M1567 3089h8M1579 3069h8M1601 3103h8M1621 3094h8M1563 3088h8M1558 3088h8M1606 3040h8M1554 3092h8M1591 3093h8M1571 3082h8M1579 3107h8M1578 3076h8M1514 3047h8M1595 3112h8M1571 3107h8M1669 3054h8M1609 3067h8M1604 3072h8M1613 3053h8M1624 3077h8M1622 3066h8M1654 3103h8M1618 3104h8M1578 3053h8M1553 3040h8M1591 3074h8M1528 3061h8M1606 3060h8M1546 3072h8M1597 3074h8M1589 3100h8M1638 3083h8M1577 3069h8M1528 3050h8M1576 3083h8M1552 3088h8M1616 3106h8M1592 3078h8M1588 3080h8M1575 3074h8M1618 3094h8M1590 3075h8M1601 3060h8M1560 3070h8M1581 3081h8M1618 3086h8M1637 3079h8M1630 3094h8M1573 3079h8M1569 3039h8M1632 3076h8M1642 3050h8M1584 3102h8M1613 3112h8M1635 3063h8M1567 3109h8M1580 3088h8M1574 3086h8M1601 3079h8M1611 3062h8M1652 3085h8M1584 3088h8M1576 3061h8M1569 3086h8M1625 3117h8M1604 3085h8M1550 3086h8M1550 3117h8M1620 3060h8M1648 3047h8M1603 3094h8M1620 3074h8M1643 3069h8M1570 3056h8M1578 3043h8M1584 3073h8M1610 3084h8M1596 3068h8M1620 3081h8M1589 3117h8M1595 3079h8M1565 3099h8M1570 3127h8M1600 3073h8M1573 3124h8M1612 3079h8M1606 3111h8M1578 3087h8M1575 3053h8M1628 3083h8M1570 3075h8M1592 3122h8M1605 3083h8M1585 3082h8M1611 3097h8M1532 3077h8M1598 3094h8M1566 3071h8M1605 3085h8M1574 3053h8M1600 3092h8M1617 3093h8M1631 3059h8M1618 3050h8M1590 3081h8M1602 3084h8M1623 3072h8M1605 3064h8M1621 3102h8M1625 3115h8M1566 3079h8M1570 3105h8M1584 3095h8M1620 3058h8M1638 3100h8M1575 3085h8M1598 3115h8M1608 3107h8M1609 3098h8M1577 3073h8M1626 3084h8M1588 3075h8M1570 3086h8M1592 3073h8M1602 3084h8M1609 3053h8M1600 3051h8M1620 3077h8M1639 3081h8M1601 3091h8M1633 3096h8M1605 3070h8M1560 3119h8M1589 3010h8M1596 3109h8M1626 3080h8M1574 3084h8M1591 3084h8M1605 3072h8M1576 3085h8M1567 3079h8M1619 3054h8M1626 3064h8M1649 3086h8M1598 3116h8M1586 3067h8M1640 3072h8M1571 3081h8M1599 3087h8M1618 3083h8M1605 3122h8M1564 3130h8M1578 3081h8M1688 3106h8M1620 3100h8M1580 3065h8M1615 3101h8M1562 3083h8M1604 3090h8M1576 3088h8M1586 3055h8M1566 3094h8M1579 3044h8M1629 3072h8M1570 3086h8M1570 3079h8M1637 3078h8M1547 3081h8M1597 3063h8M1579 3048h8M1574 3102h8M1591 3074h8M1591 3061h8M1563 3108h8M1596 3082h8M1573 3077h8M1616 3073h8M1609 3062h8M1619 3048h8M1608 3049h8M1653 3058h8M1552 3048h8M1597 3089h8M1611 3057h8M1592 3078h8M1614 3112h8M1626 3113h8M1641 3066h8M1628 3101h8M1603 3077h8M1585 3084h8M1610 3074h8M1624 3051h8M1616 3032h8M1602 3073h8M1600 3062h8M1622 3077h8M1590 3104h8M1559 3095h8M1565 3087h8M1516 3057h8M1544 3093h8M1588 3063h8M1613 3102h8M1570 3083h8M1564 3080h8M1563 3089h8M1634 3065h8M1634 3060h8M1572 3083h8M1579 3052h8M1609 3082h8M1618 3075h8M1655 3080h8M1639 3074h8M1602 3063h8M1570 3100h8M1616 3089h8M1574 3066h8M1549 3039h8M1674 3078h8M1573 3101h8M1583 3089h8M1624 3082h8M1596 3062h8M1580 3084h8M1595 3122h8M1624 3032h8M1575 3078h8M1576 3073h8M1587 3097h8M1584 3048h8M1589 3118h8M1605 3070h8M1628 3090h8M1644 3156h8M1611 3107h8M1631 3094h8M1587 3094h8M1572 3083h8M1571 3043h8M1591 3099h8M1532 3082h8M1612 3088h8M1626 3118h8M1575 3114h8M1637 3049h8M1569 3087h8M1584 3101h8M1610 3067h8M1650 3067h8M1608 3093h8M1585 3069h8M1622 3085h8M1571 3087h8M1557 3063h8M1634 3066h8M1597 3073h8M1578 3060h8M1595 3084h8M1611 3077h8M1611 3092h8M1611 3104h8M1573 3081h8M1540 3084h8M1520 3080h8M1596 3065h8M1574 3078h8M1604 3087h8M1597 3066h8M1606 3077h8M1586 3064h8M1620 3101h8M1587 3063h8M1587 3090h8M1576 3063h8M1643 3069h8M1558 3051h8M1628 3073h8M1580 3077h8M1568 3081h8M1676 3086h8M1614 3082h8M1590 3120h8M1589 3130h8M1574 3065h8M1571 3097h8M1591 3049h8M1617 3097h8M1607 3083h8M1584 3069h8M1582 3128h8M1618 3089h8M1575 3103h8M1595 3063h8M1584 3118h8M1561 3066h8M1617 3077h8M1558 3090h8M1593 3084h8M1588 3098h8M1563 3039h8M1572 3092h8M1534 3074h8M1594 3071h8M1598 3057h8M1611 3090h8M1619 3085h8M1576 3107h8M1610 3106h8M1536 3056h8M1573 3069h8M1555 3073h8M1625 3084h8M1592 3077h8M1604 3087h8M1599 3074h8M1583 3126h8M1627 3065h8M1574 3081h8M1588 3076h8M1629 3061h8M1537 3047h8M1554 3062h8M1589 3107h8M1562 3050h8M1617 3077h8M1636 3093h8M1595 3079h8M1575 3107h8M1615 3075h8M1594 3095h8M1588 3107h8M1611 3062h8M1581 3097h8M1583 3086h8M1603 3096h8M1601 3065h8M1608 3080h8M1614 3083h8M1598 3070h8M1604 3119h8M1603 3110h8M1573 3118h8M1548 3101h8M1580 3077h8M1573 3097h8M1512 3061h8M1607 3081h8M1574 3077h8M1595 3101h8M1629 3109h8M1627 3029h8M1609 3048h8M1630 3098h8M1577 3097h8M1595 3060h8M1580 3069h8M1609 3080h8M1604 3098h8M1618 3102h8M1550 3087h8M1596 3099h8M1538 3109h8M1580 3087h8M1597 3053h8M1635 3109h8M1605 3108h8M1626 3089h8M1605 3097h8M1595 3084h8M1545 3063h8M1624 3076h8M1638 3088h8M1598 3036h8M1617 3057h8M1604 3093h8M1589 3072h8M1602 3089h8M1629 3072h8M1576 3107h8M1567 3087h8M1593 3053h8M1538 3054h8M1597 3095h8M1576 3090h8M1571 3105h8M1550 3111h8M1594 3091h8M1632 3079h8M1623 3061h8M1611 3078h8M1628 3091h8M1562 3089h8M1627 3061h8M1607 3087h8M1573 3066h8M1575 3076h8M1626 3075h8M1571 3092h8M1664 3086h8M1564 3107h8M1565 3069h8M1620 3071h8M1581 3084h8M1549 3062h8M1596 3051h8M1571 3090h8M1623 3027h8M1590 3095h8M1621 3093h8M1561 3067h8M1585 3087h8M1529 3097h8M1641 3061h8M1609 3034h8M1594 3058h8M1529 3090h8M1600 3077h8M1569 3090h8M1602 3076h8M1595 3118h8M1567 3104h8M1578 3070h8M1578 3080h8M1602 3126h8M1637 3063h8M1595 3040h8M1505 3060h8M1575 3049h8M1633 3056h8M1603 3084h8M1618 3107h8M1588 3071h8M1613 3128h8M1588 3067h8M1605 3073h8M1586 3056h8M1585 3093h8M1591 3112h8M1593 3080h8M1583 3110h8M1624 3088h8M1574 3069h8M1530 3089h8M1571 3100h8M1589 3059h8M1599 3082h8M1573 3095h8M1546 3100h8M1598 3085h8M1597 3085h8M1582 3077h8M1615 3083h8M1572 3049h8M1623 3074h8M1561 3045h8M1600 3043h8M1636 3063h8M1611 3042h8M1561 3092h8M1596 3075h8M1602 3109h8M1586 3087h8M1585 3051h8M1536 3114h8M1609 3071h8M1627 3037h8M1586 3111h8M1594 3089h8M1538 3091h8M1603 3067h8M1607 3077h8M1556 3098h8M1629 3078h8M1611 3102h8M1677 3072h8M1582 3072h8M1582 3082h8M1589 3099h8M1623 3098h8M1572 3057h8M1635 3050h8M1569 3075h8M1638 3067h8M1557 3092h8M1607 3097h8M1635 3084h8M1592 3067h8M1590 3078h8M1632 3063h8M1640 3066h8M1621 3060h8M1607 3073h8M1622 3064h8M1557 3084h8M1566 3076h8M1592 3099h8M1607 3097h8M1620 3061h8M1598 3105h8M1592 3095h8M1568 3061h8M1594 3055h8M1569 3068h8M1601 3058h8M1577 3103h8M1626 3067h8M1652 3111h8M1612 3090h8M1560 3074h8M1665 3070h8M1507 3116h8M1546 3094h8M1649 3096h8M1615 3063h8M1572 3056h8M1651 3057h8M1608 3091h8M1621 3057h8M1623 3097h8M1612 3098h8M1557 3048h8M1672 3077h8M1585 3095h8M1666 3082h8M1585 3043h8M1601 3108h8M1564 3063h8M1595 3103h8M1611 3110h8M1546 3095h8M1568 3055h8M1679 3106h8M1575 3133h8M1538 3073h8M1677 3035h8M1699 3054h8M1638 3117h8M1646 3078h8M1635 3089h8M1600 3070h8M1687 3046h8M1609 3073h8M1616 3096h8M1692 3087h8M1695 3099h8M1642 3031h8M1656 3058h8M1704 3094h8M1686 3065h8M1658 3106h8M1619 3115h8M1585 3102h8M1677 3108h8M1739 3099h8M1675 3098h8M1713 3058h8M1643 3109h8M1658 3075h8M1636 3061h8M1701 3080h8M1591 3079h8M1572 3091h8M1686 3125h8M1624 3086h8M1671 3073h8M1715 3092h8M1625 3052h8M1602 3088h8M1560 3098h8M1554 3067h8M1676 3057h8M1634 3088h8M1626 3080h8M1736 3088h8M1614 3029h8M1710 3100h8M1619 3059h8M1607 3100h8M1695 3097h8M1658 3036h8M1624 3048h8M1644 3073h8M1644 3057h8M1707 3110h8M1682 3054h8M1621 3080h8M1633 3079h8M1656 3085h8M1600 3094h8M1600 3079h8M1683 3081h8M1726 3097h8M1719 3085h8M1568 3102h8M1626 3076h8M1757 3093h8M1659 3063h8M1671 3076h8M1624 3115h8M1679 3067h8M1723 3065h8M1674 3077h8M1637 3077h8M1654 3095h8M1671 3066h8M1692 3104h8M1684 3082h8M1597 3088h8M1529 3099h8M1643 3075h8M1661 3099h8M1626 3119h8M1544 3080h8M1620 3061h8M1603 3076h8M1630 3124h8M1720 3099h8M1577 3062h8M1642 3088h8M1650 3087h8M1628 3065h8M1632 3094h8M1726 3076h8M1625 3060h8M1665 3082h8M1559 3076h8M1733 3077h8M1692 3077h8M1627 3087h8M1718 3086h8M1580 3087h8M1628 3103h8M1598 3077h8M1569 3094h8M1665 3052h8M1657 3065h8M1591 3090h8M1559 3080h8M1663 3088h8M1635 3084h8M1675 3101h8M1601 3114h8M1529 3082h8M1679 3061h8M1655 3096h8M1664 3081h8M1673 3061h8M1594 3079h8M1604 3062h8M1677 3082h8M1619 3091h8M1650 3061h8M1712 3057h8M1685 3056h8M1666 3068h8M1675 3075h8M1657 3087h8M1641 3067h8M1646 3097h8M1640 3104h8M1716 3097h8M1705 3095h8M1648 3081h8M1741 3087h8M1620 3055h8M1668 3053h8M1678 3065h8M1654 3054h8M1660 3087h8M1592 3072h8M1633 3047h8M1662 3067h8M1601 3102h8M1642 3090h8M1632 3065h8M1631 3051h8M1600 3094h8M1631 3103h8M1658 3080h8M1670 3073h8M1756 3077h8M1624 3091h8M1694 3112h8M1699 3079h8M1630 3065h8M1595 3096h8M1634 3097h8M1622 3084h8M1586 3057h8M1681 3054h8M1760 3060h8M1700 3094h8M1684 3092h8M1614 3075h8M1598 3076h8M1705 3073h8M1667 3103h8M1679 3066h8M1681 3071h8M1684 3054h8M1669 3064h8M1619 3085h8M1746 3060h8M1653 3114h8M1720 3061h8M1703 3056h8M1705 3096h8M1574 3108h8M1633 3098h8M1594 3070h8M1572 3083h8M1714 3087h8M1677 3092h8M1637 3083h8M1732 3098h8M1698 3039h8M1607 3087h8M1651 3066h8M1697 3070h8M1712 3098h8M1660 3102h8M1647 3056h8M1596 3059h8M1660 3114h8M1653 3103h8M1648 3061h8M1647 3077h8M1653 3061h8M1662 3071h8M1530 3055h8M1690 3070h8M1657 3078h8M1689 3078h8M1628 3068h8M1584 3061h8M1664 3097h8M1688 3078h8M1792 3100h8M1619 3056h8M1684 3074h8M1623 3085h8M1732 3093h8M1736 3103h8M1617 3105h8M1682 3084h8M1620 3065h8M1655 3093h8M1667 3098h8M1692 3078h8M1721 3069h8M1642 3098h8M1587 3045h8M1737 3059h8M1685 3064h8M1605 3070h8M1656 3056h8M1616 3095h8M1697 3086h8M1688 3081h8M1699 3091h8M1607 3125h8M1685 3076h8M1664 3095h8M1626 3056h8M1580 3084h8M1591 3089h8M1558 3079h8M1677 3075h8M1685 3075h8M1611 3084h8M1645 3058h8M1683 3052h8M1681 3082h8M1616 3099h8M1631 3053h8M1614 3110h8M1618 3048h8M1637 3078h8M1661 3076h8M1634 3102h8M1660 3080h8M1741 3087h8M1655 3041h8M1630 3089h8M1734 3110h8M1718 3055h8M1643 3076h8M1627 3061h8M1657 3075h8M1608 3064h8M1670 3096h8M1676 3080h8M1666 3078h8M1683 3070h8M1707 3060h8M1671 3101h8M1717 3095h8M1638 3094h8M1655 3070h8M1656 3097h8M1705 3095h8M1627 3081h8M1581 3099h8M1644 3063h8M1601 3079h8M1660 3077h8M1640 3067h8M1596 3065h8M1656 3090h8M1638 3064h8M1720 3104h8M1615 3060h8M1732 3097h8M1668 3056h8M1675 3117h8M1603 3095h8M1677 3134h8M1671 3077h8M1664 3092h8M1599 3101h8M1660 3100h8M1654 3034h8M1610 3065h8M1589 3065h8M1604 3075h8M1655 3079h8M1613 3085h8M1703 3060h8M1653 3056h8M1620 3087h8M1653 3045h8M1657 3060h8M1694 3083h8M1706 3098h8M1535 3089h8M1630 3091h8M1551 3090h8M1641 3053h8M1668 3073h8M1662 3052h8M1677 3041h8M1679 3092h8M1711 3056h8M1671 3098h8M1679 3069h8M1594 3083h8M1661 3094h8M1672 3075h8M1556 3075h8M1720 3049h8M1616 3082h8M1600 3042h8M1670 3078h8M1590 3045h8M1643 3103h8M1699 3076h8M1727 3076h8M1612 3109h8M1669 3073h8M1599 3096h8M1647 3085h8M1678 3071h8M1634 3065h8M1696 3068h8M1674 3114h8M1640 3114h8M1676 3081h8M1635 3125h8M1682 3059h8M1652 3085h8M1691 3098h8M1676 3053h8M1652 3069h8M1628 3057h8M1666 3073h8M1764 3088h8M1608 3086h8M1677 3081h8M1603 3061h8M1654 3099h8M1679 3080h8M1763 3050h8M1707 3073h8M1651 3074h8M1533 3090h8M1699 3070h8M1600 3116h8M1674 3068h8M1639 3069h8M1661 3101h8M1671 3090h8M1601 3068h8M1737 3071h8M1717 3120h8M1708 3096h8M1720 3066h8M1701 3079h8M1545 3066h8M1698 3058h8M1660 3105h8M1637 3073h8M1637 3067h8M1595 3085h8M1566 3060h8M1627 3055h8M1670 3075h8M1645 3094h8M1612 3095h8M1673 3076h8M1683 3121h8M1683 3088h8M1646 3096h8M1596 3083h8M1665 3059h8M1698 3135h8M1699 3059h8M1647 3083h8M1654 3115h8M1690 3124h8M1688 3088h8M1670 3067h8M1627 3120h8M1689 3119h8M1672 3064h8M1605 3035h8M1719 3080h8M1670 3054h8M1655 3073h8M1609 3109h8M1587 3035h8M1656 3071h8M1620 3086h8M1596 3070h8M1686 3094h8M1758 3077h8M1806 3066h8M1672 3077h8M1812 3114h8M1732 3077h8M1778 3088h8M1857 3104h8M1695 3083h8M1692 3062h8M1584 3103h8M1646 3066h8M1715 3054h8M1720 3086h8M1809 3100h8M1652 3065h8M1847 3098h8M1832 3075h8M1748 3063h8M1699 3071h8M1813 3055h8M1687 3068h8M1712 3062h8M1770 3049h8M1837 3089h8M1881 3111h8M1775 3084h8M1870 3115h8M1758 3024h8M1871 3081h8M1711 3076h8M1834 3072h8M1841 3109h8M1704 3045h8M1622 3079h8M1870 3077h8M1830 3112h8M1882 3091h8M1857 3080h8M1641 3073h8M1857 3097h8M1805 3078h8M1727 3063h8M1711 3078h8M1731 3045h8M1666 3061h8M1889 3076h8M1748 3079h8M1692 3040h8M1742 3114h8M1732 3063h8M1828 3093h8M1741 3066h8M1850 3086h8M1680 3071h8M1765 3081h8M1801 3094h8M1737 3084h8M1768 3077h8M1784 3085h8M1804 3060h8M1806 3064h8M1717 3081h8M1769 3082h8M1850 3019h8M1836 3048h8M1686 3092h8M1767 3028h8M1670 3064h8M1903 3126h8M1706 3051h8M1855 3079h8M1745 3083h8M1770 3102h8M1746 3088h8M1875 3092h8M1837 3063h8M1686 3108h8M1717 3066h8M1798 3081h8M1811 3084h8M1802 3116h8M1867 3089h8M1628 3070h8M1665 3071h8M1751 3072h8M1802 3084h8M1796 3097h8M1738 3060h8M1737 3046h8M1843 3071h8M1745 3103h8M1753 3089h8M1780 3095h8M1772 3116h8M1743 3079h8M1772 3079h8M1764 3065h8M1745 3078h8M1774 3084h8M1802 3073h8M1906 3077h8M1767 3074h8M1872 3066h8M1830 3047h8M1768 3064h8M1722 3072h8M1745 3085h8M1624 3065h8M1703 3062h8M1766 3020h8M1766 3036h8M1953 3077h8M1779 3108h8M1853 3089h8M1685 3076h8M1755 3117h8M1752 3095h8M1715 3074h8M1758 3075h8M1750 3055h8M1705 3110h8M1770 3050h8M1814 3063h8M1707 3085h8M1739 3089h8M1848 3091h8M1853 3030h8M1740 3038h8M1725 3048h8M1808 3093h8M1755 3057h8M1619 3067h8M1731 3075h8M1713 3119h8M1819 3094h8M1774 3084h8M1765 3073h8M1880 3066h8M1757 3122h8M1667 3106h8M1669 3069h8M1766 3056h8M1992 3073h8M1825 3063h8M1920 3064h8M1893 3086h8M1749 3111h8M1731 3093h8M1759 3077h8M1706 3064h8M1771 3066h8M1765 3045h8M1810 3075h8M1734 3129h8M1730 3090h8M1729 3073h8M1852 3075h8M1803 3104h8M1871 3056h8M1772 3063h8M1801 3064h8M1745 3039h8M1785 3057h8M1882 3078h8M1831 3070h8M1793 3073h8M1765 3078h8M1819 3078h8M1808 3057h8M1676 3105h8M1616 3092h8M1675 3064h8M1619 3090h8M1720 3139h8M1733 3096h8M1781 3068h8M1739 3091h8M1887 3081h8M1873 3092h8M1856 3064h8M1766 3061h8M1716 3113h8M1909 3047h8M1833 3051h8M1699 3021h8M1756 3061h8M1694 3048h8M1654 3096h8M1833 3119h8M1826 3024h8M1788 3047h8M1821 3060h8M1817 3068h8M1828 3130h8M1795 3071h8M1737 3086h8M1710 3097h8M1734 3058h8M1666 3109h8M1667 3088h8M1849 3067h8M1914 3085h8M1922 3049h8M1963 3083h8M1863 3070h8M1870 3106h8M1862 3074h8M1921 3084h8M1961 3073h8M1879 3068h8M1857 3086h8M1900 3087h8M1808 3040h8M1993 3079h8M1904 3042h8M1952 3029h8M1917 3071h8M1979 3056h8M1821 3039h8M1914 3102h8M1907 3086h8M1768 3049h8M1899 3065h8M1898 3064h8M1967 3075h8M1898 3067h8M1964 3037h8M1858 3079h8M1855 3103h8M1915 3052h8M1845 3078h8M1910 3086h8M2001 3102h8M1895 3058h8M1963 3047h8M1954 3059h8M2044 3077h8M1902 3069h8M1949 3081h8M1874 3082h8M1939 3057h8M1892 3081h8M1818 3090h8M1904 3080h8M1989 3046h8M1573 3002h8M1585 2915h8M1596 3041h8M1616 2953h8M1594 2961h8M1593 2974h8M1578 2966h8M1607 2945h8M1607 2952h8M1617 2968h8M1591 2863h8M1585 3042h8M1582 2869h8M1619 2986h8M1605 2897h8M1594 2966h8M1641 2997h8M1609 2962h8M1579 2948h8M1588 2899h8M1567 3002h8M1615 2940h8M1578 2976h8M1591 2927h8M1625 2999h8M1622 2898h8M1605 2965h8M1580 2950h8M1559 2938h8M1615 2905h8M1594 2933h8M1581 2934h8M1578 2922h8M1603 2914h8M1583 2949h8M1593 2889h8M1586 2926h8M1613 2937h8M1563 2963h8M1587 2989h8M1626 2891h8M1573 2956h8M1587 2980h8M1542 2897h8M1585 2964h8M1590 2977h8M1552 3016h8M1584 3042h8M1622 2913h8M1587 2938h8M1624 2947h8M1605 3010h8M1610 2960h8M1599 2903h8M1590 2896h8M1612 2957h8M1586 2944h8M1612 3001h8M1591 2961h8M1607 2889h8M1575 2947h8M1581 2902h8M1602 2917h8M1553 2960h8M1583 2880h8M1597 3032h8M1597 2893h8M1575 3056h8M1578 2990h8M1595 3059h8M1596 2969h8M1594 2971h8M1577 2970h8M1578 3038h8M1635 2970h8M1609 3064h8M1583 2951h8M1578 3009h8M1604 2978h8M1600 2882h8M1579 2946h8M1629 3004h8M1622 2913h8M1583 2907h8M1596 2951h8M1624 3029h8M1623 2913h8M1548 2886h8M1564 3049h8M1606 2951h8M1586 3003h8M1571 3072h8M1589 3052h8M1575 2992h8M1566 2957h8M1615 2845h8M1603 2898h8M1627 2923h8M1595 2884h8M1586 2896h8M1587 2945h8M1593 2907h8M1613 2966h8M1564 2942h8M1619 2942h8M1597 2993h8M1571 3038h8M1570 3005h8M1596 2961h8M1632 2865h8M1611 2940h8M1614 2885h8M1597 2989h8M1591 3046h8M1623 3014h8M1604 2887h8M1606 2890h8M1600 2970h8M1589 3002h8M1591 2985h8M1603 2900h8M1569 2968h8M1601 2994h8M1581 3017h8M1586 2962h8M1592 3049h8M1554 2913h8M1585 2952h8M1589 2871h8M1604 2969h8M1635 2921h8M1624 2856h8M1609 2943h8M1570 2992h8M1587 2947h8M1598 2896h8M1604 2897h8M1594 2887h8M1588 2983h8M1579 2975h8M1614 3026h8M1609 3068h8M1598 2989h8M1579 2936h8M1606 2927h8M1584 3013h8M1601 2975h8M1590 2970h8M1609 2825h8M1585 2950h8M1596 2939h8M1602 2925h8M1603 2947h8M1598 2948h8M1581 2941h8M1612 2992h8M1597 2959h8M1597 2900h8M1603 3003h8M1633 3021h8M1597 2968h8M1604 2975h8M1577 2954h8M1616 3044h8M1608 2872h8M1599 2995h8M1585 2914h8M1583 2938h8M1591 2920h8M1619 2900h8M1629 3047h8M1588 2973h8M1594 2954h8M1589 2950h8M1633 2961h8M1593 3019h8M1607 2964h8M1592 2966h8M1567 3077h8M1589 2897h8M1600 2970h8M1595 2949h8M1590 2914h8M1609 2882h8M1608 2971h8M1587 2915h8M1609 2979h8M1597 2887h8M1611 2973h8M1623 2996h8M1583 2980h8M1572 2965h8M1562 3058h8M1612 2886h8M1594 2907h8M1621 2893h8M1602 2973h8M1572 2911h8M1605 2981h8M1571 2976h8M1629 3038h8M1588 2919h8M1557 3079h8M1591 2881h8M1625 3015h8M1584 2873h8M1604 3001h8M1602 2999h8M1584 2965h8M1582 2940h8M1590 2958h8M1590 3008h8M1556 2979h8M1595 2939h8M1602 2959h8M1587 2935h8M1577 3037h8M1625 2882h8M1588 2927h8M1597 2957h8M1640 2800h8M1603 2807h8M1584 2876h8M1615 2864h8M1622 2824h8M1644 2790h8M1604 2896h8M1596 2856h8M1625 2847h8M1641 2917h8M1615 2839h8M1621 2822h8M1635 2759h8M1653 2878h8M1622 2920h8M1595 2850h8M1616 2780h8M1584 2799h8M1598 2899h8M1613 2904h8M1616 2859h8M1594 2874h8M1599 2846h8M1615 2937h8M1614 2843h8M1607 2852h8M1628 2795h8M1642 2871h8M1596 2795h8M1620 2708h8M1617 2915h8M1622 2743h8M1614 2856h8M1606 2809h8M1593 2841h8M1586 2911h8M1640 2774h8M1620 2796h8M1628 2811h8M1617 2873h8M1566 2850h8M1608 2849h8M1645 2876h8M1624 2788h8M1616 2897h8M1578 2821h8M1585 2946h8M1565 2837h8M1608 2819h8M1629 2793h8M1599 2834h8M1617 2828h8M1628 2751h8M1632 2797h8M1605 2800h8M1618 2851h8M1591 2852h8M1608 2808h8M1638 2808h8M1649 2821h8M1641 2840h8M1641 2872h8M1585 2820h8M1593 2808h8M1625 2899h8M1618 2862h8M1601 2897h8M1600 2790h8M1621 2805h8M1615 2935h8M1634 2825h8M1632 2886h8M1614 2814h8M1597 2911h8M1623 2886h8M1603 2933h8M1627 2878h8M1629 2752h8M1677 2698h8M1617 2836h8M1633 2851h8M1650 2770h8M1581 2863h8M1603 2791h8M1629 2819h8M1625 2834h8M1603 2843h8M1609 2829h8M1577 2803h8M1605 2800h8M1623 2844h8M1612 2878h8M1596 2877h8M1595 2863h8M1578 2959h8M1611 2759h8M1592 2803h8M1579 2820h8M1641 2746h8M1636 2911h8M1619 2909h8M1618 2899h8M1659 2893h8M1642 2830h8M1594 2883h8M1625 2769h8M1603 2854h8M1606 2844h8M1572 2878h8M1623 2806h8M1639 2853h8M1603 2871h8M1637 2786h8M1596 2884h8M1610 2837h8M1627 2850h8M1575 2902h8M1630 2817h8M1642 2788h8M1594 2778h8M1664 2827h8M1631 2784h8M1625 2804h8M1620 2886h8M1616 2871h8M1601 2844h8M1626 2890h8M1538 2846h8M1596 2789h8M1605 2822h8M1657 2877h8M1631 2803h8M1606 2964h8M1637 2852h8M1631 2794h8M1613 2784h8M1579 2903h8M1608 2769h8M1587 2840h8M1556 2841h8M1608 2755h8M1599 2835h8M1606 2875h8M1608 2838h8M1615 2790h8M1610 2789h8M1658 2756h8M1599 2783h8M1607 2876h8M1594 2760h8M1624 2823h8M1621 2848h8M1629 2760h8M1600 2748h8M1647 2871h8M1601 2874h8M1619 2871h8M1616 2871h8M1606 2766h8M1600 2810h8M1604 2815h8M1617 2852h8M1648 2774h8M1642 2793h8M1570 2880h8M1598 2894h8M1633 2887h8M1629 2846h8M1575 2862h8M1608 2768h8M1600 2961h8M1578 2885h8M1675 2831h8M1613 2848h8M1599 2800h8M1623 2836h8M1612 2846h8M1620 2857h8M1574 2890h8M1572 2830h8M1616 2713h8M1604 2826h8M1625 2812h8M1619 2756h8M1588 2912h8M1592 2850h8M1645 2748h8M1644 2849h8M1557 2997h8M1594 2872h8M1626 2853h8M1583 2869h8M1641 2840h8M1600 2870h8M1610 2851h8M1607 2872h8M1598 2813h8M1596 2844h8M1616 2878h8M1630 2885h8M1668 2789h8M1599 2946h8M1598 2861h8M1616 2863h8M1576 2833h8M1599 2838h8M1601 2747h8M1583 2892h8M1643 2651h8M1624 2796h8M1606 2765h8M1601 2786h8M1589 2778h8M1588 2867h8M1659 2841h8M1603 2823h8M1619 2797h8M1655 2891h8M1610 2823h8M1625 2834h8M1638 2834h8M1611 2758h8M1618 2838h8M1596 2886h8M1605 2795h8M1634 2879h8M1595 2880h8M1591 2757h8M1588 2880h8M1602 2934h8M1623 2896h8M1594 2848h8M1617 2826h8M1628 2886h8M1625 2859h8M1627 2796h8M1605 2813h8M1594 2934h8M1622 2784h8M1592 2762h8M1614 2798h8M1646 2710h8M1635 2675h8M1657 2731h8M1656 2708h8M1629 2721h8M1630 2764h8M1614 2722h8M1644 2699h8M1665 2674h8M1645 2641h8M1641 2702h8M1602 2716h8M1635 2722h8M1648 2757h8M1659 2726h8M1618 2768h8M1638 2666h8M1587 2686h8M1676 2663h8M1631 2620h8M1640 2746h8M1650 2795h8M1665 2707h8M1602 2751h8M1615 2713h8M1620 2684h8M1626 2666h8M1653 2705h8M1620 2696h8M1607 2654h8M1614 2706h8M1619 2751h8M1654 2663h8M1632 2733h8M1618 2736h8M1654 2675h8M1628 2638h8M1642 2726h8M1670 2687h8M1607 2714h8M1579 2759h8M1611 2709h8M1647 2593h8M1610 2711h8M1630 2742h8M1626 2686h8M1646 2745h8M1634 2738h8M1618 2677h8M1597 2776h8M1621 2706h8M1649 2675h8M1644 2691h8M1651 2711h8M1619 2720h8M1641 2687h8M1635 2774h8M1610 2809h8M1638 2681h8M1629 2682h8M1638 2700h8M1632 2727h8M1660 2756h8M1614 2703h8M1626 2721h8M1609 2743h8M1640 2641h8M1645 2689h8M1658 2699h8M1619 2666h8M1619 2770h8M1623 2717h8M1623 2745h8M1630 2727h8M1624 2720h8M1640 2695h8M1630 2724h8M1606 2768h8M1650 2721h8M1631 2666h8M1645 2736h8M1632 2766h8M1619 2684h8M1653 2726h8M1625 2702h8M1630 2687h8M1629 2717h8M1648 2735h8M1637 2659h8M1622 2732h8M1641 2768h8M1651 2688h8M1607 2640h8M1625 2747h8M1619 2728h8M1664 2675h8M1647 2726h8M1626 2712h8M1637 2709h8M1639 2683h8M1640 2672h8M1638 2717h8M1620 2688h8M1635 2709h8M1634 2685h8M1635 2663h8M1637 2654h8M1640 2658h8M1655 2709h8M1613 2723h8M1643 2665h8M1653 2753h8M1621 2734h8M1634 2691h8M1664 2717h8M1619 2741h8M1647 2750h8M1646 2722h8M1605 2742h8M1688 2779h8M1667 2885h8M1619 2826h8M1836 2750h8M1616 2815h8M1618 2860h8M1700 3071h8M1681 2697h8M1698 2616h8M1718 2798h8M1611 2905h8M1644 2833h8M1539 2888h8M1659 2755h8M1633 2836h8M1728 2829h8M1614 2811h8M1722 2824h8M1671 2814h8M1719 2877h8M1630 2760h8M1635 2822h8M1687 2888h8M1650 3076h8M1637 2849h8M1664 2767h8M1607 2961h8M1612 2823h8M1676 2664h8M1595 2964h8M1745 2581h8M1735 2666h8M1643 2866h8M1709 2823h8M1706 2745h8M1654 2791h8M1689 2919h8M1669 2790h8M1685 2802h8M1594 2698h8" stroke="#000" stroke-width="8" stroke-opacity="0.5" fill="none"/>
<path transform="scale(.1)" d="M1652 2917h8M1696 2823h8M1731 2980h8M1732 2849h8M1714 2670h8M1516 2570h8M1754 2875h8M1619 2909h8M1645 2630h8M1645 2880h8M1640 2917h8M1701 2778h8M1682 2866h8M1572 2837h8M1750 2962h8M1579 2796h8M1626 2857h8M1709 2689h8M1666 2814h8M1619 2746h8M1636 2755h8M1615 2912h8M1678 2903h8M1646 2817h8M1725 3078h8M1562 2884h8M1621 2615h8M1615 2707h8M1747 2747h8M1614 2720h8M1654 2960h8M1578 2837h8M1664 2875h8M1537 2809h8M1680 2991h8M1726 2783h8M1777 2792h8M1645 2843h8M1643 2716h8M1691 2955h8M1586 2794h8M1666 2853h8M1721 2788h8M1784 2639h8M1735 2708h8M1671 2878h8M1684 2879h8M1634 2686h8M1705 2698h8M1623 2989h8M1585 2965h8M1704 2774h8M1623 2981h8M1750 2796h8M1713 3034h8M1675 2977h8M1631 2741h8M1652 2818h8M1682 3018h8M1690 2657h8M1676 2868h8M1609 2868h8M1635 3123h8M1624 2851h8M1653 2846h8M1760 2778h8M1724 2782h8M1618 2867h8M1635 2803h8M1704 2827h8M1696 2723h8M1645 2942h8M1603 2741h8M1660 2893h8M1654 2857h8M1770 2849h8M1682 2731h8M1674 2827h8M1617 2696h8M1635 2610h8M1720 2913h8M1689 3000h8M1724 2906h8M1731 3079h8M1704 2595h8M1719 3051h8M1689 2788h8M1616 2868h8M1636 2656h8M1612 2981h8M1675 2809h8M1643 2653h8M1716 2601h8M1624 2769h8M1595 2977h8M1592 2699h8M1668 2822h8M1694 2790h8M1708 2668h8M1629 2718h8M1629 2893h8M1667 2822h8M1582 2882h8M1625 2918h8M1604 2800h8M1771 2915h8M1704 2822h8M1742 2667h8M1682 2814h8M1793 2705h8M1679 2858h8M1782 2819h8M1699 2913h8M1692 2746h8M1615 2924h8M1730 2955h8M1606 3038h8M1653 2728h8M1681 2926h8M1510 2738h8M1661 2876h8M1623 2762h8M1616 2801h8M1549 2691h8M1746 2865h8M1733 2780h8M1684 2806h8M1746 2760h8M1544 2911h8M1641 2845h8M1710 2849h8M1764 2792h8M1674 2872h8M1699 2656h8M1549 2743h8M1627 3072h8M1692 2699h8M1693 2971h8M1627 2845h8M1716 2725h8M1655 2693h8M1760 2908h8M1695 2873h8M1712 2850h8M1690 2800h8M1669 3011h8M1645 2825h8M1657 3029h8M1670 2817h8M1727 2593h8M1620 2841h8M1723 2807h8M1622 3031h8M1747 2788h8M1783 2731h8M1780 2905h8M1709 2940h8M1643 2848h8M1641 2821h8M1699 2805h8M1674 2785h8M1565 2643h8M1538 2870h8M1676 2897h8M1756 2792h8M1660 2896h8M1673 2939h8M1705 3109h8M1671 2932h8M1755 2746h8M1707 2847h8M1725 2924h8M1736 2831h8M1639 2794h8M1647 2943h8M1672 2777h8M1685 2726h8M1666 3018h8M1704 2796h8M1739 2803h8M1679 2607h8M1749 2766h8M1769 2646h8M1588 2925h8M1656 2770h8M1667 2715h8M1617 2762h8M1713 2765h8M1649 2991h8M1729 2734h8M1646 3048h8M1693 2878h8M1673 2866h8M1735 2692h8M1621 2729h8M1685 2700h8M1646 2978h8M1657 2951h8M1677 2693h8M1690 2885h8M1692 2701h8M1683 2965h8M1646 2690h8M1696 2903h8M1683 2880h8M1666 2931h8M1564 2767h8M1654 2718h8M1627 3026h8M1722 2838h8M1676 2710h8M1713 2906h8M1629 2682h8M1647 2684h8M1650 2894h8M1719 2860h8M1648 2967h8M1644 2824h8M1673 2828h8M1606 2913h8M1616 2955h8M1616 2873h8M1657 2814h8M1645 3030h8M1660 2833h8M1662 2765h8M1661 2822h8M1612 2973h8M1621 2908h8M1684 2834h8M1635 2962h8M1584 2848h8M1569 2853h8M1598 2799h8M1672 2793h8M1532 2811h8M1770 2864h8M1667 2694h8M1666 3089h8M1767 3011h8M1626 2800h8M1680 2602h8M1632 2709h8M1615 2905h8M1780 2921h8M1635 2965h8M1668 2804h8M1708 3008h8M1680 2948h8M1570 2961h8M1658 2839h8M1646 2936h8M1812 2676h8M1670 2598h8M1624 2892h8M1671 2874h8M1623 2815h8M1757 2802h8M1623 2896h8M1706 2973h8" stroke="#000" stroke-width="8" stroke-opacity="0.25" fill="none"/>
<path transform="scale(.1)" d="M1567 2942h8M1588 3105h8M1545 2947h8M1615 2986h8M1605 2891h8M1599 3040h8M1571 2924h8M1643 3011h8M1654 2953h8M1644 2957h8M1639 2919h8M1620 2990h8M1598 2954h8M1602 3013h8M1577 3073h8M1653 2921h8M1612 2980h8M1639 2949h8M1529 3004h8M1579 3050h8M1575 2988h8M1590 2996h8M1576 2977h8M1593 2976h8M1567 2903h8M1618 2947h8M1550 2976h8M1625 2997h8M1586 3001h8M1547 2892h8M1560 3021h8M1616 3032h8M1556 2989h8M1560 2998h8M1640 2934h8M1611 2948h8M1614 2917h8M1616 3039h8M1639 2932h8M1599 3049h8M1647 2994h8M1607 2883h8M1510 2980h8M1647 2997h8M1616 3048h8M1626 2973h8M1608 3096h8M1587 3000h8M1622 2918h8M1591 3003h8M1650 3092h8M1658 2999h8M1620 3115h8M1602 2910h8M1608 3004h8M1563 2967h8M1619 3064h8M1623 2981h8M1595 2925h8M1561 2980h8M1597 2998h8M1612 3075h8M1570 2989h8M1571 3010h8M1609 3027h8M1586 3067h8M1593 2956h8M1596 2924h8M1618 2951h8M1589 2909h8M1654 3002h8M1625 3079h8M1607 2914h8M1595 2857h8M1602 2926h8M1626 2991h8M1620 2855h8M1547 2948h8M1617 2919h8M1540 2940h8M1552 2856h8M1603 2924h8M1572 2972h8M1549 2885h8M1566 2924h8M1628 2895h8M1623 2870h8M1630 3004h8M1618 2931h8M1562 3027h8M1651 2977h8M1607 2978h8M1631 2981h8M1622 2884h8M1578 2896h8M1597 2920h8M1557 2994h8M1608 2966h8M1600 3027h8M1600 2885h8M1579 2946h8M1583 2997h8M1617 2876h8M1602 2890h8M1623 3061h8M1579 2932h8M1598 2957h8M1592 3001h8M1538 3014h8M1608 2964h8M1595 3040h8M1650 2858h8M1584 2968h8M1631 2902h8M1580 2987h8M1587 2946h8M1593 3030h8M1655 2974h8M1574 2992h8M1609 2923h8M1597 2971h8M1630 2882h8M1635 2908h8M1587 2946h8M1631 3066h8M1625 2975h8M1593 2973h8M1606 2998h8M1628 2969h8M1620 2974h8M1632 3024h8M1587 2963h8M1583 3029h8M1531 2925h8M1596 2907h8M1583 2907h8M1576 2967h8M1604 2947h8M1617 3019h8M1625 2991h8M1611 2908h8M1620 3098h8M1554 2970h8M1572 2976h8M1617 2998h8M1619 2826h8M1588 2947h8M1596 2954h8M1632 2916h8M1637 3025h8" stroke="#000" stroke-width="8" stroke-opacity="0.3" fill="none"/>
<rect x="151.1" y="303.4" width="48.6" height="10.3" fill="none" stroke="#555" stroke-width="0.9"/>
<text x="152.2" y="259.7" font-size="8.6" textLength="22.8" lengthAdjust="spacingAndGlyphs">+ PBS</text>
<text x="200.9" y="308.2" font-size="7.6" textLength="14.2" lengthAdjust="spacingAndGlyphs">86.4</text>
<line x1="199.6" y1="311.3" x2="236.4" y2="311.3" stroke="#111" stroke-width="1.2"/>
<path d="M241.8 311.3L234.3 314.4L235.9 311.3L234.3 308.2Z" fill="#111"/>
<rect x="147.5" y="326.5" width="70.5" height="70.60000000000002" fill="none" stroke="#666" stroke-width="0.8"/>
<path d="M145.9 326.5h1.6M145.9 329.0h1.6M145.9 331.5h1.6M145.9 334.1h1.6M145.9 336.6h1.6M145.9 339.1h1.6M145.9 341.6h1.6M145.9 344.1h1.6M145.9 346.7h1.6M145.9 349.2h1.6M145.9 351.7h1.6M145.9 354.2h1.6M145.9 356.8h1.6M145.9 359.3h1.6M145.9 361.8h1.6M145.9 364.3h1.6M145.9 366.8h1.6M145.9 369.4h1.6M145.9 371.9h1.6M145.9 374.4h1.6M145.9 376.9h1.6M145.9 379.4h1.6M145.9 382.0h1.6M145.9 384.5h1.6M145.9 387.0h1.6M145.9 389.5h1.6M145.9 392.1h1.6M145.9 394.6h1.6M145.9 397.1h1.6M147.5 397.1v1.4M150.0 397.1v1.4M152.5 397.1v1.4M155.1 397.1v1.4M157.6 397.1v1.4M160.1 397.1v1.4M162.6 397.1v1.4M165.1 397.1v1.4M167.6 397.1v1.4M170.2 397.1v1.4M172.7 397.1v1.4M175.2 397.1v1.4M177.7 397.1v1.4M180.2 397.1v1.4M182.8 397.1v1.4M185.3 397.1v1.4M187.8 397.1v1.4M190.3 397.1v1.4M192.8 397.1v1.4M195.3 397.1v1.4M197.9 397.1v1.4M200.4 397.1v1.4M202.9 397.1v1.4M205.4 397.1v1.4M207.9 397.1v1.4M210.4 397.1v1.4M213.0 397.1v1.4M215.5 397.1v1.4M218.0 397.1v1.4" stroke="#555" stroke-width="0.5" fill="none"/>
<text x="144.3" y="335.6" font-size="3.4" fill="#333" text-anchor="middle" transform="rotate(-60 144.3 335.6)">10<tspan dy="-1.3" font-size="2.6">5</tspan></text>
<path d="M145.7 334.0h1.8" stroke="#222" stroke-width="0.9" fill="none"/>
<text x="144.3" y="351.6" font-size="3.4" fill="#333" text-anchor="middle" transform="rotate(-60 144.3 351.6)">10<tspan dy="-1.3" font-size="2.6">4</tspan></text>
<path d="M145.7 350.0h1.8" stroke="#222" stroke-width="0.9" fill="none"/>
<text x="144.3" y="367.6" font-size="3.4" fill="#333" text-anchor="middle" transform="rotate(-60 144.3 367.6)">10<tspan dy="-1.3" font-size="2.6">3</tspan></text>
<path d="M145.7 366.0h1.8" stroke="#222" stroke-width="0.9" fill="none"/>
<text x="143.3" y="386.2" font-size="3.6" fill="#333" text-anchor="middle">0</text>
<path d="M145.7 385.0h1.8" stroke="#222" stroke-width="0.9" fill="none"/>
<text x="149.1" y="402.3" font-size="2.9" fill="#444" text-anchor="middle">0</text>
<path d="M149.1 397.1v1.8" stroke="#222" stroke-width="0.8"/>
<text x="162.2" y="402.3" font-size="2.9" fill="#444" text-anchor="middle">50K</text>
<path d="M162.2 397.1v1.8" stroke="#222" stroke-width="0.8"/>
<text x="175.3" y="402.3" font-size="2.9" fill="#444" text-anchor="middle">100K</text>
<path d="M175.3 397.1v1.8" stroke="#222" stroke-width="0.8"/>
<text x="188.4" y="402.3" font-size="2.9" fill="#444" text-anchor="middle">150K</text>
<path d="M188.4 397.1v1.8" stroke="#222" stroke-width="0.8"/>
<text x="201.5" y="402.3" font-size="2.9" fill="#444" text-anchor="middle">200K</text>
<path d="M201.5 397.1v1.8" stroke="#222" stroke-width="0.8"/>
<text x="214.6" y="402.3" font-size="2.9" fill="#444" text-anchor="middle">250K</text>
<path d="M214.6 397.1v1.8" stroke="#222" stroke-width="0.8"/>
<path transform="scale(.1)" d="M1591 3876h8M1592 3858h8M1567 3860h8M1639 3874h8M1636 3870h8M1614 3869h8M1542 3884h8M1618 3876h8M1541 3827h8M1569 3855h8M1611 3864h8M1618 3851h8M1611 3874h8M1577 3903h8M1619 3891h8M1578 3849h8M1588 3863h8M1622 3870h8M1584 3844h8M1582 3892h8M1572 3870h8M1615 3832h8M1602 3894h8M1529 3858h8M1596 3847h8M1617 3864h8M1549 3883h8M1623 3886h8M1650 3873h8M1604 3836h8M1622 3852h8M1584 3837h8M1566 3853h8M1645 3820h8M1549 3870h8M1651 3878h8M1534 3810h8M1613 3849h8M1561 3887h8M1639 3868h8M1609 3875h8M1656 3879h8M1618 3877h8M1545 3893h8M1633 3877h8M1531 3851h8M1629 3825h8M1594 3887h8M1554 3900h8M1619 3862h8M1611 3879h8M1604 3890h8M1577 3856h8M1636 3866h8M1569 3886h8M1651 3855h8M1552 3862h8M1595 3858h8M1649 3842h8M1644 3837h8M1572 3879h8M1640 3884h8M1612 3868h8M1605 3878h8M1594 3871h8M1620 3865h8M1627 3877h8M1670 3872h8M1585 3857h8M1600 3885h8M1588 3873h8M1664 3809h8M1561 3870h8M1614 3870h8M1585 3879h8M1610 3854h8M1685 3873h8M1581 3863h8M1592 3864h8M1505 3854h8M1635 3839h8M1598 3886h8M1630 3898h8M1540 3857h8M1588 3879h8M1638 3806h8M1638 3833h8M1624 3832h8M1606 3891h8M1595 3869h8M1628 3868h8M1597 3899h8M1637 3859h8M1696 3840h8M1632 3859h8M1605 3881h8M1608 3879h8M1547 3832h8M1622 3844h8M1564 3833h8M1644 3881h8M1652 3844h8M1600 3840h8M1627 3900h8M1569 3899h8M1635 3861h8M1531 3896h8M1597 3852h8M1614 3874h8M1652 3843h8M1640 3898h8M1651 3861h8M1574 3887h8M1604 3868h8M1650 3859h8M1520 3856h8M1535 3883h8M1611 3852h8M1600 3883h8M1603 3894h8M1598 3888h8M1652 3900h8M1576 3884h8M1534 3841h8M1531 3889h8M1557 3865h8M1593 3864h8M1579 3870h8M1663 3866h8M1619 3887h8M1593 3837h8M1581 3889h8M1542 3852h8M1635 3882h8M1600 3883h8M1606 3839h8M1545 3851h8M1632 3853h8M1568 3848h8M1546 3862h8M1559 3873h8M1517 3872h8M1578 3822h8M1625 3859h8M1522 3846h8M1610 3855h8M1627 3881h8M1623 3872h8M1647 3880h8M1616 3819h8M1631 3894h8M1590 3855h8M1668 3826h8M1616 3918h8M1568 3880h8M1666 3862h8M1620 3885h8M1568 3863h8M1610 3883h8M1599 3861h8M1564 3857h8M1631 3867h8M1570 3846h8M1693 3890h8M1622 3808h8M1622 3876h8M1659 3874h8M1598 3876h8M1532 3888h8M1611 3850h8M1646 3905h8M1551 3850h8M1610 3869h8M1586 3844h8M1674 3888h8M1558 3835h8M1660 3887h8M1664 3883h8M1569 3871h8M1524 3849h8M1598 3877h8M1575 3862h8M1616 3873h8M1622 3870h8M1589 3882h8M1602 3847h8M1578 3865h8M1596 3868h8M1600 3869h8M1595 3837h8M1615 3888h8M1615 3861h8M1616 3844h8M1534 3866h8M1567 3881h8M1562 3807h8M1564 3900h8M1587 3835h8M1573 3876h8M1617 3869h8M1652 3881h8M1599 3878h8M1658 3886h8M1636 3841h8M1595 3881h8M1590 3889h8M1621 3885h8M1593 3921h8M1643 3860h8M1603 3922h8M1588 3884h8M1634 3865h8M1559 3869h8M1613 3890h8M1627 3866h8M1630 3877h8M1607 3866h8M1591 3880h8M1563 3851h8M1600 3833h8M1585 3821h8M1576 3878h8M1620 3864h8M1592 3834h8M1664 3876h8M1638 3846h8M1594 3825h8M1627 3886h8M1534 3864h8M1622 3826h8M1536 3842h8M1578 3834h8M1601 3870h8M1622 3880h8M1653 3891h8M1554 3854h8M1563 3841h8M1597 3865h8M1617 3830h8M1557 3864h8M1593 3858h8M1598 3848h8M1625 3873h8M1597 3850h8M1594 3805h8M1566 3866h8M1547 3869h8M1605 3835h8M1591 3858h8M1616 3878h8M1599 3846h8M1595 3864h8M1626 3871h8M1575 3835h8M1587 3849h8M1561 3862h8M1583 3867h8M1618 3856h8M1681 3858h8M1639 3868h8M1639 3813h8M1574 3870h8M1621 3916h8M1611 3893h8M1627 3886h8M1618 3862h8M1618 3841h8M1641 3843h8M1609 3912h8M1592 3865h8M1641 3866h8M1572 3871h8M1620 3881h8M1573 3904h8M1658 3865h8M1609 3856h8M1649 3849h8M1624 3854h8M1576 3881h8M1647 3865h8M1576 3883h8M1598 3872h8M1653 3890h8M1582 3915h8M1600 3882h8M1577 3864h8M1539 3904h8M1648 3838h8M1547 3829h8M1641 3855h8M1598 3858h8M1596 3841h8M1601 3833h8M1597 3872h8M1616 3860h8M1568 3869h8M1583 3899h8M1627 3862h8M1584 3850h8M1567 3857h8M1610 3876h8M1620 3911h8M1575 3865h8M1698 3824h8M1582 3869h8M1605 3874h8M1592 3873h8M1602 3882h8M1534 3846h8M1600 3842h8M1563 3879h8M1577 3879h8M1626 3872h8M1618 3863h8M1551 3864h8M1616 3853h8M1597 3881h8M1569 3879h8M1665 3853h8M1605 3862h8M1654 3872h8M1631 3850h8M1599 3865h8M1538 3897h8M1631 3827h8M1626 3862h8M1616 3873h8M1548 3860h8M1652 3852h8M1564 3835h8M1557 3872h8M1659 3874h8M1609 3914h8M1582 3850h8M1618 3877h8M1564 3839h8M1610 3870h8M1554 3861h8M1581 3875h8M1596 3863h8M1588 3888h8M1649 3857h8M1630 3848h8M1603 3881h8M1653 3857h8M1597 3869h8M1548 3865h8M1576 3873h8M1560 3822h8M1601 3871h8M1581 3885h8M1590 3852h8M1617 3830h8M1576 3865h8M1630 3861h8M1611 3851h8M1611 3902h8M1576 3917h8M1577 3865h8M1606 3888h8M1557 3819h8M1621 3882h8M1622 3923h8M1607 3871h8M1633 3873h8M1658 3838h8M1587 3789h8M1628 3857h8M1632 3912h8M1600 3859h8M1583 3847h8M1578 3879h8M1601 3866h8M1594 3885h8M1617 3862h8M1623 3862h8M1560 3897h8M1616 3844h8M1638 3873h8M1545 3900h8M1612 3885h8M1607 3862h8M1546 3886h8M1601 3859h8M1612 3867h8M1624 3857h8M1599 3818h8M1585 3880h8M1647 3857h8M1596 3900h8M1589 3881h8M1659 3866h8M1643 3849h8M1607 3863h8M1604 3890h8M1684 3850h8M1580 3876h8M1563 3876h8M1620 3859h8M1619 3831h8M1627 3831h8M1576 3853h8M1586 3884h8M1603 3856h8M1619 3900h8M1600 3873h8M1643 3871h8M1555 3920h8M1677 3821h8M1599 3874h8M1634 3880h8M1590 3842h8M1604 3888h8M1562 3842h8M1599 3822h8M1591 3855h8M1616 3850h8M1569 3856h8M1598 3850h8M1600 3882h8M1641 3903h8M1573 3856h8M1513 3907h8M1575 3864h8M1618 3835h8M1616 3864h8M1536 3871h8M1642 3824h8M1628 3870h8M1617 3875h8M1646 3860h8M1631 3856h8M1625 3847h8M1596 3903h8M1616 3862h8M1560 3848h8M1607 3886h8M1615 3877h8M1599 3895h8M1586 3853h8M1631 3866h8M1590 3852h8M1591 3879h8M1612 3838h8M1615 3869h8M1565 3882h8M1590 3858h8M1628 3894h8M1576 3875h8M1569 3916h8M1583 3891h8M1577 3883h8M1678 3809h8M1585 3876h8M1597 3850h8M1675 3867h8M1542 3884h8M1540 3890h8M1580 3868h8M1644 3868h8M1551 3828h8M1641 3881h8M1571 3884h8M1617 3879h8M1521 3858h8M1632 3881h8M1631 3811h8M1606 3876h8M1689 3844h8M1588 3866h8M1631 3855h8M1640 3848h8M1609 3853h8M1606 3850h8M1544 3889h8M1611 3853h8M1607 3887h8M1566 3863h8M1619 3877h8M1588 3819h8M1644 3872h8M1600 3859h8M1609 3856h8M1564 3849h8M1579 3852h8M1559 3879h8M1554 3880h8M1564 3873h8M1648 3869h8M1574 3866h8M1605 3827h8M1579 3869h8M1584 3867h8M1626 3882h8M1632 3878h8M1590 3865h8M1591 3858h8M1594 3827h8M1588 3864h8M1566 3864h8M1618 3861h8M1673 3808h8M1593 3825h8M1634 3923h8M1512 3868h8M1618 3858h8M1619 3816h8M1630 3873h8M1601 3852h8M1622 3854h8M1608 3854h8M1521 3864h8M1607 3882h8M1569 3864h8M1622 3868h8M1643 3909h8M1568 3823h8M1630 3899h8M1632 3883h8M1578 3849h8M1631 3845h8M1537 3843h8M1687 3907h8M1576 3849h8M1608 3849h8M1646 3863h8M1562 3894h8M1580 3870h8M1600 3858h8M1611 3850h8M1535 3816h8M1556 3848h8M1599 3866h8M1619 3868h8M1572 3849h8M1526 3861h8M1617 3877h8M1596 3861h8M1633 3865h8M1626 3878h8M1607 3894h8M1580 3857h8M1572 3847h8M1654 3904h8M1601 3878h8M1641 3883h8M1642 3837h8M1578 3875h8M1650 3867h8M1570 3857h8M1577 3846h8M1653 3851h8M1601 3913h8M1641 3872h8M1579 3874h8M1657 3879h8M1644 3867h8M1618 3861h8M1615 3894h8M1550 3864h8M1608 3852h8M1589 3882h8M1670 3879h8M1611 3831h8M1667 3867h8M1599 3840h8M1598 3841h8M1602 3875h8M1601 3871h8M1570 3896h8M1577 3825h8M1593 3848h8M1565 3857h8M1610 3839h8M1595 3896h8M1624 3862h8M1604 3862h8M1598 3881h8M1597 3812h8M1599 3845h8M1623 3852h8M1605 3913h8M1563 3840h8M1551 3812h8M1534 3873h8M1578 3824h8M1548 3879h8M1573 3857h8M1612 3895h8M1668 3888h8M1605 3869h8M1663 3896h8M1589 3875h8M1610 3866h8M1582 3836h8M1581 3831h8M1643 3877h8M1558 3896h8M1631 3823h8M1664 3883h8M1672 3838h8M1619 3874h8M1607 3869h8M1637 3832h8M1557 3834h8M1580 3852h8M1613 3871h8M1601 3850h8M1585 3886h8M1627 3867h8M1589 3899h8M1579 3879h8M1640 3859h8M1629 3840h8M1635 3869h8M1544 3880h8M1569 3893h8M1576 3861h8M1610 3858h8M1609 3853h8M1624 3865h8M1607 3804h8M1641 3866h8M1538 3867h8M1616 3889h8M1562 3899h8M1594 3918h8M1595 3880h8M1587 3840h8M1638 3885h8M1654 3884h8M1580 3828h8M1577 3850h8M1571 3878h8M1611 3859h8M1606 3862h8M1607 3882h8M1634 3850h8M1547 3896h8M1604 3889h8M1542 3858h8M1601 3833h8M1582 3881h8M1638 3900h8M1570 3834h8M1618 3886h8M1607 3836h8M1627 3882h8M1619 3854h8M1611 3882h8M1580 3824h8M1612 3876h8M1600 3885h8M1579 3863h8M1589 3878h8M1656 3859h8M1672 3899h8M1628 3878h8M1662 3861h8M1596 3842h8M1617 3895h8M1619 3874h8M1593 3869h8M1550 3888h8M1586 3841h8M1574 3847h8M1630 3888h8M1552 3885h8M1631 3852h8M1548 3849h8M1578 3873h8M1587 3820h8M1608 3831h8M1632 3838h8M1576 3846h8M1581 3894h8M1630 3878h8M1611 3831h8M1582 3853h8M1566 3876h8M1574 3849h8M1563 3820h8M1621 3894h8M1606 3844h8M1505 3869h8M1643 3872h8M1632 3898h8M1639 3855h8M1637 3882h8M1546 3856h8M1550 3863h8M1620 3842h8M1528 3894h8M1613 3897h8M1554 3888h8M1673 3909h8M1593 3871h8M1595 3887h8M1636 3867h8M1552 3881h8M1584 3879h8M1609 3901h8M1640 3855h8M1612 3904h8M1581 3875h8M1642 3893h8M1618 3836h8M1556 3870h8M1614 3921h8M1570 3890h8M1627 3828h8M1571 3869h8M1583 3862h8M1616 3847h8M1616 3851h8M1581 3877h8M1580 3871h8M1656 3866h8M1595 3881h8M1587 3889h8M1555 3879h8M1582 3847h8M1662 3846h8M1661 3879h8M1651 3844h8M1642 3897h8M1596 3862h8M1686 3869h8M1585 3851h8M1616 3872h8M1606 3903h8M1589 3875h8M1651 3843h8M1636 3905h8M1553 3841h8M1564 3824h8M1616 3824h8M1617 3897h8M1543 3858h8M1533 3882h8M1574 3859h8M1602 3877h8M1588 3865h8M1581 3868h8M1559 3866h8M1532 3854h8M1667 3867h8M1556 3871h8M1566 3829h8M1574 3881h8M1613 3863h8M1568 3841h8M1647 3870h8M1567 3819h8M1552 3919h8M1560 3863h8M1607 3862h8M1590 3835h8M1563 3902h8M1574 3884h8M1541 3859h8M1609 3888h8M1561 3878h8M1614 3849h8M1617 3845h8M1572 3865h8M1505 3863h8M1565 3833h8M1585 3882h8M1586 3893h8M1559 3836h8M1654 3874h8M1633 3847h8M1628 3871h8M1623 3866h8M1642 3851h8M1566 3832h8M1641 3849h8M1563 3844h8M1584 3837h8M1590 3851h8M1581 3844h8M1601 3855h8M1604 3870h8M1612 3817h8M1581 3847h8M1627 3830h8M1575 3859h8M1588 3887h8M1585 3886h8M1549 3825h8M1643 3875h8M1617 3868h8M1617 3838h8M1633 3853h8M1634 3867h8M1531 3837h8M1639 3862h8M1586 3870h8M1585 3853h8M1604 3868h8M1653 3866h8M1666 3905h8M1660 3888h8M1605 3868h8M1595 3849h8M1598 3851h8M1657 3877h8M1584 3823h8M1598 3856h8M1562 3840h8M1521 3878h8M1598 3922h8M1599 3862h8M1651 3868h8M1606 3857h8M1579 3898h8M1635 3903h8M1588 3866h8M1569 3886h8M1551 3877h8M1638 3896h8M1567 3889h8M1575 3848h8M1554 3890h8M1658 3852h8M1573 3858h8M1688 3887h8M1581 3826h8M1576 3891h8M1665 3859h8M1576 3854h8M1534 3885h8M1562 3888h8M1540 3837h8M1610 3848h8M1627 3865h8M1559 3879h8M1629 3823h8M1664 3876h8M1627 3824h8M1575 3857h8M1638 3833h8M1569 3820h8M1592 3873h8M1541 3852h8M1618 3900h8M1623 3858h8M1559 3844h8M1577 3868h8M1598 3902h8M1610 3841h8M1654 3886h8M1604 3849h8M1535 3843h8M1632 3847h8M1554 3869h8M1609 3878h8M1623 3896h8M1571 3887h8M1565 3880h8M1606 3870h8M1634 3865h8M1639 3884h8M1605 3853h8M1574 3853h8M1593 3864h8M1704 3879h8M1627 3846h8M1575 3858h8M1607 3842h8M1656 3853h8M1638 3814h8M1600 3871h8M1607 3878h8M1610 3869h8M1534 3849h8M1518 3879h8M1611 3861h8M1571 3852h8M1665 3903h8M1598 3893h8M1544 3822h8M1583 3846h8M1580 3869h8M1706 3850h8M1602 3871h8M1599 3885h8M1662 3838h8M1606 3859h8M1612 3831h8M1538 3814h8M1618 3869h8M1603 3813h8M1587 3848h8M1551 3845h8M1624 3877h8M1599 3876h8M1579 3867h8M1601 3877h8M1598 3862h8M1595 3851h8M1678 3876h8M1615 3915h8M1649 3831h8M1624 3883h8M1666 3894h8M1627 3839h8M1570 3871h8M1618 3843h8M1587 3856h8M1602 3872h8M1590 3838h8M1643 3900h8M1596 3888h8M1616 3880h8M1617 3848h8M1620 3887h8M1569 3908h8M1673 3905h8M1670 3881h8M1588 3852h8M1572 3868h8M1599 3880h8M1529 3916h8M1680 3864h8M1624 3875h8M1610 3860h8M1596 3847h8M1606 3864h8M1611 3846h8M1601 3866h8M1621 3842h8M1615 3887h8M1621 3857h8M1583 3860h8M1626 3899h8M1594 3851h8M1613 3869h8M1568 3849h8M1596 3880h8M1558 3843h8M1617 3838h8M1604 3873h8M1596 3843h8M1598 3858h8M1612 3847h8M1638 3828h8M1594 3865h8M1634 3852h8M1619 3853h8M1626 3903h8M1586 3875h8M1568 3886h8M1642 3866h8M1560 3874h8M1640 3889h8M1628 3825h8M1576 3896h8M1557 3890h8M1666 3882h8M1639 3858h8M1557 3863h8M1593 3864h8M1624 3862h8M1607 3874h8M1600 3906h8M1615 3867h8M1593 3851h8M1647 3868h8M1562 3853h8M1595 3855h8M1638 3839h8M1617 3868h8M1559 3866h8M1597 3876h8M1584 3872h8M1542 3841h8M1627 3888h8M1600 3852h8M1638 3819h8M1572 3880h8M1623 3842h8M1534 3897h8M1605 3845h8M1602 3885h8M1509 3889h8M1626 3819h8M1627 3826h8M1640 3874h8M1679 3852h8M1600 3888h8M1578 3849h8M1587 3863h8M1562 3876h8M1619 3867h8M1660 3858h8M1646 3853h8M1626 3822h8M1607 3861h8M1643 3851h8M1651 3848h8M1549 3851h8M1640 3853h8M1612 3862h8M1713 3859h8M1643 3896h8M1724 3886h8M1734 3857h8M1663 3891h8M1640 3862h8M1691 3874h8M1655 3888h8M1660 3882h8M1729 3880h8M1710 3838h8M1598 3851h8M1696 3900h8M1603 3872h8M1623 3848h8M1655 3881h8M1682 3892h8M1616 3885h8M1721 3867h8M1696 3852h8M1610 3856h8M1635 3931h8M1643 3903h8M1681 3872h8M1711 3847h8M1720 3874h8M1587 3879h8M1700 3875h8M1757 3855h8M1698 3882h8M1620 3893h8M1590 3835h8M1699 3840h8M1664 3827h8M1674 3839h8M1689 3830h8M1695 3859h8M1674 3863h8M1677 3835h8M1529 3866h8M1619 3855h8M1693 3819h8M1628 3851h8M1612 3873h8M1662 3846h8M1616 3884h8M1634 3878h8M1695 3821h8M1610 3865h8M1689 3883h8M1714 3889h8M1649 3860h8M1713 3855h8M1728 3828h8M1706 3861h8M1562 3888h8M1687 3865h8M1611 3854h8M1753 3846h8M1604 3862h8M1648 3844h8M1624 3889h8M1591 3910h8M1640 3840h8M1713 3878h8M1613 3882h8M1569 3844h8M1732 3859h8M1598 3877h8M1720 3864h8M1571 3857h8M1693 3883h8M1772 3859h8M1643 3864h8M1736 3843h8M1742 3802h8M1714 3849h8M1695 3881h8M1605 3863h8M1683 3879h8M1619 3842h8M1564 3923h8M1659 3860h8M1588 3886h8M1641 3898h8M1717 3865h8M1710 3839h8M1652 3852h8M1600 3865h8M1662 3898h8M1486 3850h8M1619 3854h8M1693 3874h8M1672 3854h8M1697 3873h8M1569 3859h8M1594 3838h8M1678 3866h8M1676 3845h8M1659 3844h8M1691 3881h8M1767 3894h8M1626 3854h8M1618 3872h8M1779 3881h8M1549 3836h8M1599 3877h8M1670 3872h8M1768 3846h8M1623 3910h8M1689 3847h8M1558 3830h8M1536 3867h8M1672 3888h8M1662 3849h8M1629 3909h8M1573 3869h8M1671 3879h8M1648 3876h8M1715 3862h8M1645 3861h8M1617 3860h8M1653 3870h8M1743 3895h8M1646 3879h8M1686 3883h8M1671 3871h8M1644 3847h8M1718 3895h8M1706 3875h8M1685 3855h8M1572 3880h8M1681 3852h8M1617 3894h8M1571 3906h8M1705 3920h8M1631 3864h8M1642 3869h8M1658 3848h8M1729 3847h8M1642 3878h8M1640 3855h8M1690 3857h8M1601 3863h8M1658 3904h8M1610 3887h8M1627 3857h8M1652 3871h8M1717 3905h8M1635 3896h8M1725 3884h8M1628 3886h8M1664 3873h8M1655 3880h8M1731 3891h8M1659 3888h8M1750 3843h8M1751 3834h8M1700 3879h8M1752 3871h8M1644 3847h8M1601 3883h8M1657 3848h8M1699 3847h8M1646 3854h8M1761 3899h8M1661 3829h8M1685 3867h8M1689 3878h8M1652 3886h8M1716 3870h8M1648 3854h8M1708 3840h8M1661 3848h8M1593 3879h8M1669 3866h8M1718 3831h8M1666 3872h8M1716 3840h8M1709 3870h8M1745 3891h8M1700 3914h8M1670 3855h8M1651 3843h8M1668 3822h8M1665 3875h8M1725 3857h8M1746 3850h8M1663 3822h8M1628 3847h8M1750 3877h8M1611 3877h8M1696 3860h8M1671 3858h8M1641 3825h8M1665 3894h8M1747 3859h8M1630 3860h8M1718 3873h8M1639 3873h8M1659 3877h8M1648 3832h8M1673 3882h8M1611 3863h8M1717 3857h8M1635 3911h8M1714 3888h8M1619 3902h8M1581 3853h8M1710 3895h8M1620 3850h8M1681 3822h8M1704 3878h8M1646 3877h8M1711 3872h8M1698 3899h8M1644 3869h8M1642 3888h8M1648 3876h8M1677 3866h8M1762 3863h8M1746 3883h8M1740 3861h8M1719 3882h8M1637 3871h8M1663 3864h8M1739 3849h8M1581 3826h8M1646 3851h8M1671 3878h8M1763 3872h8M1695 3849h8M1701 3895h8M1741 3822h8M1717 3900h8M1714 3832h8M1654 3878h8M1692 3847h8M1623 3886h8M1599 3897h8M1671 3872h8M1599 3852h8M1706 3832h8M1780 3834h8M1605 3866h8M1695 3881h8M1650 3860h8M1658 3852h8M1534 3886h8M1683 3869h8M1637 3871h8M1669 3863h8M1728 3827h8M1683 3841h8M1653 3898h8M1613 3863h8M1639 3886h8M1618 3828h8M1697 3857h8M1653 3889h8M1623 3857h8M1678 3874h8M1643 3888h8M1788 3856h8M1769 3818h8M1744 3857h8M1677 3857h8M1636 3837h8M1649 3894h8M1730 3857h8M1642 3849h8M1607 3905h8M1705 3868h8M1644 3842h8M1740 3882h8M1620 3887h8M1612 3879h8M1619 3856h8M1696 3875h8M1723 3847h8M1753 3895h8M1669 3875h8M1629 3862h8M1600 3867h8M1681 3895h8M1720 3883h8M1651 3860h8M1652 3870h8M1568 3882h8M1587 3854h8M1671 3854h8M1758 3863h8M1753 3891h8M1644 3874h8M1739 3858h8M1675 3853h8M1673 3857h8M1674 3887h8M1744 3868h8M1681 3884h8M1655 3842h8M1729 3844h8M1719 3844h8M1767 3842h8M1715 3898h8M1619 3898h8M1627 3826h8M1708 3880h8M1659 3809h8M1667 3858h8M1650 3859h8M1575 3852h8M1765 3899h8M1651 3849h8M1691 3888h8M1708 3839h8M1679 3868h8M1746 3891h8M1698 3892h8M1649 3899h8M1648 3874h8M1718 3845h8M1633 3826h8M1679 3864h8M1653 3876h8M1558 3864h8M1675 3859h8M1712 3904h8M1646 3844h8M1638 3867h8M1701 3846h8M1723 3842h8M1714 3874h8M1694 3913h8M1656 3861h8M1695 3884h8M1599 3871h8M1631 3879h8M1742 3866h8M1664 3869h8M1514 3882h8M1700 3869h8M1649 3849h8M1661 3892h8M1665 3895h8M1534 3855h8M1684 3865h8M1582 3850h8M1736 3836h8M1618 3841h8M1641 3879h8M1701 3820h8M1747 3852h8M1639 3902h8M1666 3838h8M1636 3849h8M1617 3858h8M1716 3873h8M1597 3927h8M1618 3868h8M1672 3882h8M1653 3875h8M1781 3867h8M1613 3872h8M1628 3857h8M1680 3872h8M1655 3884h8M1660 3836h8M1716 3857h8M1734 3851h8M1700 3872h8M1528 3832h8M1611 3896h8M1570 3885h8M1728 3876h8M1706 3854h8M1669 3870h8M1692 3881h8M1659 3850h8M1640 3874h8M1582 3837h8M1648 3853h8M1656 3806h8M1652 3859h8M1711 3821h8M1654 3875h8M1696 3891h8M1726 3842h8M1704 3858h8M1628 3899h8M1637 3846h8M1648 3846h8M1723 3873h8M1744 3874h8M1637 3888h8M1635 3855h8M1661 3866h8M1733 3852h8M1689 3864h8M1603 3841h8M1658 3874h8M1687 3876h8M1673 3855h8M1693 3843h8M1599 3858h8M1594 3854h8M1630 3853h8M1668 3847h8M1648 3827h8M1678 3845h8M1691 3802h8M1627 3870h8M1541 3857h8M1675 3867h8M1591 3870h8M1678 3843h8M1709 3864h8M1671 3855h8M1699 3867h8M1730 3875h8M1637 3860h8M1719 3857h8M1690 3877h8M1660 3813h8M1677 3870h8M1677 3848h8M1734 3862h8M1637 3849h8M1689 3841h8M1617 3909h8M1740 3888h8M1743 3878h8M1580 3892h8M1736 3876h8M1566 3893h8M1743 3854h8M1677 3882h8M1665 3889h8M1674 3880h8M1675 3832h8M1617 3936h8M1685 3894h8M1731 3903h8M1700 3852h8M1671 3822h8M1660 3885h8M1555 3869h8M1714 3895h8M1621 3850h8M1570 3842h8M1698 3911h8M1609 3896h8M1693 3854h8M1787 3809h8M1666 3870h8M1784 3905h8M1791 3868h8M1722 3895h8M1697 3873h8M1660 3856h8M1604 3909h8M1646 3819h8M1684 3864h8M1679 3906h8M1664 3859h8M1630 3864h8M1647 3870h8M1837 3874h8M1624 3908h8M1716 3883h8M1708 3883h8M1706 3897h8M1724 3895h8M1643 3865h8M1631 3886h8M1714 3855h8M1701 3924h8M1736 3840h8M1665 3879h8M1668 3874h8M1733 3872h8M1611 3881h8M1665 3868h8M1640 3834h8M1603 3857h8M1613 3804h8M1731 3839h8M1631 3877h8M1541 3895h8M1629 3880h8M1644 3872h8M1676 3865h8M1572 3832h8M1668 3897h8M1641 3877h8M1679 3876h8M1723 3831h8M1685 3861h8M1653 3846h8M1628 3842h8M1611 3921h8M1761 3865h8M1710 3843h8M1521 3824h8M1678 3897h8M1668 3843h8M1657 3843h8M1595 3860h8M1649 3847h8M1623 3844h8M1683 3896h8M1659 3915h8M1583 3871h8M1608 3861h8M1675 3878h8M1731 3853h8M1603 3861h8M1686 3849h8M1718 3903h8M1594 3873h8M1724 3822h8M1681 3860h8M1594 3894h8M1682 3854h8M1694 3879h8M1711 3878h8M1692 3839h8M1647 3868h8M1522 3913h8M1650 3841h8M1572 3871h8M1672 3852h8M1648 3845h8M1630 3863h8M1635 3880h8M1662 3868h8M1692 3893h8M1702 3870h8M1661 3847h8M1652 3880h8M1682 3856h8M1599 3831h8M1687 3888h8M1690 3834h8M1765 3870h8M1717 3872h8M1766 3847h8M1695 3882h8M1804 3846h8M1711 3884h8M1821 3858h8M1889 3859h8M1708 3888h8M1767 3872h8M1783 3844h8M1699 3861h8M1876 3843h8M1873 3870h8M1704 3871h8M1819 3846h8M1635 3873h8M1704 3874h8M1650 3862h8M1725 3833h8M1764 3869h8M1742 3840h8M1794 3828h8M1816 3876h8M1894 3884h8M1804 3871h8M1782 3837h8M1880 3876h8M1761 3840h8M1881 3876h8M1699 3879h8M1909 3865h8M1807 3856h8M1737 3888h8M1989 3867h8M1772 3882h8M1759 3881h8M1836 3843h8M1707 3863h8M1837 3871h8M1864 3836h8M1814 3852h8M1787 3872h8M1714 3860h8M1701 3871h8M1722 3854h8M1795 3851h8M1858 3851h8M1838 3871h8M1710 3860h8M1723 3857h8M1762 3904h8M1752 3898h8M1810 3837h8M1623 3879h8M1645 3880h8M1850 3873h8M1766 3860h8M1798 3859h8M1744 3857h8M1859 3852h8M1806 3840h8M1732 3836h8M1767 3880h8M1801 3855h8M1821 3858h8M1805 3871h8M1817 3812h8M1692 3881h8M1773 3913h8M1764 3853h8M1881 3877h8M1909 3876h8M1766 3880h8M1727 3855h8M1742 3860h8M1833 3855h8M1802 3854h8M1840 3806h8M1766 3869h8M1707 3887h8M1795 3892h8M1845 3879h8M1770 3842h8M1765 3855h8M1797 3855h8M1987 3831h8M1859 3855h8M1764 3885h8M1780 3839h8M1808 3861h8M1641 3869h8M1709 3849h8M1813 3871h8M1760 3911h8M1808 3852h8M1796 3862h8M1631 3832h8M1686 3909h8M1768 3859h8M1742 3886h8M1782 3901h8M1833 3900h8M1772 3873h8M1751 3861h8M1663 3853h8M1716 3851h8M1862 3871h8M1863 3883h8M1842 3886h8M1739 3882h8M1758 3854h8M1861 3911h8M1714 3902h8M1836 3847h8M1798 3873h8M1805 3857h8M1693 3866h8M1838 3882h8M1825 3888h8M1713 3864h8M1803 3886h8M1791 3876h8M1789 3909h8M1633 3864h8M1947 3870h8M1656 3868h8M1683 3851h8M1795 3901h8M1811 3879h8M1849 3869h8M1722 3863h8M1803 3859h8M1735 3857h8M1679 3843h8M1774 3857h8M1783 3895h8M1800 3864h8M1701 3842h8M1805 3847h8M1809 3842h8M1789 3863h8M1847 3857h8M1755 3870h8M1784 3901h8M1763 3854h8M1758 3875h8M1796 3880h8M1687 3917h8M1904 3864h8M1699 3868h8M1808 3818h8M1781 3834h8M1811 3894h8M1850 3833h8M1873 3884h8M1756 3876h8M1882 3858h8M1779 3853h8M1858 3819h8M1876 3845h8M1842 3831h8M1717 3852h8M1836 3831h8M1821 3852h8M1864 3858h8M1813 3861h8M1901 3857h8M1778 3907h8M1785 3880h8M1730 3869h8M1627 3867h8M1736 3833h8M1685 3889h8M1809 3833h8M1902 3850h8M1755 3870h8M1703 3831h8M1730 3890h8M1844 3832h8M1861 3866h8M1814 3866h8M1808 3844h8M1719 3850h8M1755 3878h8M1698 3899h8M1737 3853h8M1827 3874h8M1757 3842h8M1713 3831h8M1857 3888h8M1906 3876h8M1802 3881h8M1844 3860h8M1804 3911h8M1666 3835h8M1715 3881h8M1860 3858h8M1825 3864h8M1800 3854h8M1778 3865h8M1856 3912h8M1658 3876h8M1780 3886h8M1852 3882h8M1835 3845h8M1665 3900h8M1861 3845h8M1867 3879h8M1615 3884h8M1713 3890h8M1734 3849h8M1676 3860h8M1849 3851h8M1655 3910h8M1904 3880h8M1744 3839h8M1670 3877h8M1868 3843h8M1780 3859h8M1763 3876h8M1921 3852h8M1837 3888h8M1761 3862h8M1690 3888h8M1744 3851h8M1785 3847h8M1710 3859h8M1880 3861h8M1816 3834h8M1649 3904h8M1753 3832h8M1773 3878h8M1663 3846h8M1798 3845h8M1834 3885h8M1810 3856h8M1777 3852h8M1771 3872h8M1760 3886h8M1955 3853h8M1803 3882h8M1824 3860h8M1748 3886h8M1822 3876h8M1726 3878h8M1834 3861h8M1824 3911h8M1653 3878h8M1701 3836h8M1764 3877h8M1784 3840h8M1683 3853h8M1781 3847h8M1678 3902h8M1723 3862h8M1743 3853h8M1783 3859h8M1822 3840h8M1679 3906h8M1775 3881h8M1860 3877h8M1782 3832h8M1672 3886h8M1826 3877h8M1668 3820h8M1708 3840h8M1791 3843h8M1887 3852h8M1742 3883h8M1802 3846h8M1836 3906h8M1697 3860h8M1707 3824h8M1823 3880h8M1846 3874h8M1643 3864h8M1735 3840h8M1705 3881h8M1760 3907h8M1923 3833h8M1943 3894h8M1902 3846h8M1986 3844h8M1896 3833h8M1839 3837h8M1953 3893h8M1880 3844h8M1897 3877h8M1826 3847h8M1895 3884h8M1904 3879h8M1839 3821h8M1915 3852h8M1894 3863h8M1923 3855h8M1970 3871h8M1926 3882h8M1951 3878h8M1815 3858h8M1991 3879h8M1927 3879h8M1869 3857h8M1868 3893h8M1918 3905h8M1924 3907h8M1922 3847h8M1985 3877h8M1958 3874h8M1884 3873h8M1845 3847h8M1856 3860h8M1834 3868h8M1915 3910h8M1990 3869h8M1943 3866h8M1919 3869h8M1873 3871h8M1827 3879h8M1886 3849h8M1882 3881h8M1867 3879h8M1928 3901h8M1847 3868h8M1925 3900h8M1913 3885h8M1828 3859h8M1982 3864h8M2006 3856h8M1886 3839h8M1931 3875h8M1999 3873h8M1888 3842h8M1896 3889h8M1937 3894h8M1943 3869h8M1930 3873h8M1834 3904h8M1918 3849h8M1919 3876h8M1625 3824h8M1502 3769h8M1652 3708h8M1540 3759h8M1609 3768h8M1567 3724h8M1603 3787h8M1668 3771h8M1591 3632h8M1634 3746h8M1601 3701h8M1631 3664h8M1603 3756h8M1604 3815h8M1596 3754h8M1634 3676h8M1590 3753h8M1634 3713h8M1624 3771h8M1559 3673h8M1554 3753h8M1603 3786h8M1628 3725h8M1630 3793h8M1613 3775h8M1558 3764h8M1572 3688h8M1588 3756h8M1600 3734h8M1568 3756h8M1583 3678h8M1597 3822h8M1592 3696h8M1636 3839h8M1592 3739h8M1594 3897h8M1600 3800h8M1622 3661h8M1570 3686h8M1613 3756h8M1658 3742h8M1609 3755h8M1594 3865h8M1603 3824h8M1644 3723h8M1623 3733h8M1603 3758h8M1603 3727h8M1651 3741h8M1615 3835h8M1615 3803h8M1639 3808h8M1661 3684h8M1662 3757h8M1547 3713h8M1556 3745h8M1557 3696h8M1609 3759h8M1576 3736h8M1597 3753h8M1601 3739h8M1635 3673h8M1584 3755h8M1590 3721h8M1585 3759h8M1640 3744h8M1590 3767h8M1601 3653h8M1610 3732h8M1579 3780h8M1604 3722h8M1538 3658h8M1601 3744h8M1613 3762h8M1590 3686h8M1566 3740h8M1560 3784h8M1566 3657h8M1602 3661h8M1656 3705h8M1599 3738h8M1582 3660h8M1537 3788h8M1623 3861h8M1551 3774h8M1596 3792h8M1580 3785h8M1626 3783h8M1647 3745h8M1652 3719h8M1665 3618h8M1604 3710h8M1596 3801h8M1622 3757h8M1661 3681h8M1567 3823h8M1619 3648h8M1616 3692h8M1642 3811h8M1577 3813h8M1569 3794h8M1619 3745h8M1556 3732h8M1529 3716h8M1536 3805h8M1580 3626h8M1617 3770h8M1575 3854h8M1624 3755h8M1592 3601h8M1611 3799h8M1587 3678h8M1606 3667h8M1597 3788h8M1647 3767h8M1603 3788h8M1646 3738h8M1564 3707h8M1564 3702h8M1595 3767h8M1605 3754h8M1587 3770h8M1625 3790h8M1649 3740h8M1585 3834h8M1605 3771h8M1585 3797h8M1592 3699h8M1600 3728h8M1628 3734h8M1605 3740h8M1614 3720h8M1641 3682h8M1591 3714h8M1620 3754h8M1617 3735h8M1582 3692h8M1592 3722h8M1607 3768h8M1632 3747h8M1581 3695h8M1600 3768h8M1661 3764h8M1648 3848h8M1561 3807h8M1630 3820h8M1596 3798h8M1585 3745h8M1593 3839h8M1589 3797h8M1605 3715h8M1605 3784h8M1575 3780h8M1581 3704h8M1608 3739h8M1576 3666h8M1600 3762h8M1585 3758h8M1550 3765h8M1612 3765h8M1580 3752h8M1599 3804h8M1608 3763h8M1573 3791h8M1640 3729h8M1619 3767h8M1604 3686h8M1664 3662h8M1611 3732h8M1638 3732h8M1599 3781h8M1617 3725h8M1620 3771h8M1634 3727h8M1600 3730h8M1572 3760h8M1607 3822h8M1588 3768h8M1637 3748h8M1601 3757h8M1582 3699h8M1635 3762h8M1603 3688h8M1599 3809h8M1567 3703h8M1629 3824h8M1652 3727h8M1622 3714h8M1618 3733h8M1600 3817h8M1612 3739h8M1601 3763h8M1583 3759h8M1612 3829h8M1540 3685h8M1557 3790h8M1677 3766h8M1599 3807h8M1523 3734h8M1501 3749h8M1586 3725h8M1613 3722h8M1635 3753h8M1601 3877h8M1582 3795h8M1568 3809h8M1630 3760h8M1624 3832h8M1644 3754h8M1593 3805h8M1556 3716h8M1613 3779h8M1651 3842h8M1608 3773h8M1559 3737h8M1609 3740h8M1599 3780h8M1572 3719h8M1539 3802h8M1574 3663h8M1625 3742h8M1632 3735h8M1664 3791h8M1604 3756h8M1590 3789h8M1665 3735h8M1563 3776h8M1640 3679h8M1582 3699h8M1616 3776h8M1582 3693h8M1630 3651h8M1621 3744h8M1656 3804h8M1583 3735h8M1594 3713h8M1598 3798h8M1554 3735h8M1644 3791h8M1578 3708h8M1580 3669h8M1636 3757h8M1584 3678h8M1590 3724h8M1656 3732h8M1599 3803h8M1622 3743h8M1526 3813h8M1621 3730h8M1601 3703h8M1578 3675h8M1614 3777h8M1602 3789h8M1616 3757h8M1570 3777h8M1634 3784h8M1641 3730h8M1564 3809h8M1581 3760h8M1594 3751h8M1594 3723h8M1536 3838h8M1615 3656h8M1576 3692h8M1588 3623h8M1611 3832h8M1589 3786h8M1624 3691h8M1645 3671h8M1584 3731h8M1639 3759h8M1600 3710h8M1603 3752h8M1617 3820h8M1623 3753h8M1588 3828h8M1606 3750h8M1649 3831h8M1618 3746h8M1576 3800h8M1582 3796h8M1575 3753h8M1612 3758h8M1606 3769h8M1570 3693h8M1588 3838h8M1600 3705h8M1579 3750h8M1639 3726h8M1617 3761h8M1593 3703h8M1598 3714h8M1624 3666h8M1632 3790h8M1612 3824h8M1626 3669h8M1600 3772h8M1584 3693h8M1611 3776h8M1588 3737h8M1587 3721h8M1594 3802h8M1551 3729h8M1649 3770h8M1601 3791h8M1574 3688h8M1555 3675h8M1604 3792h8M1590 3716h8M1610 3781h8M1616 3658h8M1594 3626h8M1611 3709h8M1573 3821h8M1639 3777h8M1608 3759h8M1582 3746h8M1663 3713h8M1579 3756h8M1624 3793h8M1571 3741h8M1597 3690h8M1604 3727h8M1627 3773h8M1575 3752h8M1592 3718h8M1580 3800h8M1594 3666h8M1573 3787h8M1671 3705h8M1590 3733h8M1555 3766h8M1597 3763h8M1671 3743h8M1621 3793h8M1583 3720h8M1645 3789h8M1609 3697h8M1625 3778h8M1662 3827h8M1624 3765h8M1604 3724h8M1609 3763h8M1616 3804h8M1612 3725h8M1618 3827h8M1572 3768h8M1615 3777h8M1616 3747h8M1590 3831h8M1660 3687h8M1520 3764h8M1581 3723h8M1549 3763h8M1601 3724h8M1618 3870h8M1641 3811h8M1584 3781h8M1594 3806h8M1618 3750h8M1620 3717h8M1618 3825h8M1586 3776h8M1544 3791h8M1632 3703h8M1654 3760h8M1552 3679h8M1628 3739h8M1641 3678h8M1593 3797h8M1576 3781h8M1587 3766h8M1601 3859h8M1558 3784h8M1645 3699h8M1593 3862h8M1645 3609h8M1600 3667h8M1612 3716h8M1586 3708h8M1611 3728h8M1573 3737h8M1616 3710h8M1641 3673h8M1614 3732h8M1651 3723h8M1585 3683h8M1659 3785h8M1568 3731h8M1564 3821h8M1622 3653h8M1603 3795h8M1598 3773h8M1596 3760h8M1610 3716h8M1610 3759h8M1602 3717h8M1568 3759h8M1636 3635h8M1578 3814h8M1672 3583h8M1689 3569h8M1593 3728h8M1622 3605h8M1588 3554h8M1597 3606h8M1565 3673h8M1628 3583h8M1608 3660h8M1690 3604h8M1676 3721h8M1678 3644h8M1579 3652h8M1620 3629h8M1574 3595h8M1650 3567h8M1631 3718h8M1648 3582h8M1733 3507h8M1601 3639h8M1634 3485h8M1637 3669h8M1596 3701h8M1642 3691h8M1584 3613h8M1673 3744h8M1679 3626h8M1646 3585h8M1678 3585h8M1656 3501h8M1570 3716h8M1635 3633h8M1561 3608h8M1717 3543h8M1556 3599h8M1619 3605h8M1604 3535h8M1588 3651h8M1627 3667h8M1594 3649h8M1619 3623h8M1666 3626h8M1637 3522h8M1631 3666h8M1614 3613h8M1586 3534h8M1638 3697h8M1638 3521h8M1635 3527h8M1610 3731h8M1646 3613h8M1673 3603h8M1645 3633h8M1662 3537h8M1652 3675h8M1580 3451h8M1592 3703h8M1630 3660h8M1647 3674h8M1618 3583h8M1643 3657h8M1652 3643h8M1609 3682h8M1642 3684h8M1540 3667h8M1550 3621h8M1611 3624h8M1621 3600h8M1639 3641h8M1629 3468h8M1604 3648h8M1603 3641h8M1630 3563h8M1661 3723h8M1632 3617h8M1679 3547h8M1596 3682h8M1670 3595h8M1606 3637h8M1591 3584h8M1647 3474h8M1649 3668h8M1683 3541h8M1598 3566h8M1573 3734h8M1604 3597h8M1638 3648h8M1694 3563h8M1664 3633h8M1594 3623h8M1573 3709h8M1602 3676h8M1685 3590h8M1603 3623h8M1591 3668h8M1647 3576h8M1605 3659h8M1571 3713h8M1610 3605h8M1590 3711h8M1653 3701h8M1657 3628h8M1688 3667h8M1645 3656h8M1658 3640h8M1643 3525h8M1717 3553h8M1567 3567h8M1692 3702h8M1612 3633h8M1651 3502h8M1621 3636h8M1685 3554h8M1570 3516h8M1646 3626h8M1639 3630h8M1634 3537h8M1647 3645h8M1645 3697h8M1612 3475h8M1555 3738h8M1600 3639h8M1628 3663h8M1750 3605h8M1634 3584h8M1639 3652h8M1590 3693h8M1671 3652h8M1633 3605h8M1573 3651h8M1605 3585h8M1677 3570h8M1610 3668h8M1705 3588h8M1679 3587h8M1644 3651h8M1587 3675h8M1697 3632h8M1654 3552h8M1696 3632h8M1584 3659h8M1590 3572h8M1550 3691h8M1717 3593h8M1617 3583h8M1611 3650h8M1694 3567h8M1665 3515h8M1689 3622h8M1598 3708h8M1620 3701h8M1658 3724h8M1607 3619h8M1649 3610h8M1694 3585h8M1658 3706h8M1575 3553h8M1608 3583h8M1650 3612h8M1642 3593h8M1628 3648h8M1667 3577h8M1637 3574h8M1641 3534h8M1662 3665h8M1636 3579h8M1625 3578h8M1568 3710h8M1759 3563h8M1590 3649h8M1669 3529h8M1564 3643h8M1554 3695h8M1617 3623h8M1640 3587h8M1633 3601h8M1679 3621h8M1638 3588h8M1619 3573h8M1620 3729h8M1672 3639h8M1684 3688h8M1644 3611h8M1595 3629h8M1637 3524h8M1574 3729h8M1638 3651h8M1646 3593h8M1642 3687h8M1620 3649h8M1675 3596h8M1647 3577h8M1659 3601h8M1681 3580h8M1696 3610h8M1613 3562h8M1665 3572h8M1687 3705h8M1665 3538h8M1640 3577h8M1569 3636h8M1716 3599h8M1652 3700h8M1605 3595h8M1640 3649h8M1593 3627h8M1623 3676h8M1584 3579h8M1620 3599h8M1665 3586h8M1736 3591h8M1656 3685h8M1670 3613h8M1608 3601h8M1657 3630h8M1650 3657h8M1612 3560h8M1689 3598h8M1565 3723h8M1614 3560h8M1678 3557h8M1596 3678h8M1586 3765h8M1616 3780h8M1639 3624h8M1615 3604h8M1618 3616h8M1672 3548h8M1621 3491h8M1688 3623h8M1635 3616h8M1667 3644h8M1666 3614h8M1631 3616h8M1561 3676h8M1589 3553h8M1658 3627h8M1649 3725h8M1688 3711h8M1610 3741h8M1605 3611h8M1671 3612h8M1634 3598h8M1703 3480h8M1670 3689h8M1628 3653h8M1592 3681h8M1749 3580h8M1684 3623h8M1627 3589h8M1639 3545h8M1574 3712h8M1630 3653h8M1642 3650h8M1590 3556h8M1649 3682h8M1600 3580h8M1593 3654h8M1647 3624h8M1610 3637h8M1642 3576h8M1652 3582h8M1663 3662h8M1606 3652h8M1643 3578h8M1617 3517h8M1593 3635h8M1682 3589h8M1638 3641h8M1658 3650h8M1671 3672h8M1605 3640h8M1555 3598h8M1631 3655h8M1618 3668h8M1688 3577h8M1614 3633h8M1651 3631h8M1674 3554h8M1652 3693h8M1670 3651h8M1623 3643h8M1646 3525h8M1614 3615h8M1625 3562h8M1630 3597h8M1638 3617h8M1633 3680h8M1636 3645h8M1617 3439h8M1615 3658h8M1628 3581h8M1585 3667h8M1615 3632h8M1670 3657h8M1714 3623h8M1662 3666h8M1612 3620h8M1624 3556h8M1652 3575h8M1699 3584h8M1615 3623h8M1617 3621h8M1626 3533h8M1562 3532h8M1684 3654h8M1644 3593h8M1627 3637h8M1594 3566h8M1594 3690h8M1589 3685h8M1596 3780h8M1632 3622h8M1675 3679h8M1676 3561h8M1660 3725h8M1635 3591h8M1589 3675h8M1645 3622h8M1579 3710h8M1666 3623h8M1694 3571h8M1674 3565h8M1686 3611h8M1681 3601h8M1639 3690h8M1603 3621h8M1599 3667h8M1617 3595h8M1618 3688h8M1599 3613h8M1628 3586h8M1609 3607h8M1655 3529h8M1653 3551h8M1616 3756h8M1602 3611h8M1618 3677h8M1633 3512h8M1578 3623h8M1635 3685h8M1611 3657h8M1587 3692h8M1638 3579h8M1627 3724h8M1616 3542h8M1609 3546h8M1630 3641h8M1628 3631h8M1678 3609h8M1611 3478h8M1649 3581h8M1623 3643h8M1664 3529h8M1601 3620h8M1620 3687h8M1635 3495h8M1689 3529h8M1598 3638h8M1578 3763h8M1639 3653h8M1601 3750h8M1660 3580h8M1693 3526h8M1612 3634h8M1648 3564h8M1677 3715h8M1599 3638h8M1617 3591h8M1668 3632h8M1630 3626h8M1584 3687h8M1598 3694h8M1623 3591h8M1685 3639h8M1617 3585h8M1640 3734h8M1660 3600h8M1602 3575h8M1629 3634h8M1602 3693h8M1608 3573h8M1648 3651h8M1613 3675h8M1573 3710h8M1694 3747h8M1623 3737h8M1626 3699h8M1626 3631h8M1668 3519h8M1613 3721h8M1531 3629h8M1664 3644h8M1630 3703h8M1662 3509h8M1605 3598h8M1644 3594h8M1617 3719h8M1524 3674h8M1662 3660h8M1635 3624h8M1646 3636h8M1603 3663h8M1607 3614h8M1632 3550h8M1657 3619h8M1595 3610h8M1575 3698h8M1636 3740h8M1609 3659h8M1609 3565h8M1628 3644h8M1669 3609h8M1665 3683h8M1606 3605h8M1589 3717h8M1609 3670h8M1669 3609h8M1615 3638h8M1619 3541h8M1627 3521h8M1655 3589h8M1599 3524h8M1616 3556h8M1681 3519h8M1709 3500h8M1650 3461h8M1639 3512h8M1673 3570h8M1656 3476h8M1652 3490h8M1648 3490h8M1633 3504h8M1645 3500h8M1615 3510h8M1674 3541h8M1650 3457h8M1626 3452h8M1642 3493h8M1600 3532h8M1616 3473h8M1632 3543h8M1720 3503h8M1654 3491h8M1655 3502h8M1744 3473h8M1661 3475h8M1674 3489h8M1685 3465h8M1725 3529h8M1600 3533h8M1652 3457h8M1677 3489h8M1687 3489h8M1687 3521h8M1670 3519h8M1651 3492h8M1670 3543h8M1633 3607h8M1720 3467h8M1694 3512h8M1672 3476h8M1717 3481h8M1662 3478h8M1713 3574h8M1621 3484h8M1674 3493h8M1656 3461h8M1675 3463h8M1671 3619h8M1640 3581h8M1676 3482h8M1655 3466h8M1659 3541h8M1691 3502h8M1623 3502h8M1711 3530h8M1671 3419h8M1643 3532h8M1622 3565h8M1648 3469h8M1642 3503h8M1695 3490h8M1605 3499h8M1667 3580h8M1616 3570h8M1678 3533h8M1641 3468h8M1624 3547h8M1660 3558h8M1717 3519h8M1647 3594h8M1622 3485h8M1651 3492h8M1670 3474h8M1705 3456h8M1645 3433h8M1613 3530h8M1681 3504h8M1683 3541h8M1642 3506h8M1659 3600h8M1644 3524h8M1670 3566h8M1667 3559h8M1628 3494h8M1600 3500h8M1731 3531h8M1661 3522h8M1673 3453h8M1639 3500h8M1671 3473h8M1661 3478h8M1623 3476h8M1630 3543h8M1698 3541h8M1657 3485h8M1614 3480h8M1702 3567h8M1668 3501h8M1658 3529h8M1657 3529h8M1636 3509h8M1642 3556h8M1613 3561h8M1660 3488h8M1660 3516h8M1650 3528h8M1652 3434h8M1682 3512h8M1709 3534h8M1590 3556h8M1635 3531h8M1722 3567h8M1626 3502h8M1606 3532h8M1684 3468h8M1668 3553h8M1689 3485h8M1645 3459h8M1618 3518h8M1653 3567h8M1670 3498h8M1606 3571h8M1665 3510h8M1635 3460h8M1686 3471h8M1674 3540h8M1658 3438h8M1664 3573h8M1642 3452h8M1693 3521h8M1633 3561h8M1649 3529h8M1652 3476h8M1672 3474h8M1608 3479h8M1692 3563h8M1722 3563h8M1709 3528h8M1644 3529h8M1626 3538h8M1644 3520h8M1634 3501h8M1692 3505h8M1637 3520h8M1688 3506h8M1633 3438h8M1612 3551h8M1654 3531h8M1692 3527h8M1678 3491h8M1606 3531h8M1653 3535h8M1628 3500h8M1728 3483h8M1655 3567h8M1652 3515h8M1589 3535h8M1638 3564h8M1659 3494h8M1675 3502h8M1635 3575h8M1690 3520h8M1680 3550h8M1678 3515h8M1660 3528h8M1675 3528h8M1643 3505h8M1680 3470h8M1655 3543h8M1667 3499h8M1662 3490h8M1693 3499h8M1616 3452h8M1668 3521h8M1653 3452h8M1660 3474h8M1640 3508h8M1634 3521h8M1640 3488h8M1644 3572h8M1703 3558h8M1637 3508h8M1683 3549h8M1610 3501h8M1632 3539h8M1683 3491h8M1728 3508h8M1737 3514h8M1646 3591h8M1646 3488h8M1706 3515h8M1682 3459h8M1710 3560h8M1667 3542h8M1647 3488h8M1609 3520h8M1693 3553h8M1684 3545h8M1639 3451h8M1679 3521h8M1692 3503h8M1630 3526h8M1652 3439h8M1646 3471h8M1629 3482h8M1675 3615h8M1716 3501h8M1696 3513h8M1676 3484h8M1668 3439h8M1720 3486h8M1682 3488h8M1675 3462h8M1643 3548h8M1690 3431h8M1694 3459h8M1666 3534h8M1642 3494h8M1665 3468h8M1688 3486h8M1676 3498h8M1651 3494h8M1665 3475h8M1668 3462h8M1652 3468h8M1710 3463h8M1670 3460h8M1684 3456h8M1670 3464h8M1696 3478h8M1649 3448h8M1670 3476h8M1689 3456h8M1712 3457h8M1698 3487h8M1701 3464h8M1681 3431h8M1635 3449h8M1684 3481h8M1668 3480h8M1681 3489h8M1639 3445h8M1651 3440h8M1702 3443h8M1654 3453h8M1687 3452h8M1684 3471h8M1657 3415h8M1652 3437h8M1702 3447h8M1649 3467h8M1671 3443h8M1691 3478h8M1675 3446h8M1653 3421h8M1678 3468h8M1652 3461h8M1734 3439h8M1620 3659h8M1695 3555h8M1757 3589h8M1778 3650h8M1788 3613h8M1593 3730h8M1620 3701h8M1735 3469h8M1724 3685h8M1660 3605h8M1677 3506h8M1684 3723h8M1760 3599h8M1715 3613h8M1737 3619h8M1619 3689h8M1670 3354h8M1761 3487h8M1712 3592h8M1685 3652h8M1704 3575h8M1664 3575h8M1659 3605h8M1798 3697h8M1745 3472h8M1781 3690h8M1841 3387h8M1721 3569h8M1784 3498h8M1698 3822h8M1779 3411h8M1721 3731h8M1684 3658h8M1726 3462h8M1683 3709h8M1790 3544h8M1786 3533h8M1735 3599h8M1646 3632h8M1697 3340h8M1671 3520h8M1671 3508h8M1679 3367h8M1773 3608h8M1735 3575h8M1724 3576h8M1656 3456h8M1724 3698h8M1734 3754h8M1639 3575h8M1684 3718h8M1820 3551h8M1763 3578h8M1661 3590h8M1659 3748h8M1755 3714h8M1741 3369h8M1767 3609h8M1579 3610h8M1780 3764h8M1660 3676h8M1740 3584h8M1703 3651h8M1754 3663h8M1696 3474h8M1798 3725h8M1687 3597h8M1768 3432h8M1749 3832h8M1736 3533h8M1841 3601h8M1733 3560h8M1731 3429h8M1644 3459h8M1773 3592h8M1788 3405h8M1685 3740h8M1673 3422h8M1676 3567h8M1719 3725h8M1798 3749h8M1754 3552h8M1691 3459h8M1795 3720h8M1725 3515h8M1760 3647h8M1729 3489h8M1734 3546h8M1764 3657h8M1746 3559h8M1810 3674h8M1795 3681h8M1759 3638h8M1657 3426h8M1665 3659h8M1774 3618h8M1725 3776h8M1697 3429h8M1629 3569h8M1761 3671h8" stroke="#000" stroke-width="8" stroke-opacity="0.5" fill="none"/>
<path transform="scale(.1)" d="M1685 3718h8M1697 3571h8M1674 3713h8M1766 3532h8M1632 3652h8M1846 3528h8M1614 3680h8M1735 3581h8M1698 3687h8M1580 3638h8M1741 3729h8M1780 3633h8M1601 3769h8M1753 3579h8M1771 3740h8M1690 3414h8M1668 3568h8M1643 3632h8M1626 3677h8M1830 3526h8M1771 3589h8M1737 3628h8M1788 3572h8M1750 3566h8M1716 3639h8M1775 3489h8M1607 3773h8M1726 3803h8M1629 3660h8M1741 3809h8M1696 3597h8M1749 3630h8M1649 3713h8M1570 3543h8M1793 3592h8M1678 3676h8M1777 3691h8M1634 3586h8M1772 3629h8M1657 3724h8M1778 3849h8M1626 3572h8M1653 3674h8M1667 3747h8M1516 3732h8M1656 3614h8M1739 3659h8M1631 3784h8M1739 3593h8M1714 3534h8M1616 3611h8M1725 3650h8M1647 3507h8M1585 3793h8M1725 3563h8M1781 3692h8M1672 3581h8M1778 3671h8M1812 3675h8M1660 3583h8M1652 3664h8M1717 3698h8M1731 3539h8M1686 3550h8M1733 3514h8M1660 3558h8M1658 3615h8M1803 3615h8M1602 3611h8M1751 3693h8M1716 3831h8M1776 3649h8M1783 3512h8M1688 3557h8M1712 3795h8M1666 3793h8M1630 3777h8M1585 3559h8M1768 3631h8M1710 3639h8M1712 3623h8M1633 3612h8M1708 3554h8M1732 3809h8M1588 3588h8M1681 3642h8M1707 3570h8M1698 3641h8M1694 3788h8M1709 3498h8M1593 3697h8M1677 3581h8M1608 3610h8M1694 3574h8M1676 3725h8M1753 3692h8M1688 3510h8M1753 3784h8M1787 3752h8M1719 3676h8M1699 3760h8M1682 3846h8M1753 3609h8M1700 3486h8M1650 3611h8M1867 3562h8M1762 3647h8M1680 3700h8M1565 3731h8M1832 3668h8M1696 3655h8M1745 3593h8M1708 3688h8M1676 3677h8M1723 3709h8M1633 3589h8M1671 3755h8M1717 3481h8M1613 3826h8M1723 3516h8M1638 3654h8M1797 3795h8M1675 3611h8M1830 3546h8M1806 3673h8M1706 3764h8M1733 3560h8M1596 3642h8M1735 3771h8M1522 3769h8M1742 3786h8M1754 3660h8M1729 3678h8M1657 3629h8M1709 3597h8M1600 3501h8M1734 3690h8M1707 3528h8M1758 3602h8M1559 3790h8M1599 3856h8M1736 3598h8M1540 3572h8M1801 3771h8M1718 3476h8M1674 3613h8M1731 3628h8M1723 3483h8M1656 3779h8M1601 3729h8M1857 3703h8M1606 3760h8M1574 3672h8M1672 3759h8M1780 3658h8M1822 3735h8M1668 3546h8M1867 3601h8M1728 3629h8M1668 3485h8M1690 3629h8M1767 3591h8M1594 3537h8M1697 3664h8M1749 3603h8M1737 3654h8M1815 3635h8M1710 3695h8M1783 3551h8M1668 3614h8M1555 3765h8M1773 3642h8M1929 3762h8M1838 3791h8M1762 3504h8M1804 3680h8M1619 3645h8M1751 3735h8M1712 3590h8M1752 3567h8M1695 3714h8M1602 3676h8M1567 3551h8M1616 3631h8M1749 3635h8M1762 3649h8M1686 3687h8M1684 3653h8M1771 3585h8M1778 3533h8M1685 3473h8M1664 3793h8M1724 3762h8M1600 3543h8M1732 3720h8M1757 3479h8M1735 3633h8M1708 3686h8M1681 3477h8M1627 3501h8M1610 3627h8M1789 3571h8M1648 3529h8M1582 3646h8M1667 3617h8M1635 3687h8M1618 3693h8M1655 3716h8M1640 3683h8M1730 3632h8M1811 3657h8M1640 3707h8M1644 3588h8M1701 3658h8M1816 3472h8M1682 3749h8M1689 3671h8M1804 3521h8M1703 3717h8M1660 3471h8M1632 3659h8M1713 3818h8M1790 3491h8M1771 3728h8M1810 3625h8M1662 3654h8M1805 3700h8M1816 3716h8M1660 3542h8M1826 3494h8M1676 3609h8M1638 3585h8M1700 3870h8M1696 3589h8M1708 3731h8M1644 3601h8M1581 3708h8M1746 3785h8M1618 3850h8M1760 3613h8M1673 3610h8M1617 3715h8M1659 3570h8M1735 3651h8M1660 3617h8M1666 3770h8M1768 3570h8M1697 3773h8M1680 3812h8M1730 3705h8M1558 3722h8M1723 3696h8M1733 3691h8M1665 3727h8M1704 3538h8M1631 3656h8M1723 3426h8M1559 3742h8M1699 3916h8M1595 3616h8M1659 3694h8M1796 3796h8M1631 3760h8M1617 3670h8M1712 3700h8M1645 3770h8M1695 3638h8M1682 3537h8M1749 3673h8M1731 3821h8M1641 3612h8M1701 3723h8M1688 3731h8M1731 3469h8M1653 3443h8M1680 3600h8M1740 3657h8M1696 3762h8M1741 3521h8M1653 3672h8M1816 3621h8M1688 3666h8M1753 3631h8M1720 3599h8M1662 3563h8M1745 3586h8M1738 3679h8M1767 3380h8M1634 3522h8M1689 3718h8M1873 3790h8M1793 3677h8M1674 3692h8M1551 3730h8M1701 3700h8M1630 3534h8M1656 3636h8M1724 3606h8M1724 3706h8M1621 3630h8" stroke="#000" stroke-width="8" stroke-opacity="0.25" fill="none"/>
<path transform="scale(.1)" d="M1559 3677h8M1655 3664h8M1693 3759h8M1655 3728h8M1654 3805h8M1624 3679h8M1599 3870h8M1613 3684h8M1592 3589h8M1600 3745h8M1601 3661h8M1636 3756h8M1603 3744h8M1582 3787h8M1581 3694h8M1625 3687h8M1575 3883h8M1679 3584h8M1625 3621h8M1632 3619h8M1643 3761h8M1687 3814h8M1602 3794h8M1602 3711h8M1600 3583h8M1644 3562h8M1611 3761h8M1624 3597h8M1595 3773h8M1663 3844h8M1549 3756h8M1601 3780h8M1554 3709h8M1648 3670h8M1606 3644h8M1664 3617h8M1584 3694h8M1608 3885h8M1631 3655h8M1643 3747h8M1631 3715h8M1638 3629h8M1573 3687h8M1577 3775h8M1696 3816h8M1637 3746h8M1593 3619h8M1641 3605h8M1632 3709h8M1649 3724h8M1624 3675h8M1553 3693h8M1647 3801h8M1674 3642h8M1583 3775h8M1602 3920h8M1632 3602h8M1598 3842h8M1549 3732h8M1566 3845h8M1603 3640h8M1553 3664h8M1520 3683h8M1705 3728h8M1610 3630h8M1633 3683h8M1587 3828h8M1637 3651h8M1678 3716h8M1640 3732h8M1666 3768h8M1606 3776h8M1605 3730h8M1684 3637h8M1580 3689h8M1600 3821h8M1558 3899h8M1682 3685h8M1627 3692h8M1646 3772h8M1649 3780h8M1696 3707h8M1647 3705h8M1622 3737h8M1618 3747h8M1587 3708h8M1596 3629h8M1592 3681h8M1614 3598h8M1610 3632h8M1588 3735h8M1663 3742h8M1601 3686h8M1672 3593h8M1665 3603h8M1595 3724h8M1611 3850h8M1639 3716h8M1657 3723h8M1588 3808h8M1679 3820h8M1574 3869h8M1604 3780h8M1667 3906h8M1557 3640h8M1666 3759h8M1608 3492h8M1637 3705h8M1518 3929h8M1522 3676h8M1620 3738h8M1650 3699h8M1585 3692h8M1538 3633h8M1697 3666h8M1617 3868h8M1661 3730h8M1649 3699h8M1585 3798h8M1625 3845h8M1610 3691h8M1634 3705h8M1608 3650h8M1630 3745h8M1692 3718h8M1551 3756h8M1710 3686h8M1589 3707h8M1508 3694h8M1613 3602h8M1643 3652h8M1548 3664h8M1645 3870h8M1669 3735h8M1600 3700h8M1658 3679h8M1636 3796h8M1584 3674h8M1638 3721h8M1615 3679h8M1618 3865h8M1673 3594h8M1622 3727h8M1621 3612h8M1615 3732h8M1593 3745h8M1524 3602h8M1624 3751h8M1613 3684h8M1627 3805h8" stroke="#000" stroke-width="8" stroke-opacity="0.3" fill="none"/>
<rect x="151.4" y="382.1" width="48.5" height="10.9" fill="none" stroke="#555" stroke-width="0.9"/>
<text x="152.1" y="339.4" font-size="8.6" textLength="24" lengthAdjust="spacingAndGlyphs">+ IFNα</text>
<text x="201.5" y="387.0" font-size="7.6" textLength="13.9" lengthAdjust="spacingAndGlyphs">71.2</text>
<line x1="194.7" y1="382.1" x2="238.53676793400336" y2="324.3024779468873" stroke="#111" stroke-width="1.2"/>
<path d="M241.8 320.0L239.7 327.8L238.2 324.7L234.8 324.1Z" fill="#111"/>
<text x="133.4" y="374.5" font-size="8.2" text-anchor="middle" textLength="37.7" lengthAdjust="spacingAndGlyphs" fill="#222" transform="rotate(-90 133.4 374.5)" stroke="#222" stroke-width="0.3">Dump (Lin+)</text>
<path d="M130.6 401.4V409.6H137.20000000000002" stroke="#000" stroke-width="1.4" fill="none"/>
<path d="M130.6 396l-2.8 7.2l2.8 -1.8l2.8 1.8z M142.6 409.6l-7.2 -2.8l1.8 2.8l-1.8 2.8z" fill="#000"/>
<text x="145.3" y="412.7" font-size="9.6" textLength="12.3" lengthAdjust="spacingAndGlyphs" fill="#222" stroke="#222" stroke-width="0.3">FSC</text>
<text x="417.8" y="237.9" font-size="9.6" text-anchor="middle" textLength="79.6" lengthAdjust="spacingAndGlyphs">Day2 post infection</text>
<text x="418.3" y="249.9" font-size="9.6" text-anchor="middle" textLength="30.2" lengthAdjust="spacingAndGlyphs">(in vivo)</text>
<line x1="380.40000000000003" y1="257.8" x2="382.6" y2="257.8" stroke="#111" stroke-width="0.9"/>
<text x="376.2" y="260.3" font-size="7.6" text-anchor="end" fill="#222">100</text>
<line x1="380.40000000000003" y1="271.2" x2="382.6" y2="271.2" stroke="#111" stroke-width="0.9"/>
<text x="376.2" y="273.7" font-size="7.6" text-anchor="end" fill="#222">80</text>
<line x1="380.40000000000003" y1="284.7" x2="382.6" y2="284.7" stroke="#111" stroke-width="0.9"/>
<text x="376.2" y="287.2" font-size="7.6" text-anchor="end" fill="#222">60</text>
<line x1="380.40000000000003" y1="298.1" x2="382.6" y2="298.1" stroke="#111" stroke-width="0.9"/>
<text x="376.2" y="300.6" font-size="7.6" text-anchor="end" fill="#222">40</text>
<line x1="380.40000000000003" y1="311.6" x2="382.6" y2="311.6" stroke="#111" stroke-width="0.9"/>
<text x="376.2" y="314.1" font-size="7.6" text-anchor="end" fill="#222">20</text>
<line x1="380.40000000000003" y1="325" x2="382.6" y2="325" stroke="#111" stroke-width="0.9"/>
<text x="376.2" y="327.5" font-size="7.6" text-anchor="end" fill="#222">0</text>
<path d="M381.4 259.5h1.2M381.4 261.1h1.2M381.4 262.8h1.2M381.4 264.5h1.2M381.4 266.2h1.2M381.4 267.9h1.2M381.4 269.5h1.2M381.4 272.9h1.2M381.4 274.6h1.2M381.4 276.3h1.2M381.4 277.9h1.2M381.4 279.6h1.2M381.4 281.3h1.2M381.4 283.0h1.2M381.4 286.4h1.2M381.4 288.1h1.2M381.4 289.7h1.2M381.4 291.4h1.2M381.4 293.1h1.2M381.4 294.8h1.2M381.4 296.4h1.2M381.4 299.8h1.2M381.4 301.5h1.2M381.4 303.2h1.2M381.4 304.9h1.2M381.4 306.5h1.2M381.4 308.2h1.2M381.4 309.9h1.2M381.4 313.3h1.2M381.4 315.0h1.2M381.4 316.6h1.2M381.4 318.3h1.2M381.4 320.0h1.2M381.4 321.6h1.2M381.4 323.3h1.2" stroke="#222" stroke-width="0.6"/>
<rect x="382.6" y="254.7" width="69.79999999999995" height="70.30000000000001" fill="none" stroke="#111" stroke-width="1.35"/>
<line x1="380.40000000000003" y1="335.2" x2="382.6" y2="335.2" stroke="#111" stroke-width="0.9"/>
<text x="376.2" y="337.7" font-size="7.6" text-anchor="end" fill="#222">100</text>
<line x1="380.40000000000003" y1="348.5" x2="382.6" y2="348.5" stroke="#111" stroke-width="0.9"/>
<text x="376.2" y="351.0" font-size="7.6" text-anchor="end" fill="#222">80</text>
<line x1="380.40000000000003" y1="361.8" x2="382.6" y2="361.8" stroke="#111" stroke-width="0.9"/>
<text x="376.2" y="364.3" font-size="7.6" text-anchor="end" fill="#222">60</text>
<line x1="380.40000000000003" y1="375.1" x2="382.6" y2="375.1" stroke="#111" stroke-width="0.9"/>
<text x="376.2" y="377.6" font-size="7.6" text-anchor="end" fill="#222">40</text>
<line x1="380.40000000000003" y1="388.4" x2="382.6" y2="388.4" stroke="#111" stroke-width="0.9"/>
<text x="376.2" y="390.9" font-size="7.6" text-anchor="end" fill="#222">20</text>
<line x1="380.40000000000003" y1="401.6" x2="382.6" y2="401.6" stroke="#111" stroke-width="0.9"/>
<text x="376.2" y="404.1" font-size="7.6" text-anchor="end" fill="#222">0</text>
<path d="M381.4 336.9h1.2M381.4 338.5h1.2M381.4 340.2h1.2M381.4 341.9h1.2M381.4 343.5h1.2M381.4 345.2h1.2M381.4 346.8h1.2M381.4 350.2h1.2M381.4 351.8h1.2M381.4 353.5h1.2M381.4 355.1h1.2M381.4 356.8h1.2M381.4 358.5h1.2M381.4 360.1h1.2M381.4 363.5h1.2M381.4 365.1h1.2M381.4 366.8h1.2M381.4 368.5h1.2M381.4 370.1h1.2M381.4 371.8h1.2M381.4 373.4h1.2M381.4 376.8h1.2M381.4 378.4h1.2M381.4 380.1h1.2M381.4 381.8h1.2M381.4 383.4h1.2M381.4 385.1h1.2M381.4 386.7h1.2M381.4 390.0h1.2M381.4 391.7h1.2M381.4 393.4h1.2M381.4 395.0h1.2M381.4 396.6h1.2M381.4 398.3h1.2M381.4 400.0h1.2" stroke="#222" stroke-width="0.6"/>
<rect x="382.6" y="331.8" width="70.0" height="70.0" fill="none" stroke="#111" stroke-width="1.35"/>
<text x="450.4" y="263.3" font-size="7.8" text-anchor="end" textLength="19.6" lengthAdjust="spacingAndGlyphs" fill="#222">HSCs</text>
<text x="450.6" y="341.0" font-size="7.8" text-anchor="end" textLength="21.8" lengthAdjust="spacingAndGlyphs" fill="#222">GMPs</text>
<path d="M389.0 325.0C389.2 321.2 390.0 309.5 390.5 302.0C391.0 294.5 391.4 286.0 391.8 280.0C392.2 274.0 392.6 267.3 393.1 266.0C393.6 264.7 394.1 267.2 394.6 272.0C395.1 276.8 395.5 287.3 396.0 295.0C396.5 302.7 397.1 313.0 397.5 318.0C397.9 323.0 398.3 323.8 398.5 325.0Z" fill="#eaa990" stroke="none"/>
<path d="M389.0 325.0C389.2 321.2 390.0 309.5 390.5 302.0C391.0 294.5 391.4 286.0 391.8 280.0C392.2 274.0 392.6 267.3 393.1 266.0C393.6 264.7 394.1 267.2 394.6 272.0C395.1 276.8 395.5 287.3 396.0 295.0C396.5 302.7 397.1 313.0 397.5 318.0C397.9 323.0 398.3 323.8 398.5 325.0" fill="none" stroke="#b8123c" stroke-width="1.3" stroke-linejoin="round"/>
<path d="M389.5 325.0C389.8 320.8 390.8 308.2 391.5 300.0C392.2 291.8 392.9 280.8 393.5 276.0C394.1 271.2 394.8 270.5 395.3 271.2C395.9 271.9 396.3 276.2 396.8 280.0C397.3 283.8 397.8 289.8 398.3 293.8C398.8 297.9 399.0 301.2 400.0 304.3C401.0 307.4 402.5 309.6 404.4 312.1C406.3 314.6 409.4 317.5 411.4 319.1C413.4 320.7 414.9 320.7 416.6 321.7C418.3 322.7 420.9 324.4 421.8 324.9" fill="none" stroke="#7cb84a" stroke-width="1.2" stroke-linejoin="round"/>
<path d="M390.0 325.0C390.3 319.5 391.3 301.5 392.0 292.0C392.7 282.5 393.4 272.7 394.0 268.0C394.6 263.3 395.1 262.2 395.7 263.9C396.3 265.6 396.8 272.0 397.4 278.1C398.0 284.2 398.6 295.0 399.2 300.8C399.8 306.6 400.0 310.7 400.9 313.0C401.8 315.3 402.9 313.8 404.4 314.8C405.8 315.8 407.9 318.0 409.6 319.1C411.4 320.2 413.2 320.8 414.9 321.7C416.6 322.6 419.1 323.9 420.0 324.3" fill="none" stroke="#4a1b58" stroke-width="1.2" stroke-linejoin="round"/>
<path d="M397.0 290.0C397.2 287.5 397.8 279.0 398.2 275.0C398.6 271.0 398.9 267.9 399.5 266.0C400.1 264.1 401.1 262.8 401.8 263.5C402.6 264.2 403.2 267.2 404.0 270.0C404.8 272.8 405.8 277.2 406.5 280.5C407.2 283.8 407.9 287.0 408.5 290.0C409.1 293.0 409.3 296.6 409.8 298.5C410.3 300.4 410.4 300.9 411.4 301.7C412.4 302.5 414.2 302.7 415.7 303.4C417.1 304.1 418.8 303.8 420.1 306.0C421.4 308.2 422.3 313.7 423.6 316.5C424.9 319.3 426.2 321.4 427.9 322.6C429.6 323.8 432.4 323.1 434.0 323.5C435.6 323.9 436.9 324.7 437.5 324.9" fill="none" stroke="#1f3a6e" stroke-width="1.5" stroke-linejoin="round" stroke-dasharray="3 1.8"/>
<path d="M390.5 401.5C390.7 399.6 391.5 396.6 391.9 390.0C392.3 383.4 392.5 368.9 392.8 362.0C393.1 355.1 393.2 349.0 393.6 348.3C394.0 347.6 394.5 353.4 395.0 358.0C395.5 362.6 396.2 370.3 396.6 376.0C397.0 381.7 397.0 387.8 397.4 392.0C397.8 396.2 398.6 399.7 398.8 401.2Z" fill="#eaa990" stroke="none"/>
<path d="M390.5 401.5C390.7 399.6 391.5 396.6 391.9 390.0C392.3 383.4 392.5 368.9 392.8 362.0C393.1 355.1 393.2 349.0 393.6 348.3C394.0 347.6 394.5 353.4 395.0 358.0C395.5 362.6 396.2 370.3 396.6 376.0C397.0 381.7 397.0 387.8 397.4 392.0C397.8 396.2 398.6 399.7 398.8 401.2" fill="none" stroke="#b8123c" stroke-width="1.3" stroke-linejoin="round"/>
<path d="M390.5 401.5C390.8 398.8 391.8 392.4 392.5 385.0C393.2 377.6 393.8 362.8 394.5 357.0C395.2 351.2 395.8 349.6 396.6 350.0C397.4 350.4 398.3 355.7 399.2 359.6C400.1 363.5 400.9 368.7 401.8 373.6C402.7 378.6 403.5 386.2 404.4 389.3C405.3 392.4 406.0 391.8 407.0 391.9C408.0 392.0 409.3 390.1 410.5 390.1C411.7 390.1 412.8 391.9 414.0 391.9C415.2 391.9 416.3 389.7 417.5 390.1C418.7 390.5 419.7 393.3 421.0 394.5C422.3 395.7 423.7 396.2 425.3 397.1C426.9 398.0 429.1 399.1 430.5 399.7C431.9 400.3 433.4 400.8 434.0 401.0" fill="none" stroke="#7cb84a" stroke-width="1.2" stroke-linejoin="round"/>
<path d="M391.0 401.5C391.3 397.9 392.2 388.6 392.8 380.0C393.4 371.4 393.9 352.8 394.8 350.0C395.7 347.2 397.3 357.7 398.3 363.1C399.3 368.5 399.9 376.9 400.9 382.3C401.9 387.7 402.9 392.9 404.4 395.4C405.8 397.9 407.6 396.8 409.6 397.1C411.6 397.4 414.6 397.2 416.6 397.1C418.6 397.0 420.1 395.8 421.8 396.2C423.6 396.6 425.7 398.9 427.1 399.7C428.5 400.5 429.5 400.8 430.0 401.0" fill="none" stroke="#4a1b58" stroke-width="1.2" stroke-linejoin="round"/>
<path d="M400.0 401.0C401.7 400.9 407.0 400.9 410.0 400.6C413.0 400.4 416.0 400.1 418.0 399.5C420.0 398.9 420.3 399.4 421.8 397.1C423.3 394.8 425.5 390.3 427.1 385.8C428.7 381.3 430.4 373.6 431.4 370.1C432.4 366.6 432.5 365.6 433.2 364.9C433.9 364.2 434.7 362.8 435.4 365.7C436.1 368.6 436.7 376.8 437.5 382.3C438.3 387.8 439.2 395.8 440.1 398.9C441.0 401.9 441.7 400.2 442.7 400.6C443.7 401.0 445.4 400.9 446.0 401.0" fill="none" stroke="#1f3a6e" stroke-width="1.5" stroke-linejoin="round" stroke-dasharray="3 1.8"/>
<text x="391.1" y="415.8" font-size="7.6" text-anchor="middle" fill="#222">0</text>
<text x="413.4" y="415.8" font-size="7.6" text-anchor="middle" fill="#222">10<tspan dy="-2.8" font-size="4.6">3</tspan></text>
<text x="429.4" y="415.8" font-size="7.6" text-anchor="middle" fill="#222">10<tspan dy="-2.8" font-size="4.6">4</tspan></text>
<text x="446.6" y="415.8" font-size="7.6" text-anchor="middle" fill="#222">10<tspan dy="-2.8" font-size="4.6">5</tspan></text>
<path d="M382.6 325v1.6M385.5 325v1.6M388.4 325v1.6M391.2 325v1.6M394.1 325v1.6M397.0 325v1.6M399.9 325v1.6M402.8 325v1.6M405.7 325v1.6M408.6 325v1.6M411.4 325v1.6M414.3 325v1.6M417.2 325v1.6M420.1 325v1.6M423.0 325v1.6M425.9 325v1.6M428.7 325v1.6M431.6 325v1.6M434.5 325v1.6M437.4 325v1.6M440.3 325v1.6M443.2 325v1.6M446.0 325v1.6M448.9 325v1.6M451.8 325v1.6" stroke="#222" stroke-width="0.6"/>
<path d="M382.6 401.6v1.6M385.5 401.6v1.6M388.4 401.6v1.6M391.2 401.6v1.6M394.1 401.6v1.6M397.0 401.6v1.6M399.9 401.6v1.6M402.8 401.6v1.6M405.7 401.6v1.6M408.6 401.6v1.6M411.4 401.6v1.6M414.3 401.6v1.6M417.2 401.6v1.6M420.1 401.6v1.6M423.0 401.6v1.6M425.9 401.6v1.6M428.7 401.6v1.6M431.6 401.6v1.6M434.5 401.6v1.6M437.4 401.6v1.6M440.3 401.6v1.6M443.2 401.6v1.6M446.0 401.6v1.6M448.9 401.6v1.6M451.8 401.6v1.6" stroke="#222" stroke-width="0.6"/>
<line x1="389.2" y1="423.2" x2="430.70000000000005" y2="423.2" stroke="#111" stroke-width="1.2"/>
<path d="M435.1 423.2L428.6 426.0L430.2 423.2L428.6 420.4Z" fill="#111"/>
<text x="437.8" y="426.6" font-size="10.4" textLength="14.1" lengthAdjust="spacingAndGlyphs" fill="#222">IRF8</text>
<line x1="456.4" y1="258.5" x2="466" y2="258.5" stroke="#4a1b58" stroke-width="1.5"/>
<text x="468.8" y="261.0" font-size="7.5" fill="#333">Naive</text>
<line x1="456.4" y1="270.6" x2="466" y2="270.6" stroke="#7cb84a" stroke-width="1.5"/>
<text x="468.8" y="273.1" font-size="7.5" fill="#333">(-) Δm157</text>
<line x1="456.4" y1="281.9" x2="466" y2="281.9" stroke="#1f3a6e" stroke-width="1.5" stroke-dasharray="3.8 2.4"/>
<text x="468.8" y="284.4" font-size="7.5" fill="#333">(+) Δm157</text>
<line x1="456.4" y1="294.3" x2="466" y2="294.3" stroke="#b8123c" stroke-width="1.5"/>
<text x="468.8" y="296.8" font-size="7.5" fill="#333">Isotype</text>
</g>
<path d="M0 0H520V436H0Z M1 1V434.4H518.2V1Z" fill="#000" fill-rule="evenodd"/>
</svg>
</body></html>
